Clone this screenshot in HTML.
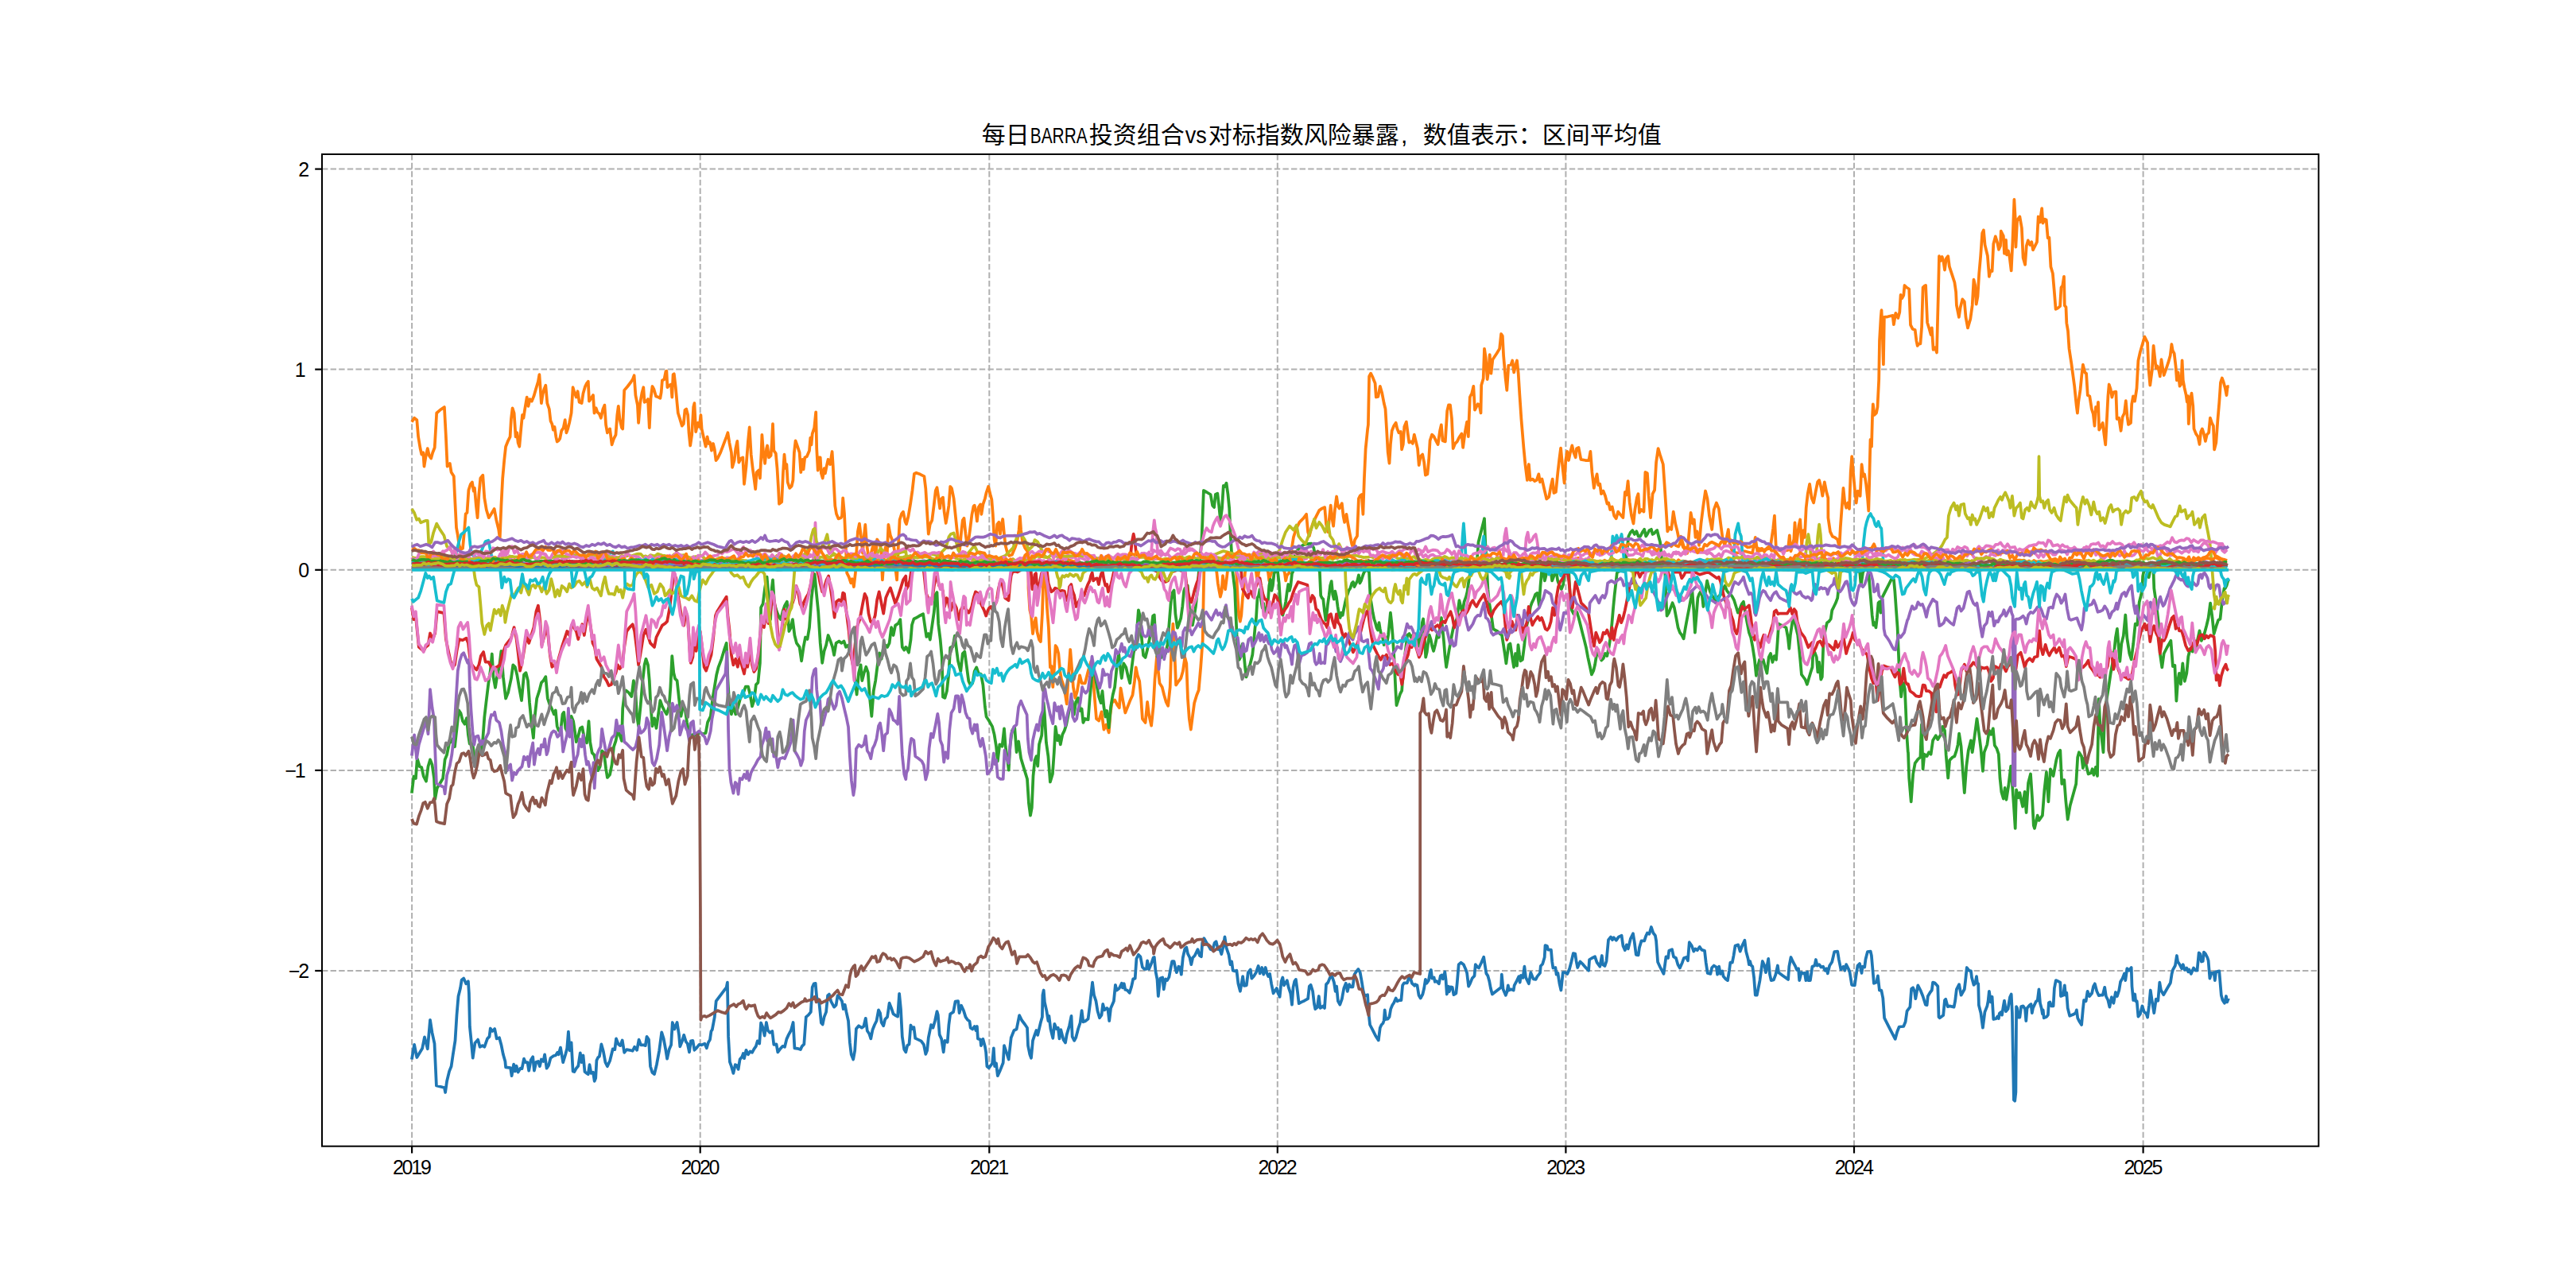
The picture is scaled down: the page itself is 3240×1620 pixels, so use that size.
<!DOCTYPE html>
<html><head><meta charset="utf-8"><title>BARRA</title>
<style>
html,body{margin:0;padding:0;background:#fff;}
body{width:3240px;height:1620px;overflow:hidden;}
svg{display:block}
text{font-family:"Liberation Sans","Noto Sans CJK SC",sans-serif;fill:#000}
.tk{font-size:25px;letter-spacing:-2.2px}
.g line{stroke:#b0b0b0;stroke-width:2;stroke-dasharray:7.4 3.2}
.t line{stroke:#000;stroke-width:2.2}
.L polyline{fill:none;stroke-width:3.75;stroke-linejoin:round;stroke-linecap:butt}
</style></head><body>
<svg width="3240" height="1620" viewBox="0 0 3240 1620">
<rect width="3240" height="1620" fill="#fff"/>
<g class="g"><line x1="518.1" y1="1441.7" x2="518.1" y2="194.0"/><line x1="880.7" y1="1441.7" x2="880.7" y2="194.0"/><line x1="1244.3" y1="1441.7" x2="1244.3" y2="194.0"/><line x1="1606.8" y1="1441.7" x2="1606.8" y2="194.0"/><line x1="1969.4" y1="1441.7" x2="1969.4" y2="194.0"/><line x1="2332.0" y1="1441.7" x2="2332.0" y2="194.0"/><line x1="2695.6" y1="1441.7" x2="2695.6" y2="194.0"/><line x1="405.0" y1="212.6" x2="2916.3" y2="212.6"/><line x1="405.0" y1="464.6" x2="2916.3" y2="464.6"/><line x1="405.0" y1="716.8" x2="2916.3" y2="716.8"/><line x1="405.0" y1="968.9" x2="2916.3" y2="968.9"/><line x1="405.0" y1="1221.0" x2="2916.3" y2="1221.0"/></g>
<clipPath id="c"><rect x="405.0" y="194.0" width="2511.3" height="1247.7"/></clipPath>
<g class="L" clip-path="url(#c)">
<polyline points="517.9,1332.5 521.1,1313.9 524.3,1330.0 527.3,1325.0 531.1,1318.8 534.0,1304.4 537.8,1319.3 541.0,1282.8 543.5,1298.9 546.5,1312.6 548.9,1365.5 558.9,1368.0 560.1,1374.0 562.1,1359.8 565.1,1347.4 567.6,1341.2 569.6,1327.5 572.5,1308.9 574.5,1276.6 576.5,1253.0 579.0,1243.0 580.7,1232.4 583.2,1230.6 586.2,1237.3 588.9,1234.3 589.9,1249.3 590.9,1291.5 592.9,1311.4 594.7,1330.7 597.4,1311.9 601.1,1307.6 603.6,1316.8 606.8,1315.1 609.3,1316.8 613.0,1306.4 615.5,1303.9 616.8,1293.5 619.3,1297.0 622.2,1294.0 624.7,1306.4 628.0,1305.2 630.4,1313.9 632.9,1326.3 635.4,1335.0 636.1,1342.4 642.1,1343.2 643.6,1353.1 646.1,1338.7 647.8,1347.4 649.6,1340.7 651.6,1348.6 654.5,1343.7 656.5,1344.2 659.0,1331.7 661.0,1336.2 663.5,1336.2 665.2,1346.6 667.7,1333.2 670.2,1329.3 671.9,1346.6 674.4,1335.7 676.9,1335.0 678.9,1341.2 680.9,1332.5 683.4,1335.0 685.1,1326.3 687.6,1343.7 690.1,1339.9 692.5,1330.7 696.3,1328.0 698.8,1327.5 701.2,1323.8 702.5,1326.3 705.0,1317.6 708.2,1336.2 711.2,1326.3 713.2,1318.8 714.9,1297.7 716.6,1321.3 718.6,1311.4 720.6,1347.4 722.4,1348.1 724.8,1343.7 727.3,1340.7 729.8,1324.3 731.6,1336.2 733.5,1327.5 735.5,1348.1 738.0,1349.9 739.8,1351.1 741.5,1339.2 743.5,1349.9 746.0,1348.6 747.7,1359.8 749.2,1356.1 750.4,1333.7 752.2,1330.0 753.9,1328.8 756.4,1313.4 758.9,1322.5 761.4,1336.2 763.9,1341.2 767.1,1334.2 770.8,1319.3 773.3,1320.1 775.0,1306.4 777.8,1313.4 780.2,1315.1 782.7,1308.4 785.2,1323.8 788.2,1320.1 791.9,1320.8 795.7,1321.8 798.1,1316.8 801.1,1320.8 803.6,1307.6 806.1,1314.3 809.3,1314.3 811.8,1315.1 813.5,1303.9 816.0,1307.6 818.0,1341.2 820.5,1349.1 823.0,1351.1 826.0,1338.7 829.2,1321.3 832.2,1298.4 834.7,1306.4 837.1,1319.3 839.1,1331.7 841.6,1320.1 844.1,1314.3 845.8,1286.0 848.3,1294.5 851.6,1286.0 854.0,1301.4 855.3,1316.3 857.8,1310.1 860.2,1301.9 862.7,1310.1 864.7,1312.6 867.0,1323.3 868.9,1309.4 871.4,1308.9 873.4,1320.8 876.4,1317.6 879.4,1313.9 882.6,1314.3 886.3,1312.6 888.8,1318.3 890.8,1311.4 893.0,1307.6 894.5,1297.0 895.8,1295.2 898.8,1279.1 900.7,1259.2 913.7,1241.8 914.9,1235.6 916.1,1303.9 917.9,1335.7 919.9,1341.2 922.4,1349.9 924.8,1339.2 926.8,1339.9 928.6,1344.9 930.6,1332.5 933.5,1328.8 934.8,1325.0 936.0,1331.2 938.5,1320.8 941.0,1326.3 943.5,1322.5 946.0,1323.8 948.4,1319.3 950.9,1315.8 952.7,1309.4 955.2,1312.6 957.1,1286.5 959.1,1291.5 961.6,1302.7 963.9,1286.0 965.8,1296.0 968.3,1298.9 971.3,1297.0 973.3,1313.9 976.5,1313.4 978.3,1323.3 980.7,1320.1 984.5,1315.8 987.0,1316.8 989.4,1306.9 991.9,1301.4 994.9,1296.0 997.6,1286.0 999.4,1318.3 1003.1,1318.8 1006.8,1320.1 1008.8,1315.8 1011.3,1313.4 1013.8,1279.1 1016.8,1276.6 1019.8,1272.9 1021.7,1241.8 1023.7,1237.3 1025.7,1236.8 1027.2,1254.2 1030.4,1261.7 1032.9,1286.5 1034.7,1288.5 1036.6,1279.1 1039.1,1272.9 1041.1,1252.2 1042.9,1250.5 1045.3,1259.7 1049.1,1266.6 1051.6,1264.2 1053.5,1252.2 1056.5,1255.5 1059.0,1259.2 1060.7,1269.1 1062.7,1263.7 1064.5,1272.9 1067.0,1284.0 1068.9,1311.4 1070.7,1326.3 1073.2,1332.5 1075.2,1321.3 1076.9,1294.0 1080.1,1290.2 1083.9,1292.7 1086.3,1291.0 1088.8,1280.8 1090.8,1296.5 1093.3,1300.2 1095.3,1306.4 1097.5,1295.2 1100.0,1289.0 1102.5,1284.0 1105.0,1270.4 1107.0,1274.1 1108.7,1286.0 1111.2,1290.2 1113.2,1282.0 1116.1,1279.1 1118.6,1261.7 1121.1,1267.9 1123.6,1275.3 1126.1,1277.1 1129.1,1278.6 1131.1,1249.8 1133.0,1269.1 1134.8,1303.9 1137.3,1320.1 1139.3,1323.3 1141.2,1315.1 1143.5,1313.4 1145.5,1289.5 1147.5,1294.0 1149.4,1292.0 1151.2,1305.9 1154.9,1307.6 1158.6,1309.4 1161.9,1313.9 1164.3,1325.8 1166.1,1321.3 1167.8,1305.2 1171.1,1289.0 1173.5,1292.7 1176.0,1284.0 1178.5,1272.1 1179.8,1276.6 1181.7,1301.4 1184.2,1306.9 1186.7,1323.3 1188.4,1308.9 1191.7,1310.9 1193.4,1289.0 1195.2,1275.3 1199.1,1272.9 1201.6,1259.7 1205.1,1259.2 1206.6,1274.1 1209.1,1264.7 1212.0,1271.1 1214.5,1279.1 1217.0,1282.8 1219.5,1284.5 1220.7,1292.7 1223.2,1294.5 1225.7,1291.0 1227.5,1296.0 1228.9,1291.0 1229.9,1306.4 1233.2,1307.6 1233.9,1315.1 1236.4,1306.9 1238.9,1316.3 1240.1,1323.3 1241.4,1341.2 1243.9,1343.2 1248.1,1337.5 1249.8,1318.3 1251.1,1341.2 1253.0,1337.5 1254.8,1353.1 1258.0,1346.1 1261.7,1336.7 1263.0,1315.1 1265.5,1322.5 1268.7,1332.5 1271.7,1305.2 1275.4,1296.0 1278.6,1294.5 1282.1,1277.1 1285.3,1283.5 1289.1,1288.5 1292.0,1292.7 1293.0,1315.1 1295.3,1326.3 1297.0,1330.7 1299.0,1308.9 1301.5,1301.4 1303.5,1296.0 1305.2,1301.9 1308.9,1286.0 1310.9,1279.1 1311.4,1251.7 1312.7,1245.5 1313.9,1260.4 1316.4,1271.6 1318.4,1284.0 1319.4,1277.8 1321.4,1294.0 1324.3,1305.9 1326.3,1287.8 1328.8,1294.0 1330.8,1292.7 1332.5,1306.4 1334.3,1295.2 1337.5,1307.6 1340.0,1311.4 1341.7,1301.4 1345.0,1290.2 1347.5,1277.8 1348.7,1303.9 1351.2,1308.9 1353.2,1305.2 1356.1,1294.0 1358.6,1286.5 1360.6,1271.1 1362.4,1285.3 1364.8,1284.5 1368.6,1281.6 1371.1,1261.7 1374.0,1235.6 1376.0,1251.7 1378.5,1259.2 1380.5,1271.6 1383.0,1280.3 1385.5,1276.6 1387.2,1262.9 1389.2,1270.4 1392.2,1267.9 1393.4,1269.1 1395.2,1284.0 1397.1,1267.9 1400.9,1259.2 1402.9,1238.8 1404.6,1245.5 1407.8,1243.0 1410.8,1236.8 1412.0,1242.3 1413.8,1237.3 1415.3,1244.8 1417.8,1245.5 1420.7,1248.8 1423.2,1240.6 1425.2,1231.4 1427.7,1230.6 1429.4,1205.8 1431.9,1200.8 1434.4,1203.3 1436.9,1216.5 1439.4,1218.9 1441.9,1218.9 1443.1,1208.3 1445.1,1218.9 1448.1,1212.0 1450.6,1204.5 1451.8,1204.0 1453.5,1221.9 1455.5,1231.9 1456.8,1253.0 1459.3,1230.6 1462.2,1229.4 1463.7,1244.3 1466.0,1231.4 1468.0,1233.1 1470.4,1228.9 1472.4,1218.2 1474.2,1209.0 1476.6,1209.0 1478.4,1218.2 1479.9,1223.2 1482.4,1215.7 1484.1,1216.5 1485.8,1225.7 1487.8,1204.5 1490.3,1193.4 1492.3,1191.6 1494.0,1199.6 1496.5,1204.5 1498.3,1213.2 1500.2,1204.5 1502.7,1202.0 1506.5,1194.1 1508.9,1202.0 1510.9,1203.3 1512.2,1185.9 1514.4,1180.2 1517.6,1185.9 1520.1,1189.6 1522.6,1194.1 1525.1,1195.1 1527.6,1185.9 1529.6,1184.2 1532.0,1194.1 1533.8,1192.6 1536.3,1200.1 1538.8,1189.6 1540.5,1178.4 1542.5,1192.1 1545.5,1200.8 1547.5,1213.2 1549.2,1209.5 1550.7,1220.7 1553.2,1221.4 1555.4,1220.7 1557.4,1237.3 1559.9,1246.8 1563.1,1228.1 1564.8,1239.8 1567.8,1239.3 1569.8,1223.2 1572.8,1219.4 1574.3,1230.6 1577.3,1227.4 1579.8,1223.2 1582.7,1215.0 1584.7,1224.4 1587.2,1217.0 1589.2,1225.7 1591.7,1217.0 1593.4,1223.9 1595.2,1228.1 1597.1,1224.9 1599.1,1237.3 1601.6,1249.3 1604.1,1245.5 1605.8,1243.0 1607.1,1248.0 1609.6,1253.7 1611.6,1234.3 1613.3,1229.4 1615.0,1239.3 1617.0,1236.3 1618.8,1233.1 1620.7,1241.8 1623.2,1249.3 1625.0,1263.7 1626.5,1241.8 1628.2,1234.3 1629.9,1231.9 1631.9,1246.8 1633.7,1262.2 1636.9,1260.4 1640.6,1258.7 1645.1,1256.2 1646.8,1240.6 1648.6,1238.8 1651.1,1246.8 1653.0,1262.9 1654.3,1269.1 1656.8,1267.1 1658.8,1253.0 1660.5,1267.9 1664.2,1265.4 1666.0,1267.9 1668.0,1238.1 1670.4,1235.6 1672.9,1229.4 1675.4,1228.1 1677.9,1235.6 1679.6,1246.8 1681.1,1240.6 1682.9,1259.2 1685.3,1263.7 1687.8,1256.7 1690.3,1243.0 1692.8,1236.8 1694.8,1246.8 1697.0,1238.1 1699.0,1241.3 1701.5,1241.3 1703.5,1225.7 1706.0,1221.9 1708.4,1218.9 1710.7,1223.2 1712.7,1234.3 1714.7,1246.8 1716.4,1253.0 1718.1,1251.7 1720.1,1251.2 1721.4,1274.1 1723.1,1289.0 1726.3,1295.2 1730.1,1302.7 1733.8,1308.4 1735.8,1292.7 1737.5,1289.0 1739.5,1287.0 1740.7,1283.5 1741.7,1270.4 1743.2,1282.0 1745.5,1281.6 1747.5,1279.1 1749.2,1269.1 1751.2,1264.2 1753.2,1261.2 1755.7,1255.5 1757.4,1259.2 1760.4,1258.0 1762.4,1258.0 1764.1,1239.3 1766.1,1236.3 1769.8,1236.3 1772.3,1228.9 1774.0,1230.6 1776.0,1236.8 1779.3,1239.8 1780.0,1238.1 1782.5,1239.3 1784.5,1251.7 1786.7,1255.5 1789.4,1250.5 1791.2,1243.0 1792.9,1231.9 1794.4,1236.8 1796.9,1233.1 1798.6,1223.2 1799.9,1219.9 1801.1,1230.6 1803.6,1229.4 1804.8,1234.8 1806.8,1233.9 1809.8,1237.3 1811.8,1227.4 1813.5,1226.4 1814.8,1231.4 1817.3,1222.4 1818.5,1231.9 1819.8,1250.5 1821.7,1240.6 1822.7,1247.3 1824.7,1241.3 1826.7,1241.8 1828.4,1251.2 1831.4,1249.3 1832.7,1236.8 1834.7,1213.2 1837.6,1210.7 1840.9,1213.2 1843.4,1218.9 1845.1,1223.9 1847.1,1240.6 1849.1,1236.8 1851.6,1230.6 1854.5,1227.4 1855.8,1213.2 1858.3,1216.5 1860.0,1217.5 1863.2,1210.7 1866.2,1203.8 1868.2,1217.0 1869.4,1224.4 1871.4,1227.4 1873.2,1233.9 1874.9,1243.0 1876.9,1250.5 1888.1,1241.8 1888.8,1225.7 1890.6,1244.3 1893.8,1251.7 1895.5,1247.3 1896.8,1239.3 1898.0,1245.5 1900.5,1244.3 1903.7,1245.5 1904.7,1239.3 1908.0,1233.1 1910.4,1228.1 1911.7,1235.6 1912.9,1226.9 1915.4,1229.9 1917.4,1215.7 1919.1,1229.4 1922.9,1237.3 1925.3,1223.2 1928.6,1231.4 1931.6,1231.9 1933.5,1228.1 1937.0,1223.9 1937.8,1215.0 1940.2,1212.5 1942.7,1204.0 1943.5,1189.1 1946.0,1190.1 1947.0,1194.6 1950.9,1194.6 1952.2,1209.5 1953.4,1217.5 1956.4,1217.0 1957.6,1225.7 1959.4,1223.9 1961.4,1236.8 1963.4,1245.5 1965.8,1223.2 1968.8,1223.2 1971.3,1224.9 1973.8,1219.4 1976.3,1210.0 1978.8,1199.1 1981.2,1199.6 1982.5,1208.3 1984.2,1217.0 1987.5,1209.5 1991.2,1213.2 1994.9,1217.5 1998.1,1220.7 1999.1,1207.0 2002.4,1205.0 2006.1,1203.3 2008.6,1210.7 2012.3,1215.7 2014.8,1202.0 2016.0,1213.2 2018.5,1215.0 2020.5,1209.0 2023.0,1182.2 2026.0,1178.4 2028.0,1182.2 2029.7,1179.2 2032.9,1182.7 2035.9,1178.4 2039.6,1176.7 2041.4,1189.6 2043.9,1195.1 2045.8,1188.4 2047.8,1193.4 2050.8,1180.9 2054.0,1174.2 2055.8,1185.2 2057.8,1200.8 2060.7,1201.3 2062.0,1191.6 2064.5,1183.4 2068.2,1183.4 2070.2,1177.2 2071.9,1173.5 2074.4,1174.7 2076.9,1166.0 2079.4,1173.5 2081.9,1176.7 2083.1,1183.4 2085.1,1210.0 2088.1,1216.5 2092.5,1224.9 2095.5,1203.3 2098.0,1205.0 2099.3,1195.8 2103.0,1194.1 2105.0,1203.3 2108.0,1205.0 2110.4,1213.2 2112.9,1217.5 2115.9,1210.7 2117.9,1205.0 2120.9,1204.0 2122.9,1208.3 2124.8,1185.2 2127.8,1189.6 2130.3,1196.6 2132.3,1193.4 2134.8,1195.1 2137.8,1190.9 2140.2,1194.6 2144.0,1195.8 2145.7,1210.7 2147.7,1223.9 2151.4,1224.9 2153.2,1217.0 2155.7,1214.5 2158.9,1216.5 2160.1,1225.7 2162.1,1215.7 2163.9,1224.9 2166.3,1221.4 2167.6,1228.1 2170.6,1231.4 2173.0,1233.1 2175.0,1220.7 2176.3,1210.7 2178.8,1210.7 2180.5,1202.0 2182.5,1189.6 2186.2,1188.4 2188.7,1196.6 2191.2,1189.6 2194.4,1182.7 2196.1,1196.6 2198.6,1205.8 2199.9,1213.2 2201.1,1209.0 2202.4,1214.0 2204.3,1215.7 2206.1,1229.4 2207.8,1251.7 2209.8,1251.7 2213.5,1233.1 2216.8,1209.0 2219.3,1214.5 2221.0,1223.2 2224.2,1205.8 2226.0,1225.7 2227.7,1233.1 2230.9,1232.4 2233.4,1225.7 2235.9,1214.5 2237.1,1223.2 2242.1,1226.9 2249.1,1231.9 2250.3,1215.7 2252.5,1204.0 2255.0,1209.5 2258.3,1215.7 2260.0,1219.9 2262.0,1218.2 2263.2,1233.1 2265.7,1223.2 2268.2,1224.4 2269.9,1223.9 2271.4,1233.1 2273.2,1222.4 2274.4,1233.1 2276.9,1233.1 2279.4,1215.7 2282.4,1214.5 2283.9,1207.0 2285.6,1214.5 2288.1,1213.2 2290.6,1216.5 2293.0,1215.7 2295.5,1220.7 2297.5,1218.2 2298.8,1224.4 2301.2,1214.5 2304.2,1210.0 2307.2,1197.1 2311.2,1196.6 2312.9,1207.0 2315.4,1219.4 2318.6,1215.7 2320.4,1220.7 2322.1,1213.2 2325.3,1219.4 2326.6,1223.2 2329.1,1238.8 2332.8,1239.3 2334.5,1226.9 2336.5,1214.5 2339.0,1212.0 2341.5,1223.9 2342.7,1215.7 2345.2,1216.5 2346.5,1206.5 2348.9,1197.1 2352.7,1196.6 2353.9,1202.0 2356.9,1236.8 2360.1,1235.6 2361.9,1227.4 2363.9,1245.5 2366.3,1245.5 2368.3,1255.5 2370.1,1280.3 2376.3,1292.7 2383.7,1306.9 2386.2,1297.7 2388.7,1291.5 2394.2,1291.0 2396.6,1285.3 2398.6,1271.6 2402.4,1266.6 2404.1,1243.8 2406.1,1242.3 2408.1,1247.3 2409.3,1256.2 2412.3,1239.3 2415.5,1245.5 2418.5,1253.0 2421.9,1263.7 2423.6,1264.2 2424.8,1253.0 2427.8,1248.0 2429.8,1245.5 2431.1,1235.6 2433.5,1236.3 2437.3,1240.6 2438.5,1279.1 2439.8,1280.3 2444.2,1277.1 2446.0,1258.0 2447.2,1256.7 2449.7,1266.1 2452.2,1265.4 2457.6,1266.6 2459.1,1259.2 2460.9,1244.3 2464.1,1238.1 2466.6,1251.7 2470.8,1244.3 2472.0,1234.3 2473.8,1217.0 2476.5,1220.7 2479.0,1221.4 2480.0,1229.4 2482.5,1238.8 2484.5,1236.8 2486.0,1228.1 2487.0,1236.8 2488.2,1237.3 2488.9,1264.2 2491.4,1274.1 2493.9,1292.7 2496.4,1272.9 2499.4,1265.4 2500.6,1259.2 2501.9,1246.8 2503.9,1260.4 2505.6,1253.7 2507.3,1282.0 2510.6,1281.1 2512.3,1278.6 2513.8,1281.1 2514.8,1274.6 2516.8,1272.9 2518.0,1276.6 2519.8,1265.4 2521.0,1258.7 2523.0,1272.1 2525.5,1269.1 2528.0,1254.2 2529.7,1250.5 2530.9,1274.1 2532.9,1383.4 2534.2,1384.7 2535.4,1373.5 2536.1,1266.1 2537.1,1267.9 2538.6,1279.6 2540.4,1279.6 2542.1,1266.1 2544.6,1265.4 2547.1,1269.1 2548.3,1284.0 2549.6,1267.9 2552.8,1264.2 2554.5,1262.9 2555.8,1274.1 2557.0,1267.9 2561.0,1259.2 2562.7,1258.7 2564.5,1244.3 2566.0,1261.7 2567.7,1267.9 2568.9,1275.3 2569.7,1270.4 2570.7,1280.3 2573.9,1279.1 2575.9,1276.6 2576.9,1261.2 2578.4,1260.4 2580.1,1265.4 2582.6,1265.4 2583.9,1243.0 2585.8,1233.1 2588.8,1234.3 2591.3,1235.6 2592.0,1253.0 2595.0,1251.7 2596.8,1239.3 2598.0,1251.7 2599.3,1248.8 2600.7,1267.9 2603.2,1277.8 2607.5,1276.1 2610.7,1274.1 2611.9,1270.4 2613.2,1280.3 2615.7,1285.3 2618.1,1289.0 2619.9,1269.1 2621.1,1258.0 2623.6,1259.2 2625.6,1246.8 2628.1,1253.0 2631.1,1249.3 2633.0,1240.6 2634.8,1237.3 2637.3,1246.8 2639.8,1252.2 2642.2,1251.7 2644.7,1251.7 2647.2,1241.8 2648.9,1253.0 2651.4,1258.0 2653.4,1266.6 2655.9,1254.2 2658.4,1261.7 2660.9,1248.0 2662.9,1253.0 2665.3,1245.5 2667.1,1234.8 2669.6,1230.6 2672.0,1224.4 2673.3,1233.1 2675.3,1218.2 2677.8,1220.7 2680.7,1217.0 2681.5,1240.6 2683.2,1258.0 2685.2,1250.5 2686.2,1259.2 2687.7,1259.2 2689.4,1278.6 2691.9,1275.3 2694.4,1265.4 2696.9,1272.9 2699.4,1274.6 2701.1,1279.6 2703.1,1264.2 2704.8,1245.5 2706.8,1259.2 2709.3,1274.1 2711.8,1256.7 2714.3,1258.7 2716.3,1235.6 2718.0,1245.5 2721.2,1251.2 2725.5,1243.8 2729.9,1236.3 2731.7,1224.4 2732.9,1219.9 2735.9,1214.5 2737.9,1202.0 2739.1,1209.5 2741.6,1213.2 2744.1,1218.2 2745.8,1213.2 2747.8,1219.9 2750.3,1217.5 2752.3,1222.4 2753.5,1219.4 2755.8,1224.9 2759.0,1217.5 2761.5,1220.7 2763.5,1220.7 2765.7,1198.3 2767.2,1199.6 2768.9,1209.5 2770.7,1209.0 2771.9,1197.6 2773.9,1199.6 2776.4,1204.5 2777.6,1208.3 2779.4,1230.6 2781.4,1223.9 2783.1,1224.4 2784.6,1223.2 2785.8,1233.1 2787.1,1222.4 2791.3,1221.4 2793.8,1251.7 2795.5,1258.0 2798.0,1261.7 2800.0,1253.0 2801.2,1260.4 2803.0,1255.5" stroke="#1f77b4"/>
<polyline points="517.9,530.7 521.1,525.7 524.3,528.2 526.1,549.3 528.6,564.2 530.3,571.7 532.3,569.2 533.5,586.6 535.3,575.4 537.8,564.2 539.8,572.9 542.2,576.6 544.2,569.2 546.7,563.0 549.2,519.5 553.4,515.8 558.9,512.0 560.9,549.3 562.6,586.6 565.8,582.9 567.6,594.0 570.8,599.0 572.5,633.8 574.0,663.6 575.8,673.5 577.5,686.0 579.5,690.9 582.0,689.7 584.0,668.6 585.7,646.2 587.5,645.0 589.4,616.4 591.9,608.9 593.9,606.5 595.7,617.6 596.9,613.9 598.9,636.3 600.6,651.2 602.4,621.4 604.3,601.5 607.3,597.8 609.3,626.3 611.8,641.2 614.8,651.2 618.0,646.2 621.7,640.0 624.2,653.7 627.2,666.1 628.7,677.3 630.4,636.3 632.2,601.5 634.2,579.1 636.1,561.7 639.1,554.3 641.6,549.3 642.9,527.0 644.6,513.3 646.6,519.5 648.6,549.3 650.3,544.3 651.6,556.8 653.3,561.7 655.3,539.4 657.0,522.0 658.5,525.7 660.2,514.5 662.7,499.6 664.5,510.8 666.5,502.1 668.9,504.6 671.4,498.4 673.9,489.7 676.9,479.8 678.4,471.1 679.4,484.7 680.9,507.1 682.6,495.9 684.3,489.7 686.3,484.7 688.3,507.1 690.8,514.5 692.5,529.4 694.3,533.2 695.8,540.6 697.5,536.9 699.3,549.3 700.7,555.5 702.5,554.3 704.2,551.8 706.2,541.9 708.7,538.1 710.7,528.2 712.4,544.3 714.2,539.4 716.1,531.9 718.6,519.5 720.6,487.2 722.4,493.4 724.8,499.6 726.6,492.2 728.6,505.8 731.6,507.1 733.5,494.7 736.0,486.0 738.0,482.2 739.8,479.8 741.0,504.6 743.5,500.9 746.0,497.1 747.5,519.5 749.7,513.3 751.4,518.3 753.9,520.7 755.9,525.7 758.4,514.5 760.4,509.6 762.1,534.4 763.9,544.3 767.1,539.4 769.6,559.3 772.0,551.8 774.5,546.8 776.3,522.0 777.8,510.8 779.5,527.0 782.0,538.1 783.2,539.4 785.2,490.9 789.4,486.0 793.2,481.0 795.7,477.3 797.6,472.3 799.4,497.1 801.9,509.6 803.1,531.9 805.1,507.1 807.6,493.4 809.3,487.2 810.6,505.8 813.0,504.6 815.0,502.1 816.8,538.1 818.5,500.9 820.5,486.0 822.5,489.7 825.0,498.4 828.0,499.6 830.4,500.9 831.7,493.4 832.9,478.5 835.4,477.3 837.4,467.3 838.4,466.8 839.4,487.2 841.6,484.7 844.1,483.5 845.3,499.6 846.6,471.1 847.8,470.3 849.8,487.2 851.6,507.1 852.8,519.5 854.8,525.7 857.8,535.7 859.8,533.2 861.5,515.8 863.2,514.5 865.2,522.0 866.5,544.3 868.2,560.5 870.2,546.8 872.2,512.0 873.4,507.1 875.2,543.1 877.6,531.9 879.6,536.9 881.4,522.0 882.6,539.4 885.1,550.6 887.6,561.7 889.6,549.3 891.3,558.0 893.0,556.3 895.0,566.7 897.0,558.0 898.8,565.5 900.5,579.1 902.5,576.6 906.2,569.2 909.9,559.3 913.7,549.3 915.4,544.3 917.4,556.8 919.9,569.2 921.1,587.8 923.6,579.1 925.3,564.2 927.3,554.8 929.3,581.6 931.8,576.6 934.3,575.4 936.0,608.9 938.5,586.6 941.0,554.3 942.7,537.4 944.7,571.7 946.7,589.1 948.4,601.5 950.2,615.2 951.7,594.0 954.2,591.6 955.9,601.5 957.6,569.2 958.4,546.8 960.1,569.2 962.1,582.9 964.1,564.2 965.1,560.5 967.1,575.4 969.6,572.9 970.8,556.8 972.0,533.2 973.3,566.7 975.8,570.4 977.5,589.1 979.0,613.9 980.0,633.8 983.2,631.3 985.0,594.0 986.5,571.7 988.2,589.1 989.4,584.1 990.7,606.5 993.2,613.9 995.7,611.4 997.4,604.0 998.9,569.2 1000.6,554.3 1003.1,561.7 1005.6,569.2 1007.3,594.0 1009.3,577.9 1010.6,590.3 1012.3,575.4 1014.8,574.2 1018.0,566.7 1019.3,550.6 1020.5,559.3 1021.7,545.6 1024.2,538.1 1026.2,518.3 1027.2,564.2 1028.7,591.6 1030.4,575.4 1031.7,575.4 1032.9,595.3 1034.7,601.5 1036.6,589.1 1037.9,595.3 1039.6,586.6 1041.6,577.9 1044.1,584.1 1046.6,568.0 1047.8,586.6 1049.1,613.9 1050.3,636.3 1052.0,646.2 1054.5,652.4 1057.8,651.2 1059.0,648.7 1060.2,626.3 1062.0,646.2 1063.5,678.5 1065.2,720.7 1067.7,725.7 1070.2,733.2 1071.9,728.2 1073.9,738.1 1075.9,720.7 1077.6,688.4 1078.9,668.6 1080.9,658.6 1083.4,678.5 1085.1,695.9 1086.3,678.5 1088.3,659.9 1090.1,684.7 1092.5,700.9 1095.0,698.4 1097.5,688.4 1099.3,683.5 1101.2,700.9 1103.2,678.5 1106.2,683.5 1108.2,690.9 1109.9,729.4 1111.7,703.4 1113.7,688.4 1115.7,698.4 1117.4,659.9 1119.9,673.5 1122.4,679.8 1124.8,690.9 1126.1,713.3 1128.1,729.4 1129.8,688.4 1131.6,653.7 1134.0,646.2 1136.0,643.7 1138.5,656.1 1140.0,659.3 1142.5,649.3 1145.0,634.4 1147.5,617.0 1149.9,595.9 1152.4,594.7 1157.4,596.6 1162.4,599.1 1164.3,614.5 1166.1,644.3 1167.8,671.7 1169.8,659.3 1172.3,654.3 1174.8,634.4 1176.8,617.0 1178.5,613.3 1180.2,624.5 1182.2,639.4 1183.5,628.2 1186.0,625.7 1187.7,644.3 1189.7,658.0 1191.7,646.8 1193.4,635.7 1195.2,612.0 1197.1,614.5 1199.6,627.0 1201.6,646.8 1203.4,664.2 1205.1,679.1 1207.1,691.6 1209.1,669.2 1210.8,654.3 1212.5,651.8 1214.5,671.7 1216.5,686.6 1218.3,679.1 1220.0,666.7 1222.5,646.8 1224.5,636.9 1225.7,635.7 1227.5,644.3 1228.9,655.5 1230.7,638.1 1233.2,634.4 1234.4,646.8 1236.4,634.4 1238.9,627.0 1240.6,619.5 1243.1,612.0 1245.6,622.0 1247.3,628.2 1248.8,646.8 1250.6,679.1 1252.3,686.6 1254.3,659.3 1256.3,656.8 1258.0,671.7 1259.8,659.3 1261.2,653.0 1263.0,671.7 1264.7,686.6 1266.7,694.0 1269.2,699.0 1272.9,697.8 1276.6,689.1 1279.1,681.6 1281.6,666.7 1282.9,649.3 1284.1,666.7 1286.1,681.6 1289.1,689.1 1292.8,694.0 1293.5,713.9 1293.5,740.0 1295.3,767.3 1297.0,774.8 1299.0,797.1 1301.0,783.5 1302.7,777.3 1304.5,794.7 1307.0,804.6 1308.9,807.1 1310.9,772.3 1312.2,731.3 1313.4,713.9 1315.2,728.8 1316.9,763.6 1318.9,789.7 1320.9,839.4 1322.6,838.1 1324.3,864.2 1326.3,835.7 1327.6,812.0 1329.3,814.5 1331.3,822.0 1333.3,844.3 1335.0,854.3 1337.5,861.7 1340.0,874.2 1341.7,885.3 1343.7,851.8 1346.2,817.0 1348.2,841.9 1349.9,864.2 1352.4,877.9 1354.9,869.2 1358.1,849.3 1360.6,859.3 1364.8,859.3 1368.6,844.3 1372.3,831.9 1374.8,849.3 1376.5,874.2 1379.0,904.0 1382.2,906.5 1385.5,895.3 1388.4,917.6 1391.4,911.4 1394.7,921.4 1396.4,899.0 1398.4,884.1 1402.1,880.4 1405.3,886.6 1407.8,890.3 1409.6,865.5 1412.0,879.1 1415.3,896.5 1418.3,889.1 1421.2,881.6 1424.5,874.2 1427.0,856.8 1428.7,839.4 1430.7,849.3 1433.2,856.8 1435.2,879.1 1436.9,904.0 1440.6,908.9 1443.1,882.9 1445.1,899.0 1448.1,912.7 1450.6,889.1 1452.5,854.3 1455.0,825.7 1456.8,844.3 1458.5,859.3 1461.7,864.2 1464.2,874.2 1466.7,882.9 1469.2,887.8 1471.7,864.2 1473.4,814.5 1475.4,784.7 1477.4,822.0 1479.1,861.7 1482.4,856.8 1485.3,853.0 1487.8,844.3 1490.3,827.0 1492.3,834.4 1494.0,879.1 1495.8,904.0 1497.8,917.6 1500.2,899.0 1502.2,884.1 1505.2,874.2 1507.7,868.0 1510.2,839.4 1512.7,804.6 1513.9,740.0 1514.3,719.5 1515.5,705.5 1520.2,699.3 1526.4,702.4 1530.3,719.5 1531.8,733.5 1533.4,742.8 1534.9,750.6 1536.5,744.3 1538.0,724.2 1539.6,736.6 1541.1,741.2 1542.7,728.8 1543.8,719.5 1546.6,705.5 1551.2,702.4 1555.1,719.5 1556.7,752.1 1558.2,773.9 1559.8,781.6 1561.3,773.9 1562.9,752.1 1564.4,741.2 1566.0,719.5 1569.9,705.5 1577.6,704.0 1580.0,719.5 1581.5,733.5 1583.1,719.5 1588.5,705.5 1595.0,719.5 1596.3,730.4 1597.8,724.2 1599.4,719.5 1607.1,705.5 1615.7,719.5 1617.2,730.4 1618.8,723.4 1621.1,721.1 1622.7,713.3 1623.2,699.0 1627.0,675.4 1630.7,664.2 1634.4,656.8 1639.4,651.8 1643.1,646.8 1645.1,669.2 1646.8,674.2 1649.3,664.2 1651.8,656.8 1655.5,649.3 1659.3,641.9 1663.0,639.4 1666.2,638.1 1668.0,659.3 1670.4,669.2 1672.2,649.3 1673.7,635.7 1675.4,651.8 1677.1,661.7 1679.1,639.4 1681.1,624.5 1682.9,636.9 1684.6,639.4 1687.8,633.2 1689.6,649.3 1691.1,656.8 1693.5,646.8 1695.3,658.0 1697.8,671.7 1700.2,684.1 1702.0,689.1 1704.0,679.1 1707.0,674.2 1708.9,627.0 1710.9,623.2 1712.7,622.0 1714.4,646.8 1715.9,602.1 1717.6,564.8 1720.1,540.0 1720.9,534.3 1722.1,473.4 1724.1,469.7 1726.6,474.7 1729.6,482.1 1730.8,499.5 1733.3,499.0 1735.8,485.8 1738.3,494.5 1740.7,507.0 1742.5,514.4 1744.0,539.3 1745.7,569.1 1747.5,582.7 1748.9,559.1 1750.7,541.7 1753.2,535.5 1755.7,531.8 1757.4,539.3 1759.4,544.2 1761.9,543.0 1763.1,565.3 1764.8,559.1 1766.3,536.8 1768.8,530.6 1770.6,544.2 1772.3,556.6 1774.8,555.4 1776.8,557.9 1778.8,546.7 1781.2,556.6 1783.0,564.1 1784.7,585.2 1786.7,574.0 1789.2,571.6 1791.2,581.5 1792.9,597.6 1795.4,596.4 1797.1,579.0 1798.6,554.2 1801.1,546.7 1803.6,549.2 1806.6,555.4 1808.6,559.1 1811.1,541.7 1812.8,534.3 1814.5,554.2 1817.8,555.4 1820.2,516.9 1822.0,509.4 1824.0,509.4 1826.0,526.8 1827.7,564.1 1830.2,557.9 1832.7,555.4 1835.2,550.4 1838.4,545.5 1840.1,562.9 1842.6,544.2 1845.1,530.6 1846.8,549.2 1848.8,499.5 1851.3,494.5 1853.3,485.8 1855.0,515.7 1858.8,508.2 1860.7,509.4 1862.5,519.4 1863.2,484.6 1865.7,475.9 1867.0,438.6 1868.7,449.8 1870.7,477.1 1872.4,464.7 1873.7,446.1 1875.4,469.7 1877.4,452.3 1882.4,444.8 1886.1,438.6 1888.1,420.0 1889.8,422.5 1891.1,447.3 1893.5,474.7 1895.3,490.8 1897.3,459.8 1900.5,458.5 1902.2,453.5 1904.2,468.4 1906.0,459.8 1908.0,453.5 1909.7,469.7 1911.4,497.0 1913.4,526.8 1916.4,562.9 1918.4,584.0 1920.9,603.9 1922.9,584.0 1924.6,603.9 1927.8,602.6 1930.3,605.1 1932.8,603.9 1935.3,596.4 1937.0,606.3 1939.5,602.6 1942.0,613.8 1945.2,627.5 1948.2,625.0 1950.7,611.3 1952.7,602.6 1954.4,620.0 1956.9,618.8 1959.4,593.9 1961.1,579.0 1963.1,563.6 1965.1,585.2 1967.6,607.6 1969.3,579.0 1971.1,567.8 1973.0,579.0 1975.0,569.1 1977.3,560.4 1979.3,569.1 1981.7,575.3 1983.0,564.1 1985.5,562.9 1988.4,577.8 1994.2,579.0 1998.4,579.0 2000.4,567.8 2002.4,593.9 2004.8,613.8 2006.6,603.9 2008.6,596.4 2010.3,610.1 2012.3,608.8 2014.0,621.2 2016.5,617.5 2019.0,623.7 2021.5,633.7 2023.2,632.4 2025.2,641.1 2027.7,637.4 2030.2,648.6 2032.7,652.3 2035.2,643.6 2038.1,647.3 2041.4,651.1 2043.9,618.8 2045.6,622.5 2047.6,605.1 2049.6,631.2 2052.0,648.6 2054.5,658.5 2056.3,641.1 2058.8,626.2 2060.5,621.2 2062.0,644.8 2064.5,641.1 2067.5,643.6 2069.4,593.9 2071.9,595.2 2073.7,623.7 2076.1,651.1 2078.6,621.2 2081.1,616.3 2083.1,581.5 2085.6,564.1 2087.8,571.6 2091.8,584.0 2093.5,608.8 2095.3,636.1 2097.3,668.4 2099.8,663.5 2102.2,666.0 2104.7,643.6 2107.2,658.5 2109.7,668.4 2111.7,678.4 2114.2,674.7 2116.6,683.4 2119.6,693.3 2122.1,695.8 2124.6,668.4 2126.6,644.8 2129.1,658.5 2130.8,653.5 2132.5,675.9 2134.5,668.4 2137.0,685.8 2139.5,658.5 2142.0,638.6 2145.0,617.5 2147.5,627.5 2149.9,648.6 2153.2,666.0 2155.7,641.1 2158.9,632.4 2161.9,639.9 2164.3,659.8 2166.8,678.4 2169.3,685.8 2171.8,675.9 2173.8,666.0 2175.5,683.4 2178.8,693.3 2184.2,695.8 2194.2,693.3 2204.1,695.8 2207.8,675.9 2210.3,693.3 2221.5,690.8 2226.5,689.6 2230.2,664.7 2231.9,648.6 2233.9,690.8 2241.4,693.3 2248.8,692.0 2250.8,673.4 2252.5,693.3 2256.3,678.4 2257.5,657.3 2259.3,685.8 2262.5,661.0 2264.2,653.5 2266.2,685.8 2268.2,667.2 2269.9,675.9 2271.7,638.6 2273.7,621.2 2276.1,608.8 2278.6,626.2 2281.1,632.4 2283.6,618.8 2286.1,606.3 2288.1,603.9 2290.6,613.8 2292.3,623.7 2294.8,606.3 2297.3,618.8 2299.3,626.2 2299.4,651.2 2301.9,668.6 2304.8,674.8 2307.8,676.0 2311.1,678.5 2313.5,688.4 2314.8,663.6 2316.8,636.3 2318.5,613.9 2320.2,631.3 2322.2,638.8 2324.2,632.5 2326.0,640.0 2327.7,594.0 2329.2,574.2 2330.9,594.0 2332.7,613.9 2334.7,632.5 2336.6,617.6 2339.6,623.9 2341.6,584.1 2343.4,599.0 2345.1,596.5 2347.1,608.9 2349.1,627.6 2350.3,642.5 2351.6,589.1 2352.5,553.0 2354.0,561.7 2355.0,524.5 2355.8,508.3 2357.5,522.0 2360.0,519.5 2361.5,512.0 2363.2,477.3 2364.0,428.6 2365.7,398.8 2366.5,390.1 2367.7,418.6 2368.9,458.4 2369.9,398.8 2374.4,398.3 2380.6,396.8 2381.9,408.2 2384.3,393.8 2387.3,400.0 2389.3,392.5 2390.6,370.9 2392.3,375.2 2394.3,371.4 2395.5,359.0 2398.0,361.5 2401.2,363.5 2403.0,408.7 2405.5,413.7 2408.7,414.9 2410.4,428.6 2411.7,434.8 2413.7,432.3 2415.4,432.3 2417.1,411.2 2418.6,361.5 2420.4,359.8 2422.1,359.0 2424.1,405.7 2426.6,413.7 2428.6,421.1 2429.8,412.4 2431.6,439.8 2434.0,437.3 2436.0,443.5 2437.8,373.9 2439.0,322.2 2441.0,328.0 2442.7,323.0 2444.5,329.2 2446.0,339.6 2447.7,325.5 2450.2,322.2 2451.9,335.4 2455.2,345.3 2458.4,355.3 2460.1,367.0 2460.9,383.9 2463.9,398.8 2465.8,386.3 2468.3,376.4 2470.8,379.4 2472.5,398.8 2475.0,412.4 2478.3,401.2 2480.7,383.9 2482.5,351.6 2484.2,359.0 2485.7,382.6 2487.5,372.7 2489.2,344.1 2491.2,321.7 2493.2,293.2 2494.9,289.4 2496.6,308.1 2499.9,321.7 2501.9,347.8 2503.6,340.4 2505.6,341.1 2507.3,306.8 2509.8,297.4 2512.3,305.6 2514.0,313.8 2516.0,309.3 2516.8,290.7 2519.8,296.9 2521.0,318.8 2523.0,301.9 2524.0,320.5 2526.0,315.5 2527.7,324.2 2529.7,340.4 2531.4,304.3 2533.4,250.9 2534.7,274.5 2535.4,310.6 2537.1,277.0 2540.4,272.5 2542.9,287.0 2544.6,324.2 2547.1,332.9 2548.8,309.3 2550.8,302.4 2553.3,308.1 2555.3,304.3 2557.0,314.3 2559.5,309.3 2562.0,304.3 2563.7,272.5 2565.7,279.5 2568.2,262.1 2569.4,280.7 2571.9,275.8 2573.7,276.5 2575.7,299.4 2577.4,298.9 2579.4,335.4 2581.9,344.1 2583.6,364.0 2585.6,388.8 2588.1,387.6 2591.1,385.1 2592.5,361.5 2594.3,359.0 2596.0,347.8 2596.8,384.3 2598.5,386.3 2599.3,406.2 2601.0,416.1 2602.5,438.5 2605.5,458.4 2609.2,485.7 2611.7,510.6 2612.9,519.5 2614.2,505.8 2616.6,489.7 2618.4,471.1 2619.9,458.6 2622.4,468.6 2624.1,469.8 2625.8,497.1 2628.3,498.4 2630.8,514.5 2632.8,520.7 2634.5,535.7 2636.0,512.0 2637.8,517.0 2639.0,505.8 2640.2,540.6 2642.2,536.9 2644.7,531.9 2646.5,546.8 2648.2,559.3 2650.2,522.0 2651.4,498.4 2652.7,483.5 2654.7,489.7 2656.4,499.6 2658.1,493.4 2661.4,492.7 2662.6,527.0 2665.1,525.7 2667.6,541.9 2669.6,524.5 2672.0,519.5 2673.8,504.1 2675.5,523.2 2677.0,533.9 2680.0,531.9 2681.2,508.3 2683.0,498.4 2685.0,504.6 2686.2,497.1 2687.5,488.4 2689.4,453.7 2691.9,442.5 2694.9,432.3 2697.4,423.6 2701.1,431.1 2702.4,463.4 2704.3,484.5 2706.8,465.8 2708.6,434.8 2710.3,450.9 2711.8,463.4 2713.5,460.4 2715.3,465.8 2716.8,473.3 2718.5,452.2 2720.2,463.4 2721.7,472.0 2724.7,463.4 2727.2,455.9 2729.7,447.2 2731.4,433.0 2732.7,441.0 2734.7,444.7 2736.6,460.9 2737.9,478.3 2739.6,468.3 2741.6,485.7 2743.4,483.2 2744.6,453.4 2745.8,478.3 2747.6,488.2 2749.6,496.9 2750.8,505.6 2752.0,498.1 2752.8,533.2 2754.5,505.8 2756.5,494.7 2758.3,510.8 2759.5,539.4 2762.0,545.6 2764.5,549.3 2766.5,558.8 2768.2,543.1 2769.9,539.4 2771.9,545.6 2773.9,554.8 2775.7,546.8 2778.1,544.3 2779.9,525.7 2781.9,531.9 2783.9,535.7 2785.1,565.5 2787.3,556.8 2789.3,529.4 2791.3,505.8 2793.0,481.0 2794.8,475.5 2796.8,481.0 2798.8,488.4 2800.5,497.1 2801.7,486.0 2803.7,486.0" stroke="#ff7f0e"/>
<polyline points="517.9,997.6 520.4,976.5 522.9,979.0 524.8,954.2 527.8,964.1 530.3,965.3 532.8,976.5 536.0,982.7 538.5,964.1 541.0,955.4 543.5,961.6 546.0,979.0 547.2,1005.1 549.7,991.4 553.4,985.2 557.1,979.0 559.6,955.4 562.1,949.2 565.1,934.3 567.6,933.0 569.6,929.3 572.0,939.3 574.5,916.9 577.0,893.3 579.5,897.0 582.0,907.0 584.5,910.7 587.0,903.2 588.9,924.3 590.7,935.5 594.4,935.5 596.9,954.2 599.4,961.6 601.9,944.2 604.3,946.7 607.3,929.3 609.3,902.0 611.3,884.6 614.3,859.8 616.8,843.6 618.8,822.5 620.5,851.2 623.0,864.8 625.5,848.7 628.0,838.8 630.4,818.9 632.9,851.2 636.1,878.5 639.1,871.1 642.9,853.7 645.3,836.3 647.8,838.8 650.3,848.7 652.8,863.6 656.0,881.0 659.0,848.7 661.5,846.2 664.0,856.1 666.0,883.5 668.4,908.3 670.9,928.2 672.7,900.9 675.2,878.5 678.4,868.6 680.9,858.6 683.4,856.1 686.3,851.2 688.8,878.5 691.3,886.0 693.8,890.9 696.8,898.4 698.8,893.4 700.7,913.3 702.5,918.3 705.0,920.7 707.5,898.4 709.2,895.9 711.2,915.8 713.7,920.7 716.1,910.8 718.6,900.9 721.1,907.1 723.1,920.7 724.8,933.2 727.3,925.7 729.8,915.8 732.3,914.5 734.8,928.2 738.0,934.4 740.5,907.1 742.2,933.2 744.7,946.8 747.2,949.3 749.7,959.3 752.2,969.2 754.7,964.2 757.1,944.3 759.6,946.8 762.1,966.7 763.9,977.9 767.1,974.2 769.6,961.7 772.0,939.4 774.5,931.9 777.0,919.5 779.5,924.5 782.0,931.9 783.2,890.9 785.7,871.1 787.7,868.6 790.7,871.1 794.4,876.0 796.9,856.1 799.4,871.1 801.1,900.9 803.1,913.3 805.6,888.4 808.1,858.6 810.6,836.3 812.5,828.8 815.0,836.3 816.8,856.1 818.5,888.4 820.5,913.3 823.0,903.4 825.5,915.8 828.0,898.4 830.4,881.0 832.9,888.4 835.4,893.4 838.4,898.4 841.6,888.4 843.4,863.6 845.3,825.1 847.3,846.2 849.1,853.7 851.6,856.1 854.0,878.5 856.5,900.9 859.0,888.4 861.5,890.9 864.0,908.3 866.5,920.7 868.9,925.7 872.7,923.2 876.4,925.7 880.1,920.7 883.9,923.2 887.6,922.0 890.1,908.3 893.8,900.9 896.3,878.5 898.8,863.6 901.2,848.7 903.7,838.8 907.5,828.8 911.2,816.4 913.7,808.9 915.4,853.7 917.4,888.4 919.9,898.4 922.4,888.4 925.3,898.4 927.8,890.9 931.1,878.5 934.3,873.5 937.8,863.6 941.0,863.6 943.5,873.5 946.0,888.4 948.4,881.0 950.9,861.1 953.4,858.6 955.9,833.8 957.1,764.2 959.6,759.3 962.1,739.4 964.6,725.7 966.6,749.3 969.1,779.1 970.8,739.4 972.0,729.4 974.0,759.3 977.0,769.2 979.5,775.4 982.0,779.1 984.5,769.2 987.0,761.7 989.9,756.8 992.4,794.0 994.9,789.1 996.9,779.1 999.4,799.0 1001.9,808.9 1005.6,813.9 1008.1,831.3 1010.6,813.9 1013.0,801.5 1015.5,804.0 1018.0,789.1 1020.5,754.3 1023.0,731.9 1024.7,722.0 1026.7,744.3 1029.2,769.2 1031.7,808.9 1034.2,833.8 1036.6,818.9 1039.1,811.4 1041.6,799.0 1044.6,806.5 1047.1,813.9 1049.1,823.9 1051.6,808.9 1055.3,806.5 1058.5,808.9 1061.5,806.5 1064.0,813.9 1067.0,811.4 1070.2,823.9 1072.7,831.3 1075.2,853.7 1077.6,873.5 1080.1,846.2 1082.6,836.3 1084.3,856.1 1086.8,846.2 1089.3,838.8 1091.8,846.2 1093.8,876.0 1096.3,900.9 1098.8,868.6 1101.2,856.1 1103.7,836.3 1106.2,821.4 1108.7,828.8 1111.2,813.9 1113.7,811.4 1116.1,813.9 1118.6,808.9 1121.1,789.1 1123.6,799.0 1126.1,786.6 1129.8,784.1 1132.3,779.1 1134.8,813.9 1137.3,817.6 1139.3,813.9 1140.0,814.5 1143.0,820.7 1145.5,804.6 1147.0,786.0 1149.4,778.5 1151.9,777.3 1156.1,774.8 1161.1,772.3 1163.6,789.7 1165.3,800.9 1167.8,797.1 1169.8,804.6 1172.3,787.2 1174.8,769.8 1176.8,747.5 1178.5,745.0 1180.2,784.7 1182.7,804.6 1184.7,827.0 1186.0,876.6 1188.4,877.9 1190.9,869.2 1193.4,846.8 1195.2,814.5 1198.4,813.3 1200.9,799.6 1203.4,819.5 1205.1,831.9 1208.3,844.3 1210.8,822.0 1213.3,819.5 1215.8,838.1 1218.3,856.8 1220.7,861.7 1223.2,859.3 1225.7,844.3 1228.2,839.4 1230.7,846.8 1233.9,848.1 1236.4,861.7 1238.9,889.1 1240.6,901.5 1243.9,906.5 1248.1,913.9 1250.6,923.9 1253.0,938.8 1254.8,957.4 1257.3,936.3 1260.5,938.8 1263.0,916.4 1264.7,938.8 1267.2,956.1 1268.7,968.6 1270.4,938.8 1272.9,918.9 1276.1,913.9 1278.6,946.2 1281.1,932.5 1284.1,953.7 1287.8,966.1 1292.0,979.8 1294.0,1010.8 1296.0,1025.7 1297.8,1015.8 1299.5,976.0 1301.5,956.1 1303.5,951.2 1305.2,963.6 1307.0,936.3 1310.2,925.1 1312.7,884.1 1313.9,899.0 1315.9,933.8 1318.4,951.2 1320.9,983.5 1323.9,973.5 1325.8,946.2 1327.6,913.9 1330.1,931.3 1331.8,925.1 1333.8,936.3 1336.3,923.9 1338.8,918.9 1341.2,911.4 1343.7,899.0 1346.2,886.6 1348.7,881.6 1350.7,899.0 1353.2,882.9 1356.1,877.9 1358.6,894.0 1360.6,891.6 1362.4,908.9 1364.8,904.0 1368.6,905.2 1370.6,879.1 1373.0,854.3 1374.8,839.4 1377.3,849.3 1379.8,864.2 1382.2,876.6 1384.7,884.1 1386.5,869.2 1388.4,889.1 1390.4,901.5 1392.2,894.0 1394.7,915.2 1397.1,889.1 1399.6,874.2 1402.1,864.2 1404.6,839.4 1407.1,822.0 1409.6,844.3 1410.8,853.0 1413.3,834.4 1416.3,839.4 1418.8,850.6 1421.2,859.3 1423.2,841.9 1425.7,822.0 1428.2,809.6 1430.2,789.7 1431.9,767.3 1434.4,777.3 1436.1,804.6 1438.1,824.5 1440.6,827.0 1443.1,817.0 1445.6,804.6 1448.1,792.2 1450.1,774.8 1451.8,773.5 1453.5,804.6 1455.5,825.7 1458.5,824.5 1460.5,827.0 1463.0,820.7 1466.0,822.0 1468.4,810.8 1470.9,779.8 1472.9,754.9 1474.9,745.0 1476.6,742.5 1478.4,772.3 1480.9,789.7 1482.9,784.7 1485.3,777.3 1487.3,762.4 1489.1,743.7 1490.3,740.0 1493.8,736.6 1496.9,777.0 1500.0,786.3 1501.6,777.0 1503.9,763.0 1506.2,741.2 1507.8,719.5 1511.4,679.1 1512.7,646.8 1513.9,617.0 1517.6,619.0 1522.6,622.0 1525.1,635.7 1527.1,638.1 1528.8,622.0 1531.3,620.7 1533.0,634.4 1535.0,654.3 1537.0,639.4 1538.8,610.8 1540.5,612.0 1542.5,607.6 1544.5,622.0 1546.2,639.4 1547.5,669.2 1548.7,689.1 1550.4,718.9 1553.1,741.2 1554.3,770.7 1555.6,798.7 1557.1,818.9 1558.7,829.8 1560.2,826.6 1561.3,814.2 1562.9,809.6 1564.4,822.0 1566.0,839.1 1567.5,851.5 1569.1,845.3 1570.7,839.1 1572.2,836.0 1573.8,829.8 1575.3,823.5 1576.9,808.0 1578.4,790.9 1580.0,777.0 1581.5,752.1 1583.1,749.0 1584.6,741.2 1586.2,755.2 1587.7,764.5 1589.3,759.1 1590.8,770.7 1592.9,767.6 1594.7,758.3 1596.3,736.6 1597.8,728.8 1599.4,742.8 1600.9,736.6 1602.5,721.1 1603.7,719.5 1605.6,716.4 1607.1,719.5 1608.7,733.5 1610.2,756.8 1611.8,767.6 1613.4,773.9 1615.7,764.5 1617.2,756.8 1618.8,744.3 1620.3,735.0 1621.9,742.8 1623.4,736.6 1625.0,721.1 1626.1,719.5 1624.5,711.4 1627.0,704.0 1630.7,694.0 1634.4,689.1 1639.4,685.3 1644.3,684.1 1649.3,683.6 1652.3,689.1 1654.3,699.0 1656.8,711.4 1659.9,719.5 1661.2,749.0 1662.7,752.1 1664.3,753.7 1665.8,767.6 1667.4,780.1 1668.5,773.9 1670.0,759.9 1671.6,749.0 1673.1,736.6 1674.7,731.1 1676.2,747.5 1677.8,753.7 1679.3,743.6 1680.9,750.6 1682.5,763.0 1684.0,772.3 1685.6,777.0 1687.1,770.7 1688.7,773.9 1690.2,766.1 1691.8,758.3 1693.3,752.1 1694.9,747.5 1696.4,742.8 1698.4,739.7 1700.3,733.5 1701.9,731.9 1703.4,738.1 1705.0,735.0 1707.3,730.4 1708.9,723.4 1710.4,733.5 1712.0,730.4 1714.0,724.2 1715.8,719.5 1718.9,716.4 1722.0,719.5 1723.6,752.1 1725.2,761.4 1726.7,770.7 1728.3,778.5 1729.8,783.2 1731.4,789.4 1732.9,792.5 1734.5,783.2 1735.7,790.9 1737.3,798.7 1739.1,801.8 1740.7,811.1 1742.5,801.8 1744.6,808.0 1746.1,798.7 1747.7,783.2 1748.9,770.7 1750.3,783.2 1751.6,798.7 1753.1,822.0 1754.3,845.3 1755.4,868.6 1756.5,887.2 1758.5,881.0 1760.9,873.2 1763.2,868.6 1764.8,845.3 1766.3,829.8 1768.3,814.2 1770.2,798.7 1772.5,797.1 1774.8,801.8 1777.2,798.7 1779.5,801.8 1781.8,798.7 1783.4,804.9 1784.9,812.7 1787.3,798.7 1788.8,783.2 1790.1,778.5 1791.6,798.7 1793.2,826.6 1794.7,820.4 1796.3,808.0 1797.8,798.7 1799.7,804.9 1801.2,812.7 1803.1,818.9 1805.1,811.1 1806.7,803.4 1808.2,795.6 1809.8,801.8 1811.3,789.4 1812.9,777.0 1814.4,790.9 1816.0,806.5 1817.5,825.1 1819.1,839.1 1820.7,829.8 1822.7,817.3 1824.5,808.0 1826.1,798.7 1828.0,789.4 1830.0,783.2 1832.3,778.5 1833.9,767.6 1835.4,755.2 1837.3,763.0 1839.3,770.7 1841.6,756.8 1843.9,750.6 1845.5,744.3 1847.8,727.3 1849.4,719.5 1857.1,713.3 1864.9,714.8 1870.3,719.5 1871.4,741.2 1872.7,755.2 1874.2,764.5 1875.8,773.9 1878.1,790.9 1880.4,792.5 1883.5,794.0 1886.6,797.1 1889.0,798.7 1891.0,811.1 1892.9,823.5 1894.4,834.4 1896.0,822.0 1897.5,811.1 1899.5,809.6 1900.2,814.2 1902.5,829.8 1904.1,839.1 1906.1,822.0 1908.0,837.5 1909.5,811.1 1911.1,823.5 1912.6,831.3 1914.9,829.8 1917.3,811.1 1918.8,795.6 1920.4,786.3 1922.7,777.0 1925.0,763.0 1926.6,758.3 1928.9,753.7 1931.2,747.5 1933.6,745.9 1935.9,761.4 1937.5,736.6 1939.0,719.5 1941.3,719.5 1942.9,730.4 1945.2,721.1 1946.8,719.5 1950.7,719.5 1952.2,730.4 1954.5,724.2 1956.1,719.5 1957.6,719.5 1959.2,730.4 1961.5,736.6 1963.9,741.2 1966.2,735.0 1967.7,719.5 1973.2,719.5 1974.7,749.0 1977.0,767.6 1979.4,772.3 1981.7,767.6 1983.7,770.7 1985.6,777.0 1987.9,786.3 1990.2,795.6 1992.6,804.9 1994.9,814.2 1997.2,826.6 1999.6,837.5 2001.9,848.4 2004.2,843.7 2006.1,836.0 2007.6,826.6 2009.7,817.3 2012.0,825.1 2014.3,830.5 2016.6,828.2 2019.0,822.0 2021.3,825.1 2023.6,814.2 2026.0,798.7 2027.5,783.2 2029.1,764.5 2030.6,749.0 2032.2,735.0 2033.7,721.1 2034.5,719.5 2050.8,713.3 2074.1,711.7 2094.3,719.5 2095.1,744.3 2096.6,774.6 2098.9,770.7 2101.3,764.5 2103.6,758.3 2105.9,764.5 2108.3,777.0 2110.6,789.4 2112.9,795.6 2115.2,798.7 2117.6,803.4 2119.9,789.4 2122.2,777.0 2124.6,764.5 2126.9,752.1 2128.4,742.8 2130.3,767.6 2131.9,795.6 2133.4,777.0 2135.4,752.1 2137.0,747.5 2139.0,744.3 2140.9,749.0 2142.4,763.0 2144.0,752.1 2145.5,741.2 2147.1,730.4 2148.6,736.6 2151.0,744.3 2153.3,749.0 2155.6,752.1 2158.0,758.3 2160.3,752.1 2162.6,749.0 2164.9,747.5 2167.3,741.2 2169.6,736.6 2171.9,742.8 2174.3,745.9 2176.6,747.5 2178.9,750.6 2181.2,755.2 2183.6,763.0 2185.9,770.7 2188.2,766.1 2190.6,759.9 2192.9,756.8 2195.2,770.7 2197.5,783.2 2199.9,795.6 2202.2,801.8 2204.5,814.2 2206.9,829.8 2208.9,849.9 2210.7,839.1 2213.1,829.8 2215.4,832.9 2217.7,829.8 2220.1,839.1 2222.4,846.8 2224.7,826.6 2227.0,822.0 2229.4,832.9 2231.7,825.1 2234.0,829.8 2235.6,808.0 2237.1,784.7 2240.2,786.3 2243.4,787.8 2246.5,789.4 2248.8,801.8 2250.3,815.8 2251.9,798.7 2254.2,783.2 2256.6,778.5 2258.9,789.4 2261.2,798.7 2262.8,814.2 2264.3,829.8 2265.9,848.4 2268.2,851.5 2270.5,854.6 2272.9,860.8 2275.2,853.0 2277.5,845.3 2279.5,839.1 2280.2,823.5 2282.5,820.4 2284.8,826.6 2286.4,845.3 2288.0,832.9 2290.3,854.6 2291.8,851.5 2293.4,808.0 2295.7,792.5 2298.0,783.2 2300.4,781.6 2302.7,778.5 2304.3,767.6 2306.6,763.0 2308.9,758.3 2311.2,752.1 2312.8,736.6 2314.3,719.5 2326.8,713.3 2339.2,719.5 2340.7,736.6 2343.1,719.5 2347.0,714.8 2350.1,719.5 2351.6,736.6 2353.2,755.2 2354.7,773.9 2356.3,786.3 2357.8,783.2 2359.4,789.4 2360.9,777.0 2362.5,758.3 2364.0,756.8 2365.6,770.7 2367.1,752.1 2370.2,745.9 2373.4,739.7 2376.5,733.5 2379.6,727.3 2381.9,728.8 2383.4,744.3 2385.0,767.6 2386.6,789.4 2387.6,814.2 2388.9,845.3 2390.1,863.9 2391.2,876.3 2392.8,863.9 2394.3,859.3 2395.9,867.0 2397.0,891.9 2398.2,922.9 2399.8,946.2 2400.0,946.2 2401.2,978.5 2403.7,1008.3 2406.2,973.5 2408.7,959.9 2412.4,954.9 2415.4,952.4 2416.9,911.4 2418.6,967.3 2420.4,948.7 2423.6,951.2 2426.1,946.2 2428.6,948.7 2431.1,931.3 2434.8,925.1 2437.3,930.1 2441.0,923.9 2443.5,913.9 2446.0,918.9 2447.7,949.9 2450.2,978.5 2452.2,956.1 2455.9,952.4 2458.4,951.2 2460.9,943.7 2462.6,936.3 2464.1,922.6 2466.6,938.8 2468.3,963.6 2470.8,997.1 2473.3,963.6 2475.8,943.7 2479.0,931.3 2480.7,946.2 2483.2,928.8 2486.5,904.0 2488.9,921.4 2491.4,941.2 2493.9,969.8 2495.7,946.2 2499.4,936.3 2501.9,918.9 2504.3,923.9 2506.8,916.4 2508.8,937.5 2511.3,941.2 2513.8,948.7 2515.5,978.5 2517.3,995.9 2519.8,1004.6 2521.7,990.9 2523.5,1005.8 2526.2,988.4 2529.2,963.6 2530.9,986.0 2532.9,1013.3 2534.7,1041.9 2536.1,993.4 2538.6,1003.4 2540.4,997.1 2542.1,1005.8 2544.1,1014.5 2546.6,995.9 2548.6,1022.0 2551.1,984.7 2554.0,973.5 2556.0,1003.4 2557.8,1038.1 2559.0,1041.9 2562.7,1025.7 2564.5,1031.9 2568.9,1025.7 2571.4,993.4 2573.9,971.1 2576.4,1008.3 2578.9,967.3 2582.6,976.0 2586.3,956.1 2588.8,947.5 2591.3,943.7 2593.3,986.0 2596.3,981.0 2598.3,1007.1 2600.7,1030.7 2603.7,1013.3 2611.2,986.0 2613.2,952.4 2614.9,946.2 2618.1,951.2 2619.9,966.1 2621.6,953.7 2623.6,961.1 2626.6,973.5 2629.8,972.3 2631.6,967.3 2633.5,974.8 2636.0,964.8 2638.0,976.0 2639.8,879.1 2641.5,913.9 2643.5,928.8 2645.5,946.2 2647.2,899.0 2649.7,879.1 2652.2,864.2 2654.7,846.8 2658.4,827.0 2660.9,802.1 2662.9,790.9 2664.6,812.0 2666.3,831.9 2668.3,809.6 2670.8,799.6 2673.3,773.5 2675.3,802.1 2678.3,822.0 2680.7,829.4 2683.2,809.6 2685.7,784.7 2688.2,786.0 2690.7,757.4 2693.2,747.5 2694.4,740.0 2695.1,724.9 2696.3,719.1 2697.4,717.9 2699.2,716.2 2700.9,717.9 2702.7,726.1 2704.4,717.9 2706.5,716.2 2708.5,717.9 2709.3,740.0 2712.5,762.4 2715.0,784.7 2716.8,822.0 2719.3,839.4 2721.7,822.0 2725.5,814.5 2730.4,805.8 2732.9,838.1 2735.4,836.9 2737.4,881.6 2739.1,856.8 2740.9,846.8 2742.9,860.5 2745.3,834.4 2747.8,856.8 2750.3,846.8 2752.3,825.7 2754.8,815.8 2757.8,819.5 2760.2,812.0 2762.7,814.5 2764.0,804.6 2766.5,793.4 2768.9,805.8 2772.2,798.4 2775.2,787.2 2777.6,777.3 2780.1,758.6 2782.6,777.3 2784.6,797.1 2787.6,787.2 2790.1,779.8 2792.5,778.5 2795.0,754.9 2797.5,740.0 2798.7,740.1 2800.5,736.6 2802.2,730.8 2803.4,728.4" stroke="#2ca02c"/>
<polyline points="1857.5,709.3 1859.5,682.0 1862.0,672.0 1864.5,662.1 1867.0,652.2 1868.2,682.0 1869.9,709.3" stroke="#2ca02c"/>
<polyline points="2044.6,709.3 2048.3,674.5 2050.8,669.6 2053.3,667.1 2055.8,672.0 2058.3,668.3 2060.7,674.5 2063.2,674.5 2065.7,669.6 2068.2,665.8 2070.2,674.5 2071.9,672.0 2074.4,667.1 2076.9,665.8 2078.6,672.0 2080.6,670.8 2082.6,668.3 2084.3,667.1 2086.1,674.5 2088.1,682.0 2090.6,709.3" stroke="#2ca02c"/>
<polyline points="517.9,764.2 520.4,779.1 522.9,774.2 524.8,794.0 526.8,813.9 529.8,816.4 532.8,818.9 535.3,813.9 538.5,811.4 541.0,796.5 544.2,804.0 547.2,796.5 549.7,769.2 558.4,771.2 560.9,804.0 563.4,816.4 566.6,831.3 569.6,838.8 572.0,836.3 574.5,818.9 577.5,804.0 582.0,805.2 586.5,802.7 588.9,808.9 591.9,833.8 595.7,838.8 599.4,842.5 602.4,836.3 604.8,825.1 608.1,820.1 610.6,832.5 614.3,832.5 618.0,838.8 621.7,840.0 625.5,838.8 628.7,836.3 631.7,823.9 636.1,811.4 642.9,802.7 646.6,789.1 649.6,804.0 652.0,823.9 654.0,843.7 656.5,833.8 659.0,818.9 662.0,799.0 665.2,808.9 671.4,789.1 674.4,769.2 676.9,761.7 679.4,781.6 681.4,811.4 684.3,801.5 686.8,791.6 689.3,799.0 691.8,823.9 694.3,838.8 697.5,836.3 700.0,838.8 703.2,826.3 706.7,813.9 709.9,804.0 713.2,794.0 716.1,799.0 719.1,786.6 721.6,789.1 724.8,794.0 727.3,804.0 729.8,791.6 732.3,785.3 734.8,799.0 738.0,779.1 740.5,774.2 743.0,789.1 745.5,808.9 748.0,813.9 750.4,828.8 753.4,833.8 756.4,838.8 759.6,851.2 762.9,856.1 765.8,862.4 768.8,861.1 771.3,853.7 774.5,846.2 777.0,836.3 779.5,841.2 782.7,836.3 785.2,813.9 788.2,794.0 791.9,789.1 795.7,785.3 798.1,794.0 800.6,813.9 803.1,836.3 806.1,818.9 809.3,799.0 812.5,791.6 815.5,801.5 818.0,808.9 820.5,811.4 823.0,813.9 825.5,801.5 829.2,794.0 832.9,786.6 836.6,784.1 839.1,781.6 842.4,764.2 845.3,739.4 847.8,722.0 850.3,727.0 852.8,749.3 855.3,764.2 857.8,779.1 860.2,786.6 862.7,769.2 865.2,779.1 867.2,813.9 868.9,833.8 871.4,826.3 873.2,801.5 875.7,818.9 878.1,799.0 880.6,794.0 883.1,813.9 885.6,838.8 888.1,843.7 891.3,833.8 894.5,823.9 897.0,804.0 900.0,774.2 902.0,769.2 913.7,750.6 915.4,774.2 917.4,791.6 919.9,823.9 922.4,836.3 925.3,828.8 927.8,838.8 930.3,826.3 932.8,836.3 936.0,847.5 937.8,836.3 940.2,838.8 943.5,818.9 946.0,836.3 948.4,845.0 950.9,841.2 953.4,826.3 955.9,801.5 958.4,779.1 960.9,789.1 963.4,774.2 966.6,784.1 969.1,769.2 971.6,749.3 974.0,756.8 976.5,774.2 979.0,804.0 980.7,813.9 984.0,786.6 986.5,766.7 988.9,779.1 992.4,769.2 995.7,761.7 998.9,751.8 1001.4,736.9 1003.9,744.3 1006.3,759.3 1008.8,764.2 1011.3,756.8 1013.8,751.8 1016.8,746.8 1019.8,734.4 1022.2,719.5 1024.7,702.1 1026.7,714.5 1029.2,722.0 1031.7,734.4 1034.2,744.3 1036.6,739.4 1039.6,729.4 1042.1,724.5 1044.6,739.4 1047.1,756.8 1049.6,776.6 1052.0,756.8 1055.3,754.3 1058.5,756.8 1060.2,745.6 1062.0,746.8 1064.5,769.2 1067.7,794.0 1070.2,823.9 1072.7,836.3 1075.2,813.9 1077.6,789.1 1081.4,779.1 1085.1,759.3 1087.6,746.8 1090.1,751.8 1092.5,771.7 1095.0,781.6 1097.5,784.1 1100.7,774.2 1103.2,754.3 1105.7,744.3 1108.2,756.8 1111.2,771.7 1114.2,751.8 1117.4,744.3 1119.9,739.4 1123.1,749.3 1126.1,759.3 1129.8,749.3 1133.0,739.4 1136.0,729.4 1139.3,724.5 1140.0,741.2 1142.3,736.6 1144.3,730.4 1145.9,719.5 1150.9,714.8 1157.1,713.3 1161.7,716.4 1164.8,745.9 1167.2,752.1 1170.3,755.2 1172.6,753.7 1174.9,736.6 1177.3,725.7 1179.6,728.8 1181.1,736.6 1183.5,739.7 1185.8,742.8 1188.1,763.0 1190.5,752.1 1192.0,753.7 1194.3,764.5 1196.2,767.6 1198.2,758.3 1200.6,759.9 1202.9,764.5 1204.9,777.0 1206.5,779.3 1208.3,767.6 1210.7,763.0 1213.0,764.5 1216.1,767.6 1218.4,770.7 1220.4,767.6 1222.3,763.0 1224.6,752.1 1227.0,744.3 1229.3,745.9 1231.6,749.0 1233.2,758.3 1235.5,763.0 1237.8,767.6 1240.2,774.6 1242.5,767.6 1244.3,764.5 1246.4,763.0 1248.7,767.6 1251.0,761.4 1253.4,756.8 1255.7,741.2 1258.0,731.9 1260.3,733.5 1262.7,744.3 1264.2,752.1 1266.6,753.7 1268.6,755.2 1270.1,736.6 1271.7,724.2 1273.5,719.5 1276.6,718.7 1279.8,719.5 1287.5,714.8 1296.8,719.5 1298.4,741.2 1299.9,735.0 1301.5,722.6 1303.0,721.1 1304.6,739.7 1306.5,741.2 1308.5,728.8 1310.0,721.1 1311.6,719.5 1317.0,719.5 1318.6,733.5 1320.1,738.1 1322.5,744.3 1324.8,742.8 1327.1,739.7 1329.4,740.5 1332.5,743.6 1335.7,742.8 1338.8,743.6 1341.1,755.2 1343.4,752.1 1345.0,738.1 1347.3,735.0 1348.9,742.8 1351.2,749.0 1353.5,763.0 1355.8,758.3 1358.2,753.7 1360.5,750.6 1363.6,749.0 1365.9,741.2 1368.3,735.0 1370.6,730.4 1372.1,724.2 1373.7,720.3 1375.2,730.4 1377.6,728.0 1379.9,727.3 1381.9,735.0 1383.5,727.3 1385.3,721.1 1386.9,719.5 1388.4,728.8 1390.3,736.6 1392.3,735.0 1393.9,744.3 1395.4,741.2 1397.0,736.6 1398.5,730.4 1400.9,719.5 1411.7,713.3 1427.3,711.7 1442.8,713.3 1456.8,719.5 1458.3,725.7 1461.4,730.4 1466.1,731.9 1469.2,730.4 1471.5,724.2 1473.9,719.5 1481.6,716.4 1490.6,719.5 1492.2,733.5 1494.0,744.3 1496.4,753.7 1498.4,757.5 1500.0,752.1 1502.3,742.8 1504.7,735.0 1507.0,728.8 1508.5,721.1 1509.3,719.5 1515.5,708.6 1531.1,707.1 1546.6,708.6 1559.0,713.3 1561.3,719.5 1562.9,741.2 1565.2,744.3 1567.5,749.0 1569.9,752.1 1571.7,742.8 1573.8,744.3 1576.1,750.6 1578.4,741.2 1580.7,735.0 1583.1,728.8 1584.6,727.3 1586.2,736.6 1588.5,747.5 1590.8,753.7 1593.2,754.4 1594.7,764.5 1597.0,770.7 1599.4,767.6 1601.7,755.2 1603.3,748.2 1605.6,750.6 1607.9,756.8 1610.2,764.5 1612.1,772.3 1614.1,770.0 1616.5,766.1 1618.8,763.0 1621.1,758.3 1623.4,755.2 1625.8,747.5 1628.1,741.2 1630.4,736.6 1632.8,731.9 1637.4,733.5 1644.4,735.8 1646.0,752.1 1648.3,756.8 1650.6,749.0 1653.0,752.1 1655.3,766.1 1657.6,767.6 1659.9,773.9 1662.3,780.1 1664.6,783.2 1666.9,784.7 1669.3,789.4 1671.6,773.9 1673.9,772.3 1676.2,781.6 1678.6,789.4 1680.9,772.3 1683.2,783.2 1685.6,786.3 1687.9,795.6 1690.2,801.8 1692.5,797.1 1694.9,801.8 1697.2,808.0 1699.5,814.2 1701.9,820.4 1704.2,815.8 1706.5,811.1 1708.9,804.9 1711.2,795.6 1713.5,786.3 1715.8,777.0 1718.2,770.7 1720.5,767.6 1722.8,786.3 1725.2,801.8 1727.5,812.7 1729.8,817.3 1732.1,822.0 1734.5,826.6 1736.8,829.8 1739.1,825.1 1741.5,826.6 1743.8,823.5 1746.1,829.8 1748.4,836.0 1751.6,834.4 1753.9,839.1 1756.2,845.3 1758.5,848.4 1760.9,846.8 1763.2,860.8 1764.8,853.0 1766.3,839.1 1768.6,829.8 1771.0,823.5 1773.3,811.1 1775.6,814.2 1778.0,804.9 1780.3,811.1 1782.6,818.9 1784.9,826.6 1787.3,822.0 1789.6,812.7 1791.9,803.4 1794.3,798.7 1796.6,792.5 1798.9,789.4 1801.2,792.5 1803.6,790.9 1805.9,787.8 1808.2,786.3 1810.6,789.4 1812.9,783.2 1815.2,781.6 1817.5,783.2 1819.9,777.0 1822.2,773.9 1824.5,769.2 1826.9,777.0 1829.2,789.4 1831.5,783.2 1833.9,777.0 1836.2,773.9 1838.5,770.7 1840.8,767.6 1843.2,772.3 1845.5,769.2 1847.8,764.5 1850.2,758.3 1852.5,755.2 1854.8,759.9 1857.1,763.0 1860.2,756.8 1863.4,752.1 1866.5,747.5 1869.6,758.3 1872.7,770.7 1875.8,775.4 1878.9,767.6 1883.5,761.4 1888.2,756.8 1891.3,763.0 1893.6,789.4 1895.2,804.9 1897.5,798.7 1899.5,790.9 1901.7,781.6 1904.1,789.4 1906.4,792.5 1908.7,773.9 1911.1,777.0 1913.4,783.2 1915.7,795.6 1918.0,789.4 1920.4,783.2 1922.7,763.0 1925.0,777.0 1927.4,786.3 1929.7,781.6 1932.0,778.5 1934.3,775.4 1936.7,780.1 1939.0,777.0 1941.3,783.2 1943.7,790.9 1946.0,792.5 1948.3,789.4 1950.7,781.6 1953.0,764.5 1955.3,773.9 1957.6,752.1 1960.0,738.1 1962.3,731.9 1964.6,728.8 1967.0,724.2 1969.3,719.5 1971.6,720.3 1973.2,730.4 1975.5,752.1 1977.8,764.5 1980.2,742.8 1981.7,731.9 1984.0,739.7 1986.4,749.0 1988.7,758.3 1991.8,761.4 1994.9,764.5 1998.0,770.7 2000.3,786.3 2002.7,801.8 2005.0,812.7 2007.3,795.6 2009.7,801.8 2012.0,808.0 2014.3,804.9 2016.6,795.6 2019.0,797.1 2021.3,792.5 2023.6,798.7 2026.0,803.4 2027.5,789.4 2029.8,804.9 2032.2,790.9 2034.5,783.2 2036.8,773.9 2039.2,783.2 2041.5,777.0 2043.8,767.6 2045.4,759.9 2046.9,752.1 2048.5,744.3 2050.0,735.0 2052.4,733.5 2054.7,728.8 2057.0,719.5 2060.1,719.5 2062.5,725.7 2064.8,721.1 2081.9,714.8 2098.2,719.5 2100.5,730.4 2102.8,724.2 2105.2,719.5 2112.9,719.5 2115.2,727.3 2117.6,724.2 2119.9,719.5 2131.6,719.5 2134.7,721.1 2137.8,722.6 2148.6,719.5 2159.5,727.3 2161.8,725.7 2164.2,731.9 2166.5,742.8 2168.8,752.1 2171.1,758.3 2173.5,763.0 2175.8,766.1 2177.4,773.9 2179.7,780.1 2182.0,792.5 2184.3,797.1 2186.7,789.4 2189.0,770.7 2191.3,763.0 2193.7,766.1 2196.0,764.5 2198.3,763.0 2199.9,761.4 2202.2,777.0 2204.5,795.6 2206.9,804.9 2209.2,798.7 2211.5,808.0 2213.9,814.2 2216.2,804.9 2218.5,798.7 2220.8,801.8 2223.2,804.9 2225.5,798.7 2227.8,790.9 2230.2,783.2 2231.7,769.2 2234.0,767.6 2236.4,772.3 2238.7,771.5 2243.4,771.5 2248.0,771.5 2250.3,767.6 2251.9,764.5 2254.2,772.3 2256.6,766.1 2258.9,769.2 2260.4,781.6 2262.8,789.4 2265.1,795.6 2267.4,798.7 2269.8,801.8 2272.1,808.0 2274.4,814.2 2276.7,811.1 2279.5,808.0 2279.4,822.0 2281.7,818.9 2284.1,814.2 2286.4,808.0 2289.5,806.5 2292.6,812.7 2294.9,801.8 2297.3,809.6 2300.4,811.1 2303.5,814.2 2306.6,817.3 2308.9,806.5 2311.2,814.2 2313.6,811.1 2315.9,806.5 2319.0,803.4 2322.1,822.0 2324.4,814.2 2326.8,808.0 2329.1,801.8 2330.7,795.6 2333.0,804.9 2336.1,808.0 2339.2,811.1 2342.3,817.3 2345.4,820.4 2348.5,823.5 2351.6,842.2 2353.9,853.0 2356.3,859.3 2359.4,857.7 2361.7,881.0 2364.0,860.8 2367.1,843.7 2369.5,837.5 2373.4,839.1 2378.0,839.8 2381.1,846.8 2383.4,851.5 2385.8,845.3 2388.1,846.8 2389.7,860.8 2392.0,857.7 2394.3,840.6 2396.6,857.7 2399.0,860.8 2400.0,860.5 2402.5,869.2 2406.2,871.7 2409.9,875.4 2413.7,876.1 2416.1,875.4 2418.6,861.7 2421.1,862.2 2422.9,869.2 2426.1,869.2 2429.3,871.7 2431.1,889.1 2434.3,889.1 2435.3,895.3 2437.3,861.7 2439.8,864.2 2442.2,856.8 2445.2,849.3 2447.7,851.8 2449.7,847.3 2453.4,845.6 2457.1,843.1 2459.1,861.7 2461.6,874.2 2464.1,872.9 2466.6,844.3 2470.8,835.7 2473.3,844.3 2475.8,840.6 2479.5,836.9 2482.0,833.2 2484.5,835.7 2487.0,838.1 2489.4,849.3 2491.9,839.4 2495.7,840.6 2499.4,839.4 2501.9,845.6 2504.3,856.8 2506.8,853.0 2509.3,838.1 2511.8,839.4 2514.8,841.9 2516.8,835.7 2520.5,839.4 2523.0,844.3 2525.5,838.1 2528.0,835.7 2530.4,827.0 2532.2,839.4 2535.4,841.9 2537.9,824.5 2541.6,820.7 2544.1,829.4 2546.6,839.4 2549.1,831.9 2552.8,828.2 2556.5,831.9 2559.0,826.5 2562.7,825.7 2565.2,793.4 2567.0,814.5 2569.4,823.2 2572.7,810.8 2575.2,819.5 2577.6,824.5 2580.1,819.5 2583.9,814.5 2586.3,820.7 2590.1,814.5 2593.3,825.7 2596.3,824.5 2598.8,838.1 2601.7,825.7 2606.2,827.0 2611.2,829.4 2616.1,836.9 2619.9,839.4 2623.6,835.7 2626.6,830.7 2628.6,838.1 2632.3,843.1 2636.0,849.3 2638.5,848.1 2641.5,851.8 2644.7,849.3 2647.2,846.8 2650.9,838.1 2653.4,817.0 2655.9,822.0 2658.4,841.9 2660.9,827.0 2663.4,839.4 2667.1,849.3 2670.8,850.6 2673.3,851.8 2677.0,854.3 2680.7,853.0 2684.5,831.9 2688.2,817.0 2690.7,803.4 2693.2,793.4 2695.7,788.4 2697.6,784.7 2699.4,792.2 2701.9,786.0 2704.3,807.1 2706.8,793.4 2709.3,787.2 2711.8,795.9 2714.3,800.9 2716.8,822.0 2719.3,804.6 2721.7,805.8 2724.2,800.9 2728.0,788.4 2731.7,777.3 2734.2,774.8 2736.6,790.9 2739.1,784.7 2740.9,793.4 2744.1,793.4 2746.6,802.1 2749.1,812.0 2752.3,818.3 2755.3,817.0 2757.8,810.8 2760.2,805.8 2763.2,810.8 2766.5,799.6 2770.2,798.4 2772.7,803.4 2775.2,799.6 2777.6,802.1 2780.1,799.1 2784.6,800.9 2786.3,819.5 2787.6,855.5 2790.1,849.3 2791.8,862.2 2793.8,850.6 2796.3,841.9 2799.5,835.7 2801.2,841.9 2803.0,843.1" stroke="#d62728"/>
<polyline points="1422.0,699.0 1423.7,681.6 1425.7,671.7 1427.2,679.1 1429.4,699.0" stroke="#d62728"/>
<polyline points="517.9,950.4 521.1,924.3 524.1,954.2 526.8,936.8 529.8,926.8 533.5,914.4 536.0,907.0 538.5,923.1 541.0,867.2 543.5,889.6 546.0,904.5 547.2,941.7 548.9,985.2 553.4,987.7 558.4,990.2 559.6,998.4 562.1,975.3 565.8,962.9 568.3,949.2 570.8,926.8 573.3,884.6 575.8,843.6 578.3,831.2 580.7,823.7 583.2,821.2 585.7,827.5 588.2,833.7 589.9,829.9 590.9,864.7 592.4,892.0 594.4,919.4 596.4,936.8 598.1,926.8 601.4,925.6 604.3,936.8 606.3,931.8 608.1,936.3 610.6,929.3 614.3,921.9 616.3,905.7 618.0,899.0 620.5,899.5 622.2,895.8 624.2,905.7 628.0,908.9 630.4,919.4 632.9,936.8 636.1,949.2 637.9,969.1 639.6,964.1 642.1,961.6 644.1,981.5 646.6,971.6 649.1,974.0 651.6,969.1 654.0,966.6 656.5,964.1 659.0,951.7 661.0,955.4 663.5,951.7 665.2,964.1 667.0,949.2 670.2,934.3 671.9,961.6 673.9,949.2 676.9,941.7 678.9,949.2 680.9,936.8 683.4,939.3 685.1,929.3 687.6,949.2 689.3,944.2 691.3,929.3 693.8,921.9 696.3,919.4 698.8,920.6 701.2,926.8 703.7,924.3 705.7,914.4 708.2,945.5 710.7,934.3 713.2,924.3 714.9,890.8 716.6,926.8 718.6,905.7 720.6,941.7 722.4,964.1 724.8,954.2 726.6,949.2 729.1,929.3 731.6,939.3 733.5,924.3 736.0,949.2 738.0,961.6 739.8,957.9 741.5,964.1 744.7,979.0 746.5,959.1 747.7,991.4 749.2,966.6 750.9,949.2 753.4,943.0 755.4,939.3 757.1,916.9 759.6,931.8 761.4,941.7 763.9,948.0 767.1,936.8 769.6,928.1 773.3,924.3 775.3,905.7 777.8,919.4 780.2,913.2 782.0,921.9 783.2,913.2 785.2,933.0 788.2,935.5 791.9,939.3 796.1,943.0 799.4,939.3 801.9,929.3 803.6,913.2 806.1,921.9 809.3,919.4 811.8,915.7 813.5,903.2 816.0,909.4 818.0,939.3 820.5,959.1 823.0,962.9 826.0,954.2 829.2,936.8 832.2,895.8 834.7,911.9 837.1,929.3 839.1,944.2 841.6,926.8 844.1,916.9 845.8,884.6 848.3,894.5 851.6,887.1 854.0,905.7 855.3,924.3 857.8,915.7 860.2,907.0 862.7,915.7 864.7,919.4 867.0,931.8 868.9,909.4 871.9,907.0 873.4,923.1 876.4,921.9 879.4,919.4 882.6,923.1 886.3,926.8 888.8,935.5 891.3,929.3 893.8,919.4 895.5,904.5 898.0,892.0 900.5,868.4 912.4,847.3 914.4,820.0 914.4,821.2 916.1,919.4 917.4,966.6 919.4,984.0 922.4,997.6 924.8,984.0 926.8,986.5 928.6,998.9 930.6,979.0 933.5,980.2 936.0,974.0 938.5,979.0 939.8,970.3 942.2,981.5 944.7,971.6 947.2,966.6 950.2,961.6 953.4,955.4 956.6,951.7 958.4,936.8 960.9,929.3 963.4,915.7 965.1,931.8 967.1,920.6 969.6,936.8 971.6,929.3 973.3,951.7 975.8,949.2 978.3,965.3 980.7,954.2 984.5,952.9 987.0,954.2 989.9,946.7 991.9,941.7 994.9,933.0 997.6,905.7 999.4,944.2 1002.4,949.2 1005.6,955.4 1007.3,962.9 1009.8,955.4 1011.8,919.4 1013.8,905.7 1016.8,899.5 1019.8,892.0 1021.7,852.3 1024.2,842.4 1026.0,841.1 1027.2,867.2 1029.2,884.6 1031.2,880.9 1032.9,907.0 1034.7,911.9 1036.6,904.5 1039.6,893.3 1041.6,879.6 1044.1,877.1 1046.1,883.4 1049.1,892.0 1051.6,887.1 1053.5,873.4 1056.0,869.7 1059.0,878.4 1061.5,889.6 1064.5,902.0 1067.0,914.4 1068.9,951.7 1070.9,981.5 1073.4,1000.1 1075.2,988.9 1076.9,941.7 1080.1,936.8 1083.4,939.3 1086.3,936.8 1088.8,925.6 1090.8,944.2 1093.3,948.0 1095.3,954.2 1097.5,941.7 1100.0,936.8 1102.5,929.3 1105.0,913.2 1107.0,909.4 1108.7,919.4 1111.2,944.2 1113.2,924.3 1116.1,921.9 1118.6,892.0 1121.1,897.0 1123.6,905.7 1126.1,907.0 1129.1,910.7 1131.1,875.9 1133.0,914.4 1134.8,949.2 1137.3,974.0 1139.3,980.2 1140.0,972.3 1142.0,967.3 1144.5,938.8 1146.2,928.8 1149.4,931.3 1151.2,951.2 1154.9,953.7 1159.4,957.4 1161.9,962.4 1164.3,980.5 1166.8,971.1 1168.6,941.2 1171.1,922.6 1173.5,927.6 1176.8,911.4 1179.3,897.8 1181.0,908.9 1182.7,931.3 1185.2,937.5 1187.2,958.6 1189.2,946.2 1192.2,953.7 1194.2,918.9 1196.6,896.5 1199.6,891.6 1202.1,875.4 1205.1,875.4 1207.1,895.3 1209.6,874.2 1212.0,882.9 1214.5,896.5 1217.0,902.7 1219.5,904.0 1220.7,915.2 1223.2,922.6 1225.7,911.4 1227.5,918.9 1228.9,911.4 1230.7,928.8 1233.2,938.8 1235.7,928.8 1238.1,941.2 1239.9,951.2 1241.9,973.5 1244.3,971.1 1247.3,966.1 1249.8,947.5 1251.3,961.1 1253.0,956.1 1254.8,977.3 1258.0,979.8 1261.7,979.8 1263.5,943.7 1265.5,952.4 1268.7,959.9 1271.7,923.9 1275.4,913.9 1278.6,911.4 1281.1,889.1 1284.1,881.6 1287.1,889.1 1291.6,899.0 1292.8,928.8 1294.5,946.2 1297.0,956.1 1299.0,931.3 1301.5,920.1 1304.0,911.4 1306.0,918.9 1308.9,901.5 1311.4,894.0 1312.7,864.2 1314.4,866.7 1316.4,879.1 1318.4,886.6 1320.9,899.0 1324.3,910.2 1326.3,884.1 1329.3,894.0 1331.3,889.1 1333.3,904.0 1335.0,887.8 1337.5,899.0 1340.0,912.7 1342.5,899.0 1345.0,889.1 1347.5,872.9 1349.2,901.5 1351.7,907.0 1354.2,904.0 1356.1,891.6 1358.6,884.1 1361.1,864.2 1363.1,869.2 1365.6,871.7 1368.6,868.0 1371.1,849.3 1373.5,825.7 1376.0,841.9 1378.5,849.3 1380.5,856.8 1383.0,865.5 1385.5,856.8 1387.2,841.9 1389.7,849.3 1392.9,848.1 1394.7,849.3 1395.9,864.2 1397.9,844.3 1400.9,836.9 1403.4,817.0 1405.8,822.0 1408.3,819.5 1410.8,809.6 1412.8,819.5 1414.5,814.5 1416.3,822.0 1419.5,824.5 1422.0,825.7 1424.5,817.0 1426.2,807.1 1428.7,808.3 1430.2,786.0 1432.7,783.5 1435.7,787.2 1437.6,798.4 1440.6,800.9 1443.1,799.6 1445.1,789.7 1447.6,799.6 1450.1,793.4 1452.5,786.0 1454.3,804.6 1456.0,822.0 1457.5,841.9 1460.0,818.3 1462.5,814.5 1464.2,829.4 1466.7,817.0 1469.2,819.5 1471.7,814.5 1473.4,803.4 1475.4,794.7 1477.9,795.9 1479.9,804.6 1481.6,809.6 1484.1,802.1 1486.6,813.3 1488.3,794.7 1490.8,789.7 1494.0,793.4 1496.5,790.9 1499.0,798.4 1501.5,793.4 1504.7,788.4 1507.2,783.5 1509.7,788.4 1512.2,782.2 1514.7,772.3 1517.1,769.8 1520.1,774.8 1523.9,779.8 1527.1,772.3 1529.6,767.3 1532.0,773.5 1534.5,771.1 1537.0,776.0 1540.0,767.3 1542.0,761.1 1543.7,772.3 1546.2,782.2 1548.0,793.4 1549.9,788.4 1551.9,799.6 1554.4,800.9 1556.9,802.1 1558.6,817.0 1561.1,825.7 1563.6,809.6 1565.3,819.5 1567.8,818.3 1570.3,804.6 1573.5,802.1 1575.3,813.3 1577.8,809.6 1580.2,804.6 1583.5,795.9 1585.2,805.8 1587.2,798.4 1589.7,807.1 1592.2,799.6 1594.2,805.8 1595.9,809.6 1597.6,807.1 1599.6,817.0 1602.1,822.0 1604.6,819.5 1607.1,814.5 1609.6,827.0 1612.0,810.8 1614.5,807.1 1616.5,814.5 1618.3,812.0 1620.7,819.5 1623.2,824.5 1625.0,835.7 1626.5,819.5 1628.2,812.0 1630.7,810.8 1632.4,824.5 1633.9,835.7 1636.9,824.5 1640.6,823.2 1644.3,820.7 1646.8,809.6 1649.3,808.3 1651.8,815.8 1653.8,831.9 1655.5,835.7 1658.0,833.2 1659.8,822.0 1661.2,834.4 1664.2,833.2 1666.2,834.4 1668.0,812.0 1670.4,809.6 1672.9,804.6 1676.1,803.4 1678.6,809.6 1680.4,819.5 1682.1,814.5 1683.6,828.2 1686.1,831.9 1688.6,825.7 1691.1,814.5 1693.5,809.6 1695.3,800.9 1697.0,795.9 1699.0,802.1 1701.5,804.6 1704.0,797.1 1706.5,793.4 1708.9,788.4 1710.9,794.7 1712.7,805.8 1715.2,807.1 1717.6,805.8 1720.1,804.6 1721.4,822.0 1723.4,840.6 1726.3,844.3 1730.1,854.3 1733.8,866.7 1735.8,846.8 1738.3,844.3 1740.0,840.6 1741.7,827.0 1743.7,836.9 1746.2,834.4 1749.2,825.7 1751.7,822.0 1754.2,819.5 1757.4,813.3 1760.4,814.5 1762.4,815.8 1764.1,802.1 1766.6,798.4 1769.8,784.7 1772.3,789.7 1774.8,788.4 1777.3,793.4 1779.3,802.1 1780.3,797.1 1782.6,801.8 1784.9,800.2 1787.3,795.6 1789.6,790.9 1791.9,787.8 1794.3,798.7 1796.6,790.9 1798.9,786.3 1800.5,781.6 1802.8,790.9 1805.1,792.5 1807.5,795.6 1809.8,798.7 1812.1,792.5 1814.4,789.4 1816.8,792.5 1819.1,787.8 1821.4,798.7 1823.8,809.6 1826.1,804.9 1828.4,812.7 1830.7,811.1 1833.1,789.4 1835.4,778.5 1837.7,773.9 1840.1,770.7 1842.4,772.3 1844.7,783.2 1847.0,792.5 1849.4,789.4 1852.5,784.7 1855.6,777.0 1858.7,773.9 1861.8,774.6 1864.1,766.1 1866.5,758.3 1868.8,777.0 1871.1,778.5 1873.4,783.2 1875.8,795.6 1878.1,798.7 1880.4,797.1 1885.1,795.6 1889.0,795.6 1891.3,790.9 1893.6,798.7 1896.0,801.8 1898.3,794.0 1899.5,789.4 1901.0,795.6 1903.3,794.0 1905.6,789.4 1908.0,783.2 1910.3,773.9 1912.6,783.2 1914.9,786.3 1917.3,767.6 1919.6,777.0 1921.9,780.1 1924.3,773.9 1926.6,774.6 1929.7,770.7 1932.8,767.6 1935.9,764.5 1939.0,756.8 1941.3,752.1 1943.7,742.8 1946.0,744.3 1948.3,745.9 1950.7,747.5 1953.0,758.3 1955.3,761.4 1957.6,764.5 1960.0,780.1 1962.3,792.5 1964.6,783.2 1967.0,770.7 1969.3,770.7 1971.6,771.5 1973.2,764.5 1975.5,758.3 1977.8,752.1 1980.2,751.3 1982.5,758.3 1984.8,761.4 1987.1,763.0 1990.2,764.5 1993.4,766.9 1996.5,769.2 1998.8,770.7 1999.6,758.3 2001.9,755.2 2004.2,752.1 2006.6,749.0 2008.9,753.7 2011.2,758.3 2013.5,752.1 2015.9,749.0 2018.2,752.1 2020.5,745.9 2022.1,733.5 2024.4,731.9 2026.7,730.4 2029.1,731.9 2031.4,733.5 2033.7,730.4 2036.1,728.8 2038.4,727.3 2040.7,730.4 2042.3,736.6 2044.6,735.0 2046.9,733.5 2049.3,736.6 2051.6,731.9 2053.1,727.3 2054.7,727.3 2058.6,736.6 2063.2,741.2 2067.9,736.6 2072.5,733.5 2077.2,739.7 2081.9,749.0 2086.5,758.3 2088.9,767.6 2091.2,766.1 2093.5,758.3 2097.4,749.0 2102.0,739.7 2105.2,741.2 2108.3,745.9 2111.4,752.1 2114.5,755.2 2117.6,753.7 2120.7,752.1 2125.3,745.9 2130.0,741.2 2134.7,736.6 2139.3,741.2 2144.0,745.9 2148.6,752.1 2153.3,755.2 2158.0,758.3 2162.6,756.8 2167.3,753.7 2171.9,752.1 2175.0,749.0 2177.4,744.3 2179.7,736.6 2182.0,731.9 2184.3,733.5 2186.7,735.0 2189.0,731.9 2191.3,728.8 2192.9,725.7 2195.2,735.0 2197.5,741.2 2199.9,747.5 2202.2,745.9 2204.5,749.0 2206.9,770.7 2208.4,773.9 2210.7,764.5 2213.1,752.1 2215.4,745.9 2217.7,742.8 2220.1,744.3 2222.4,749.0 2224.7,752.1 2227.0,755.2 2229.4,749.0 2231.7,745.9 2234.0,744.3 2236.4,749.0 2238.7,752.1 2241.8,753.7 2244.9,755.2 2248.0,756.8 2250.3,749.0 2252.7,736.6 2255.0,742.8 2257.3,745.9 2259.7,747.5 2262.0,745.9 2264.3,744.3 2266.6,749.0 2269.0,750.6 2271.3,752.1 2273.6,750.6 2276.0,752.1 2278.3,755.2 2279.5,753.7 2281.0,742.8 2283.3,735.0 2285.6,739.7 2288.0,741.2 2290.3,738.9 2292.6,740.5 2294.9,739.7 2297.3,741.2 2298.8,747.5 2301.1,739.7 2303.5,736.6 2305.8,735.0 2307.4,727.3 2309.7,736.6 2312.0,742.8 2314.3,744.3 2316.7,741.2 2319.0,736.6 2321.3,731.9 2322.9,731.1 2325.2,738.1 2327.5,752.1 2329.9,758.3 2332.2,761.4 2334.2,758.3 2336.1,745.9 2338.4,736.6 2340.7,735.0 2343.1,738.1 2345.4,735.0 2347.0,730.4 2349.3,721.1 2351.6,719.5 2353.2,721.1 2355.5,730.4 2357.0,744.3 2359.4,742.8 2361.7,735.0 2363.3,749.0 2365.6,752.1 2367.9,753.7 2368.7,767.6 2369.5,790.9 2371.0,798.7 2373.4,801.8 2376.5,806.5 2379.6,812.7 2381.9,816.6 2384.2,817.3 2385.8,808.0 2388.1,798.7 2390.4,801.8 2392.8,798.7 2395.1,795.6 2397.4,786.3 2399.0,780.1 2400.0,778.5 2402.5,769.8 2405.0,762.4 2407.5,766.1 2409.9,764.8 2412.4,757.4 2415.4,761.1 2417.9,759.9 2420.4,766.1 2422.9,776.0 2425.3,764.8 2427.8,759.9 2431.1,753.7 2433.5,756.1 2436.0,757.4 2437.3,772.3 2439.3,787.2 2441.7,786.0 2444.7,783.5 2447.2,777.3 2449.7,779.8 2453.4,783.5 2457.1,786.0 2459.6,774.8 2461.6,764.8 2464.1,762.4 2466.6,768.6 2469.6,764.8 2472.0,754.9 2474.5,745.0 2477.0,743.7 2479.5,752.4 2482.0,758.6 2484.5,761.1 2486.5,758.6 2488.9,772.3 2490.7,787.2 2493.2,800.9 2495.7,787.2 2498.9,783.5 2501.4,769.8 2503.9,774.8 2505.6,769.8 2508.1,787.2 2510.6,781.0 2513.0,782.2 2515.5,776.0 2518.8,772.3 2520.5,767.3 2523.0,774.8 2525.5,769.8 2528.7,763.6 2530.2,771.1 2531.7,774.8 2531.9,987.2 2534.4,988.4 2534.7,779.8 2536.1,778.5 2539.1,778.5 2541.6,777.3 2544.6,774.8 2546.6,777.3 2548.6,784.7 2551.1,773.5 2554.0,769.8 2557.0,771.1 2560.2,767.3 2562.7,763.6 2565.2,762.4 2567.7,767.3 2570.2,774.8 2573.9,778.5 2576.9,764.8 2579.4,763.6 2581.9,764.8 2584.3,753.7 2586.8,747.5 2590.1,751.2 2592.5,758.6 2595.0,754.9 2597.5,747.5 2600.0,766.1 2602.5,778.5 2605.0,779.8 2608.7,778.5 2612.4,777.3 2614.9,784.7 2618.1,792.2 2619.9,782.2 2621.6,764.8 2624.8,762.4 2628.1,761.1 2631.1,759.9 2633.5,754.9 2636.0,761.1 2638.5,769.8 2642.2,768.6 2644.7,767.3 2647.2,762.4 2650.4,767.3 2653.4,777.3 2656.4,769.8 2659.6,767.3 2662.1,758.6 2663.4,766.1 2665.8,756.1 2668.8,747.5 2672.0,745.0 2673.8,749.9 2677.0,742.5 2679.4,738.3 2681.1,736.6 2682.3,748.2 2684.0,762.2 2685.8,771.5 2687.5,762.2 2689.3,773.8 2691.0,779.7 2692.8,778.5 2694.5,776.2 2696.3,773.8 2698.0,776.2 2699.7,778.5 2701.5,780.8 2703.2,758.7 2705.0,757.5 2706.7,764.5 2708.5,771.5 2710.2,766.9 2712.0,764.5 2713.7,765.7 2715.5,755.2 2717.2,750.6 2719.0,757.5 2720.7,762.2 2722.5,759.9 2724.2,755.2 2725.9,750.6 2727.7,745.9 2729.4,740.1 2731.2,736.6 2732.9,733.1 2734.7,729.6 2736.4,724.9 2738.2,721.4 2739.9,727.3 2741.7,728.4 2743.4,729.6 2745.2,728.4 2746.9,730.8 2748.7,734.3 2750.4,736.6 2752.2,737.7 2753.9,735.4 2755.6,734.3 2757.4,731.9 2759.1,733.1 2760.9,735.4 2762.6,736.6 2764.4,734.3 2766.1,723.8 2767.9,722.6 2769.6,727.3 2771.4,721.4 2773.1,720.9 2774.9,723.8 2776.6,727.3 2778.4,737.7 2780.1,740.1 2781.8,735.4 2783.6,736.6 2785.3,742.4 2787.1,736.6 2788.8,735.4 2790.6,736.0 2791.7,741.2 2792.9,750.6 2794.7,755.2 2796.4,759.9 2798.2,758.7 2799.9,755.2 2801.6,752.9 2803.4,753.5" stroke="#9467bd"/>
<polyline points="517.9,1029.9 520.4,1035.7 524.1,1036.6 526.8,1026.7 529.8,1018.8 532.3,1010.1 534.8,1008.8 537.8,1016.8 541.0,1009.3 544.2,1008.8 546.0,1004.3 547.2,1013.8 548.9,1033.2 553.4,1034.9 559.1,1036.1 562.1,1011.3 565.1,1004.3 567.6,988.9 569.6,987.0 572.0,971.6 574.5,960.4 577.5,957.9 580.7,948.0 583.2,947.2 585.7,950.4 589.4,944.7 591.4,954.2 593.9,971.6 595.7,978.5 598.1,972.0 600.6,960.4 602.4,949.2 603.9,944.2 606.3,950.4 609.3,949.2 612.3,946.7 614.3,954.2 616.8,956.1 618.8,966.6 621.7,970.3 625.5,969.1 629.2,962.9 631.7,973.5 634.2,982.7 636.1,997.6 639.1,999.4 642.1,1000.9 644.1,1018.8 645.6,1028.2 648.6,1023.7 651.6,1011.3 654.0,1005.8 656.5,996.9 659.0,1011.3 662.0,1016.3 665.2,1020.0 667.0,1008.8 670.2,1002.6 672.7,1010.8 674.4,1006.8 676.9,1013.8 678.9,1015.0 681.4,1003.4 684.3,1008.8 685.8,1012.5 687.6,998.9 690.1,988.9 691.8,982.0 693.8,985.2 696.3,973.5 698.3,970.3 700.0,965.3 702.5,979.0 704.2,970.3 707.5,979.0 709.9,974.0 713.2,968.6 715.7,971.1 718.6,958.6 719.9,988.9 721.1,1000.1 724.8,988.9 728.1,972.8 731.1,981.0 733.5,967.1 735.5,998.9 737.3,1005.1 739.8,1006.8 742.2,986.0 744.7,977.8 747.2,970.3 749.7,960.4 752.2,956.1 754.7,962.1 757.1,949.2 760.9,946.7 763.4,951.7 765.8,944.2 769.1,941.2 772.0,954.2 774.5,960.4 776.3,961.1 778.3,949.2 780.7,952.9 783.2,943.7 784.5,979.0 787.7,993.9 791.9,997.6 795.7,1000.1 797.4,1005.1 798.9,981.5 800.6,957.9 802.6,939.3 803.6,927.3 805.6,941.7 806.8,951.7 809.3,952.9 811.8,979.0 813.5,988.9 816.0,992.7 818.0,979.0 820.5,987.7 823.0,985.2 825.0,966.6 827.5,971.6 829.9,964.6 832.9,976.5 834.9,974.0 837.9,987.0 840.9,980.2 842.9,992.7 845.8,1010.8 850.3,1000.9 853.3,982.7 856.5,970.3 859.0,967.1 861.5,986.5 864.7,976.0 866.5,939.3 867.7,929.3 870.7,926.3 872.7,927.3 873.9,943.0 875.7,931.8 877.1,924.3 878.9,927.3 880.1,993.9 880.9,1140.0 881.4,1282.8 882.6,1279.1 886.3,1277.8 888.1,1279.1 892.5,1277.1 897.5,1274.1 902.5,1271.1 907.5,1272.9 912.4,1274.6 914.9,1271.1 917.4,1266.1 921.1,1264.2 922.9,1262.9 926.1,1266.1 928.6,1262.9 931.8,1261.7 934.8,1258.7 936.8,1266.1 938.5,1269.1 941.7,1264.2 944.7,1265.4 949.2,1264.2 950.9,1271.1 953.4,1277.8 955.9,1280.3 959.1,1278.6 961.6,1280.3 964.1,1274.1 966.6,1277.8 969.1,1280.3 972.0,1278.6 975.8,1276.1 979.0,1272.9 982.0,1273.6 985.7,1271.1 989.4,1267.9 992.4,1262.2 994.9,1265.4 997.4,1261.2 999.4,1267.1 1003.1,1264.2 1008.1,1260.4 1011.3,1259.2 1012.5,1256.2 1014.3,1259.2 1018.0,1258.0 1021.7,1257.2 1024.7,1253.7 1026.7,1260.4 1030.4,1257.2 1032.9,1261.7 1036.6,1259.7 1041.6,1257.2 1045.3,1253.7 1047.8,1251.7 1050.3,1248.8 1053.5,1245.5 1056.0,1250.5 1059.5,1251.2 1062.0,1244.8 1064.0,1239.3 1067.0,1241.8 1068.9,1228.1 1070.9,1219.9 1073.4,1215.7 1075.2,1214.0 1076.4,1228.1 1078.9,1225.7 1081.4,1218.2 1083.4,1215.0 1085.8,1220.7 1088.3,1216.5 1091.3,1212.0 1094.3,1207.5 1096.8,1203.3 1099.3,1204.5 1101.2,1202.5 1103.2,1210.0 1106.2,1209.0 1108.7,1202.0 1110.7,1199.1 1113.7,1200.8 1116.6,1205.8 1119.9,1205.0 1121.6,1207.5 1124.1,1205.8 1127.3,1209.5 1129.8,1214.5 1131.6,1217.5 1133.5,1205.8 1136.0,1204.5 1140.0,1204.0 1143.7,1205.0 1149.9,1209.5 1155.4,1207.0 1161.1,1203.3 1164.3,1196.6 1167.3,1199.6 1171.1,1197.1 1173.5,1205.8 1175.3,1210.7 1177.3,1214.5 1179.8,1205.8 1182.7,1209.5 1186.0,1208.3 1189.2,1207.5 1191.7,1204.5 1193.4,1210.7 1196.6,1209.0 1199.6,1210.0 1202.1,1212.0 1205.1,1211.5 1208.3,1213.2 1210.8,1218.2 1213.3,1221.9 1215.8,1217.0 1218.3,1217.5 1220.0,1213.2 1222.0,1221.4 1224.5,1214.5 1228.9,1210.7 1230.7,1204.5 1233.9,1202.5 1236.4,1204.5 1239.4,1203.3 1241.4,1197.1 1243.1,1190.9 1246.3,1185.9 1249.3,1179.7 1251.8,1182.2 1253.8,1186.6 1255.5,1180.9 1257.3,1189.6 1260.5,1193.4 1263.0,1188.4 1265.5,1185.2 1268.0,1184.2 1269.7,1189.6 1272.9,1200.8 1276.1,1196.6 1277.9,1204.5 1279.1,1212.0 1282.1,1203.3 1286.6,1203.3 1290.3,1203.3 1292.8,1200.8 1296.0,1204.5 1299.0,1209.5 1301.5,1211.5 1304.0,1210.0 1306.0,1215.7 1308.4,1223.2 1311.4,1228.1 1313.9,1226.9 1316.4,1232.4 1319.4,1229.4 1321.9,1226.9 1325.1,1225.7 1328.8,1228.1 1332.5,1233.1 1335.0,1226.9 1338.3,1226.4 1341.2,1227.4 1344.2,1232.4 1346.7,1225.7 1349.9,1220.7 1352.4,1217.5 1355.7,1215.0 1358.6,1217.0 1360.6,1209.5 1362.4,1204.5 1365.6,1205.8 1368.1,1208.3 1369.8,1214.5 1372.3,1215.0 1374.8,1215.7 1376.5,1209.5 1379.8,1204.5 1383.0,1203.3 1386.5,1202.5 1389.7,1196.6 1392.9,1194.6 1395.4,1203.3 1397.1,1199.1 1400.9,1201.6 1404.6,1202.0 1408.3,1204.0 1410.8,1196.6 1413.3,1195.1 1416.3,1192.6 1418.3,1195.8 1421.2,1189.1 1423.2,1194.1 1425.7,1200.8 1429.4,1196.6 1432.7,1192.1 1435.7,1185.9 1438.1,1184.7 1441.9,1186.6 1445.1,1182.7 1448.1,1189.1 1450.6,1192.6 1451.1,1199.6 1453.0,1190.9 1456.0,1186.6 1459.3,1183.4 1463.0,1180.9 1465.5,1187.6 1468.4,1189.1 1471.7,1192.1 1474.2,1189.6 1477.4,1185.9 1480.9,1187.6 1483.4,1185.2 1485.3,1191.6 1488.3,1189.6 1491.6,1186.6 1494.8,1185.2 1497.8,1184.7 1499.5,1180.9 1501.5,1185.2 1505.2,1182.2 1508.9,1181.7 1512.7,1181.7 1513.4,1188.4 1516.4,1187.6 1520.1,1188.4 1523.9,1192.1 1526.3,1196.6 1529.6,1194.1 1532.5,1191.6 1536.3,1189.6 1538.8,1184.2 1541.2,1186.6 1543.7,1188.4 1547.5,1187.6 1549.9,1189.1 1552.4,1186.6 1554.9,1188.4 1557.4,1185.2 1561.1,1185.9 1563.6,1184.2 1567.3,1179.7 1571.1,1182.2 1573.5,1180.9 1576.0,1182.2 1578.5,1180.9 1581.7,1185.2 1584.7,1177.7 1588.0,1174.2 1590.9,1178.4 1593.4,1182.7 1597.1,1186.6 1600.9,1187.6 1603.4,1185.9 1606.6,1182.7 1609.6,1187.6 1611.6,1195.1 1613.3,1203.3 1616.5,1210.0 1619.0,1204.5 1622.5,1200.1 1624.5,1207.0 1626.5,1212.5 1629.4,1210.7 1631.9,1214.5 1633.9,1219.9 1638.1,1220.7 1641.9,1221.4 1644.8,1225.7 1648.1,1224.4 1651.3,1219.4 1653.8,1221.4 1658.0,1219.9 1659.8,1214.5 1663.0,1213.2 1665.5,1214.0 1669.2,1219.4 1672.9,1226.4 1675.4,1224.4 1679.1,1226.9 1681.6,1224.4 1685.3,1223.9 1687.8,1229.4 1690.3,1232.4 1694.0,1230.6 1697.8,1230.6 1701.0,1230.6 1704.0,1226.9 1706.5,1232.4 1709.4,1243.8 1712.7,1244.3 1715.2,1252.2 1717.6,1262.9 1719.4,1269.1 1721.4,1277.1 1722.6,1262.9 1727.6,1261.7 1731.3,1260.4 1733.8,1258.0 1735.8,1253.7 1738.8,1251.7 1741.2,1252.2 1744.2,1247.3 1746.2,1241.8 1748.7,1245.5 1751.7,1246.3 1754.2,1243.0 1757.4,1236.8 1760.6,1231.4 1763.6,1228.1 1766.6,1230.6 1769.8,1228.1 1773.0,1226.4 1775.5,1229.4 1778.5,1223.2 1786.2,1225.0 1786.2,1140.0 1786.2,897.0 1788.0,894.5 1790.4,878.4 1791.9,895.8 1794.4,899.0 1796.9,897.5 1798.6,914.4 1800.4,921.9 1802.9,905.7 1804.8,895.8 1807.3,893.3 1809.8,899.5 1811.8,905.7 1814.8,907.0 1817.3,902.0 1819.0,892.5 1820.2,926.8 1822.2,922.4 1824.2,928.1 1826.7,909.4 1828.4,887.1 1831.7,886.6 1834.7,878.4 1838.4,869.7 1840.9,837.9 1842.6,852.3 1845.1,864.7 1847.1,879.6 1849.1,902.0 1850.8,887.1 1852.5,892.0 1854.5,868.4 1857.0,852.3 1859.5,856.0 1863.2,857.3 1865.0,847.8 1867.0,878.4 1869.4,882.1 1871.4,872.2 1873.2,892.0 1875.7,870.9 1876.9,889.6 1879.4,893.3 1884.3,900.7 1888.8,905.7 1889.8,915.7 1892.3,902.0 1894.8,909.4 1896.8,920.6 1899.3,923.1 1901.7,925.6 1903.0,930.6 1905.0,916.9 1908.0,913.2 1909.7,905.7 1911.7,879.6 1914.2,864.7 1916.1,849.8 1917.9,842.9 1919.6,844.8 1921.1,865.2 1923.6,854.8 1925.3,844.8 1927.8,849.3 1930.3,861.0 1932.0,875.9 1934.0,868.4 1936.5,847.3 1939.0,832.4 1942.7,825.0 1944.5,852.3 1947.0,844.8 1948.4,856.0 1950.9,851.1 1952.7,863.5 1955.2,861.0 1956.9,869.7 1958.9,863.5 1961.4,885.8 1963.4,899.5 1965.1,867.2 1967.6,869.7 1970.1,879.6 1972.5,854.8 1975.0,859.8 1977.5,872.2 1979.3,868.4 1981.7,885.8 1983.7,887.1 1986.2,875.9 1988.7,864.7 1991.2,869.7 1994.2,877.1 1998.1,886.6 2001.1,878.4 2004.8,869.7 2007.3,864.7 2009.1,872.2 2012.3,861.0 2015.5,857.8 2018.5,859.8 2020.5,878.4 2022.2,879.6 2024.7,862.2 2027.2,857.3 2029.2,834.9 2030.4,828.7 2032.9,839.9 2035.4,862.2 2037.1,864.2 2039.6,851.1 2041.4,835.4 2043.4,852.3 2045.8,877.1 2048.3,914.4 2050.8,908.2 2053.3,915.7 2055.3,918.9 2058.3,930.6 2060.7,897.0 2064.5,898.3 2067.0,894.5 2068.2,905.7 2070.2,911.4 2072.7,904.5 2074.4,894.0 2076.9,890.8 2079.4,905.7 2081.1,899.5 2082.6,880.9 2084.3,902.0 2086.1,929.3 2089.3,931.3 2091.8,935.5 2094.3,915.7 2096.8,894.5 2098.0,888.3 2101.0,899.5 2104.2,900.7 2106.0,918.1 2108.0,935.5 2110.9,948.0 2112.9,941.7 2116.6,937.3 2119.1,935.5 2121.6,923.1 2124.1,921.9 2125.3,927.3 2128.3,918.1 2130.8,919.4 2132.3,910.7 2134.8,907.5 2137.8,910.7 2140.7,916.9 2145.2,919.4 2147.2,948.0 2149.7,934.8 2153.2,918.1 2155.2,933.0 2158.9,944.2 2162.6,936.8 2165.1,933.8 2167.1,909.4 2168.8,906.5 2172.0,907.0 2175.0,868.4 2177.5,862.2 2180.0,843.6 2183.0,825.0 2186.2,821.2 2188.0,834.9 2189.9,847.3 2192.4,836.1 2194.4,832.4 2196.9,882.1 2199.4,900.7 2202.4,880.9 2204.3,875.9 2206.8,915.7 2209.1,945.5 2211.8,904.5 2214.3,864.7 2216.0,879.6 2217.8,890.8 2221.7,902.0 2223.5,895.8 2226.0,908.2 2227.7,920.6 2229.7,911.9 2231.7,919.4 2233.4,905.7 2235.9,879.6 2236.6,907.0 2240.9,911.9 2248.3,916.4 2250.1,936.3 2252.0,913.2 2254.5,908.2 2256.5,916.9 2259.5,905.7 2261.5,894.5 2263.2,885.1 2265.7,914.4 2270.7,915.7 2271.9,898.3 2273.2,919.4 2275.7,924.3 2279.4,909.4 2283.1,918.1 2285.6,929.3 2289.3,908.2 2291.8,897.0 2293.8,887.6 2296.8,880.9 2298.8,899.5 2301.2,872.2 2304.2,873.4 2307.2,867.2 2309.7,859.8 2311.7,856.8 2314.2,877.1 2316.6,904.5 2319.1,905.7 2321.1,887.1 2322.9,864.7 2325.3,873.4 2327.8,880.9 2329.1,900.7 2331.6,918.1 2334.0,934.8 2336.5,910.7 2340.2,888.3 2342.7,904.5 2345.2,884.6 2347.7,846.1 2350.2,827.5 2353.4,825.5 2355.2,829.9 2357.6,854.8 2360.1,862.2 2362.6,834.9 2365.1,864.7 2366.8,878.4 2368.8,897.0 2373.8,903.2 2380.0,909.4 2383.2,905.7 2385.7,915.7 2389.2,919.4 2392.4,925.6 2394.9,928.1 2398.6,921.9 2401.1,914.9 2404.8,912.4 2408.6,911.9 2411.1,899.5 2413.0,887.1 2414.8,882.1 2417.3,894.5 2418.6,901.5 2421.1,925.1 2422.9,930.1 2424.8,913.9 2427.3,899.0 2429.8,884.1 2432.3,874.2 2434.8,861.7 2437.3,860.5 2438.5,879.1 2439.8,899.0 2441.7,904.0 2444.7,902.7 2446.7,913.9 2449.7,904.0 2452.7,901.5 2455.9,889.1 2457.6,880.4 2460.9,908.9 2463.4,884.1 2466.6,891.6 2469.6,881.6 2472.0,859.3 2474.5,844.3 2477.5,840.6 2480.0,859.3 2482.0,884.1 2485.7,879.1 2488.2,859.3 2490.7,879.1 2493.2,899.0 2495.7,918.9 2498.1,922.6 2500.6,917.6 2503.1,889.1 2506.3,861.7 2508.1,904.0 2510.6,902.7 2513.0,891.6 2516.8,885.3 2519.3,879.1 2521.7,868.0 2524.2,889.1 2528.0,890.3 2529.7,880.4 2531.7,913.9 2534.2,945.0 2536.1,906.5 2537.9,936.3 2540.4,942.5 2542.1,938.8 2544.1,928.8 2546.6,918.9 2548.6,936.3 2551.1,941.2 2554.0,951.2 2556.5,936.3 2559.0,931.3 2561.5,936.3 2564.0,954.9 2566.0,930.1 2568.4,947.5 2570.9,958.1 2573.9,936.3 2576.4,926.3 2578.9,928.8 2582.6,918.9 2585.1,908.9 2588.3,905.2 2591.3,906.0 2593.8,916.4 2596.3,911.4 2598.8,885.3 2600.7,913.9 2603.7,921.4 2607.5,917.6 2611.2,913.9 2613.7,901.5 2616.1,918.9 2618.6,933.8 2621.1,940.0 2623.1,954.9 2624.8,959.9 2627.3,948.7 2631.1,936.3 2633.5,913.9 2636.0,899.0 2638.5,911.4 2642.2,912.7 2644.7,918.9 2647.2,889.1 2649.2,882.9 2650.9,901.5 2652.2,943.7 2654.7,952.4 2658.4,948.7 2660.9,923.9 2663.4,912.7 2665.8,911.4 2668.3,901.5 2672.0,906.5 2674.5,886.6 2677.0,901.5 2679.5,876.6 2682.0,895.3 2684.0,923.9 2685.7,913.9 2688.2,932.5 2690.2,957.4 2693.2,954.9 2696.1,952.4 2697.6,938.8 2699.4,931.3 2701.9,935.0 2704.3,886.6 2706.1,899.0 2708.1,918.9 2711.1,911.4 2713.5,901.5 2716.8,889.1 2719.3,901.5 2721.7,895.3 2725.5,904.0 2728.4,913.9 2731.7,925.1 2734.2,917.6 2736.6,918.9 2738.4,908.9 2739.9,928.8 2742.4,918.9 2746.6,918.9 2748.3,932.5 2750.3,923.9 2752.3,937.5 2754.8,916.4 2757.8,949.9 2760.2,917.6 2762.7,915.2 2765.7,891.6 2768.9,899.0 2772.2,892.8 2774.7,904.0 2777.1,897.8 2779.6,925.1 2782.6,906.5 2785.1,902.7 2788.1,901.5 2790.1,896.5 2792.0,887.8 2793.8,913.9 2795.5,946.2 2798.8,959.9 2800.5,951.2 2803.0,948.7" stroke="#8c564b"/>
<polyline points="517.9,761.7 520.4,775.4 522.9,769.2 524.8,791.6 526.8,810.2 529.8,813.9 532.8,820.1 535.3,811.4 538.5,808.9 541.0,804.0 544.2,807.7 547.2,794.0 549.7,760.5 558.4,761.7 560.9,799.0 563.4,821.4 566.6,833.8 569.6,841.2 572.0,828.8 574.5,811.4 576.5,789.1 579.5,782.9 582.5,791.6 585.7,786.6 588.2,782.9 589.9,799.0 591.9,828.8 594.9,843.7 597.4,853.7 599.9,854.9 602.4,848.7 604.3,838.8 607.3,846.2 610.6,856.1 614.3,853.7 617.3,846.2 620.5,838.8 623.0,841.2 625.5,848.7 628.7,852.4 631.7,838.8 634.2,828.8 636.1,813.9 639.1,812.7 642.1,806.5 644.1,799.0 647.1,791.6 649.6,799.0 652.0,813.9 654.0,823.9 656.5,836.3 659.0,813.9 662.0,792.8 664.5,799.0 667.7,802.7 671.4,794.0 673.9,779.1 676.9,771.7 679.4,786.6 681.4,813.9 684.3,799.0 686.3,781.6 688.8,789.1 691.3,818.9 693.8,831.3 697.5,831.3 700.0,846.2 702.5,831.3 706.2,818.9 709.9,810.2 713.2,804.0 715.7,811.4 718.6,786.6 721.1,780.4 723.6,791.6 726.6,789.1 729.1,799.0 731.6,786.6 734.0,794.0 737.3,774.2 739.8,761.7 742.2,781.6 744.7,804.0 747.2,799.0 749.7,823.9 752.9,817.6 755.9,831.3 759.6,826.3 762.1,836.3 765.8,843.7 769.6,852.4 772.0,856.1 773.8,843.7 775.8,828.8 777.8,811.4 780.2,828.8 783.2,838.8 785.7,804.0 788.2,769.2 791.9,761.7 795.7,753.0 797.6,746.8 799.4,769.2 801.1,799.0 803.6,831.3 806.1,799.0 809.3,786.6 812.5,774.2 815.0,789.1 816.8,802.7 819.3,779.1 822.5,781.6 825.5,789.1 828.0,779.1 831.7,774.2 834.2,761.7 836.6,764.2 839.1,756.8 841.6,749.3 844.1,739.4 846.6,717.0 849.1,722.0 851.6,746.8 854.0,761.7 855.8,774.2 859.0,786.6 861.5,764.2 864.7,774.2 866.5,801.5 867.7,831.3 870.2,823.9 871.9,789.1 873.9,811.4 876.4,796.5 878.9,786.6 881.4,799.0 883.9,818.9 886.3,831.3 888.8,836.3 891.3,823.9 894.5,816.4 897.0,799.0 900.0,779.1 902.0,771.7 913.7,756.8 915.4,779.1 917.4,799.0 919.9,811.4 922.4,821.4 925.3,808.9 927.8,826.3 930.3,811.4 932.8,828.8 936.0,838.8 937.8,821.4 940.2,833.8 943.5,802.7 946.0,831.3 948.4,842.5 950.9,836.3 953.4,823.9 955.9,799.0 957.6,774.2 960.9,784.1 963.4,759.3 965.8,781.6 968.3,766.7 970.8,744.3 973.3,749.3 975.0,769.2 978.3,804.0 980.0,817.6 983.2,789.1 985.7,769.2 988.2,775.4 991.9,766.7 994.9,759.3 998.1,753.0 1000.6,736.9 1003.1,740.6 1005.6,746.8 1008.1,764.2 1010.6,771.7 1013.0,764.2 1016.3,751.8 1019.3,736.9 1021.7,719.5 1024.2,689.7 1025.5,657.4 1026.7,689.7 1029.2,717.0 1031.7,724.5 1034.2,739.4 1036.6,749.3 1039.6,734.4 1041.6,727.0 1044.6,734.4 1047.1,744.3 1049.1,766.7 1052.0,769.2 1055.3,759.3 1058.5,761.7 1061.5,756.8 1064.5,769.2 1067.7,781.6 1070.2,813.9 1072.7,838.8 1074.4,856.1 1076.9,811.4 1079.4,779.1 1082.6,775.4 1086.3,781.6 1090.1,787.8 1093.8,795.3 1096.3,786.6 1099.3,779.1 1101.7,789.1 1104.2,781.6 1106.7,794.0 1109.9,801.5 1113.2,794.0 1116.1,786.6 1119.1,779.1 1122.4,764.2 1126.1,761.7 1129.8,759.3 1133.0,774.2 1136.0,749.3 1139.3,739.4 1140.0,759.9 1142.3,757.5 1144.7,755.2 1146.2,733.5 1147.8,719.5 1150.9,713.3 1155.5,711.7 1160.2,713.3 1163.3,719.5 1164.8,741.2 1166.1,759.9 1167.6,770.7 1169.5,752.1 1171.8,759.9 1173.9,736.6 1175.4,721.1 1177.3,718.0 1178.8,719.5 1180.7,733.5 1182.7,741.2 1185.0,735.0 1186.6,752.1 1187.8,770.7 1189.4,783.2 1190.9,770.7 1192.8,773.9 1194.3,777.0 1195.6,731.9 1197.1,742.8 1199.0,752.1 1200.6,763.0 1202.1,773.9 1203.7,783.2 1205.5,792.5 1207.1,797.1 1209.1,777.0 1210.7,759.9 1212.2,749.8 1214.2,752.1 1215.8,786.3 1217.6,783.2 1220.0,786.3 1221.5,777.0 1223.1,767.6 1225.1,758.3 1227.0,750.6 1228.8,747.5 1230.8,758.3 1232.9,744.3 1234.7,752.1 1236.3,761.4 1238.1,755.2 1240.2,750.6 1241.7,744.3 1243.7,740.5 1245.6,739.7 1247.5,741.2 1248.7,756.8 1250.6,763.0 1252.6,758.3 1254.9,752.1 1257.2,733.5 1258.8,728.8 1260.8,729.6 1262.7,733.5 1264.2,750.6 1266.1,747.5 1268.1,745.9 1269.7,731.9 1271.2,719.5 1275.1,713.3 1282.9,711.7 1289.1,713.3 1293.0,719.5 1294.0,736.6 1295.3,759.9 1296.8,772.3 1298.7,775.4 1300.2,755.2 1301.8,736.6 1303.4,738.1 1304.6,761.4 1306.1,752.1 1307.7,739.7 1309.3,733.5 1310.8,721.1 1312.4,718.0 1314.7,719.5 1316.2,728.8 1317.8,736.6 1319.3,750.6 1320.9,758.3 1322.5,769.2 1324.5,783.2 1326.3,764.5 1327.9,745.9 1329.8,742.8 1331.8,745.9 1333.3,752.1 1334.9,747.5 1336.9,745.9 1338.8,753.7 1340.3,763.0 1341.9,769.2 1343.4,758.3 1345.0,749.0 1346.5,738.1 1348.1,752.1 1349.9,764.5 1351.5,772.3 1353.0,779.3 1355.1,777.0 1356.6,764.5 1358.9,750.6 1360.5,741.2 1362.4,755.2 1364.4,758.3 1366.7,752.1 1369.0,744.3 1371.4,738.1 1372.9,739.7 1374.5,744.3 1376.8,742.8 1378.4,747.5 1380.4,756.8 1382.2,758.3 1383.8,752.1 1385.3,744.3 1386.9,739.7 1388.4,752.1 1390.0,762.2 1392.3,750.6 1393.9,761.4 1395.4,763.0 1397.0,749.0 1399.0,735.0 1400.9,727.3 1402.4,719.5 1404.0,718.7 1405.8,725.7 1407.9,727.3 1410.2,721.1 1412.5,730.4 1414.1,735.0 1416.1,738.1 1418.0,730.4 1420.3,721.1 1421.8,719.5 1427.3,713.3 1435.0,711.7 1442.8,710.2 1450.6,713.3 1456.8,714.8 1459.9,719.5 1462.2,730.4 1464.5,741.2 1466.9,744.3 1468.4,752.1 1470.0,755.2 1471.5,741.2 1473.1,733.5 1475.4,728.8 1477.7,725.7 1480.1,736.6 1482.4,745.9 1484.7,741.2 1486.6,730.4 1487.8,719.5 1489.4,716.4 1490.6,719.5 1491.7,736.6 1493.3,755.2 1494.8,773.9 1496.4,789.4 1497.9,781.6 1499.9,772.3 1500.0,763.0 1502.3,758.3 1504.7,752.1 1507.0,741.2 1508.5,730.4 1509.6,719.5 1512.4,708.6 1515.5,699.3 1521.7,702.4 1528.0,700.9 1534.2,704.0 1540.4,699.3 1546.6,702.4 1552.8,708.6 1555.9,719.5 1557.5,724.2 1559.8,730.4 1562.1,738.1 1564.0,728.8 1566.0,727.3 1568.3,736.6 1570.2,744.3 1572.2,731.9 1574.2,721.1 1576.1,736.6 1577.6,752.1 1579.5,735.0 1581.5,727.3 1583.9,730.4 1586.2,741.2 1587.7,755.2 1589.3,773.9 1591.3,777.0 1593.2,770.7 1595.5,763.0 1597.0,756.8 1598.6,777.0 1600.6,767.6 1602.5,759.9 1604.3,764.5 1606.4,758.3 1607.9,764.5 1609.5,784.7 1611.0,798.7 1612.6,786.3 1614.6,777.0 1616.5,781.6 1618.8,773.9 1621.1,777.0 1622.7,769.2 1624.2,763.0 1625.8,781.6 1627.3,758.3 1629.7,747.5 1632.0,759.9 1633.9,744.3 1638.2,742.0 1644.4,739.7 1646.0,767.6 1647.5,797.1 1649.1,786.3 1651.4,770.7 1653.7,780.1 1655.3,773.9 1656.8,783.2 1659.2,778.5 1661.5,783.2 1663.0,789.4 1665.4,795.6 1666.9,801.8 1669.3,798.7 1671.6,789.4 1673.6,797.1 1675.5,806.5 1677.8,814.2 1680.1,798.7 1682.5,822.0 1684.8,829.8 1687.1,823.5 1689.4,814.2 1691.8,820.4 1694.1,826.6 1697.2,829.8 1701.9,834.4 1706.5,826.6 1708.1,811.1 1709.6,797.1 1712.0,783.2 1714.3,777.0 1716.6,763.0 1718.9,755.2 1721.3,749.0 1722.8,764.5 1724.4,786.3 1726.7,795.6 1729.0,803.4 1731.4,808.0 1733.7,804.9 1736.0,798.7 1738.4,800.2 1740.7,797.1 1743.0,804.9 1744.6,812.7 1746.1,818.9 1748.4,823.5 1750.8,826.6 1753.1,829.8 1755.4,839.1 1757.8,836.0 1760.1,845.3 1762.4,851.5 1764.0,839.1 1765.5,829.8 1767.1,823.5 1769.4,814.2 1771.7,808.0 1774.1,804.9 1775.6,811.1 1778.0,798.7 1780.3,803.4 1782.6,817.3 1784.9,823.5 1787.3,811.1 1789.6,801.8 1791.9,797.1 1794.3,790.9 1796.6,777.0 1798.1,767.6 1799.7,763.0 1802.0,773.9 1804.3,783.2 1806.7,777.0 1809.0,780.1 1810.6,767.6 1812.1,747.5 1813.7,758.3 1815.2,770.7 1817.5,777.0 1819.9,764.5 1822.2,755.2 1824.5,749.0 1826.1,745.9 1828.4,758.3 1830.7,767.6 1833.1,777.0 1835.4,786.3 1837.7,777.0 1840.1,770.7 1841.6,773.9 1843.9,767.6 1846.3,755.2 1848.6,741.2 1850.9,736.6 1853.3,742.8 1854.8,752.1 1857.1,744.3 1860.2,741.2 1863.4,736.6 1865.7,730.4 1867.2,727.3 1869.6,739.7 1871.9,752.1 1874.2,756.8 1877.3,755.2 1880.4,752.1 1883.5,749.0 1886.6,741.2 1889.0,736.6 1891.3,745.9 1893.6,767.6 1895.2,780.1 1897.5,789.4 1899.5,783.2 1901.0,749.0 1903.3,755.2 1905.6,773.9 1908.0,777.0 1910.3,783.2 1912.6,795.6 1914.9,804.9 1917.3,798.7 1919.6,790.9 1921.9,789.4 1924.3,811.1 1926.6,817.3 1928.9,809.6 1931.2,814.2 1933.6,804.9 1935.9,801.8 1938.2,801.0 1940.6,808.0 1942.9,814.2 1945.2,823.5 1947.5,814.2 1949.9,818.9 1952.2,808.0 1954.5,801.8 1956.9,808.0 1958.4,783.2 1960.0,764.5 1962.3,749.0 1964.6,744.3 1967.0,755.2 1969.3,749.0 1971.6,747.5 1973.2,777.0 1974.7,795.6 1977.0,789.4 1979.4,780.1 1981.7,767.6 1984.0,763.0 1987.1,767.6 1990.2,773.9 1993.4,780.1 1996.5,786.3 1998.8,798.7 2001.1,814.2 2003.4,822.0 2005.8,825.1 2008.1,814.2 2010.4,817.3 2012.8,828.2 2015.1,822.0 2017.4,812.7 2019.8,808.0 2022.1,814.2 2024.4,818.9 2026.7,822.0 2029.1,823.5 2031.4,814.2 2033.7,804.9 2036.1,808.0 2038.4,801.8 2040.7,798.7 2042.3,809.6 2043.8,795.6 2046.1,786.3 2048.5,773.9 2050.8,777.0 2052.4,783.2 2053.9,773.9 2055.5,767.6 2057.8,758.3 2060.1,752.1 2062.5,749.0 2064.8,752.1 2067.1,736.6 2068.7,725.7 2070.2,719.5 2075.7,714.8 2080.3,719.5 2083.4,727.3 2085.7,731.9 2088.1,727.3 2090.4,719.5 2096.6,719.5 2098.9,733.5 2101.3,741.2 2103.6,736.6 2105.9,742.8 2108.3,749.0 2110.6,745.9 2112.9,752.1 2115.2,750.6 2117.6,755.2 2119.9,752.1 2122.2,747.5 2124.6,741.2 2126.9,736.6 2128.4,719.5 2130.0,721.1 2132.3,730.4 2134.7,736.6 2137.0,738.1 2139.3,741.2 2141.6,744.3 2144.0,749.0 2146.3,755.2 2148.6,767.6 2151.0,773.9 2153.3,789.4 2155.6,770.7 2158.0,764.5 2160.3,759.9 2162.6,756.8 2164.9,763.0 2167.3,767.6 2169.6,777.0 2171.9,752.1 2174.3,758.3 2176.6,780.1 2178.9,795.6 2181.2,801.8 2183.6,814.2 2185.9,817.3 2188.2,798.7 2190.6,777.0 2192.9,773.9 2195.2,770.7 2197.5,769.2 2199.9,783.2 2202.2,790.9 2204.5,798.7 2206.9,786.3 2208.4,783.2 2210.7,808.0 2213.1,823.5 2215.4,829.8 2217.7,814.2 2220.1,798.7 2222.4,804.9 2224.7,808.0 2227.0,798.7 2229.4,792.5 2231.7,777.0 2234.0,777.0 2236.4,790.9 2238.7,789.4 2243.4,786.3 2248.0,783.2 2251.9,780.1 2254.2,777.0 2256.6,773.9 2258.9,780.1 2261.2,786.3 2263.5,798.7 2265.9,814.2 2268.2,829.8 2270.5,834.4 2272.9,836.0 2275.2,829.8 2277.5,823.5 2279.5,814.2 2279.4,814.2 2281.7,804.9 2284.1,798.7 2286.4,792.5 2288.7,790.9 2291.1,801.8 2293.4,787.8 2295.7,798.7 2298.0,812.7 2300.4,823.5 2302.7,820.4 2305.0,829.8 2306.6,832.9 2308.9,825.1 2311.2,829.8 2313.6,826.6 2315.9,814.2 2319.0,784.7 2321.3,801.8 2323.7,795.6 2326.0,789.4 2328.3,781.6 2329.6,773.9 2331.4,789.4 2333.8,801.8 2336.1,811.1 2338.4,804.9 2340.7,814.2 2343.1,823.5 2345.4,818.9 2347.0,814.2 2349.3,809.6 2350.8,823.5 2353.2,837.5 2355.5,845.3 2357.8,854.6 2360.2,860.8 2362.5,859.3 2364.8,849.9 2367.1,837.5 2369.5,840.6 2373.4,841.4 2378.0,839.8 2380.3,839.1 2382.7,845.3 2384.2,843.7 2386.6,836.0 2388.9,839.1 2391.2,832.9 2393.5,826.6 2395.9,822.0 2398.2,829.8 2400.0,833.2 2402.0,844.3 2405.0,848.1 2407.5,843.1 2409.9,846.8 2412.4,850.6 2415.4,845.6 2416.9,829.4 2418.6,820.7 2421.1,829.4 2422.9,838.1 2424.8,853.0 2427.8,855.5 2431.1,863.0 2433.5,859.3 2437.3,841.9 2439.8,825.7 2442.7,822.0 2445.2,817.0 2447.2,812.0 2449.7,824.5 2452.7,831.9 2455.9,839.4 2458.4,846.8 2461.6,855.5 2464.1,856.8 2467.1,840.6 2469.6,838.1 2473.3,841.9 2476.5,833.2 2479.0,822.0 2482.0,813.3 2484.5,822.0 2486.5,836.9 2488.9,829.4 2492.4,815.8 2495.7,813.3 2499.4,813.3 2501.9,818.3 2505.6,820.7 2508.1,812.0 2509.8,803.4 2512.3,809.6 2514.8,814.5 2518.0,818.3 2521.7,824.5 2524.2,831.9 2526.7,825.7 2529.2,805.8 2531.7,797.1 2534.2,794.7 2536.1,809.6 2539.1,798.4 2542.1,798.4 2544.1,808.3 2547.1,820.7 2549.6,810.8 2552.8,805.8 2555.3,807.1 2557.8,803.4 2561.0,805.8 2562.7,784.7 2564.0,767.3 2566.5,779.8 2568.9,790.9 2571.4,778.5 2573.9,786.0 2576.9,798.4 2579.4,802.1 2582.6,798.4 2584.3,812.0 2587.6,808.3 2590.1,803.4 2592.5,808.3 2595.0,813.3 2596.3,804.6 2598.8,836.9 2601.2,817.0 2603.7,814.5 2607.5,819.5 2611.2,825.7 2614.2,855.5 2616.6,851.8 2618.6,827.0 2621.1,814.5 2623.6,807.1 2626.1,814.5 2628.6,814.5 2631.1,836.9 2633.5,840.6 2635.5,849.3 2638.0,833.2 2640.5,849.3 2642.2,835.7 2644.0,851.8 2646.0,841.9 2648.0,853.0 2649.7,838.1 2651.4,814.5 2652.9,807.1 2654.7,825.7 2657.1,822.0 2659.6,827.0 2660.9,818.3 2663.4,839.4 2665.8,843.1 2667.8,855.5 2670.8,846.8 2672.8,849.3 2675.3,839.4 2677.0,851.8 2679.5,849.3 2682.0,854.3 2684.5,831.9 2686.2,838.1 2688.2,819.5 2690.2,799.6 2691.9,783.5 2694.4,774.8 2696.1,762.4 2698.1,759.9 2700.6,756.1 2702.6,768.6 2704.3,797.1 2706.8,772.3 2709.3,753.7 2711.8,777.3 2713.5,793.4 2716.0,799.6 2718.5,784.7 2721.0,802.1 2724.2,787.2 2726.7,772.3 2729.2,754.9 2730.9,742.5 2732.9,752.4 2735.4,764.8 2737.9,777.3 2740.4,787.2 2742.4,777.3 2744.1,776.0 2745.8,790.9 2748.3,795.9 2750.3,800.9 2752.8,805.8 2754.8,810.8 2757.3,783.5 2759.0,800.9 2761.5,820.7 2764.0,815.8 2767.2,812.0 2770.2,817.0 2772.7,823.2 2775.2,814.5 2778.1,812.0 2781.4,817.0 2783.9,835.7 2785.6,846.8 2788.8,839.4 2792.0,827.0 2794.5,809.6 2796.3,805.8 2798.8,812.0 2800.5,823.2 2802.5,810.8" stroke="#e377c2"/>
<polyline points="1890.6,699.4 1892.3,674.5 1894.3,664.6 1895.8,677.0 1898.0,699.4" stroke="#e377c2"/>
<polyline points="1917.9,699.4 1919.6,677.0 1921.6,669.6 1923.6,682.0 1926.6,679.5 1929.1,674.5 1931.6,672.0 1933.5,682.0 1936.0,699.4" stroke="#e377c2"/>
<polyline points="1448.1,694.0 1450.1,669.2 1451.8,654.3 1453.0,664.2 1454.3,669.2 1456.0,694.0" stroke="#e377c2"/>
<polyline points="1510.2,694.0 1512.7,679.1 1515.2,669.2 1517.6,664.2 1520.6,668.0 1523.9,669.2 1525.6,661.7 1527.6,656.8 1529.6,653.0 1531.3,650.6 1533.0,656.8 1535.0,661.7 1537.0,655.5 1538.8,651.8 1540.5,649.3 1542.5,648.1 1544.5,651.8 1546.2,654.3 1548.0,659.3 1549.9,664.2 1551.9,669.2 1553.7,674.2 1555.4,681.6 1557.4,689.1 1559.9,699.0" stroke="#e377c2"/>
<polyline points="517.9,926.8 520.4,935.5 523.6,936.8 526.8,924.3 529.8,915.7 533.5,904.5 536.0,902.0 538.5,918.1 541.0,903.2 543.5,900.7 547.2,902.0 548.4,924.3 549.7,936.8 553.4,941.7 558.4,946.7 560.9,934.3 563.4,936.8 565.8,929.3 568.3,914.4 570.8,919.4 573.3,907.0 575.8,887.1 577.5,875.9 580.7,867.2 583.2,866.7 585.7,873.4 588.2,884.6 589.9,914.4 592.4,936.8 594.9,954.2 596.9,964.1 599.4,944.2 601.9,936.8 604.3,945.5 606.8,949.2 609.3,938.0 611.8,931.8 614.8,933.8 618.0,938.0 621.7,933.8 624.2,934.8 626.7,930.6 629.2,934.3 631.7,943.0 634.2,951.7 636.1,972.0 638.6,946.7 640.4,924.3 642.1,911.9 644.1,926.8 647.8,925.6 649.1,915.7 652.0,914.4 654.0,904.5 657.8,900.0 660.2,907.0 662.7,914.4 665.2,910.7 668.9,914.4 671.4,900.0 673.9,911.9 676.9,913.2 679.4,904.5 681.4,898.3 684.3,911.4 686.8,903.2 690.1,894.5 692.5,883.4 695.0,872.2 698.8,869.7 700.0,864.7 702.5,873.4 705.0,875.2 707.5,885.1 710.7,884.6 713.7,877.1 717.4,875.9 718.6,864.7 719.9,889.6 722.4,895.8 724.8,887.1 728.6,882.6 731.1,870.9 733.0,884.6 734.8,872.2 738.0,882.1 741.0,872.7 744.7,867.2 747.2,872.2 749.7,861.0 752.2,856.0 753.9,862.2 755.9,852.3 757.1,839.9 759.6,846.1 763.4,847.3 765.8,851.1 768.8,843.6 770.8,856.0 773.3,861.0 775.8,857.3 777.8,872.2 780.7,862.2 783.2,851.1 785.2,869.7 787.0,887.1 789.4,890.8 792.7,895.8 795.7,899.5 796.9,908.2 799.4,869.7 801.9,852.3 804.3,838.6 806.1,852.3 808.6,857.3 810.6,872.2 812.5,879.6 815.0,884.6 817.5,882.1 820.5,895.8 823.0,892.0 825.0,877.1 827.5,874.7 829.9,864.7 832.9,873.4 835.4,875.9 837.4,882.1 840.4,884.6 842.9,892.0 844.8,919.4 847.8,915.7 850.3,902.0 852.3,894.5 855.3,893.3 858.3,882.1 860.2,887.1 862.7,894.5 865.2,902.0 867.2,874.7 868.9,861.0 872.2,858.5 873.9,887.1 876.4,878.4 880.1,879.6 883.9,885.8 886.3,868.4 888.1,864.7 890.6,872.2 893.8,878.4 897.5,880.9 900.5,885.8 903.7,887.1 913.7,889.1 916.1,873.4 918.6,880.9 921.1,887.1 922.9,870.9 925.3,879.6 927.8,897.0 931.1,900.7 933.5,892.0 936.0,887.1 938.5,894.5 940.2,911.9 942.7,933.0 944.7,907.0 948.4,900.7 950.9,907.0 953.4,914.4 955.9,920.6 957.1,939.3 959.1,950.4 961.6,955.4 964.1,957.9 966.6,931.8 969.1,929.3 971.6,945.5 974.5,946.7 976.5,950.4 978.3,926.8 980.7,920.6 982.5,929.3 984.5,946.7 987.5,944.2 990.7,936.8 993.2,916.9 994.9,904.5 996.9,918.1 999.4,944.2 1001.4,929.3 1004.3,904.5 1006.8,885.8 1010.6,883.4 1013.8,882.1 1015.5,877.1 1018.0,868.4 1020.5,902.0 1021.7,928.1 1024.2,939.3 1026.2,954.2 1028.0,934.3 1031.7,916.9 1034.2,899.5 1036.6,892.0 1039.1,889.6 1041.6,894.5 1044.1,879.6 1046.6,861.0 1049.1,852.3 1051.6,843.6 1054.5,829.9 1057.8,827.5 1059.0,843.6 1061.5,828.7 1065.2,825.0 1067.7,820.0 1070.2,799.0 1072.7,791.6 1074.4,789.1 1076.4,813.9 1078.4,836.3 1080.9,831.3 1082.6,806.5 1084.3,801.5 1086.8,813.9 1089.3,823.9 1092.5,818.9 1096.3,811.4 1100.0,808.9 1102.5,818.9 1105.0,836.3 1107.5,828.8 1109.9,825.1 1111.7,805.2 1113.7,821.4 1116.1,828.8 1119.1,841.2 1121.1,846.2 1124.1,836.3 1127.3,838.8 1129.8,847.5 1132.3,871.1 1136.0,874.8 1139.3,873.5 1140.0,856.8 1142.5,853.0 1145.0,834.4 1147.0,851.8 1149.4,855.5 1151.2,875.4 1154.9,872.9 1158.6,869.2 1161.1,866.7 1163.6,851.8 1166.1,825.7 1169.3,823.2 1171.1,819.5 1173.5,834.4 1175.3,850.6 1177.3,860.5 1179.8,855.5 1181.7,844.3 1184.7,841.9 1187.2,829.4 1189.7,824.5 1192.7,828.2 1195.2,822.0 1198.4,812.0 1200.9,804.6 1204.1,795.9 1205.8,799.6 1208.3,802.1 1210.8,812.0 1213.3,815.8 1215.0,804.6 1217.5,812.0 1220.7,814.5 1223.2,823.2 1225.7,831.9 1228.2,822.0 1230.7,825.7 1233.2,827.0 1235.7,812.0 1238.1,798.4 1240.6,798.4 1242.4,809.6 1244.3,805.8 1246.3,805.8 1248.1,772.3 1249.8,758.6 1251.8,768.6 1254.3,771.1 1256.8,782.2 1258.8,803.4 1261.2,813.3 1263.7,789.7 1266.7,772.3 1268.0,766.1 1269.7,789.7 1271.7,812.0 1274.2,822.0 1276.6,813.3 1279.1,808.3 1281.6,815.8 1284.1,813.3 1287.1,814.0 1290.3,815.0 1292.8,818.3 1295.3,810.8 1297.0,805.8 1299.0,814.5 1300.2,839.4 1302.7,845.6 1304.5,838.1 1306.5,849.3 1308.9,856.8 1311.4,868.0 1313.9,861.7 1316.9,858.0 1319.4,864.2 1321.4,849.3 1324.3,858.0 1327.6,854.3 1330.1,860.5 1332.5,851.8 1335.0,861.7 1337.5,866.7 1339.3,871.7 1341.7,861.7 1344.2,846.8 1347.5,856.8 1350.7,854.3 1353.2,844.3 1356.1,838.1 1359.1,830.7 1362.4,827.0 1364.8,817.0 1367.3,802.1 1369.8,790.9 1372.3,795.9 1374.0,802.1 1376.0,812.0 1378.0,789.7 1380.5,779.8 1382.2,777.3 1384.7,787.2 1387.2,784.7 1389.7,781.0 1392.2,788.4 1394.7,797.1 1397.1,805.8 1398.9,814.5 1402.1,812.0 1404.6,804.6 1407.8,802.1 1410.8,798.4 1413.3,797.1 1415.3,790.9 1417.8,802.1 1420.2,807.1 1423.2,799.6 1425.7,812.0 1428.2,817.0 1430.2,809.6 1432.7,795.9 1435.2,784.7 1437.6,771.1 1440.1,779.8 1442.6,778.5 1445.1,789.7 1448.1,788.4 1450.1,799.6 1451.8,814.5 1454.3,822.0 1457.5,820.7 1460.5,804.6 1463.0,795.9 1466.0,799.6 1469.2,790.9 1471.7,802.1 1474.2,819.5 1476.6,830.7 1479.1,814.5 1481.6,804.6 1484.1,805.8 1486.6,827.0 1489.8,825.7 1492.8,797.1 1495.3,777.3 1497.8,767.3 1501.5,771.1 1504.0,774.8 1507.2,779.8 1510.2,777.3 1512.7,767.3 1515.2,793.4 1518.9,798.4 1522.6,800.9 1525.6,802.1 1528.8,795.9 1532.5,790.9 1536.3,782.2 1538.8,783.5 1541.2,763.6 1543.0,774.8 1545.5,778.5 1548.0,777.3 1549.9,794.7 1552.4,807.1 1554.9,817.0 1557.4,839.4 1559.9,841.9 1562.4,854.3 1565.3,848.1 1568.6,849.3 1571.1,839.4 1573.5,838.1 1575.3,848.1 1578.5,833.2 1581.7,834.4 1584.7,830.7 1587.2,819.5 1590.2,815.8 1591.7,812.0 1594.2,825.7 1596.6,833.2 1599.1,839.4 1601.6,850.6 1604.1,861.7 1605.8,864.2 1608.3,839.4 1610.8,829.4 1613.3,846.8 1615.8,869.2 1617.5,876.6 1620.7,871.7 1623.2,849.3 1625.7,859.3 1627.5,850.6 1630.7,838.1 1633.2,822.0 1634.9,854.3 1638.1,859.3 1641.9,861.7 1644.3,866.7 1646.3,875.4 1648.1,846.8 1650.6,861.7 1653.0,859.3 1655.5,866.7 1658.0,869.2 1659.8,875.4 1662.2,861.7 1664.7,855.5 1668.0,854.3 1670.4,858.0 1673.7,854.3 1676.1,838.1 1678.6,827.0 1681.1,849.3 1684.1,864.2 1686.1,870.4 1689.1,861.7 1692.0,863.0 1694.5,856.8 1697.8,855.5 1701.0,854.3 1704.0,844.3 1707.0,841.9 1708.9,838.1 1711.4,856.8 1713.9,870.4 1716.9,861.7 1720.1,858.0 1722.6,879.1 1724.3,891.6 1726.8,869.2 1729.3,835.7 1731.3,825.7 1733.8,844.3 1736.3,846.8 1739.3,853.0 1741.2,855.5 1743.7,859.3 1746.2,849.3 1749.9,846.8 1753.2,839.4 1756.1,838.1 1759.9,845.6 1763.6,841.9 1767.3,835.7 1771.1,830.7 1773.5,831.9 1776.0,838.1 1779.3,856.8 1780.0,852.3 1782.5,857.3 1785.0,851.8 1788.0,857.3 1790.4,844.8 1793.7,846.8 1796.1,853.5 1797.9,862.2 1799.9,873.4 1802.9,868.4 1804.8,859.8 1807.3,866.0 1810.3,867.2 1812.3,878.4 1815.3,887.6 1817.3,868.4 1819.3,867.2 1821.0,884.6 1824.7,889.6 1826.7,879.6 1828.4,861.0 1830.9,873.4 1833.4,875.9 1837.1,868.4 1839.6,859.8 1841.6,844.8 1843.4,857.3 1845.8,869.7 1847.6,857.3 1849.6,868.4 1852.0,863.5 1854.0,878.4 1855.8,849.8 1858.3,859.8 1860.7,858.5 1863.2,851.1 1866.2,842.4 1868.2,864.7 1870.7,866.7 1872.4,862.2 1874.4,843.6 1876.4,859.8 1881.9,861.0 1888.1,862.7 1890.6,883.4 1893.0,880.9 1894.8,878.4 1896.8,886.6 1900.5,894.5 1903.0,901.5 1905.5,894.0 1909.2,894.5 1910.4,899.0 1912.9,877.1 1915.4,864.7 1917.1,879.1 1919.6,873.4 1921.6,888.3 1924.6,882.6 1928.6,884.1 1930.3,892.0 1932.8,895.8 1935.3,902.0 1936.5,908.2 1939.0,888.3 1941.5,879.6 1943.5,867.2 1945.2,879.6 1947.7,868.4 1950.2,874.7 1951.9,894.5 1953.4,910.7 1955.2,893.3 1957.6,892.0 1960.1,904.5 1963.4,915.7 1965.1,892.0 1966.3,882.1 1968.3,892.0 1970.8,908.2 1972.5,885.8 1975.0,879.6 1977.5,884.1 1978.8,892.0 1981.2,890.8 1984.2,895.8 1987.5,892.0 1991.2,894.5 1996.1,898.3 2000.6,901.5 2003.6,908.2 2006.1,906.5 2008.1,919.4 2009.8,926.8 2012.3,921.9 2014.8,929.3 2017.3,925.6 2019.8,915.7 2022.2,913.2 2024.7,887.1 2026.0,879.6 2028.4,892.0 2030.4,885.8 2032.2,894.5 2033.9,886.6 2035.9,902.0 2037.9,916.9 2039.6,899.5 2041.4,894.0 2043.4,915.7 2045.8,926.8 2047.8,941.7 2049.6,927.3 2053.3,926.8 2055.3,939.3 2057.8,955.4 2060.7,957.9 2062.0,948.0 2064.5,946.7 2067.7,936.8 2069.4,950.4 2071.9,936.8 2074.4,928.1 2076.9,931.8 2079.4,919.4 2081.9,921.9 2084.3,936.8 2086.1,951.7 2089.3,936.8 2091.8,919.4 2093.5,902.0 2095.0,879.6 2096.8,854.8 2098.8,879.6 2100.5,885.8 2103.0,877.1 2105.0,897.0 2106.7,902.0 2109.2,899.5 2110.9,904.5 2114.2,897.0 2116.6,892.0 2119.1,882.1 2120.4,878.4 2122.4,888.3 2124.1,902.0 2126.6,919.4 2129.1,894.5 2132.3,889.6 2134.0,897.0 2136.5,889.1 2139.0,895.8 2142.2,894.5 2144.7,896.5 2147.7,905.7 2150.2,885.8 2153.2,872.2 2155.2,883.4 2157.6,894.5 2159.6,904.5 2162.6,899.5 2165.1,897.0 2166.3,885.8 2168.8,902.0 2172.0,908.9 2173.8,894.5 2176.3,872.2 2178.8,868.4 2181.2,853.5 2183.0,839.9 2186.2,838.6 2188.7,858.5 2190.4,870.9 2192.9,857.3 2194.9,877.1 2196.1,893.3 2199.4,894.5 2201.1,863.5 2203.6,857.3 2206.1,859.8 2207.8,877.1 2209.8,889.6 2212.3,852.3 2214.8,833.7 2216.8,854.8 2218.5,866.0 2221.0,857.3 2223.5,857.3 2226.0,873.4 2227.2,882.1 2229.2,872.2 2231.7,904.5 2233.4,894.5 2235.9,866.0 2237.6,883.4 2248.3,883.4 2250.1,902.0 2252.0,892.0 2254.5,897.0 2257.0,904.5 2260.7,894.5 2263.2,892.0 2265.7,880.9 2268.2,894.5 2271.4,882.1 2273.2,909.4 2275.7,921.9 2278.1,910.7 2280.6,911.9 2283.1,926.8 2285.6,934.3 2288.1,929.3 2290.6,916.9 2293.0,929.3 2295.5,918.1 2297.3,924.3 2299.8,905.7 2301.7,899.5 2305.5,898.3 2308.0,890.8 2310.4,877.1 2311.7,868.4 2314.2,892.0 2316.6,910.7 2318.6,925.6 2321.1,897.0 2323.6,902.0 2325.3,914.4 2327.8,924.3 2329.1,936.8 2332.8,919.4 2336.5,909.4 2339.5,899.5 2342.0,928.1 2344.0,914.4 2346.0,913.2 2347.7,894.5 2350.2,873.4 2352.7,861.0 2355.2,863.5 2356.4,883.4 2360.1,882.1 2362.6,864.7 2364.3,868.4 2366.8,851.1 2369.3,893.3 2375.0,889.6 2380.7,885.1 2383.7,899.5 2386.2,919.4 2388.2,931.3 2389.9,902.0 2391.7,920.6 2394.2,915.7 2397.4,913.9 2401.1,918.1 2404.8,905.7 2407.3,907.0 2411.1,895.8 2414.8,894.5 2417.3,907.0 2418.6,921.4 2421.1,923.9 2424.8,918.9 2427.8,913.9 2430.3,904.0 2432.3,886.6 2434.8,872.9 2437.3,869.2 2439.3,908.9 2441.0,922.6 2443.5,923.9 2446.0,928.8 2448.4,941.2 2450.9,943.7 2453.4,921.4 2455.9,899.0 2457.6,881.6 2459.6,877.9 2462.1,864.2 2464.1,853.0 2466.6,879.1 2469.1,874.2 2470.8,881.6 2473.3,864.2 2474.5,851.8 2477.0,849.3 2479.0,869.2 2480.7,879.1 2483.2,882.9 2485.7,871.7 2487.5,849.3 2488.9,827.0 2490.7,851.8 2492.4,874.2 2494.4,891.6 2496.4,879.1 2498.9,869.2 2501.9,851.8 2503.9,841.9 2506.3,825.7 2508.1,848.1 2510.6,846.8 2513.0,843.1 2514.8,866.7 2516.3,844.3 2518.8,830.7 2520.5,817.0 2522.2,834.4 2524.2,839.4 2526.7,833.2 2529.2,827.0 2531.2,844.3 2532.9,839.4 2534.7,866.7 2536.1,844.3 2538.6,851.8 2541.1,863.0 2542.9,861.7 2544.6,854.3 2546.6,845.6 2547.8,840.6 2549.1,869.2 2551.1,879.1 2554.0,877.9 2557.0,874.2 2560.2,870.4 2562.7,869.2 2564.0,900.2 2566.0,866.7 2568.4,877.9 2570.9,886.6 2572.7,879.1 2575.2,874.2 2577.6,889.1 2579.4,882.9 2582.6,895.3 2584.3,869.2 2586.3,846.8 2588.3,849.3 2590.8,853.0 2592.5,864.2 2596.3,876.6 2598.8,861.7 2600.0,844.3 2602.5,868.0 2605.0,869.2 2611.2,866.7 2613.2,838.1 2614.9,830.7 2616.6,844.3 2618.6,856.8 2621.1,864.2 2623.6,879.1 2625.6,886.6 2627.3,901.5 2631.1,899.0 2633.5,887.8 2635.5,876.6 2637.3,899.0 2639.8,886.6 2642.2,879.1 2644.7,874.2 2646.5,859.3 2648.0,849.3 2649.7,881.6 2651.4,889.1 2653.9,908.9 2658.4,910.2 2660.4,897.8 2662.9,904.0 2665.8,894.0 2668.3,882.9 2670.3,891.6 2672.8,877.9 2675.3,866.7 2677.8,870.4 2680.2,856.8 2682.7,882.9 2685.7,869.2 2687.7,884.1 2689.4,906.5 2691.2,925.1 2693.7,921.4 2695.7,932.5 2697.6,933.8 2700.1,926.3 2703.1,928.8 2704.3,908.9 2706.1,931.3 2708.6,951.2 2710.6,933.8 2713.0,942.5 2716.0,931.3 2718.5,943.7 2721.0,936.3 2723.5,941.2 2728.0,953.7 2731.7,966.1 2734.2,967.3 2736.6,953.7 2739.1,952.4 2741.6,947.5 2743.4,936.3 2745.3,956.1 2747.3,933.8 2749.1,922.6 2751.6,928.8 2753.3,901.5 2755.8,918.9 2757.8,932.5 2759.8,917.6 2762.7,913.9 2765.2,901.5 2767.2,918.9 2769.7,925.1 2772.2,915.2 2774.7,926.3 2777.1,931.3 2779.6,958.6 2782.6,943.7 2785.6,931.3 2788.8,923.9 2792.0,913.9 2793.8,936.3 2795.5,957.4 2797.5,943.7 2800.0,923.9 2802.0,945.0 2803.0,946.2" stroke="#7f7f7f"/>
<polyline points="517.9,640.0 521.1,645.0 524.1,653.7 526.8,652.4 529.3,657.4 532.3,656.1 535.3,654.9 537.8,654.9 539.3,684.7 542.2,682.2 545.2,669.8 549.2,658.6 553.4,666.1 558.4,673.5 562.1,687.2 565.1,689.7 568.3,693.4 572.0,697.1 577.0,698.4 582.0,699.6 587.0,702.1 591.9,704.6 595.7,714.5 597.4,727.0 599.4,735.7 602.4,738.1 604.3,759.3 606.3,784.1 609.3,797.8 612.3,786.6 614.8,784.1 616.8,792.8 619.3,779.1 621.7,766.7 624.2,771.7 627.2,766.7 629.7,774.2 631.7,761.7 634.2,769.2 635.4,782.9 637.9,769.2 640.4,759.3 643.6,746.8 646.6,749.3 649.1,744.3 652.0,739.4 655.3,745.6 657.8,734.4 661.0,738.1 663.5,744.3 665.2,748.1 667.7,738.1 670.9,735.7 673.4,739.4 676.4,733.2 678.9,738.1 681.4,744.3 684.3,736.9 687.6,746.8 690.8,741.9 693.3,728.2 695.8,738.1 698.3,750.6 701.2,741.9 703.7,749.3 706.7,736.9 709.9,739.4 713.2,744.3 716.1,734.4 718.6,739.4 722.4,736.9 725.6,731.9 728.6,730.7 732.3,735.7 736.0,731.9 738.5,738.1 741.5,727.0 744.7,739.4 748.0,741.9 750.9,739.4 753.4,744.3 755.9,749.3 758.4,734.4 760.9,725.7 763.4,739.4 765.8,746.8 769.6,746.8 772.8,748.1 775.8,738.1 778.3,744.3 780.7,741.9 783.2,751.8 785.7,739.4 788.7,734.4 791.9,736.9 795.7,735.7 798.1,727.0 800.6,722.0 804.3,718.3 808.1,722.0 811.8,729.4 815.5,739.4 819.3,735.7 823.0,746.8 826.7,744.3 830.4,734.4 834.2,739.4 836.6,749.3 839.1,746.8 842.4,741.9 845.3,746.8 849.1,744.3 852.8,734.4 856.5,749.3 859.0,750.6 862.7,751.8 866.5,754.3 870.2,749.3 873.9,755.5 877.1,756.8 879.6,744.3 881.4,736.9 883.9,729.4 887.6,734.4 891.3,727.0 895.0,722.0 897.5,718.3 902.5,714.5 909.9,712.0 917.4,715.8 919.9,720.7 923.6,724.5 927.3,723.2 931.1,727.0 934.8,725.7 938.5,734.4 941.7,738.1 944.7,731.9 947.2,728.2 950.9,724.5 954.7,719.5 958.4,718.3 961.6,722.0 963.4,739.4 965.8,759.3 969.1,786.6 972.0,801.5 975.0,810.2 978.3,813.9 981.5,811.4 984.5,799.0 987.5,786.6 990.7,779.1 993.2,769.2 995.7,764.2 997.6,739.4 999.4,717.0 1004.3,704.6 1011.8,697.1 1018.0,689.7 1020.5,674.8 1023.0,666.1 1024.7,664.8 1026.7,679.8 1030.4,689.7 1034.2,687.2 1037.9,679.8 1040.4,672.3 1042.9,687.2 1046.6,694.7 1054.0,699.6 1061.5,702.1 1071.4,699.6 1081.4,702.1 1091.3,698.4 1101.2,699.6 1107.5,689.7 1111.2,693.4 1118.6,699.6 1126.1,697.1 1133.5,694.7 1139.3,693.4 1140.0,699.0 1149.9,701.5 1159.9,699.0 1169.8,696.5 1179.8,699.0 1189.7,689.1 1193.4,675.4 1195.9,671.7 1199.6,670.4 1202.1,679.1 1205.1,691.6 1209.6,699.0 1217.0,696.5 1223.2,689.1 1225.7,686.6 1229.4,694.0 1239.4,701.5 1251.8,704.0 1264.2,699.0 1274.2,689.1 1279.1,675.4 1284.1,671.7 1289.1,679.1 1294.0,691.6 1299.0,686.6 1301.5,679.1 1305.2,681.6 1308.9,689.1 1313.9,699.0 1321.4,704.0 1327.6,711.4 1328.7,719.5 1330.2,725.7 1331.8,728.8 1332.5,739.7 1333.8,736.6 1334.9,727.3 1336.4,724.2 1338.8,725.7 1341.1,723.4 1343.4,724.9 1345.7,721.8 1348.1,723.4 1350.4,724.9 1352.7,722.6 1355.1,723.4 1356.6,726.5 1358.9,730.4 1360.5,727.3 1362.0,721.1 1363.6,719.5 1372.9,713.3 1388.4,710.2 1404.0,711.7 1419.5,708.6 1435.8,719.5 1437.4,724.2 1439.7,727.3 1442.0,726.5 1444.0,731.9 1445.9,725.7 1448.2,723.4 1450.6,728.0 1452.9,728.8 1455.2,724.9 1456.8,719.5 1459.9,713.3 1463.0,719.5 1465.3,725.7 1467.6,730.4 1470.0,727.3 1472.3,723.4 1473.9,719.5 1489.4,708.6 1512.7,705.5 1536.0,702.4 1523.3,699.3 1538.8,693.1 1562.1,699.3 1593.2,696.2 1608.7,699.3 1607.1,699.0 1613.3,679.1 1617.0,669.2 1622.0,661.7 1627.0,666.7 1630.7,660.5 1633.2,674.2 1636.9,679.1 1641.9,684.1 1646.8,671.7 1650.6,661.7 1653.0,653.0 1655.5,664.2 1659.3,656.8 1663.0,661.7 1666.7,669.2 1670.4,656.8 1672.9,674.2 1676.6,679.1 1680.4,694.0 1684.1,684.1 1686.6,689.1 1690.3,701.5 1692.0,717.6 1692.5,730.4 1694.1,752.1 1695.7,777.0 1697.2,790.9 1699.5,798.7 1701.9,801.8 1704.2,792.5 1706.5,783.2 1708.1,773.9 1709.6,766.1 1712.0,767.6 1714.3,770.7 1716.6,759.9 1718.9,763.0 1721.3,766.1 1723.6,755.2 1725.9,749.0 1728.3,745.9 1730.6,742.8 1732.9,741.2 1735.2,739.7 1737.6,742.8 1739.9,744.3 1742.2,739.7 1744.6,752.1 1746.9,756.8 1749.2,758.3 1751.6,755.2 1753.4,741.2 1755.0,735.0 1757.0,744.3 1759.0,747.5 1760.9,742.8 1762.4,755.2 1764.0,758.3 1766.3,736.6 1767.9,741.2 1769.4,727.3 1771.0,747.5 1772.5,728.8 1774.8,725.7 1777.2,722.6 1779.5,721.8 1781.8,723.4 1784.2,721.1 1786.5,719.5 1795.0,713.3 1802.8,711.7 1810.6,719.5 1812.1,724.2 1815.2,726.5 1818.3,727.3 1820.7,728.8 1823.0,725.7 1825.3,730.4 1827.6,733.5 1830.0,736.6 1832.3,738.1 1834.6,733.5 1837.0,728.8 1839.3,727.3 1841.6,738.1 1843.2,730.4 1845.5,727.3 1847.8,725.7 1850.2,724.2 1852.5,719.5 1857.1,714.8 1860.2,719.5 1862.6,725.7 1864.9,728.8 1868.0,725.7 1870.3,719.5 1880.4,713.3 1895.2,719.5 1896.7,725.7 1898.3,727.3 1899.5,724.2 1894.0,719.5 1895.5,725.7 1897.9,722.6 1899.4,719.5 1906.4,713.3 1913.4,719.5 1914.9,733.5 1916.5,747.5 1918.0,736.6 1920.4,730.4 1922.7,727.3 1925.0,721.1 1927.4,723.4 1929.7,719.5 1957.6,708.6 2004.2,705.5 2035.3,708.6 2053.9,719.5 2055.5,733.5 2057.0,741.2 2058.6,736.6 2060.9,749.0 2063.2,761.4 2065.6,758.3 2067.9,755.2 2070.2,752.1 2072.5,736.6 2074.9,727.3 2077.2,719.5 2097.4,710.2 2128.4,708.6 2159.5,710.2 2168.0,719.5 2169.6,730.4 2171.9,735.0 2174.3,736.6 2176.6,733.5 2178.9,728.8 2181.2,721.1 2183.6,719.5 2206.1,711.7 2237.1,710.2 2279.5,708.6 2283.3,708.6 2301.9,719.5 2304.3,721.1 2306.6,719.5 2308.9,721.1 2310.5,730.4 2312.0,739.7 2313.6,733.5 2315.1,719.5 2322.1,710.2 2419.1,703.4 2429.1,698.4 2439.0,690.9 2442.7,686.0 2446.5,678.5 2448.9,676.0 2450.9,648.7 2453.9,638.8 2457.6,632.5 2460.1,641.2 2461.9,636.3 2463.9,648.7 2466.3,635.0 2470.1,633.8 2471.8,646.2 2475.0,652.4 2476.8,651.2 2478.8,659.9 2480.7,647.5 2482.5,653.7 2484.2,652.4 2486.2,659.9 2489.9,652.4 2492.4,645.0 2494.9,637.5 2497.4,642.5 2499.9,638.8 2501.9,651.2 2504.8,645.0 2506.6,649.9 2508.6,638.8 2511.1,633.8 2513.5,628.8 2516.0,625.1 2518.0,628.8 2519.8,623.9 2522.2,619.4 2524.7,625.1 2527.2,631.3 2528.4,638.8 2530.9,623.9 2533.4,648.7 2535.9,638.8 2538.4,636.3 2540.9,632.5 2542.9,651.2 2544.6,652.4 2547.1,641.2 2549.6,638.8 2552.0,642.5 2554.5,631.3 2557.0,636.3 2559.5,638.8 2562.0,631.3 2563.7,623.9 2564.5,574.2 2565.2,623.9 2567.0,631.3 2569.4,630.1 2571.2,638.8 2573.7,631.3 2576.1,628.8 2578.1,641.2 2580.6,645.0 2583.6,638.8 2586.1,647.5 2589.3,652.4 2591.8,654.9 2594.3,638.8 2596.8,625.1 2599.3,631.3 2600.5,622.6 2603.0,628.8 2606.0,632.5 2609.2,636.3 2611.7,638.8 2613.4,659.9 2615.4,646.2 2617.9,632.5 2619.9,625.1 2622.4,633.8 2624.8,628.8 2627.8,636.3 2630.3,647.5 2633.3,631.3 2635.3,641.2 2637.8,646.2 2640.2,643.7 2642.2,654.9 2645.2,651.2 2647.7,658.1 2650.2,648.7 2652.7,638.8 2655.2,635.0 2657.6,643.7 2660.1,641.2 2663.9,640.0 2666.3,642.5 2668.1,659.9 2670.6,646.2 2673.8,642.5 2676.3,645.0 2679.5,642.5 2681.2,626.3 2684.5,625.1 2687.5,629.3 2689.9,622.6 2692.9,617.6 2694.9,626.3 2697.9,631.3 2700.4,630.1 2702.9,636.3 2706.1,638.8 2707.8,635.0 2711.1,642.5 2714.8,651.2 2718.5,657.4 2722.2,659.9 2726.0,661.1 2729.7,662.4 2732.7,656.1 2735.9,649.9 2738.4,648.7 2741.6,636.3 2743.4,643.7 2745.8,642.5 2748.3,641.2 2750.8,652.4 2753.3,648.7 2755.8,647.5 2757.5,643.7 2760.0,659.9 2763.2,656.1 2765.0,652.4 2767.0,663.6 2769.9,651.2 2773.2,647.5 2774.9,658.6 2776.9,668.6 2779.4,682.2 2781.4,703.4 2783.1,725.7 2784.8,748.1 2786.8,760.0 2784.2,764.5 2785.3,765.7 2786.5,755.2 2787.7,750.6 2788.8,758.7 2790.6,759.9 2792.3,755.2 2794.1,751.7 2795.8,750.6 2797.6,745.9 2798.7,744.7 2799.9,752.9 2801.1,758.7 2802.2,750.6 2803.4,748.2" stroke="#bcbd22"/>
<polyline points="2270.7,704.3 2272.4,682.0 2274.4,672.0 2276.4,684.5 2278.1,704.3" stroke="#bcbd22"/>
<polyline points="2284.3,704.3 2286.3,674.5 2288.1,659.6 2289.8,672.0 2291.8,704.3" stroke="#bcbd22"/>
<polyline points="517.9,753.0 519.9,756.8 522.9,754.3 526.1,751.8 529.3,743.1 532.3,731.9 535.3,720.7 537.8,727.0 539.8,724.5 542.2,728.2 545.2,725.7 547.2,739.4 549.7,755.5 553.4,756.8 558.4,758.0 560.9,744.3 564.1,735.7 567.1,734.4 569.6,724.5 572.0,715.8 573.3,697.1 577.0,682.2 580.0,672.3 583.2,669.8 585.7,667.3 589.4,663.6 591.4,684.7 593.2,697.1 596.9,699.6 601.9,702.1 606.8,689.7 610.6,681.0 614.3,679.8 616.8,692.2 619.3,704.6 624.2,712.0 629.2,717.0 631.2,739.4 634.2,725.7 636.6,731.9 639.1,728.2 641.6,729.4 644.1,749.3 646.6,751.8 649.1,746.8 652.0,741.9 654.5,736.9 657.0,722.0 659.0,733.2 662.0,735.7 664.5,740.6 667.0,729.4 670.2,730.7 673.4,728.2 676.4,734.4 679.4,733.2 682.6,725.7 685.8,740.6 688.3,729.4 690.8,722.0 693.8,717.0 698.8,712.0 706.2,709.6 713.7,712.0 718.6,717.0 720.6,738.1 723.6,727.0 726.1,717.0 731.1,713.3 734.8,717.0 736.0,722.0 739.0,735.7 741.5,727.0 744.7,724.5 748.4,717.0 755.9,712.0 765.8,697.1 770.8,693.4 773.3,712.0 780.7,713.3 785.7,717.0 786.2,738.1 789.4,740.6 796.9,741.9 798.1,717.0 803.1,713.3 809.3,717.0 810.6,727.0 813.5,722.0 815.0,724.5 815.5,738.1 818.0,749.3 820.5,761.7 823.0,756.8 825.5,750.6 828.4,755.5 831.7,753.0 834.2,758.0 837.4,754.3 840.4,753.0 842.9,761.7 845.8,772.9 848.3,761.7 850.8,739.4 853.3,735.7 856.5,724.5 859.8,725.7 861.5,749.3 864.0,746.8 866.5,735.7 868.9,718.3 871.4,717.0 872.7,728.2 875.2,719.5 877.6,718.3 879.6,717.0 880.1,892.2 883.9,893.4 887.6,883.5 891.3,886.0 895.0,889.7 900.0,892.2 903.7,893.4 913.7,898.4 916.1,889.7 919.9,890.9 922.4,884.7 925.3,882.2 928.6,874.8 931.1,878.5 934.3,868.6 937.3,877.3 940.2,876.0 943.5,874.8 946.0,871.1 948.4,872.3 950.9,878.5 953.4,886.0 957.1,873.5 960.9,879.8 963.4,876.0 966.6,879.8 969.6,882.2 972.0,874.8 975.0,878.5 978.3,882.2 982.0,878.5 984.5,867.3 987.5,873.5 990.7,874.8 993.9,872.3 996.9,871.1 999.9,874.8 1003.1,877.3 1006.8,879.8 1010.6,878.5 1014.3,868.6 1018.0,881.0 1020.5,873.5 1023.0,879.8 1025.5,889.7 1028.7,882.2 1031.7,877.3 1035.4,873.5 1039.1,871.1 1042.9,864.8 1045.3,859.9 1047.8,856.1 1051.1,861.1 1054.0,864.8 1057.8,862.4 1061.0,867.3 1064.0,874.8 1067.0,882.2 1070.2,873.5 1073.9,864.8 1076.4,858.6 1080.1,863.6 1083.9,868.6 1087.6,866.1 1090.8,873.5 1093.8,878.5 1097.5,876.0 1101.2,877.3 1105.0,878.5 1108.7,874.8 1112.4,876.0 1116.1,874.8 1119.9,868.6 1122.4,861.1 1126.1,864.8 1129.8,858.6 1133.5,863.6 1137.3,864.8 1139.3,862.4 1140.0,864.2 1142.5,869.2 1144.5,863.0 1146.2,875.4 1148.7,870.4 1152.4,868.0 1156.1,866.2 1159.9,864.2 1162.9,856.8 1164.8,855.5 1167.3,864.2 1169.8,860.5 1172.3,859.3 1174.8,866.7 1177.3,875.4 1179.8,864.2 1182.7,861.7 1186.0,856.8 1189.7,851.8 1192.2,849.3 1194.2,838.1 1196.6,836.9 1199.6,840.6 1202.1,849.3 1205.1,848.1 1208.3,846.8 1210.8,856.8 1213.3,863.0 1215.8,869.2 1218.3,865.5 1221.5,861.7 1224.5,855.5 1227.0,844.3 1229.4,849.3 1232.4,848.1 1235.7,850.6 1238.1,849.3 1240.6,855.5 1243.9,858.0 1246.8,859.3 1248.8,841.9 1251.3,846.8 1253.8,840.6 1256.3,849.3 1259.3,846.8 1261.7,856.8 1264.2,849.3 1267.2,844.3 1270.4,840.6 1274.2,838.1 1277.1,835.7 1279.1,839.4 1282.9,828.9 1285.3,834.4 1289.1,831.9 1292.8,829.9 1295.3,835.7 1297.0,846.8 1299.0,853.0 1302.7,855.5 1306.0,856.8 1308.9,853.0 1311.4,846.8 1313.9,853.0 1316.9,849.3 1318.9,845.6 1322.6,853.0 1325.8,849.3 1328.8,846.8 1331.8,844.3 1335.0,840.6 1337.5,841.9 1339.3,849.3 1341.7,851.8 1344.2,849.3 1346.7,855.5 1349.9,848.1 1353.7,846.3 1356.1,841.9 1358.6,838.1 1361.1,829.4 1363.1,825.7 1364.8,830.7 1367.3,835.7 1369.8,839.4 1372.3,844.3 1373.5,849.3 1376.0,839.4 1378.5,834.4 1381.0,831.9 1383.5,834.4 1386.0,827.0 1388.4,824.5 1390.4,830.7 1393.4,822.0 1395.9,825.7 1398.4,831.9 1400.9,834.4 1404.6,838.1 1407.1,835.7 1409.6,833.2 1412.0,828.2 1415.8,825.7 1418.3,822.0 1420.7,814.5 1423.2,812.0 1425.7,817.0 1428.2,813.3 1430.7,814.5 1433.2,810.8 1436.1,814.5 1439.4,812.0 1441.9,810.8 1444.3,813.3 1447.6,809.6 1450.6,814.5 1453.0,812.0 1455.5,807.1 1458.0,813.3 1460.5,808.3 1463.0,810.8 1466.0,804.6 1468.0,800.9 1469.9,795.9 1471.7,810.8 1474.2,813.3 1476.6,808.3 1479.1,810.8 1481.6,807.1 1484.1,805.8 1485.8,815.8 1488.3,822.0 1491.6,818.3 1495.3,814.5 1499.0,813.3 1501.5,819.5 1504.0,814.5 1507.2,812.0 1510.2,814.5 1512.7,809.6 1515.7,812.0 1518.9,814.5 1522.6,818.3 1526.3,822.0 1528.8,814.5 1530.6,805.8 1532.5,803.4 1535.0,812.0 1537.5,817.0 1540.0,813.3 1542.5,805.8 1545.0,793.4 1548.7,792.2 1551.2,795.9 1553.7,799.6 1555.4,793.4 1558.6,792.2 1562.4,793.4 1564.8,795.9 1566.8,788.4 1569.3,790.9 1571.8,783.5 1574.8,778.5 1577.3,783.5 1580.2,786.0 1583.5,781.0 1586.7,779.8 1589.2,789.7 1592.2,793.4 1594.7,795.9 1597.1,803.4 1599.6,810.8 1602.6,804.6 1605.8,807.1 1608.3,808.3 1610.8,804.6 1613.3,807.1 1616.5,803.4 1619.0,805.8 1622.0,802.1 1624.5,800.9 1626.5,807.1 1628.9,804.6 1631.9,808.3 1634.4,819.5 1636.9,822.0 1640.6,820.7 1644.3,819.5 1648.1,818.3 1650.6,813.3 1653.8,809.6 1656.8,810.8 1659.8,805.8 1663.0,807.1 1665.5,803.4 1668.0,809.6 1670.4,805.8 1674.2,799.6 1676.6,805.8 1679.1,803.4 1681.6,808.3 1685.3,805.8 1687.8,802.1 1690.3,815.8 1692.8,823.2 1696.5,819.5 1699.0,813.3 1702.0,809.6 1705.2,814.5 1707.7,812.0 1710.2,820.7 1713.9,822.0 1716.4,814.5 1720.1,812.0 1722.6,819.5 1726.3,810.8 1730.1,808.3 1733.8,809.6 1736.3,807.1 1740.0,808.3 1743.2,805.8 1746.2,809.6 1749.9,807.1 1753.7,805.8 1757.4,808.3 1761.1,805.8 1764.8,807.1 1768.6,802.1 1772.3,808.3 1776.0,807.1 1779.3,812.0 1779.5,804.9 1781.8,801.8 1784.2,790.9 1785.7,752.1 1786.5,730.4 1788.0,727.3 1789.6,731.9 1791.9,733.5 1793.5,735.0 1795.0,723.4 1797.4,722.6 1798.9,736.6 1800.5,747.5 1802.0,739.7 1803.6,736.6 1805.1,727.3 1806.7,719.5 1808.2,727.3 1810.6,733.5 1812.9,735.0 1815.2,735.8 1817.5,733.5 1819.6,747.5 1821.4,749.0 1823.8,739.7 1826.1,730.4 1827.6,723.4 1829.2,719.5 1838.5,716.4 1847.8,719.5 1849.4,722.6 1850.9,719.5 1863.4,716.4 1875.8,719.5 1878.9,722.6 1882.0,725.7 1885.1,728.8 1888.2,726.5 1889.8,736.6 1891.0,755.2 1892.1,770.7 1893.6,758.3 1896.0,755.2 1898.3,752.1 1899.5,749.0 1901.0,755.2 1902.5,764.5 1904.1,775.4 1905.6,764.5 1908.0,752.1 1909.5,736.6 1911.1,721.1 1911.8,719.5 1926.6,714.8 1946.8,719.5 1948.3,722.6 1950.7,719.5 1960.7,719.5 1963.1,724.2 1965.4,719.5 1976.3,719.5 1979.4,721.1 1981.7,724.2 1984.0,730.4 1986.4,735.0 1988.7,724.2 1991.0,721.1 1993.4,719.5 1995.7,725.7 1998.0,730.4 1999.6,719.5 2019.8,714.8 2044.6,719.5 2046.1,736.6 2047.7,755.2 2050.0,749.0 2052.4,742.8 2054.7,755.2 2057.0,764.5 2059.3,749.0 2061.7,739.7 2064.0,745.9 2066.3,736.6 2068.7,733.5 2071.0,741.2 2073.3,735.0 2075.7,731.9 2078.0,744.3 2080.3,735.0 2081.9,721.1 2083.4,752.1 2085.7,767.6 2088.1,758.3 2090.4,764.5 2092.0,749.0 2093.5,733.5 2095.1,724.2 2097.4,736.6 2099.7,744.3 2102.0,731.9 2103.6,719.5 2105.9,727.3 2108.3,739.7 2110.6,749.0 2112.1,756.8 2113.7,749.0 2116.0,744.3 2118.4,738.1 2120.7,741.2 2123.0,733.5 2125.3,728.8 2127.7,731.9 2130.0,727.3 2132.3,728.8 2134.7,725.7 2137.0,730.4 2139.3,733.5 2141.6,739.7 2144.0,749.0 2146.3,761.4 2147.9,767.6 2150.2,755.2 2152.5,749.0 2154.1,735.0 2156.4,744.3 2158.7,752.1 2161.1,755.2 2163.4,749.0 2165.7,733.5 2168.0,719.5 2182.8,714.8 2196.8,719.5 2199.1,724.2 2201.4,730.4 2203.8,727.3 2206.1,744.3 2208.4,770.7 2210.7,758.3 2213.1,741.2 2215.4,727.3 2217.7,719.5 2220.1,730.4 2222.4,736.6 2224.7,725.7 2227.0,735.0 2229.4,731.9 2231.7,736.6 2234.0,719.5 2236.4,735.0 2241.8,739.7 2246.5,742.8 2248.8,752.1 2250.3,763.0 2251.9,744.3 2253.4,735.0 2255.8,742.8 2258.1,733.5 2259.7,719.5 2268.2,719.5 2271.3,721.1 2275.2,719.5 2279.5,718.0 2281.7,742.8 2284.1,747.5 2286.4,733.5 2288.0,719.5 2306.6,714.8 2326.8,719.5 2328.3,741.2 2330.7,742.8 2333.0,736.6 2334.5,719.5 2353.2,714.8 2368.7,719.5 2371.8,721.1 2374.9,723.4 2378.0,725.7 2381.1,727.3 2384.2,723.4 2386.6,724.9 2388.9,726.5 2391.2,739.7 2392.8,747.5 2395.1,746.7 2397.4,739.7 2399.8,736.6 2402.1,733.5 2404.4,730.4 2406.7,728.0 2409.1,731.9 2411.4,724.2 2413.0,719.5 2415.3,719.5 2417.6,725.7 2419.9,741.2 2422.3,748.2 2423.8,736.6 2425.4,724.2 2426.9,719.5 2432.4,714.8 2438.6,719.5 2440.9,722.6 2443.2,728.8 2445.6,735.0 2447.9,725.7 2450.2,721.1 2452.5,722.6 2454.1,719.5 2466.5,714.8 2478.9,719.5 2481.3,724.2 2483.6,722.6 2485.9,719.5 2489.8,719.5 2491.4,735.0 2492.9,749.0 2494.8,756.8 2496.8,741.2 2499.1,730.4 2501.5,721.1 2503.0,719.5 2505.3,724.2 2506.9,730.4 2508.4,721.1 2510.0,730.4 2512.3,719.5 2516.2,714.8 2520.9,719.5 2524.0,722.6 2527.1,725.7 2529.4,736.6 2531.0,752.1 2532.5,758.3 2534.1,763.0 2535.6,736.6 2536.7,719.5 2538.0,730.4 2539.5,741.2 2541.8,739.7 2543.4,753.7 2545.7,735.0 2547.3,731.9 2549.1,749.0 2551.1,750.6 2553.5,764.5 2555.0,755.2 2557.4,745.9 2559.7,739.7 2562.0,731.9 2564.0,752.1 2565.1,763.0 2566.7,736.6 2569.0,738.1 2571.3,755.2 2572.9,741.2 2575.2,733.5 2577.5,739.7 2579.1,727.3 2580.7,719.5 2590.7,714.8 2601.6,719.5 2606.3,721.8 2610.9,721.1 2613.3,719.5 2615.6,728.8 2617.9,742.8 2620.2,753.7 2622.6,763.0 2624.1,767.6 2626.5,752.1 2628.8,738.1 2631.1,736.6 2633.4,733.5 2635.8,721.1 2637.3,719.5 2638.9,728.8 2641.2,722.6 2643.5,730.4 2645.9,735.0 2648.2,727.3 2649.8,721.1 2652.1,733.5 2654.4,745.9 2656.7,738.1 2658.3,730.4 2659.5,731.9 2660.7,728.4 2661.9,719.1 2662.5,717.9 2671.8,714.5 2681.7,717.9 2682.9,726.1 2684.6,723.8 2686.4,717.9 2688.1,720.3 2689.3,743.6 2691.0,738.9 2692.8,734.3 2694.5,743.6 2696.3,740.1 2698.0,736.6 2699.2,724.9 2700.9,719.1 2702.1,717.9 2705.0,715.0 2707.9,717.9 2709.6,720.3 2710.8,717.9 2723.0,714.5 2735.8,717.9 2737.6,721.4 2739.3,723.8 2741.1,717.9 2742.8,719.1 2744.6,723.8 2746.3,726.1 2748.1,720.3 2749.2,729.6 2751.0,734.3 2752.2,726.1 2753.9,735.4 2755.6,738.9 2756.8,741.2 2758.0,724.9 2759.7,717.9 2775.4,714.5 2792.9,717.9 2794.1,723.8 2795.2,726.1 2797.0,728.4 2798.7,737.7 2800.5,729.6 2802.2,728.4 2803.4,730.8" stroke="#17becf"/>
<polyline points="1837.6,709.3 1839.6,674.5 1840.9,658.4 1842.1,674.5 1844.1,709.3" stroke="#17becf"/>
<polyline points="1863.2,709.3 1865.0,682.0 1866.2,674.5 1867.5,684.5 1868.9,709.3" stroke="#17becf"/>
<polyline points="2026.0,709.3 2028.4,674.5 2030.9,682.0 2033.4,673.3 2036.4,682.0 2039.6,672.0 2040.9,682.0 2042.9,709.3" stroke="#17becf"/>
<polyline points="2180.0,709.3 2182.5,672.0 2184.5,664.6 2186.2,658.4 2188.0,669.6 2189.9,674.5 2192.4,709.3" stroke="#17becf"/>
<polyline points="2342.0,709.3 2344.0,682.0 2346.0,664.6 2347.7,657.1 2350.2,649.7 2352.7,646.0 2354.4,649.7 2356.4,652.2 2358.4,659.6 2360.1,662.1 2362.6,655.9 2364.3,662.1 2366.3,664.6 2367.6,684.5 2368.8,709.3" stroke="#17becf"/>
<polyline points="518.1,713.0 521.1,713.3 524.1,714.0 527.1,713.0 530.1,713.3 533.1,710.5 536.1,712.7 539.1,712.8 542.1,711.7 545.1,713.7 548.1,714.5 551.1,710.6 554.1,709.8 557.1,710.1 560.1,709.5 563.1,709.3 566.1,708.8 569.1,709.7 572.1,711.1 575.1,713.7 578.1,711.6 581.1,712.2 584.1,713.9 587.1,715.4 590.1,714.2 593.1,714.7 596.1,714.7 599.1,714.5 602.1,711.4 605.1,712.3 608.1,712.1 611.1,711.2 614.1,711.8 617.1,712.5 620.1,715.0 623.1,714.3 626.1,712.6 629.1,711.8 632.1,711.4 635.1,710.7 638.1,712.5 641.1,712.1 644.1,709.7 647.1,710.7 650.1,710.5 653.1,711.3 656.1,711.4 659.1,713.6 662.1,713.2 665.1,714.3 668.1,715.0 671.1,713.6 674.1,712.9 677.1,711.4 680.1,711.0 683.1,711.6 686.1,712.7 689.1,715.0 692.1,714.0 695.1,715.7 698.1,712.7 701.1,715.1 704.1,715.6 707.1,714.7 710.1,715.1 713.1,713.3 716.1,716.3 719.1,711.4 722.1,714.2 725.1,710.9 728.1,711.5 731.1,713.9 734.1,711.3 737.1,711.2 740.1,710.9 743.1,709.4 746.1,710.5 749.1,712.4 752.1,711.6 755.1,713.1 758.1,712.3 761.1,714.1 764.1,716.0 767.1,714.5 770.1,711.9 773.1,711.8 776.1,710.7 779.1,713.1 782.1,710.2 785.1,712.8 788.1,711.5 791.1,711.8 794.1,713.8 797.1,714.4 800.1,716.3 803.1,715.1 806.1,715.7 809.1,711.5 812.1,709.0 815.1,709.9 818.1,709.3 821.1,711.6 824.1,709.6 827.1,709.6 830.1,711.8 833.1,707.6 836.1,708.9 839.1,710.2 842.1,708.3 845.1,707.4 848.1,708.1 851.1,709.1 854.1,711.2 857.1,708.6 860.1,709.4 863.1,711.6 866.1,710.8 869.1,710.7 872.1,713.8 875.1,712.1 878.1,711.5 881.1,710.5 884.1,712.4 887.1,709.0 890.1,712.3 893.1,714.2 896.1,708.7 899.1,710.8 902.1,711.2 905.1,709.4 908.1,707.2 911.1,707.3 914.1,712.1 917.1,711.5 920.1,710.5 923.1,709.6 926.1,709.7 929.1,707.7 932.1,708.9 935.1,709.2 938.1,710.5 941.1,709.6 944.1,708.8 947.1,710.8 950.1,711.3 953.1,706.6 956.1,709.8 959.1,711.3 962.1,711.0 965.1,710.8 968.1,708.5 971.1,708.9 974.1,712.5 977.1,709.9 980.1,713.4 983.1,712.3 986.1,710.0 989.1,711.7 992.1,712.6 995.1,712.8 998.1,711.0 1001.1,711.2 1004.1,711.2 1007.1,707.8 1010.1,706.8 1013.1,706.3 1016.1,709.3 1019.1,712.4 1022.1,709.3 1025.1,708.4 1028.1,709.3 1031.1,711.8 1034.1,711.1 1037.1,711.4 1040.1,710.8 1043.1,713.2 1046.1,708.9 1049.1,708.5 1052.1,710.5 1055.1,709.1 1058.1,707.2 1061.1,708.2 1064.1,706.9 1067.1,708.6 1070.1,708.6 1073.1,708.3 1076.1,709.3 1079.1,707.8 1082.1,707.8 1085.1,706.1 1088.1,708.5 1091.1,708.7 1094.1,709.1 1097.1,709.6 1100.1,711.2 1103.1,711.7 1106.1,709.5 1109.1,711.5 1112.1,710.6 1115.1,710.4 1118.1,708.5 1121.1,708.4 1124.1,708.1 1127.1,709.5 1130.1,710.9 1133.1,708.6 1136.1,708.2 1139.1,709.2 1142.1,709.2 1145.1,711.2 1148.1,713.8 1151.1,713.1 1154.1,713.7 1157.1,712.4 1160.1,712.8 1163.1,712.0 1166.1,711.4 1169.1,714.0 1172.1,712.1 1175.1,709.3 1178.1,709.7 1181.1,711.1 1184.1,709.6 1187.1,707.9 1190.1,708.7 1193.1,710.6 1196.1,709.0 1199.1,706.7 1202.1,708.3 1205.1,708.8 1208.1,712.0 1211.1,711.4 1214.1,708.5 1217.1,709.5 1220.1,709.4 1223.1,706.3 1226.1,708.6 1229.1,708.8 1232.1,708.1 1235.1,708.6 1238.1,708.4 1241.1,707.8 1244.1,708.7 1247.1,710.3 1250.1,710.9 1253.1,706.9 1256.1,708.7 1259.1,706.6 1262.1,708.0 1265.1,709.5 1268.1,708.6 1271.1,708.8 1274.1,709.5 1277.1,711.0 1280.1,706.8 1283.1,710.0 1286.1,708.6 1289.1,704.2 1292.1,707.1 1295.1,707.1 1298.1,708.0 1301.1,705.8 1304.1,707.6 1307.1,710.1 1310.1,708.2 1313.1,709.7 1316.1,709.7 1319.1,707.8 1322.1,706.4 1325.1,706.6 1328.1,707.0 1331.1,702.8 1334.1,704.7 1337.1,705.3 1340.1,704.9 1343.1,703.8 1346.1,704.9 1349.1,705.8 1352.1,706.2 1355.1,705.3 1358.1,706.9 1361.1,709.0 1364.1,709.9 1367.1,709.7 1370.1,711.9 1373.1,711.3 1376.1,709.2 1379.1,710.6 1382.1,710.9 1385.1,708.0 1388.1,709.6 1391.1,705.6 1394.1,710.5 1397.1,707.8 1400.1,706.7 1403.1,707.8 1406.1,709.0 1409.1,707.4 1412.1,708.6 1415.1,711.3 1418.1,712.7 1421.1,714.1 1424.1,711.0 1427.1,709.2 1430.1,709.2 1433.1,710.8 1436.1,710.3 1439.1,710.6 1442.1,713.2 1445.1,712.3 1448.1,714.0 1451.1,712.9 1454.1,713.0 1457.1,713.0 1460.1,710.4 1463.1,713.3 1466.1,715.0 1469.1,714.4 1472.1,712.3 1475.1,710.0 1478.1,711.5 1481.1,710.3 1484.1,710.4 1487.1,709.8 1490.1,710.7 1493.1,710.7 1496.1,711.6 1499.1,709.4 1502.1,712.0 1505.1,711.1 1508.1,710.1 1511.1,709.7 1514.1,711.1 1517.1,710.0 1520.1,707.5 1523.1,708.6 1526.1,709.8 1529.1,709.5 1532.1,707.7 1535.1,707.9 1538.1,708.6 1541.1,710.7 1544.1,708.7 1547.1,706.7 1550.1,707.3 1553.1,708.6 1556.1,709.5 1559.1,710.5 1562.1,709.6 1565.1,706.8 1568.1,709.3 1571.1,709.8 1574.1,708.7 1577.1,710.3 1580.1,710.0 1583.1,711.1 1586.1,709.3 1589.1,710.2 1592.1,709.2 1595.1,708.7 1598.1,708.3 1601.1,708.7 1604.1,709.6 1607.1,708.3 1610.1,708.1 1613.1,705.7 1616.1,706.5 1619.1,708.6 1622.1,709.1 1625.1,706.1 1628.1,709.6 1631.1,707.1 1634.1,707.2 1637.1,708.9 1640.1,708.6 1643.1,707.9 1646.1,709.5 1649.1,708.1 1652.1,707.7 1655.1,707.4 1658.1,708.5 1661.1,707.0 1664.1,706.9 1667.1,705.3 1670.1,706.8 1673.1,708.0 1676.1,707.5 1679.1,709.2 1682.1,708.5 1685.1,708.8 1688.1,708.8 1691.1,706.2 1694.1,706.0 1697.1,707.6 1700.1,705.2 1703.1,707.7 1706.1,708.4 1709.1,710.5 1712.1,708.6 1715.1,708.8 1718.1,708.3 1721.1,710.7 1724.1,711.1 1727.1,711.4 1730.1,711.9 1733.1,711.8 1736.1,708.1 1739.1,708.8 1742.1,710.8 1745.1,710.4 1748.1,709.3 1751.1,713.0 1754.1,711.7 1757.1,710.6 1760.1,709.3 1763.1,712.0 1766.1,712.2 1769.1,710.4 1772.1,712.0 1775.1,708.8 1778.1,709.6 1781.1,710.9 1784.1,710.2 1787.1,710.2 1790.1,707.4 1793.1,710.9 1796.1,709.2 1799.1,711.1 1802.1,709.8 1805.1,710.1 1808.1,710.5 1811.1,708.5 1814.1,708.5 1817.1,707.0 1820.1,707.3 1823.1,707.2 1826.1,707.1 1829.1,707.1 1832.1,707.8 1835.1,708.8 1838.1,707.1 1841.1,708.1 1844.1,707.6 1847.1,708.6 1850.1,707.9 1853.1,705.7 1856.1,706.0 1859.1,705.1 1862.1,705.7 1865.1,705.4 1868.1,709.1 1871.1,710.2 1874.1,706.2 1877.1,708.2 1880.1,710.3 1883.1,708.4 1886.1,710.0 1889.1,711.8 1892.1,710.8 1895.1,713.5 1898.1,712.6 1901.1,714.0 1904.1,711.8 1907.1,708.9 1910.1,710.7 1913.1,712.7 1916.1,710.5 1919.1,709.8 1922.1,707.7 1925.1,709.9 1928.1,710.3 1931.1,709.1 1934.1,708.9 1937.1,706.3 1940.1,708.2 1943.1,705.5 1946.1,708.1 1949.1,705.1 1952.1,705.0 1955.1,703.3 1958.1,704.6 1961.1,703.0 1964.1,703.5 1967.1,704.2 1970.1,701.0 1973.1,703.1 1976.1,702.1 1979.1,704.0 1982.1,702.5 1985.1,701.9 1988.1,702.9 1991.1,704.3 1994.1,705.2 1997.1,707.8 2000.1,707.7 2003.1,707.5 2006.1,706.9 2009.1,707.8 2012.1,706.8 2015.1,707.0 2018.1,704.7 2021.1,706.1 2024.1,706.6 2027.1,703.5 2030.1,703.6 2033.1,706.3 2036.1,705.6 2039.1,704.1 2042.1,705.7 2045.1,704.4 2048.1,706.4 2051.1,704.4 2054.1,704.3 2057.1,704.3 2060.1,707.4 2063.1,705.1 2066.1,704.7 2069.1,705.5 2072.1,708.8 2075.1,708.3 2078.1,706.5 2081.1,707.6 2084.1,707.5 2087.1,708.0 2090.1,705.9 2093.1,705.3 2096.1,706.1 2099.1,706.1 2102.1,704.4 2105.1,704.7 2108.1,707.5 2111.1,704.2 2114.1,706.5 2117.1,707.3 2120.1,707.8 2123.1,707.3 2126.1,706.5 2129.1,708.6 2132.1,708.6 2135.1,707.5 2138.1,709.5 2141.1,707.2 2144.1,708.0 2147.1,707.8 2150.1,710.2 2153.1,706.8 2156.1,708.5 2159.1,708.6 2162.1,710.2 2165.1,707.5 2168.1,710.7 2171.1,711.5 2174.1,708.1 2177.1,707.2 2180.1,707.9 2183.1,708.2 2186.1,709.5 2189.1,709.1 2192.1,707.9 2195.1,706.1 2198.1,707.2 2201.1,706.3 2204.1,707.5 2207.1,707.4 2210.1,705.0 2213.1,705.0 2216.1,706.6 2219.1,703.9 2222.1,706.8 2225.1,707.6 2228.1,706.2 2231.1,707.0 2234.1,705.7 2237.1,704.7 2240.1,705.0 2243.1,704.2 2246.1,705.4 2249.1,705.5 2252.1,703.0 2255.1,705.0 2258.1,705.4 2261.1,702.9 2264.1,704.1 2267.1,705.1 2270.1,705.0 2273.1,703.2 2276.1,705.0 2279.1,704.8 2282.1,705.4 2285.1,704.7 2288.1,702.4 2291.1,701.8 2294.1,700.9 2297.1,704.3 2300.1,703.3 2303.1,704.4 2306.1,702.3 2309.1,705.5 2312.1,706.0 2315.1,707.3 2318.1,704.9 2321.1,705.9 2324.1,706.5 2327.1,705.8 2330.1,706.2 2333.1,708.7 2336.1,708.0 2339.1,708.6 2342.1,708.2 2345.1,708.9 2348.1,706.1 2351.1,705.3 2354.1,706.2 2357.1,707.4 2360.1,707.8 2363.1,708.7 2366.1,706.4 2369.1,707.9 2372.1,707.6 2375.1,706.6 2378.1,707.0 2381.1,708.3 2384.1,709.0 2387.1,706.6 2390.1,708.6 2393.1,706.9 2396.1,708.0 2399.1,709.6 2402.1,705.7 2405.1,706.8 2408.1,707.8 2411.1,706.6 2414.1,704.7 2417.1,706.7 2420.1,706.2 2423.1,706.3 2426.1,705.8 2429.1,708.7 2432.1,708.4 2435.1,709.0 2438.1,709.5 2441.1,709.2 2444.1,709.4 2447.1,708.6 2450.1,707.8 2453.1,707.2 2456.1,706.3 2459.1,704.6 2462.1,703.6 2465.1,705.3 2468.1,705.3 2471.1,707.6 2474.1,705.5 2477.1,708.3 2480.1,705.3 2483.1,708.7 2486.1,709.9 2489.1,709.7 2492.1,710.4 2495.1,708.3 2498.1,708.4 2501.1,706.0 2504.1,706.7 2507.1,705.8 2510.1,709.5 2513.1,710.1 2516.1,706.5 2519.1,708.2 2522.1,707.5 2525.1,709.0 2528.1,705.4 2531.1,706.0 2534.1,705.6 2537.1,704.7 2540.1,704.5 2543.1,704.8 2546.1,704.7 2549.1,706.9 2552.1,705.5 2555.1,707.9 2558.1,705.0 2561.1,706.4 2564.1,706.4 2567.1,705.7 2570.1,706.6 2573.1,706.0 2576.1,705.4 2579.1,705.4 2582.1,703.5 2585.1,702.9 2588.1,704.8 2591.1,705.9 2594.1,705.9 2597.1,708.4 2600.1,706.2 2603.1,704.7 2606.1,705.7 2609.1,704.7 2612.1,704.5 2615.1,704.8 2618.1,705.3 2621.1,706.5 2624.1,705.2 2627.1,709.0 2630.1,706.3 2633.1,708.2 2636.1,708.1 2639.1,709.6 2642.1,708.9 2645.1,709.1 2648.1,706.6 2651.1,707.3 2654.1,707.8 2657.1,706.8 2660.1,710.1 2663.1,712.4 2666.1,710.1 2669.1,712.1 2672.1,710.1 2675.1,711.2 2678.1,711.8 2681.1,711.4 2684.1,712.6 2687.1,709.6 2690.1,709.6 2693.1,707.8 2696.1,708.7 2699.1,710.2 2702.1,710.7 2705.1,709.1 2708.1,707.9 2711.1,708.6 2714.1,706.1 2717.1,707.0 2720.1,705.3 2723.1,705.5 2726.1,705.4 2729.1,705.1 2732.1,707.9 2735.1,706.2 2738.1,704.8 2741.1,706.4 2744.1,707.1 2747.1,704.2 2750.1,703.9 2753.1,705.7 2756.1,705.5 2759.1,706.2 2762.1,704.1 2765.1,704.0 2768.1,704.4 2771.1,704.8 2774.1,702.4 2777.1,702.1 2780.1,703.0 2783.1,704.2 2786.1,701.0 2789.1,702.2 2792.1,704.0 2795.1,703.3 2798.1,703.9 2801.1,705.1" stroke="#ff7f0e"/>
<polyline points="518.1,713.1 523.1,713.0 528.1,713.4 533.1,712.5 538.1,714.2 543.1,713.0 548.1,712.0 553.1,712.7 558.1,711.5 563.1,712.4 568.1,711.8 573.1,712.1 578.1,711.6 583.1,711.4 588.1,712.1 593.1,713.2 598.1,713.7 603.1,713.8 608.1,712.4 613.1,712.7 618.1,711.9 623.1,712.1 628.1,712.8 633.1,712.4 638.1,711.5 643.1,711.0 648.1,711.0 653.1,710.5 658.1,709.7 663.1,710.6 668.1,709.8 673.1,709.7 678.1,709.2 683.1,709.5 688.1,710.1 693.1,710.6 698.1,709.6 703.1,709.5 708.1,709.6 713.1,709.6 718.1,709.6 723.1,709.0 728.1,709.6 733.1,710.5 738.1,708.1 743.1,708.8 748.1,709.9 753.1,709.5 758.1,709.1 763.1,708.9 768.1,709.8 773.1,710.0 778.1,711.3 783.1,710.6 788.1,710.8 793.1,710.2 798.1,711.9 803.1,709.3 808.1,710.7 813.1,710.4 818.1,709.3 823.1,709.0 828.1,709.1 833.1,710.8 838.1,709.6 843.1,710.1 848.1,711.6 853.1,711.8 858.1,711.5 863.1,711.0 868.1,711.3 873.1,710.8 878.1,711.6 883.1,711.4 888.1,711.7 893.1,712.5 898.1,711.7 903.1,710.7 908.1,712.6 913.1,710.7 918.1,711.5 923.1,710.6 928.1,711.6 933.1,713.1 938.1,712.9 943.1,712.9 948.1,711.6 953.1,712.1 958.1,711.8 963.1,712.4 968.1,712.6 973.1,713.1 978.1,711.8 983.1,711.3 988.1,711.9 993.1,712.2 998.1,712.0 1003.1,711.3 1008.1,711.0 1013.1,711.5 1018.1,712.3 1023.1,713.3 1028.1,712.5 1033.1,712.0 1038.1,712.3 1043.1,712.4 1048.1,712.5 1053.1,712.5 1058.1,712.4 1063.1,713.6 1068.1,712.5 1073.1,712.7 1078.1,711.7 1083.1,712.5 1088.1,713.2 1093.1,711.7 1098.1,712.3 1103.1,711.8 1108.1,713.0 1113.1,712.0 1118.1,712.4 1123.1,712.2 1128.1,712.3 1133.1,712.9 1138.1,711.7 1143.1,712.2 1148.1,712.3 1153.1,712.5 1158.1,712.0 1163.1,712.8 1168.1,713.4 1173.1,713.6 1178.1,712.8 1183.1,712.7 1188.1,712.1 1193.1,712.5 1198.1,711.8 1203.1,713.0 1208.1,713.5 1213.1,712.9 1218.1,713.3 1223.1,712.8 1228.1,711.7 1233.1,713.6 1238.1,712.7 1243.1,713.1 1248.1,712.1 1253.1,712.4 1258.1,713.2 1263.1,713.3 1268.1,711.3 1273.1,711.3 1278.1,712.2 1283.1,711.4 1288.1,712.5 1293.1,711.4 1298.1,712.7 1303.1,712.5 1308.1,712.6 1313.1,712.6 1318.1,711.9 1323.1,712.2 1328.1,713.2 1333.1,713.3 1338.1,712.3 1343.1,712.0 1348.1,711.2 1353.1,711.2 1358.1,712.8 1363.1,712.5 1368.1,711.7 1373.1,712.5 1378.1,710.4 1383.1,711.0 1388.1,711.4 1393.1,711.9 1398.1,711.9 1403.1,711.5 1408.1,711.5 1413.1,712.7 1418.1,712.7 1423.1,713.0 1428.1,712.1 1433.1,711.3 1438.1,711.2 1443.1,712.2 1448.1,711.6 1453.1,710.8 1458.1,711.4 1463.1,711.4 1468.1,710.9 1473.1,711.8 1478.1,711.2 1483.1,710.7 1488.1,710.5 1493.1,710.6 1498.1,711.6 1503.1,711.5 1508.1,712.1 1513.1,711.2 1518.1,712.7 1523.1,712.4 1528.1,711.9 1533.1,712.6 1538.1,711.6 1543.1,710.7 1548.1,709.7 1553.1,711.5 1558.1,710.5 1563.1,711.1 1568.1,711.6 1573.1,711.4 1578.1,711.3 1583.1,711.4 1588.1,712.9 1593.1,711.7 1598.1,712.4 1603.1,713.0 1608.1,712.6 1613.1,712.5 1618.1,713.3 1623.1,713.3 1628.1,712.6 1633.1,713.4 1638.1,712.0 1643.1,710.4 1648.1,711.5 1653.1,711.4 1658.1,712.4 1663.1,712.4 1668.1,713.5 1673.1,711.8 1678.1,712.8 1683.1,711.9 1688.1,712.2 1693.1,712.1 1698.1,712.8 1703.1,712.5 1708.1,712.9 1713.1,711.8 1718.1,710.6 1723.1,712.6 1728.1,712.1 1733.1,711.5 1738.1,712.0 1743.1,711.7 1748.1,711.5 1753.1,711.1 1758.1,711.2 1763.1,712.2 1768.1,710.3 1773.1,712.2 1778.1,712.6 1783.1,712.6 1788.1,711.8 1793.1,712.8 1798.1,711.9 1803.1,713.0 1808.1,711.9 1813.1,712.0 1818.1,712.0 1823.1,711.1 1828.1,712.8 1833.1,712.2 1838.1,711.4 1843.1,711.5 1848.1,712.5 1853.1,710.7 1858.1,710.3 1863.1,710.1 1868.1,711.0 1873.1,710.7 1878.1,711.3 1883.1,711.2 1888.1,712.4 1893.1,711.2 1898.1,711.9 1903.1,711.8 1908.1,710.8 1913.1,711.6 1918.1,712.4 1923.1,711.3 1928.1,709.9 1933.1,710.7 1938.1,710.8 1943.1,712.0 1948.1,712.5 1953.1,711.2 1958.1,711.5 1963.1,712.1 1968.1,711.5 1973.1,712.0 1978.1,712.3 1983.1,712.7 1988.1,713.4 1993.1,713.6 1998.1,711.8 2003.1,712.2 2008.1,710.4 2013.1,711.7 2018.1,711.0 2023.1,712.2 2028.1,712.6 2033.1,712.5 2038.1,710.7 2043.1,711.8 2048.1,711.2 2053.1,710.8 2058.1,711.7 2063.1,711.8 2068.1,710.8 2073.1,712.0 2078.1,711.8 2083.1,711.6 2088.1,713.1 2093.1,711.7 2098.1,712.3 2103.1,712.0 2108.1,711.8 2113.1,712.3 2118.1,713.8 2123.1,712.2 2128.1,713.9 2133.1,712.8 2138.1,711.6 2143.1,711.9 2148.1,712.7 2153.1,713.0 2158.1,712.7 2163.1,711.6 2168.1,711.8 2173.1,712.9 2178.1,711.8 2183.1,711.9 2188.1,712.5 2193.1,713.4 2198.1,712.4 2203.1,711.7 2208.1,711.7 2213.1,711.1 2218.1,711.1 2223.1,710.3 2228.1,710.8 2233.1,711.3 2238.1,710.8 2243.1,711.9 2248.1,711.6 2253.1,710.0 2258.1,710.9 2263.1,710.1 2268.1,711.1 2273.1,710.5 2278.1,710.6 2283.1,711.6 2288.1,711.1 2293.1,712.5 2298.1,710.5 2303.1,709.8 2308.1,711.1 2313.1,709.9 2318.1,711.7 2323.1,711.7 2328.1,711.5 2333.1,711.9 2338.1,712.9 2343.1,711.9 2348.1,712.1 2353.1,711.7 2358.1,711.5 2363.1,710.3 2368.1,711.1 2373.1,711.4 2378.1,711.0 2383.1,712.9 2388.1,711.4 2393.1,711.0 2398.1,710.5 2403.1,711.3 2408.1,710.6 2413.1,711.4 2418.1,710.5 2423.1,712.2 2428.1,711.4 2433.1,711.1 2438.1,710.6 2443.1,711.9 2448.1,711.2 2453.1,710.5 2458.1,711.0 2463.1,711.9 2468.1,710.5 2473.1,711.5 2478.1,712.7 2483.1,712.6 2488.1,711.2 2493.1,711.9 2498.1,712.2 2503.1,710.7 2508.1,712.7 2513.1,711.9 2518.1,711.8 2523.1,713.3 2528.1,712.1 2533.1,712.2 2538.1,712.6 2543.1,714.3 2548.1,712.4 2553.1,711.8 2558.1,711.6 2563.1,712.0 2568.1,710.8 2573.1,711.3 2578.1,711.6 2583.1,711.3 2588.1,711.3 2593.1,711.5 2598.1,711.0 2603.1,711.2 2608.1,711.7 2613.1,710.3 2618.1,710.9 2623.1,710.8 2628.1,711.7 2633.1,711.7 2638.1,711.6 2643.1,712.7 2648.1,713.3 2653.1,712.2 2658.1,712.6 2663.1,712.9 2668.1,711.2 2673.1,711.6 2678.1,711.9 2683.1,711.6 2688.1,711.8 2693.1,712.2 2698.1,712.3 2703.1,713.1 2708.1,712.3 2713.1,712.6 2718.1,712.3 2723.1,711.8 2728.1,713.0 2733.1,711.6 2738.1,712.4 2743.1,711.4 2748.1,711.3 2753.1,711.6 2758.1,711.6 2763.1,712.1 2768.1,712.9 2773.1,712.0 2778.1,712.3 2783.1,712.4 2788.1,712.2 2793.1,713.0 2798.1,711.9" stroke="#2ca02c"/>
<polyline points="518.1,712.4 521.1,713.0 524.1,712.0 527.1,710.9 530.1,713.3 533.1,713.5 536.1,712.1 539.1,710.7 542.1,710.4 545.1,709.7 548.1,710.0 551.1,710.7 554.1,708.9 557.1,709.9 560.1,708.8 563.1,707.9 566.1,707.9 569.1,709.2 572.1,709.4 575.1,707.8 578.1,709.2 581.1,710.8 584.1,710.4 587.1,712.6 590.1,710.2 593.1,710.0 596.1,711.9 599.1,710.4 602.1,710.6 605.1,711.8 608.1,709.8 611.1,710.5 614.1,710.1 617.1,710.9 620.1,710.5 623.1,709.8 626.1,710.2 629.1,710.1 632.1,710.1 635.1,709.8 638.1,711.7 641.1,713.2 644.1,711.3 647.1,712.5 650.1,714.2 653.1,712.2 656.1,712.7 659.1,712.0 662.1,711.0 665.1,709.4 668.1,709.5 671.1,709.1 674.1,710.7 677.1,709.1 680.1,710.8 683.1,709.4 686.1,711.1 689.1,709.9 692.1,709.9 695.1,712.6 698.1,713.0 701.1,712.1 704.1,713.8 707.1,710.9 710.1,712.1 713.1,713.1 716.1,714.8 719.1,713.7 722.1,713.5 725.1,714.5 728.1,714.3 731.1,713.1 734.1,714.4 737.1,712.4 740.1,712.2 743.1,711.4 746.1,711.9 749.1,711.7 752.1,711.7 755.1,711.7 758.1,712.4 761.1,711.0 764.1,712.5 767.1,711.1 770.1,711.3 773.1,711.8 776.1,711.4 779.1,713.3 782.1,712.0 785.1,710.9 788.1,711.3 791.1,712.3 794.1,711.1 797.1,711.7 800.1,711.6 803.1,711.1 806.1,710.0 809.1,712.5 812.1,711.4 815.1,713.8 818.1,712.1 821.1,713.1 824.1,711.2 827.1,712.6 830.1,713.2 833.1,711.7 836.1,712.4 839.1,712.5 842.1,712.4 845.1,712.2 848.1,711.5 851.1,712.1 854.1,712.6 857.1,711.7 860.1,711.4 863.1,712.2 866.1,710.6 869.1,711.7 872.1,711.5 875.1,711.6 878.1,711.4 881.1,711.8 884.1,712.5 887.1,711.4 890.1,711.4 893.1,709.8 896.1,710.5 899.1,709.5 902.1,710.3 905.1,710.9 908.1,708.5 911.1,709.4 914.1,709.3 917.1,708.1 920.1,709.0 923.1,708.8 926.1,709.8 929.1,707.9 932.1,709.6 935.1,710.7 938.1,711.2 941.1,711.5 944.1,711.9 947.1,711.7 950.1,712.7 953.1,711.9 956.1,711.8 959.1,710.5 962.1,710.6 965.1,712.5 968.1,711.9 971.1,711.2 974.1,711.1 977.1,710.8 980.1,709.6 983.1,712.7 986.1,710.9 989.1,710.6 992.1,709.0 995.1,711.0 998.1,711.8 1001.1,711.8 1004.1,711.4 1007.1,713.9 1010.1,711.8 1013.1,711.5 1016.1,710.2 1019.1,713.0 1022.1,711.9 1025.1,712.8 1028.1,713.4 1031.1,712.1 1034.1,713.0 1037.1,711.8 1040.1,713.0 1043.1,712.3 1046.1,712.6 1049.1,712.0 1052.1,711.9 1055.1,710.9 1058.1,710.2 1061.1,711.5 1064.1,712.3 1067.1,712.9 1070.1,712.1 1073.1,712.1 1076.1,712.8 1079.1,711.8 1082.1,711.7 1085.1,712.1 1088.1,712.3 1091.1,711.6 1094.1,712.5 1097.1,713.3 1100.1,713.4 1103.1,711.8 1106.1,712.1 1109.1,711.1 1112.1,710.7 1115.1,711.5 1118.1,713.3 1121.1,713.5 1124.1,712.5 1127.1,712.0 1130.1,712.2 1133.1,713.6 1136.1,711.6 1139.1,713.3 1142.1,713.7 1145.1,713.6 1148.1,712.8 1151.1,712.8 1154.1,712.1 1157.1,713.1 1160.1,713.1 1163.1,712.1 1166.1,712.6 1169.1,712.3 1172.1,712.1 1175.1,710.8 1178.1,711.6 1181.1,714.2 1184.1,712.5 1187.1,713.2 1190.1,711.7 1193.1,711.3 1196.1,711.5 1199.1,712.3 1202.1,711.2 1205.1,711.9 1208.1,712.4 1211.1,712.6 1214.1,712.5 1217.1,711.1 1220.1,711.1 1223.1,709.8 1226.1,711.5 1229.1,712.0 1232.1,711.8 1235.1,711.8 1238.1,711.3 1241.1,711.9 1244.1,713.9 1247.1,711.6 1250.1,713.1 1253.1,713.2 1256.1,714.7 1259.1,714.2 1262.1,713.3 1265.1,713.2 1268.1,713.0 1271.1,713.3 1274.1,712.5 1277.1,710.7 1280.1,712.2 1283.1,710.1 1286.1,711.6 1289.1,712.5 1292.1,713.3 1295.1,712.6 1298.1,712.8 1301.1,711.9 1304.1,712.8 1307.1,711.4 1310.1,712.0 1313.1,713.3 1316.1,715.0 1319.1,714.3 1322.1,713.9 1325.1,713.3 1328.1,712.2 1331.1,714.9 1334.1,713.4 1337.1,713.5 1340.1,712.4 1343.1,713.5 1346.1,711.5 1349.1,712.2 1352.1,712.6 1355.1,711.9 1358.1,712.6 1361.1,711.4 1364.1,711.5 1367.1,712.7 1370.1,712.6 1373.1,713.2 1376.1,713.4 1379.1,711.3 1382.1,712.4 1385.1,710.6 1388.1,711.6 1391.1,710.9 1394.1,710.4 1397.1,710.3 1400.1,713.2 1403.1,712.7 1406.1,710.7 1409.1,712.2 1412.1,712.2 1415.1,712.4 1418.1,711.8 1421.1,711.9 1424.1,713.2 1427.1,712.4 1430.1,710.1 1433.1,712.4 1436.1,712.2 1439.1,711.5 1442.1,711.4 1445.1,710.5 1448.1,710.1 1451.1,711.2 1454.1,710.8 1457.1,710.7 1460.1,711.3 1463.1,709.4 1466.1,709.3 1469.1,710.4 1472.1,710.7 1475.1,711.0 1478.1,711.5 1481.1,710.9 1484.1,712.0 1487.1,712.9 1490.1,711.7 1493.1,711.0 1496.1,712.2 1499.1,711.4 1502.1,712.4 1505.1,711.3 1508.1,711.7 1511.1,711.4 1514.1,710.9 1517.1,713.2 1520.1,712.6 1523.1,713.6 1526.1,713.8 1529.1,711.8 1532.1,713.8 1535.1,711.4 1538.1,712.5 1541.1,712.4 1544.1,710.7 1547.1,714.0 1550.1,712.5 1553.1,713.4 1556.1,712.8 1559.1,712.5 1562.1,712.8 1565.1,714.4 1568.1,712.7 1571.1,713.4 1574.1,713.1 1577.1,712.7 1580.1,713.5 1583.1,712.7 1586.1,711.6 1589.1,712.2 1592.1,712.6 1595.1,712.3 1598.1,711.9 1601.1,712.1 1604.1,710.3 1607.1,713.8 1610.1,712.5 1613.1,711.2 1616.1,710.8 1619.1,711.2 1622.1,711.6 1625.1,710.3 1628.1,710.0 1631.1,709.7 1634.1,710.7 1637.1,710.5 1640.1,709.6 1643.1,710.6 1646.1,710.0 1649.1,710.4 1652.1,710.8 1655.1,712.2 1658.1,713.2 1661.1,710.7 1664.1,711.4 1667.1,711.7 1670.1,710.8 1673.1,710.6 1676.1,710.6 1679.1,710.5 1682.1,710.8 1685.1,710.6 1688.1,710.8 1691.1,712.0 1694.1,710.9 1697.1,710.1 1700.1,710.3 1703.1,712.3 1706.1,711.6 1709.1,710.6 1712.1,710.4 1715.1,711.3 1718.1,709.9 1721.1,711.0 1724.1,710.2 1727.1,710.5 1730.1,713.0 1733.1,712.3 1736.1,709.9 1739.1,708.2 1742.1,709.8 1745.1,710.5 1748.1,710.4 1751.1,711.4 1754.1,711.8 1757.1,713.1 1760.1,712.4 1763.1,712.3 1766.1,710.4 1769.1,710.0 1772.1,709.8 1775.1,710.7 1778.1,711.3 1781.1,711.7 1784.1,710.1 1787.1,709.5 1790.1,711.0 1793.1,711.9 1796.1,711.0 1799.1,711.4 1802.1,711.8 1805.1,713.0 1808.1,712.6 1811.1,712.0 1814.1,712.8 1817.1,713.1 1820.1,711.6 1823.1,712.4 1826.1,712.0 1829.1,711.2 1832.1,712.1 1835.1,711.8 1838.1,711.2 1841.1,712.1 1844.1,712.2 1847.1,711.1 1850.1,711.9 1853.1,711.6 1856.1,710.3 1859.1,710.5 1862.1,711.2 1865.1,711.3 1868.1,711.5 1871.1,712.4 1874.1,712.2 1877.1,709.8 1880.1,711.0 1883.1,712.9 1886.1,710.2 1889.1,710.0 1892.1,711.5 1895.1,712.9 1898.1,713.1 1901.1,711.3 1904.1,710.0 1907.1,711.1 1910.1,713.8 1913.1,710.5 1916.1,710.1 1919.1,712.5 1922.1,711.8 1925.1,711.8 1928.1,713.7 1931.1,712.1 1934.1,714.1 1937.1,712.8 1940.1,713.2 1943.1,711.2 1946.1,712.3 1949.1,711.6 1952.1,710.3 1955.1,711.3 1958.1,709.8 1961.1,711.3 1964.1,711.5 1967.1,711.2 1970.1,712.6 1973.1,713.0 1976.1,711.9 1979.1,712.9 1982.1,713.2 1985.1,712.9 1988.1,711.1 1991.1,712.6 1994.1,712.8 1997.1,712.9 2000.1,712.9 2003.1,712.9 2006.1,713.4 2009.1,713.0 2012.1,714.0 2015.1,713.0 2018.1,712.3 2021.1,713.4 2024.1,710.4 2027.1,712.7 2030.1,711.1 2033.1,710.0 2036.1,712.1 2039.1,711.6 2042.1,710.8 2045.1,711.7 2048.1,711.0 2051.1,709.3 2054.1,710.2 2057.1,711.1 2060.1,711.1 2063.1,712.8 2066.1,712.7 2069.1,712.6 2072.1,713.6 2075.1,712.1 2078.1,712.9 2081.1,712.7 2084.1,712.1 2087.1,711.9 2090.1,713.4 2093.1,712.8 2096.1,714.8 2099.1,713.9 2102.1,715.0 2105.1,713.5 2108.1,712.2 2111.1,712.3 2114.1,711.4 2117.1,713.7 2120.1,712.7 2123.1,711.9 2126.1,712.3 2129.1,711.4 2132.1,710.8 2135.1,710.7 2138.1,711.1 2141.1,712.1 2144.1,712.6 2147.1,712.8 2150.1,712.2 2153.1,713.0 2156.1,713.9 2159.1,715.2 2162.1,714.8 2165.1,716.7 2168.1,716.4 2171.1,716.7 2174.1,716.2 2177.1,715.6 2180.1,714.5 2183.1,715.8 2186.1,714.9 2189.1,714.9 2192.1,715.1 2195.1,715.3 2198.1,714.2 2201.1,715.4 2204.1,714.9 2207.1,714.9 2210.1,716.4 2213.1,715.6 2216.1,715.6 2219.1,716.3 2222.1,716.6 2225.1,716.5 2228.1,716.6 2231.1,716.0 2234.1,716.4 2237.1,716.6 2240.1,715.8 2243.1,715.2 2246.1,715.5 2249.1,716.4 2252.1,715.4 2255.1,716.5 2258.1,715.0 2261.1,716.4 2264.1,715.6 2267.1,715.8 2270.1,714.9 2273.1,716.0 2276.1,715.4 2279.1,714.5 2282.1,715.5 2285.1,716.0 2288.1,715.9 2291.1,716.2 2294.1,713.5 2297.1,711.1 2300.1,713.3 2303.1,714.6 2306.1,715.0 2309.1,713.9 2312.1,714.3 2315.1,713.1 2318.1,712.6 2321.1,713.3 2324.1,713.3 2327.1,712.6 2330.1,713.1 2333.1,713.0 2336.1,712.1 2339.1,712.7 2342.1,713.3 2345.1,711.7 2348.1,712.0 2351.1,711.5 2354.1,713.1 2357.1,710.5 2360.1,709.9 2363.1,711.0 2366.1,710.6 2369.1,711.8 2372.1,709.3 2375.1,710.9 2378.1,710.7 2381.1,709.2 2384.1,710.3 2387.1,710.0 2390.1,708.9 2393.1,710.9 2396.1,711.3 2399.1,711.5 2402.1,712.6 2405.1,711.5 2408.1,711.4 2411.1,710.9 2414.1,711.3 2417.1,712.2 2420.1,712.4 2423.1,711.4 2426.1,713.7 2429.1,714.1 2432.1,713.7 2435.1,714.7 2438.1,713.2 2441.1,712.3 2444.1,712.9 2447.1,711.2 2450.1,712.2 2453.1,711.6 2456.1,712.1 2459.1,712.0 2462.1,711.9 2465.1,711.6 2468.1,711.1 2471.1,711.8 2474.1,712.5 2477.1,711.8 2480.1,712.9 2483.1,713.7 2486.1,712.3 2489.1,711.5 2492.1,711.9 2495.1,712.8 2498.1,711.3 2501.1,711.1 2504.1,712.1 2507.1,711.7 2510.1,710.4 2513.1,710.8 2516.1,711.1 2519.1,711.1 2522.1,711.9 2525.1,710.8 2528.1,709.5 2531.1,710.5 2534.1,710.4 2537.1,711.4 2540.1,711.6 2543.1,710.9 2546.1,711.5 2549.1,710.4 2552.1,709.4 2555.1,710.4 2558.1,710.3 2561.1,711.1 2564.1,711.6 2567.1,710.6 2570.1,710.1 2573.1,710.8 2576.1,711.0 2579.1,712.2 2582.1,711.4 2585.1,711.2 2588.1,712.5 2591.1,713.5 2594.1,712.4 2597.1,714.5 2600.1,712.0 2603.1,712.4 2606.1,712.5 2609.1,712.5 2612.1,711.8 2615.1,713.4 2618.1,713.1 2621.1,711.5 2624.1,713.9 2627.1,714.0 2630.1,712.6 2633.1,712.6 2636.1,710.8 2639.1,712.5 2642.1,711.9 2645.1,711.9 2648.1,712.6 2651.1,711.9 2654.1,711.7 2657.1,711.7 2660.1,712.1 2663.1,711.3 2666.1,710.4 2669.1,712.7 2672.1,711.8 2675.1,711.6 2678.1,711.1 2681.1,710.8 2684.1,711.3 2687.1,711.2 2690.1,710.9 2693.1,711.6 2696.1,712.0 2699.1,709.8 2702.1,710.5 2705.1,710.7 2708.1,710.9 2711.1,711.3 2714.1,709.7 2717.1,708.3 2720.1,709.4 2723.1,709.2 2726.1,707.8 2729.1,709.5 2732.1,709.0 2735.1,710.2 2738.1,710.1 2741.1,710.2 2744.1,709.9 2747.1,709.2 2750.1,710.9 2753.1,709.8 2756.1,709.4 2759.1,710.7 2762.1,709.5 2765.1,710.4 2768.1,712.2 2771.1,711.2 2774.1,711.9 2777.1,710.6 2780.1,710.3 2783.1,710.7 2786.1,710.0 2789.1,711.4 2792.1,712.0 2795.1,710.7 2798.1,711.5 2801.1,711.0" stroke="#d62728"/>
<polyline points="518.1,710.9 521.1,712.8 524.1,710.8 527.1,712.5 530.1,712.3 533.1,711.6 536.1,712.0 539.1,712.3 542.1,711.6 545.1,710.9 548.1,711.1 551.1,709.9 554.1,710.5 557.1,710.3 560.1,708.6 563.1,707.8 566.1,709.6 569.1,709.8 572.1,710.3 575.1,710.7 578.1,710.9 581.1,709.6 584.1,710.7 587.1,711.1 590.1,709.7 593.1,710.6 596.1,709.9 599.1,709.6 602.1,710.5 605.1,710.2 608.1,710.0 611.1,712.7 614.1,711.4 617.1,712.8 620.1,711.3 623.1,713.4 626.1,712.4 629.1,712.3 632.1,713.1 635.1,713.5 638.1,712.2 641.1,713.2 644.1,713.8 647.1,712.6 650.1,712.0 653.1,712.5 656.1,712.3 659.1,711.7 662.1,712.1 665.1,710.4 668.1,711.7 671.1,711.1 674.1,710.4 677.1,711.2 680.1,710.7 683.1,710.8 686.1,710.7 689.1,708.4 692.1,711.4 695.1,710.8 698.1,711.4 701.1,710.6 704.1,710.4 707.1,711.1 710.1,711.3 713.1,711.4 716.1,713.5 719.1,711.0 722.1,713.0 725.1,712.6 728.1,712.6 731.1,713.4 734.1,712.7 737.1,712.0 740.1,710.3 743.1,711.9 746.1,712.3 749.1,712.5 752.1,712.0 755.1,712.2 758.1,713.1 761.1,714.6 764.1,714.2 767.1,712.2 770.1,710.9 773.1,710.0 776.1,710.0 779.1,711.0 782.1,711.3 785.1,711.6 788.1,712.1 791.1,711.9 794.1,712.9 797.1,714.3 800.1,711.8 803.1,713.6 806.1,711.9 809.1,711.9 812.1,710.6 815.1,712.2 818.1,710.8 821.1,712.1 824.1,711.6 827.1,712.5 830.1,712.6 833.1,712.5 836.1,711.9 839.1,711.1 842.1,712.7 845.1,712.0 848.1,712.1 851.1,714.9 854.1,712.5 857.1,713.7 860.1,713.6 863.1,714.3 866.1,715.1 869.1,715.0 872.1,712.3 875.1,713.7 878.1,715.0 881.1,713.2 884.1,712.8 887.1,713.2 890.1,713.7 893.1,712.4 896.1,714.5 899.1,711.4 902.1,713.0 905.1,712.1 908.1,713.5 911.1,712.6 914.1,711.1 917.1,711.0 920.1,710.8 923.1,711.1 926.1,711.4 929.1,711.6 932.1,711.6 935.1,712.0 938.1,710.2 941.1,710.5 944.1,710.4 947.1,709.3 950.1,708.6 953.1,709.7 956.1,708.6 959.1,708.2 962.1,709.6 965.1,710.1 968.1,711.4 971.1,710.6 974.1,709.8 977.1,711.1 980.1,711.9 983.1,710.3 986.1,708.9 989.1,707.4 992.1,709.6 995.1,708.4 998.1,709.4 1001.1,709.9 1004.1,710.0 1007.1,709.0 1010.1,709.1 1013.1,710.2 1016.1,709.2 1019.1,710.3 1022.1,709.8 1025.1,709.3 1028.1,711.0 1031.1,709.8 1034.1,709.9 1037.1,709.9 1040.1,711.5 1043.1,709.2 1046.1,709.7 1049.1,709.8 1052.1,711.2 1055.1,711.9 1058.1,709.4 1061.1,711.6 1064.1,711.0 1067.1,711.9 1070.1,712.1 1073.1,711.3 1076.1,710.5 1079.1,710.2 1082.1,710.0 1085.1,712.3 1088.1,712.1 1091.1,711.5 1094.1,711.2 1097.1,710.2 1100.1,711.3 1103.1,710.3 1106.1,709.2 1109.1,708.6 1112.1,709.9 1115.1,709.3 1118.1,709.9 1121.1,709.4 1124.1,709.4 1127.1,709.6 1130.1,709.3 1133.1,708.4 1136.1,709.3 1139.1,710.9 1142.1,710.6 1145.1,710.6 1148.1,711.4 1151.1,712.2 1154.1,710.7 1157.1,712.6 1160.1,713.1 1163.1,711.4 1166.1,711.4 1169.1,712.7 1172.1,714.8 1175.1,712.9 1178.1,714.6 1181.1,713.4 1184.1,713.1 1187.1,714.5 1190.1,714.3 1193.1,716.0 1196.1,715.3 1199.1,714.2 1202.1,715.3 1205.1,713.8 1208.1,713.9 1211.1,711.9 1214.1,712.7 1217.1,712.6 1220.1,712.8 1223.1,711.7 1226.1,713.0 1229.1,711.7 1232.1,712.3 1235.1,712.9 1238.1,712.8 1241.1,713.8 1244.1,711.1 1247.1,712.3 1250.1,713.1 1253.1,712.5 1256.1,712.3 1259.1,713.4 1262.1,712.5 1265.1,713.8 1268.1,713.2 1271.1,711.9 1274.1,712.0 1277.1,712.3 1280.1,713.5 1283.1,711.9 1286.1,710.7 1289.1,711.4 1292.1,711.6 1295.1,711.3 1298.1,713.4 1301.1,712.0 1304.1,712.6 1307.1,712.6 1310.1,711.9 1313.1,713.1 1316.1,711.9 1319.1,712.1 1322.1,713.8 1325.1,714.1 1328.1,713.2 1331.1,712.3 1334.1,713.2 1337.1,713.0 1340.1,713.0 1343.1,712.7 1346.1,712.3 1349.1,711.4 1352.1,712.1 1355.1,710.4 1358.1,712.3 1361.1,711.4 1364.1,711.5 1367.1,710.9 1370.1,712.0 1373.1,710.2 1376.1,709.4 1379.1,710.3 1382.1,710.4 1385.1,711.7 1388.1,713.1 1391.1,713.2 1394.1,711.8 1397.1,712.1 1400.1,710.6 1403.1,712.1 1406.1,711.7 1409.1,711.8 1412.1,712.0 1415.1,712.5 1418.1,712.7 1421.1,711.7 1424.1,713.7 1427.1,713.8 1430.1,712.2 1433.1,713.4 1436.1,714.4 1439.1,715.4 1442.1,713.6 1445.1,712.6 1448.1,712.3 1451.1,712.5 1454.1,713.6 1457.1,712.0 1460.1,714.5 1463.1,714.5 1466.1,712.9 1469.1,711.4 1472.1,712.3 1475.1,710.8 1478.1,711.0 1481.1,711.1 1484.1,711.4 1487.1,711.3 1490.1,711.9 1493.1,711.0 1496.1,710.2 1499.1,710.2 1502.1,711.7 1505.1,711.0 1508.1,710.8 1511.1,712.8 1514.1,711.1 1517.1,711.8 1520.1,712.9 1523.1,710.7 1526.1,710.9 1529.1,712.3 1532.1,710.3 1535.1,710.9 1538.1,710.0 1541.1,710.4 1544.1,710.8 1547.1,711.5 1550.1,711.5 1553.1,710.9 1556.1,710.9 1559.1,710.4 1562.1,709.7 1565.1,710.3 1568.1,711.3 1571.1,711.0 1574.1,710.2 1577.1,711.2 1580.1,711.4 1583.1,710.4 1586.1,710.7 1589.1,711.2 1592.1,713.3 1595.1,712.0 1598.1,709.5 1601.1,711.3 1604.1,710.2 1607.1,709.3 1610.1,710.3 1613.1,709.9 1616.1,711.6 1619.1,708.8 1622.1,709.1 1625.1,709.8 1628.1,710.5 1631.1,710.6 1634.1,710.2 1637.1,711.1 1640.1,708.8 1643.1,708.6 1646.1,708.9 1649.1,709.2 1652.1,708.8 1655.1,709.1 1658.1,708.7 1661.1,709.0 1664.1,710.0 1667.1,710.0 1670.1,710.9 1673.1,711.9 1676.1,712.2 1679.1,713.9 1682.1,711.6 1685.1,711.8 1688.1,711.5 1691.1,711.8 1694.1,711.9 1697.1,711.7 1700.1,710.1 1703.1,712.6 1706.1,711.0 1709.1,710.9 1712.1,711.9 1715.1,712.3 1718.1,711.3 1721.1,710.2 1724.1,711.1 1727.1,712.2 1730.1,712.5 1733.1,711.1 1736.1,711.0 1739.1,714.0 1742.1,711.6 1745.1,711.2 1748.1,712.4 1751.1,710.7 1754.1,710.8 1757.1,711.2 1760.1,713.4 1763.1,711.2 1766.1,711.0 1769.1,710.5 1772.1,710.4 1775.1,712.2 1778.1,708.9 1781.1,710.0 1784.1,709.6 1787.1,708.1 1790.1,709.2 1793.1,708.1 1796.1,707.2 1799.1,709.2 1802.1,708.9 1805.1,709.5 1808.1,709.3 1811.1,709.7 1814.1,709.8 1817.1,710.0 1820.1,712.0 1823.1,711.6 1826.1,712.3 1829.1,713.3 1832.1,711.8 1835.1,711.3 1838.1,711.6 1841.1,711.8 1844.1,712.8 1847.1,711.6 1850.1,710.9 1853.1,709.9 1856.1,710.8 1859.1,710.6 1862.1,711.1 1865.1,711.6 1868.1,710.6 1871.1,709.3 1874.1,710.5 1877.1,710.0 1880.1,711.3 1883.1,711.5 1886.1,711.1 1889.1,713.2 1892.1,711.3 1895.1,712.3 1898.1,710.2 1901.1,709.4 1904.1,709.4 1907.1,709.8 1910.1,710.7 1913.1,709.5 1916.1,710.5 1919.1,710.9 1922.1,710.8 1925.1,709.0 1928.1,709.2 1931.1,708.7 1934.1,708.7 1937.1,709.4 1940.1,710.3 1943.1,710.7 1946.1,709.6 1949.1,708.2 1952.1,706.9 1955.1,708.6 1958.1,708.4 1961.1,708.6 1964.1,708.5 1967.1,709.7 1970.1,708.9 1973.1,706.7 1976.1,709.1 1979.1,708.3 1982.1,711.0 1985.1,710.2 1988.1,710.2 1991.1,710.5 1994.1,710.3 1997.1,710.4 2000.1,709.5 2003.1,709.8 2006.1,710.5 2009.1,709.8 2012.1,711.2 2015.1,710.5 2018.1,710.6 2021.1,709.9 2024.1,712.3 2027.1,710.1 2030.1,710.5 2033.1,711.5 2036.1,713.6 2039.1,711.0 2042.1,711.9 2045.1,711.7 2048.1,711.1 2051.1,712.4 2054.1,709.7 2057.1,711.7 2060.1,710.6 2063.1,709.2 2066.1,709.5 2069.1,710.4 2072.1,710.6 2075.1,709.6 2078.1,709.0 2081.1,709.8 2084.1,710.4 2087.1,711.0 2090.1,711.6 2093.1,711.9 2096.1,711.1 2099.1,712.2 2102.1,711.7 2105.1,712.1 2108.1,712.6 2111.1,712.8 2114.1,713.0 2117.1,712.5 2120.1,710.8 2123.1,710.0 2126.1,709.5 2129.1,709.5 2132.1,708.7 2135.1,709.5 2138.1,708.9 2141.1,709.9 2144.1,707.9 2147.1,709.3 2150.1,710.6 2153.1,712.4 2156.1,712.6 2159.1,712.2 2162.1,712.0 2165.1,711.9 2168.1,712.2 2171.1,713.2 2174.1,713.6 2177.1,712.7 2180.1,714.2 2183.1,714.5 2186.1,713.8 2189.1,714.8 2192.1,712.5 2195.1,711.9 2198.1,710.2 2201.1,709.4 2204.1,709.7 2207.1,711.7 2210.1,709.0 2213.1,709.5 2216.1,709.9 2219.1,708.1 2222.1,709.6 2225.1,708.2 2228.1,708.9 2231.1,709.8 2234.1,707.8 2237.1,708.7 2240.1,708.8 2243.1,709.5 2246.1,707.9 2249.1,707.4 2252.1,707.6 2255.1,708.9 2258.1,709.3 2261.1,708.4 2264.1,710.1 2267.1,708.8 2270.1,710.8 2273.1,708.9 2276.1,709.8 2279.1,710.1 2282.1,707.6 2285.1,707.9 2288.1,710.0 2291.1,708.8 2294.1,708.5 2297.1,709.1 2300.1,709.1 2303.1,710.0 2306.1,708.7 2309.1,708.5 2312.1,707.5 2315.1,706.6 2318.1,708.8 2321.1,707.5 2324.1,708.5 2327.1,708.0 2330.1,708.2 2333.1,708.4 2336.1,708.9 2339.1,708.6 2342.1,709.7 2345.1,709.9 2348.1,709.4 2351.1,710.7 2354.1,710.2 2357.1,709.8 2360.1,709.4 2363.1,711.3 2366.1,711.0 2369.1,709.7 2372.1,709.2 2375.1,708.9 2378.1,708.9 2381.1,708.6 2384.1,707.5 2387.1,709.3 2390.1,708.4 2393.1,707.9 2396.1,707.2 2399.1,705.9 2402.1,707.8 2405.1,707.6 2408.1,706.2 2411.1,708.5 2414.1,707.9 2417.1,707.9 2420.1,707.0 2423.1,706.1 2426.1,706.7 2429.1,707.2 2432.1,706.8 2435.1,706.2 2438.1,706.6 2441.1,703.8 2444.1,705.4 2447.1,708.0 2450.1,707.8 2453.1,709.4 2456.1,709.2 2459.1,710.2 2462.1,710.2 2465.1,712.0 2468.1,713.2 2471.1,711.5 2474.1,712.7 2477.1,710.8 2480.1,709.4 2483.1,709.7 2486.1,709.0 2489.1,711.7 2492.1,710.4 2495.1,710.6 2498.1,711.6 2501.1,710.4 2504.1,711.7 2507.1,711.1 2510.1,709.2 2513.1,708.9 2516.1,708.4 2519.1,709.0 2522.1,708.8 2525.1,708.7 2528.1,708.6 2531.1,709.5 2534.1,709.6 2537.1,708.3 2540.1,708.4 2543.1,708.7 2546.1,708.7 2549.1,709.1 2552.1,709.2 2555.1,708.4 2558.1,708.7 2561.1,709.8 2564.1,709.9 2567.1,709.0 2570.1,709.5 2573.1,709.7 2576.1,710.2 2579.1,710.5 2582.1,712.3 2585.1,709.2 2588.1,709.7 2591.1,708.5 2594.1,708.9 2597.1,710.1 2600.1,707.7 2603.1,708.0 2606.1,708.9 2609.1,709.9 2612.1,707.6 2615.1,708.0 2618.1,706.9 2621.1,709.4 2624.1,707.4 2627.1,709.2 2630.1,709.9 2633.1,709.0 2636.1,708.1 2639.1,708.5 2642.1,711.0 2645.1,710.4 2648.1,708.9 2651.1,708.7 2654.1,708.3 2657.1,709.0 2660.1,708.3 2663.1,708.2 2666.1,707.2 2669.1,710.1 2672.1,708.8 2675.1,708.9 2678.1,708.8 2681.1,708.0 2684.1,709.7 2687.1,709.3 2690.1,709.4 2693.1,709.1 2696.1,709.8 2699.1,709.1 2702.1,708.5 2705.1,708.9 2708.1,708.6 2711.1,710.0 2714.1,709.9 2717.1,709.1 2720.1,709.9 2723.1,712.0 2726.1,710.2 2729.1,710.6 2732.1,710.9 2735.1,712.4 2738.1,711.4 2741.1,711.6 2744.1,711.1 2747.1,710.9 2750.1,711.5 2753.1,710.7 2756.1,711.8 2759.1,709.8 2762.1,709.4 2765.1,709.2 2768.1,708.3 2771.1,707.0 2774.1,706.6 2777.1,707.6 2780.1,707.7 2783.1,708.0 2786.1,708.7 2789.1,708.9 2792.1,708.4 2795.1,708.3 2798.1,710.3 2801.1,709.7" stroke="#9467bd"/>
<polyline points="518.1,705.9 521.1,703.4 524.1,703.5 527.1,704.8 530.1,704.5 533.1,704.0 536.1,706.1 539.1,707.2 542.1,706.0 545.1,705.9 548.1,705.1 551.1,705.8 554.1,704.7 557.1,703.9 560.1,705.0 563.1,702.7 566.1,703.8 569.1,704.5 572.1,702.7 575.1,704.5 578.1,703.3 581.1,702.1 584.1,703.5 587.1,703.9 590.1,704.4 593.1,704.2 596.1,704.3 599.1,706.1 602.1,707.0 605.1,703.4 608.1,704.6 611.1,705.4 614.1,705.9 617.1,705.8 620.1,705.9 623.1,706.4 626.1,706.0 629.1,706.3 632.1,707.8 635.1,708.0 638.1,707.8 641.1,707.8 644.1,708.1 647.1,707.9 650.1,708.0 653.1,706.9 656.1,707.5 659.1,708.5 662.1,708.8 665.1,709.6 668.1,707.6 671.1,708.5 674.1,706.5 677.1,707.6 680.1,705.7 683.1,706.1 686.1,705.8 689.1,706.4 692.1,705.8 695.1,706.5 698.1,706.2 701.1,706.6 704.1,705.3 707.1,705.6 710.1,704.6 713.1,705.4 716.1,707.1 719.1,705.9 722.1,706.1 725.1,706.9 728.1,706.5 731.1,705.0 734.1,705.7 737.1,705.8 740.1,705.9 743.1,708.5 746.1,707.2 749.1,707.1 752.1,706.5 755.1,707.6 758.1,707.4 761.1,706.4 764.1,707.3 767.1,706.5 770.1,707.9 773.1,707.4 776.1,708.0 779.1,708.8 782.1,707.2 785.1,707.3 788.1,708.6 791.1,708.4 794.1,707.7 797.1,707.7 800.1,709.7 803.1,708.1 806.1,708.8 809.1,709.2 812.1,707.2 815.1,708.9 818.1,707.8 821.1,706.9 824.1,708.5 827.1,708.2 830.1,709.2 833.1,707.5 836.1,708.4 839.1,707.7 842.1,707.8 845.1,706.8 848.1,705.4 851.1,705.9 854.1,706.0 857.1,706.6 860.1,705.8 863.1,706.6 866.1,707.3 869.1,708.3 872.1,707.4 875.1,705.4 878.1,706.3 881.1,705.7 884.1,705.9 887.1,703.8 890.1,704.8 893.1,705.6 896.1,706.1 899.1,705.9 902.1,706.3 905.1,706.4 908.1,705.5 911.1,706.6 914.1,705.6 917.1,705.8 920.1,705.0 923.1,706.1 926.1,706.4 929.1,706.8 932.1,706.4 935.1,705.7 938.1,708.3 941.1,706.5 944.1,707.6 947.1,707.7 950.1,709.9 953.1,708.0 956.1,709.5 959.1,710.0 962.1,710.7 965.1,709.1 968.1,709.4 971.1,709.9 974.1,711.6 977.1,711.1 980.1,711.2 983.1,711.4 986.1,711.0 989.1,711.8 992.1,710.1 995.1,710.1 998.1,710.4 1001.1,710.8 1004.1,708.8 1007.1,710.3 1010.1,709.2 1013.1,709.7 1016.1,708.5 1019.1,708.1 1022.1,709.3 1025.1,710.0 1028.1,707.9 1031.1,708.5 1034.1,707.0 1037.1,709.2 1040.1,709.5 1043.1,709.3 1046.1,708.3 1049.1,709.4 1052.1,709.0 1055.1,707.6 1058.1,708.4 1061.1,707.8 1064.1,707.7 1067.1,706.7 1070.1,706.7 1073.1,705.8 1076.1,706.5 1079.1,705.4 1082.1,706.7 1085.1,705.6 1088.1,705.3 1091.1,705.0 1094.1,706.5 1097.1,706.4 1100.1,705.4 1103.1,707.3 1106.1,705.9 1109.1,707.6 1112.1,706.0 1115.1,706.0 1118.1,706.5 1121.1,706.7 1124.1,706.4 1127.1,704.5 1130.1,705.4 1133.1,704.8 1136.1,704.2 1139.1,703.7 1142.1,705.3 1145.1,705.2 1148.1,704.9 1151.1,705.8 1154.1,706.8 1157.1,706.5 1160.1,706.5 1163.1,706.9 1166.1,706.6 1169.1,705.9 1172.1,706.8 1175.1,707.4 1178.1,707.2 1181.1,707.8 1184.1,707.1 1187.1,705.8 1190.1,707.4 1193.1,706.3 1196.1,707.1 1199.1,707.3 1202.1,706.9 1205.1,708.5 1208.1,708.1 1211.1,708.5 1214.1,708.9 1217.1,708.7 1220.1,708.5 1223.1,709.2 1226.1,709.9 1229.1,709.1 1232.1,710.6 1235.1,710.9 1238.1,710.2 1241.1,709.2 1244.1,710.1 1247.1,710.5 1250.1,710.5 1253.1,711.6 1256.1,711.4 1259.1,711.7 1262.1,710.5 1265.1,711.5 1268.1,710.0 1271.1,710.2 1274.1,709.3 1277.1,709.8 1280.1,708.3 1283.1,707.9 1286.1,708.0 1289.1,709.6 1292.1,710.5 1295.1,710.9 1298.1,710.3 1301.1,710.1 1304.1,711.5 1307.1,711.5 1310.1,710.8 1313.1,712.0 1316.1,711.2 1319.1,711.7 1322.1,713.3 1325.1,713.7 1328.1,712.8 1331.1,713.5 1334.1,712.3 1337.1,710.8 1340.1,711.1 1343.1,709.7 1346.1,710.8 1349.1,709.8 1352.1,710.2 1355.1,709.6 1358.1,710.4 1361.1,710.2 1364.1,709.6 1367.1,710.2 1370.1,709.6 1373.1,711.6 1376.1,710.6 1379.1,708.1 1382.1,708.5 1385.1,710.0 1388.1,709.0 1391.1,709.3 1394.1,712.1 1397.1,709.6 1400.1,708.4 1403.1,710.4 1406.1,709.0 1409.1,709.4 1412.1,710.4 1415.1,711.3 1418.1,710.2 1421.1,710.7 1424.1,710.5 1427.1,710.1 1430.1,712.1 1433.1,710.9 1436.1,709.4 1439.1,711.0 1442.1,710.9 1445.1,711.4 1448.1,711.9 1451.1,710.8 1454.1,711.8 1457.1,710.5 1460.1,711.9 1463.1,710.9 1466.1,710.4 1469.1,710.3 1472.1,708.8 1475.1,709.6 1478.1,710.8 1481.1,710.0 1484.1,710.1 1487.1,709.4 1490.1,708.7 1493.1,709.8 1496.1,710.4 1499.1,708.9 1502.1,708.9 1505.1,707.5 1508.1,710.0 1511.1,710.9 1514.1,709.1 1517.1,709.2 1520.1,708.9 1523.1,709.2 1526.1,709.7 1529.1,710.3 1532.1,711.0 1535.1,710.4 1538.1,712.1 1541.1,712.2 1544.1,710.5 1547.1,710.5 1550.1,711.3 1553.1,710.8 1556.1,710.2 1559.1,710.9 1562.1,710.4 1565.1,708.8 1568.1,709.0 1571.1,709.9 1574.1,712.5 1577.1,712.0 1580.1,711.0 1583.1,712.4 1586.1,712.0 1589.1,711.1 1592.1,709.3 1595.1,709.7 1598.1,709.4 1601.1,710.8 1604.1,710.0 1607.1,710.3 1610.1,710.5 1613.1,709.9 1616.1,711.8 1619.1,711.7 1622.1,712.3 1625.1,712.0 1628.1,712.6 1631.1,713.6 1634.1,710.5 1637.1,708.9 1640.1,709.7 1643.1,708.1 1646.1,709.0 1649.1,709.0 1652.1,708.7 1655.1,707.2 1658.1,707.7 1661.1,707.8 1664.1,708.4 1667.1,709.4 1670.1,710.1 1673.1,709.9 1676.1,709.2 1679.1,709.8 1682.1,708.8 1685.1,707.5 1688.1,708.2 1691.1,707.6 1694.1,707.3 1697.1,708.2 1700.1,705.6 1703.1,707.5 1706.1,707.9 1709.1,707.0 1712.1,707.0 1715.1,705.7 1718.1,706.5 1721.1,705.0 1724.1,706.4 1727.1,705.6 1730.1,705.1 1733.1,707.5 1736.1,706.6 1739.1,706.4 1742.1,707.9 1745.1,707.4 1748.1,708.0 1751.1,706.6 1754.1,706.7 1757.1,708.7 1760.1,709.1 1763.1,708.2 1766.1,709.8 1769.1,708.2 1772.1,708.7 1775.1,708.9 1778.1,709.5 1781.1,708.4 1784.1,709.2 1787.1,709.0 1790.1,710.1 1793.1,709.8 1796.1,708.6 1799.1,709.6 1802.1,708.6 1805.1,710.0 1808.1,708.3 1811.1,707.8 1814.1,710.0 1817.1,707.5 1820.1,709.3 1823.1,707.9 1826.1,709.4 1829.1,709.7 1832.1,710.6 1835.1,710.8 1838.1,708.8 1841.1,708.3 1844.1,710.4 1847.1,708.8 1850.1,707.9 1853.1,709.5 1856.1,710.1 1859.1,710.0 1862.1,709.0 1865.1,708.4 1868.1,709.5 1871.1,709.9 1874.1,709.1 1877.1,709.1 1880.1,711.5 1883.1,710.0 1886.1,710.6 1889.1,709.7 1892.1,710.1 1895.1,711.2 1898.1,711.3 1901.1,710.5 1904.1,710.5 1907.1,711.3 1910.1,711.1 1913.1,711.5 1916.1,711.0 1919.1,712.7 1922.1,710.3 1925.1,710.5 1928.1,711.5 1931.1,710.7 1934.1,710.8 1937.1,710.2 1940.1,712.4 1943.1,712.1 1946.1,711.2 1949.1,711.2 1952.1,710.0 1955.1,710.6 1958.1,708.7 1961.1,710.0 1964.1,710.1 1967.1,709.8 1970.1,709.2 1973.1,711.7 1976.1,710.0 1979.1,709.0 1982.1,710.7 1985.1,709.6 1988.1,710.4 1991.1,710.7 1994.1,710.6 1997.1,712.1 2000.1,712.0 2003.1,713.0 2006.1,714.4 2009.1,713.5 2012.1,711.3 2015.1,712.8 2018.1,713.3 2021.1,711.9 2024.1,712.8 2027.1,712.6 2030.1,710.7 2033.1,710.7 2036.1,712.0 2039.1,713.4 2042.1,712.0 2045.1,713.0 2048.1,712.7 2051.1,712.9 2054.1,712.9 2057.1,712.7 2060.1,713.5 2063.1,712.1 2066.1,712.6 2069.1,711.9 2072.1,710.2 2075.1,712.2 2078.1,711.7 2081.1,711.0 2084.1,711.3 2087.1,712.6 2090.1,712.9 2093.1,712.8 2096.1,712.7 2099.1,713.4 2102.1,713.5 2105.1,715.0 2108.1,715.1 2111.1,714.8 2114.1,713.1 2117.1,713.4 2120.1,713.6 2123.1,712.3 2126.1,715.4 2129.1,713.7 2132.1,714.4 2135.1,714.5 2138.1,715.4 2141.1,714.1 2144.1,713.8 2147.1,713.5 2150.1,712.1 2153.1,711.2 2156.1,712.4 2159.1,714.4 2162.1,713.8 2165.1,713.4 2168.1,713.2 2171.1,714.6 2174.1,711.8 2177.1,711.8 2180.1,711.5 2183.1,710.9 2186.1,712.5 2189.1,712.4 2192.1,711.6 2195.1,709.6 2198.1,710.0 2201.1,710.9 2204.1,710.3 2207.1,710.7 2210.1,710.6 2213.1,710.8 2216.1,710.2 2219.1,709.1 2222.1,711.3 2225.1,710.0 2228.1,708.5 2231.1,709.9 2234.1,709.3 2237.1,709.0 2240.1,709.3 2243.1,709.3 2246.1,709.0 2249.1,710.5 2252.1,711.2 2255.1,711.9 2258.1,710.7 2261.1,710.3 2264.1,709.0 2267.1,709.2 2270.1,707.7 2273.1,708.3 2276.1,709.6 2279.1,709.1 2282.1,708.3 2285.1,707.3 2288.1,707.3 2291.1,710.5 2294.1,707.9 2297.1,708.2 2300.1,708.2 2303.1,708.2 2306.1,707.9 2309.1,709.2 2312.1,708.3 2315.1,707.8 2318.1,707.1 2321.1,709.3 2324.1,708.3 2327.1,709.2 2330.1,709.5 2333.1,708.5 2336.1,706.8 2339.1,709.5 2342.1,709.6 2345.1,708.1 2348.1,707.7 2351.1,707.7 2354.1,708.8 2357.1,709.4 2360.1,709.4 2363.1,709.0 2366.1,709.6 2369.1,711.5 2372.1,709.5 2375.1,708.6 2378.1,709.8 2381.1,709.7 2384.1,708.9 2387.1,708.5 2390.1,707.5 2393.1,707.2 2396.1,708.8 2399.1,707.8 2402.1,709.1 2405.1,710.1 2408.1,711.5 2411.1,709.6 2414.1,709.4 2417.1,710.2 2420.1,710.1 2423.1,709.4 2426.1,708.9 2429.1,709.2 2432.1,709.6 2435.1,708.2 2438.1,707.9 2441.1,708.2 2444.1,707.6 2447.1,707.4 2450.1,708.1 2453.1,709.1 2456.1,708.6 2459.1,708.4 2462.1,707.5 2465.1,708.3 2468.1,706.9 2471.1,707.6 2474.1,707.6 2477.1,708.9 2480.1,709.4 2483.1,710.5 2486.1,710.4 2489.1,709.6 2492.1,710.5 2495.1,710.5 2498.1,711.7 2501.1,710.5 2504.1,711.3 2507.1,711.8 2510.1,712.4 2513.1,710.7 2516.1,711.5 2519.1,710.6 2522.1,710.8 2525.1,710.4 2528.1,710.4 2531.1,709.4 2534.1,708.4 2537.1,708.2 2540.1,708.7 2543.1,708.0 2546.1,707.4 2549.1,708.8 2552.1,710.1 2555.1,709.1 2558.1,708.5 2561.1,708.5 2564.1,708.2 2567.1,708.9 2570.1,709.4 2573.1,710.2 2576.1,709.3 2579.1,710.0 2582.1,708.9 2585.1,710.2 2588.1,711.2 2591.1,710.7 2594.1,710.2 2597.1,710.2 2600.1,709.7 2603.1,708.2 2606.1,708.7 2609.1,709.1 2612.1,707.3 2615.1,706.7 2618.1,708.0 2621.1,706.8 2624.1,708.0 2627.1,708.4 2630.1,705.9 2633.1,706.8 2636.1,708.0 2639.1,708.0 2642.1,708.6 2645.1,709.1 2648.1,708.7 2651.1,708.7 2654.1,708.7 2657.1,708.7 2660.1,709.9 2663.1,709.0 2666.1,707.7 2669.1,710.1 2672.1,708.5 2675.1,707.3 2678.1,708.7 2681.1,709.9 2684.1,709.8 2687.1,711.2 2690.1,710.2 2693.1,712.2 2696.1,711.2 2699.1,712.1 2702.1,709.5 2705.1,711.4 2708.1,712.0 2711.1,710.6 2714.1,710.2 2717.1,709.1 2720.1,709.5 2723.1,710.8 2726.1,710.8 2729.1,710.4 2732.1,709.6 2735.1,708.9 2738.1,709.6 2741.1,710.7 2744.1,709.0 2747.1,710.0 2750.1,711.4 2753.1,710.5 2756.1,710.6 2759.1,709.5 2762.1,710.5 2765.1,712.2 2768.1,712.9 2771.1,711.3 2774.1,710.8 2777.1,711.1 2780.1,708.4 2783.1,709.1 2786.1,709.2 2789.1,707.3 2792.1,709.3 2795.1,708.2 2798.1,708.2 2801.1,707.8" stroke="#8c564b"/>
<polyline points="518.1,701.0 521.1,708.5 524.1,703.3 527.1,702.6 530.1,704.8 533.1,705.3 536.1,703.5 539.1,706.1 542.1,702.3 545.1,697.3 548.1,702.7 551.1,701.3 554.1,697.0 557.1,693.3 560.1,700.4 563.1,703.5 566.1,702.6 569.1,703.5 572.1,706.0 575.1,700.5 578.1,704.5 581.1,699.6 584.1,702.5 587.1,700.2 590.1,700.5 593.1,705.3 596.1,701.1 599.1,701.3 602.1,700.5 605.1,698.8 608.1,699.2 611.1,704.2 614.1,699.1 617.1,702.0 620.1,700.7 623.1,701.4 626.1,703.2 629.1,696.7 632.1,700.5 635.1,695.8 638.1,704.1 641.1,699.3 644.1,705.4 647.1,703.7 650.1,705.3 653.1,702.5 656.1,703.0 659.1,700.3 662.1,704.7 665.1,701.5 668.1,701.9 671.1,696.2 674.1,694.9 677.1,694.6 680.1,695.0 683.1,696.4 686.1,697.8 689.1,703.2 692.1,705.6 695.1,707.4 698.1,703.3 701.1,702.8 704.1,698.8 707.1,702.2 710.1,703.7 713.1,701.3 716.1,700.8 719.1,700.4 722.1,696.9 725.1,699.3 728.1,700.7 731.1,702.0 734.1,701.8 737.1,703.8 740.1,704.2 743.1,704.2 746.1,702.0 749.1,702.6 752.1,702.6 755.1,704.2 758.1,697.8 761.1,694.3 764.1,695.6 767.1,700.9 770.1,699.5 773.1,700.1 776.1,701.3 779.1,700.8 782.1,700.1 785.1,709.0 788.1,709.7 791.1,710.0 794.1,715.1 797.1,711.7 800.1,707.2 803.1,709.7 806.1,704.1 809.1,707.7 812.1,707.4 815.1,708.2 818.1,711.5 821.1,704.1 824.1,705.2 827.1,707.3 830.1,702.4 833.1,703.1 836.1,702.1 839.1,699.3 842.1,702.9 845.1,701.4 848.1,700.2 851.1,700.3 854.1,704.4 857.1,700.0 860.1,701.6 863.1,704.8 866.1,707.0 869.1,706.5 872.1,704.5 875.1,702.4 878.1,702.1 881.1,705.2 884.1,704.2 887.1,706.7 890.1,702.3 893.1,707.9 896.1,705.8 899.1,705.7 902.1,705.1 905.1,701.4 908.1,701.7 911.1,703.6 914.1,701.4 917.1,701.6 920.1,703.5 923.1,701.3 926.1,704.5 929.1,701.8 932.1,694.8 935.1,696.3 938.1,696.9 941.1,698.5 944.1,698.5 947.1,694.1 950.1,698.0 953.1,701.7 956.1,703.5 959.1,703.3 962.1,703.3 965.1,704.0 968.1,702.2 971.1,700.5 974.1,705.9 977.1,704.7 980.1,700.2 983.1,702.5 986.1,708.4 989.1,704.2 992.1,708.7 995.1,705.3 998.1,703.3 1001.1,701.3 1004.1,700.4 1007.1,703.6 1010.1,704.0 1013.1,702.4 1016.1,700.6 1019.1,700.2 1022.1,698.4 1025.1,697.4 1028.1,703.4 1031.1,705.9 1034.1,707.6 1037.1,704.5 1040.1,700.3 1043.1,703.8 1046.1,704.3 1049.1,705.6 1052.1,704.1 1055.1,702.6 1058.1,709.9 1061.1,705.6 1064.1,704.2 1067.1,700.4 1070.1,702.4 1073.1,702.9 1076.1,701.3 1079.1,702.6 1082.1,705.9 1085.1,704.5 1088.1,703.8 1091.1,705.1 1094.1,704.9 1097.1,699.6 1100.1,702.7 1103.1,701.4 1106.1,699.7 1109.1,698.9 1112.1,700.1 1115.1,699.7 1118.1,703.0 1121.1,704.7 1124.1,708.5 1127.1,706.6 1130.1,705.9 1133.1,707.9 1136.1,708.8 1139.1,703.4 1142.1,703.1 1145.1,702.7 1148.1,705.4 1151.1,710.2 1154.1,709.8 1157.1,710.9 1160.1,712.9 1163.1,708.8 1166.1,708.3 1169.1,705.2 1172.1,710.5 1175.1,707.6 1178.1,709.6 1181.1,707.3 1184.1,707.6 1187.1,706.1 1190.1,706.2 1193.1,710.1 1196.1,707.3 1199.1,709.5 1202.1,710.0 1205.1,707.7 1208.1,702.5 1211.1,698.9 1214.1,704.2 1217.1,701.9 1220.1,701.7 1223.1,703.5 1226.1,700.0 1229.1,702.6 1232.1,704.5 1235.1,698.7 1238.1,695.9 1241.1,703.7 1244.1,698.9 1247.1,702.0 1250.1,703.6 1253.1,708.9 1256.1,707.1 1259.1,706.7 1262.1,706.1 1265.1,706.6 1268.1,706.8 1271.1,706.9 1274.1,703.1 1277.1,707.9 1280.1,712.0 1283.1,702.2 1286.1,705.6 1289.1,702.4 1292.1,706.9 1295.1,708.8 1298.1,701.9 1301.1,704.3 1304.1,705.9 1307.1,703.3 1310.1,705.7 1313.1,705.2 1316.1,709.8 1319.1,703.5 1322.1,706.8 1325.1,704.6 1328.1,707.8 1331.1,701.8 1334.1,704.3 1337.1,701.0 1340.1,704.7 1343.1,697.7 1346.1,701.0 1349.1,701.1 1352.1,700.3 1355.1,707.5 1358.1,700.5 1361.1,702.4 1364.1,703.4 1367.1,706.9 1370.1,701.1 1373.1,702.3 1376.1,708.4 1379.1,704.3 1382.1,701.7 1385.1,702.2 1388.1,705.6 1391.1,701.2 1394.1,704.5 1397.1,701.5 1400.1,703.5 1403.1,700.5 1406.1,706.9 1409.1,707.0 1412.1,708.4 1415.1,703.2 1418.1,704.9 1421.1,704.0 1424.1,701.3 1427.1,704.5 1430.1,703.5 1433.1,701.1 1436.1,700.1 1439.1,695.7 1442.1,700.9 1445.1,694.5 1448.1,699.8 1451.1,692.0 1454.1,694.0 1457.1,694.3 1460.1,699.1 1463.1,696.8 1466.1,698.2 1469.1,694.3 1472.1,689.5 1475.1,690.7 1478.1,692.5 1481.1,690.2 1484.1,690.8 1487.1,697.5 1490.1,689.5 1493.1,691.2 1496.1,692.4 1499.1,690.3 1502.1,692.8 1505.1,695.1 1508.1,701.8 1511.1,699.1 1514.1,699.8 1517.1,701.1 1520.1,699.6 1523.1,702.6 1526.1,697.4 1529.1,699.4 1532.1,705.6 1535.1,702.9 1538.1,705.1 1541.1,705.0 1544.1,699.3 1547.1,701.4 1550.1,700.0 1553.1,700.4 1556.1,699.9 1559.1,700.5 1562.1,697.6 1565.1,700.1 1568.1,699.5 1571.1,698.1 1574.1,701.2 1577.1,697.2 1580.1,697.1 1583.1,699.1 1586.1,699.7 1589.1,698.4 1592.1,705.4 1595.1,700.1 1598.1,702.0 1601.1,698.2 1604.1,700.7 1607.1,701.0 1610.1,699.9 1613.1,700.1 1616.1,700.8 1619.1,700.7 1622.1,697.1 1625.1,696.6 1628.1,694.9 1631.1,697.5 1634.1,698.9 1637.1,700.6 1640.1,703.1 1643.1,702.8 1646.1,697.1 1649.1,703.1 1652.1,705.7 1655.1,707.9 1658.1,704.9 1661.1,707.3 1664.1,704.6 1667.1,703.1 1670.1,702.4 1673.1,702.1 1676.1,699.1 1679.1,701.0 1682.1,702.7 1685.1,698.7 1688.1,699.3 1691.1,699.6 1694.1,700.9 1697.1,699.6 1700.1,698.9 1703.1,697.5 1706.1,692.3 1709.1,695.8 1712.1,692.1 1715.1,692.8 1718.1,693.2 1721.1,693.9 1724.1,688.8 1727.1,691.3 1730.1,689.9 1733.1,694.8 1736.1,694.7 1739.1,693.4 1742.1,694.8 1745.1,695.5 1748.1,695.9 1751.1,693.6 1754.1,697.0 1757.1,696.4 1760.1,695.6 1763.1,699.1 1766.1,697.1 1769.1,700.2 1772.1,697.9 1775.1,693.7 1778.1,689.9 1781.1,700.9 1784.1,698.8 1787.1,695.5 1790.1,700.6 1793.1,697.7 1796.1,701.4 1799.1,698.3 1802.1,697.6 1805.1,699.8 1808.1,700.1 1811.1,699.9 1814.1,702.1 1817.1,700.8 1820.1,705.9 1823.1,706.4 1826.1,706.3 1829.1,702.0 1832.1,706.3 1835.1,709.3 1838.1,712.1 1841.1,712.3 1844.1,707.7 1847.1,711.2 1850.1,708.1 1853.1,709.5 1856.1,708.0 1859.1,705.2 1862.1,702.1 1865.1,701.5 1868.1,704.9 1871.1,701.8 1874.1,699.1 1877.1,705.1 1880.1,705.8 1883.1,699.8 1886.1,702.2 1889.1,700.2 1892.1,703.9 1895.1,703.0 1898.1,702.8 1901.1,703.8 1904.1,705.5 1907.1,705.4 1910.1,702.7 1913.1,702.7 1916.1,704.7 1919.1,701.1 1922.1,704.1 1925.1,708.4 1928.1,704.8 1931.1,709.9 1934.1,708.6 1937.1,706.1 1940.1,696.8 1943.1,694.9 1946.1,701.4 1949.1,700.5 1952.1,699.3 1955.1,700.0 1958.1,699.9 1961.1,701.7 1964.1,706.9 1967.1,704.6 1970.1,703.4 1973.1,705.2 1976.1,698.0 1979.1,705.6 1982.1,702.2 1985.1,706.5 1988.1,701.5 1991.1,705.7 1994.1,703.1 1997.1,703.0 2000.1,698.5 2003.1,696.8 2006.1,694.0 2009.1,692.8 2012.1,698.5 2015.1,697.7 2018.1,695.8 2021.1,691.8 2024.1,689.4 2027.1,690.5 2030.1,687.8 2033.1,689.2 2036.1,690.2 2039.1,693.7 2042.1,692.0 2045.1,694.0 2048.1,698.6 2051.1,698.2 2054.1,697.9 2057.1,695.4 2060.1,696.2 2063.1,697.0 2066.1,699.8 2069.1,689.3 2072.1,693.6 2075.1,693.3 2078.1,698.1 2081.1,697.0 2084.1,693.2 2087.1,696.3 2090.1,696.2 2093.1,694.0 2096.1,698.8 2099.1,697.2 2102.1,700.3 2105.1,695.0 2108.1,696.6 2111.1,694.7 2114.1,697.7 2117.1,694.5 2120.1,692.8 2123.1,690.2 2126.1,689.3 2129.1,693.2 2132.1,694.1 2135.1,695.0 2138.1,694.8 2141.1,694.8 2144.1,694.6 2147.1,696.8 2150.1,694.8 2153.1,697.1 2156.1,700.4 2159.1,699.4 2162.1,696.5 2165.1,700.3 2168.1,693.7 2171.1,692.9 2174.1,693.8 2177.1,695.2 2180.1,696.7 2183.1,698.0 2186.1,701.2 2189.1,706.8 2192.1,706.7 2195.1,701.2 2198.1,704.7 2201.1,703.9 2204.1,707.0 2207.1,704.1 2210.1,700.9 2213.1,708.2 2216.1,708.7 2219.1,706.2 2222.1,703.5 2225.1,710.4 2228.1,704.6 2231.1,703.5 2234.1,705.8 2237.1,703.0 2240.1,707.4 2243.1,705.6 2246.1,711.1 2249.1,711.8 2252.1,703.4 2255.1,702.6 2258.1,699.4 2261.1,698.4 2264.1,700.3 2267.1,700.1 2270.1,696.8 2273.1,702.0 2276.1,699.8 2279.1,700.7 2282.1,700.9 2285.1,707.3 2288.1,702.7 2291.1,705.4 2294.1,703.4 2297.1,707.3 2300.1,703.2 2303.1,703.1 2306.1,706.5 2309.1,703.4 2312.1,702.2 2315.1,699.7 2318.1,704.0 2321.1,703.3 2324.1,705.4 2327.1,704.5 2330.1,704.9 2333.1,702.0 2336.1,697.5 2339.1,700.1 2342.1,693.8 2345.1,693.7 2348.1,698.5 2351.1,693.4 2354.1,694.5 2357.1,699.1 2360.1,693.7 2363.1,697.2 2366.1,695.0 2369.1,692.2 2372.1,692.6 2375.1,688.9 2378.1,690.7 2381.1,690.4 2384.1,690.7 2387.1,691.7 2390.1,691.6 2393.1,688.4 2396.1,691.8 2399.1,694.8 2402.1,688.9 2405.1,695.6 2408.1,697.6 2411.1,698.3 2414.1,698.7 2417.1,693.4 2420.1,695.2 2423.1,697.0 2426.1,696.5 2429.1,697.2 2432.1,702.1 2435.1,701.5 2438.1,703.4 2441.1,697.5 2444.1,701.7 2447.1,708.6 2450.1,704.7 2453.1,703.9 2456.1,709.0 2459.1,703.3 2462.1,705.1 2465.1,701.6 2468.1,696.7 2471.1,695.9 2474.1,699.4 2477.1,695.4 2480.1,696.7 2483.1,701.4 2486.1,702.2 2489.1,706.7 2492.1,705.1 2495.1,701.8 2498.1,699.7 2501.1,702.1 2504.1,696.3 2507.1,697.9 2510.1,698.9 2513.1,691.7 2516.1,697.7 2519.1,691.9 2522.1,692.5 2525.1,692.2 2528.1,694.2 2531.1,695.5 2534.1,692.9 2537.1,692.9 2540.1,697.0 2543.1,694.8 2546.1,691.4 2549.1,691.0 2552.1,694.2 2555.1,693.4 2558.1,694.7 2561.1,697.4 2564.1,701.2 2567.1,695.9 2570.1,700.5 2573.1,695.9 2576.1,697.1 2579.1,693.8 2582.1,697.6 2585.1,697.9 2588.1,693.9 2591.1,690.9 2594.1,692.2 2597.1,692.9 2600.1,697.5 2603.1,690.0 2606.1,691.1 2609.1,688.2 2612.1,691.3 2615.1,691.3 2618.1,695.2 2621.1,688.8 2624.1,689.7 2627.1,694.2 2630.1,693.1 2633.1,691.0 2636.1,698.1 2639.1,694.9 2642.1,700.0 2645.1,703.7 2648.1,700.7 2651.1,697.7 2654.1,695.2 2657.1,698.7 2660.1,696.4 2663.1,695.6 2666.1,699.1 2669.1,697.4 2672.1,692.8 2675.1,699.5 2678.1,698.4 2681.1,699.2 2684.1,698.0 2687.1,694.5 2690.1,690.0 2693.1,692.9 2696.1,693.2 2699.1,689.5 2702.1,685.9 2705.1,689.2 2708.1,690.6 2711.1,689.5 2714.1,699.4 2717.1,697.6 2720.1,690.4 2723.1,689.2 2726.1,693.8 2729.1,698.7 2732.1,698.2 2735.1,694.2 2738.1,692.3 2741.1,693.6 2744.1,695.8 2747.1,693.4 2750.1,692.7 2753.1,694.6 2756.1,689.1 2759.1,693.3 2762.1,692.7 2765.1,694.2 2768.1,687.5 2771.1,683.5 2774.1,683.1 2777.1,686.0 2780.1,692.9 2783.1,691.4 2786.1,695.8 2789.1,690.8 2792.1,684.6 2795.1,692.4 2798.1,694.8 2801.1,691.5" stroke="#e377c2"/>
<polyline points="518.1,714.2 523.1,713.8 528.1,713.4 533.1,713.8 538.1,713.8 543.1,713.7 548.1,714.6 553.1,714.8 558.1,714.0 563.1,714.6 568.1,714.6 573.1,714.2 578.1,713.1 583.1,713.7 588.1,713.1 593.1,713.7 598.1,713.2 603.1,712.5 608.1,712.9 613.1,713.5 618.1,714.0 623.1,714.2 628.1,713.0 633.1,713.5 638.1,713.5 643.1,713.5 648.1,712.6 653.1,712.9 658.1,713.3 663.1,712.5 668.1,713.3 673.1,713.3 678.1,713.0 683.1,714.0 688.1,713.8 693.1,712.1 698.1,712.7 703.1,713.3 708.1,712.8 713.1,712.3 718.1,713.3 723.1,713.1 728.1,713.6 733.1,713.6 738.1,713.7 743.1,714.1 748.1,714.3 753.1,714.2 758.1,713.6 763.1,713.8 768.1,714.4 773.1,714.3 778.1,714.6 783.1,713.9 788.1,714.3 793.1,714.3 798.1,714.6 803.1,715.5 808.1,714.5 813.1,714.7 818.1,714.5 823.1,715.2 828.1,714.4 833.1,714.4 838.1,713.8 843.1,713.2 848.1,713.4 853.1,714.0 858.1,712.9 863.1,714.1 868.1,714.4 873.1,714.1 878.1,713.6 883.1,713.2 888.1,713.8 893.1,713.9 898.1,713.2 903.1,713.9 908.1,714.8 913.1,713.5 918.1,713.3 923.1,713.4 928.1,713.1 933.1,713.7 938.1,712.1 943.1,712.7 948.1,712.9 953.1,712.2 958.1,712.1 963.1,712.2 968.1,712.2 973.1,712.4 978.1,712.0 983.1,712.1 988.1,711.4 993.1,712.4 998.1,712.0 1003.1,712.2 1008.1,711.9 1013.1,711.7 1018.1,711.7 1023.1,712.2 1028.1,712.6 1033.1,712.7 1038.1,712.2 1043.1,712.1 1048.1,711.9 1053.1,711.7 1058.1,712.2 1063.1,712.0 1068.1,712.4 1073.1,712.0 1078.1,711.9 1083.1,712.8 1088.1,712.1 1093.1,712.5 1098.1,712.9 1103.1,714.2 1108.1,714.6 1113.1,714.3 1118.1,715.1 1123.1,713.7 1128.1,714.1 1133.1,713.5 1138.1,712.9 1143.1,712.9 1148.1,712.7 1153.1,713.0 1158.1,713.8 1163.1,713.2 1168.1,714.4 1173.1,713.1 1178.1,713.3 1183.1,713.3 1188.1,713.2 1193.1,713.7 1198.1,713.6 1203.1,713.5 1208.1,713.7 1213.1,713.5 1218.1,713.6 1223.1,713.9 1228.1,713.0 1233.1,713.8 1238.1,712.7 1243.1,712.7 1248.1,711.7 1253.1,711.6 1258.1,711.7 1263.1,711.8 1268.1,711.8 1273.1,712.0 1278.1,712.2 1283.1,712.5 1288.1,712.0 1293.1,711.2 1298.1,712.2 1303.1,713.2 1308.1,713.2 1313.1,712.4 1318.1,712.5 1323.1,713.2 1328.1,712.5 1333.1,712.6 1338.1,713.2 1343.1,713.1 1348.1,713.6 1353.1,713.6 1358.1,713.7 1363.1,713.4 1368.1,713.2 1373.1,712.8 1378.1,713.0 1383.1,713.5 1388.1,713.4 1393.1,714.3 1398.1,713.9 1403.1,713.8 1408.1,713.8 1413.1,714.3 1418.1,714.7 1423.1,714.8 1428.1,714.2 1433.1,715.0 1438.1,715.4 1443.1,714.6 1448.1,714.0 1453.1,714.5 1458.1,714.4 1463.1,715.1 1468.1,713.2 1473.1,714.0 1478.1,713.7 1483.1,714.7 1488.1,713.7 1493.1,714.8 1498.1,714.6 1503.1,713.6 1508.1,714.2 1513.1,715.0 1518.1,714.4 1523.1,714.2 1528.1,713.4 1533.1,712.3 1538.1,712.7 1543.1,712.3 1548.1,712.9 1553.1,712.4 1558.1,712.8 1563.1,712.7 1568.1,713.3 1573.1,713.0 1578.1,713.2 1583.1,713.1 1588.1,712.4 1593.1,713.0 1598.1,712.5 1603.1,713.4 1608.1,712.4 1613.1,712.6 1618.1,713.1 1623.1,713.9 1628.1,714.2 1633.1,714.6 1638.1,714.9 1643.1,714.4 1648.1,714.4 1653.1,714.3 1658.1,714.2 1663.1,713.8 1668.1,713.9 1673.1,714.6 1678.1,714.1 1683.1,714.4 1688.1,713.1 1693.1,713.4 1698.1,712.6 1703.1,713.0 1708.1,713.8 1713.1,713.9 1718.1,713.9 1723.1,714.7 1728.1,713.9 1733.1,714.1 1738.1,714.9 1743.1,714.1 1748.1,714.1 1753.1,714.2 1758.1,714.0 1763.1,713.9 1768.1,713.4 1773.1,713.6 1778.1,714.2 1783.1,713.7 1788.1,714.2 1793.1,714.1 1798.1,713.9 1803.1,714.2 1808.1,714.6 1813.1,714.4 1818.1,714.6 1823.1,714.6 1828.1,714.3 1833.1,714.9 1838.1,714.0 1843.1,715.4 1848.1,714.8 1853.1,714.8 1858.1,714.1 1863.1,714.4 1868.1,714.2 1873.1,714.2 1878.1,714.1 1883.1,714.0 1888.1,714.8 1893.1,714.6 1898.1,714.9 1903.1,714.5 1908.1,714.9 1913.1,714.3 1918.1,715.2 1923.1,715.5 1928.1,714.2 1933.1,715.3 1938.1,714.9 1943.1,714.5 1948.1,714.7 1953.1,714.7 1958.1,714.6 1963.1,714.3 1968.1,714.6 1973.1,715.2 1978.1,715.0 1983.1,715.5 1988.1,715.4 1993.1,715.8 1998.1,715.6 2003.1,716.3 2008.1,715.8 2013.1,716.2 2018.1,716.5 2023.1,716.4 2028.1,715.8 2033.1,715.5 2038.1,716.0 2043.1,716.1 2048.1,715.7 2053.1,716.5 2058.1,716.3 2063.1,715.3 2068.1,714.5 2073.1,714.9 2078.1,715.9 2083.1,714.7 2088.1,715.1 2093.1,715.1 2098.1,714.9 2103.1,715.5 2108.1,715.6 2113.1,715.8 2118.1,715.5 2123.1,715.1 2128.1,714.9 2133.1,714.7 2138.1,714.8 2143.1,715.5 2148.1,714.4 2153.1,715.4 2158.1,714.0 2163.1,715.6 2168.1,716.0 2173.1,714.7 2178.1,714.8 2183.1,714.0 2188.1,714.5 2193.1,714.2 2198.1,714.6 2203.1,714.2 2208.1,714.9 2213.1,715.0 2218.1,714.7 2223.1,714.7 2228.1,714.9 2233.1,715.0 2238.1,714.5 2243.1,715.4 2248.1,715.6 2253.1,715.5 2258.1,715.8 2263.1,714.9 2268.1,714.0 2273.1,714.3 2278.1,714.5 2283.1,714.6 2288.1,714.2 2293.1,715.0 2298.1,714.2 2303.1,714.7 2308.1,714.8 2313.1,713.7 2318.1,715.1 2323.1,715.3 2328.1,715.0 2333.1,714.4 2338.1,714.5 2343.1,714.1 2348.1,714.0 2353.1,713.5 2358.1,713.5 2363.1,712.9 2368.1,713.9 2373.1,713.9 2378.1,713.9 2383.1,714.4 2388.1,713.7 2393.1,713.7 2398.1,713.9 2403.1,712.5 2408.1,712.7 2413.1,712.7 2418.1,713.2 2423.1,712.8 2428.1,713.2 2433.1,714.0 2438.1,714.1 2443.1,713.6 2448.1,713.4 2453.1,713.3 2458.1,713.6 2463.1,714.0 2468.1,712.9 2473.1,713.0 2478.1,713.2 2483.1,712.6 2488.1,713.8 2493.1,714.1 2498.1,714.4 2503.1,713.5 2508.1,713.2 2513.1,713.8 2518.1,713.4 2523.1,713.5 2528.1,714.1 2533.1,713.0 2538.1,712.8 2543.1,714.0 2548.1,713.0 2553.1,713.1 2558.1,712.4 2563.1,713.3 2568.1,713.3 2573.1,712.6 2578.1,712.4 2583.1,714.0 2588.1,712.9 2593.1,713.1 2598.1,712.9 2603.1,714.4 2608.1,713.2 2613.1,713.7 2618.1,713.6 2623.1,714.1 2628.1,714.1 2633.1,713.6 2638.1,713.6 2643.1,714.3 2648.1,714.6 2653.1,714.2 2658.1,714.4 2663.1,714.8 2668.1,714.1 2673.1,714.7 2678.1,714.2 2683.1,712.9 2688.1,713.2 2693.1,713.3 2698.1,713.1 2703.1,713.0 2708.1,713.3 2713.1,712.5 2718.1,712.2 2723.1,713.2 2728.1,713.1 2733.1,712.7 2738.1,713.7 2743.1,712.8 2748.1,712.3 2753.1,712.4 2758.1,713.5 2763.1,713.5 2768.1,713.9 2773.1,713.1 2778.1,714.2 2783.1,713.7 2788.1,713.5 2793.1,713.2 2798.1,713.2" stroke="#7f7f7f"/>
<polyline points="518.1,700.9 521.1,701.7 524.1,702.3 527.1,700.9 530.1,700.2 533.1,700.1 536.1,700.8 539.1,700.7 542.1,703.9 545.1,703.4 548.1,702.6 551.1,702.6 554.1,701.5 557.1,700.8 560.1,700.7 563.1,702.8 566.1,702.4 569.1,701.6 572.1,702.9 575.1,701.4 578.1,702.7 581.1,703.7 584.1,701.2 587.1,704.0 590.1,704.3 593.1,703.1 596.1,703.3 599.1,702.5 602.1,701.8 605.1,703.0 608.1,701.9 611.1,702.8 614.1,702.9 617.1,703.1 620.1,702.2 623.1,700.8 626.1,704.8 629.1,702.9 632.1,702.2 635.1,702.0 638.1,701.5 641.1,700.1 644.1,699.9 647.1,700.5 650.1,700.4 653.1,702.9 656.1,703.2 659.1,700.9 662.1,701.3 665.1,702.3 668.1,701.3 671.1,700.8 674.1,702.6 677.1,701.3 680.1,701.2 683.1,701.3 686.1,702.1 689.1,702.3 692.1,701.8 695.1,701.1 698.1,700.2 701.1,699.2 704.1,699.7 707.1,699.3 710.1,699.8 713.1,699.8 716.1,698.9 719.1,697.7 722.1,698.9 725.1,698.1 728.1,699.0 731.1,700.3 734.1,699.0 737.1,698.9 740.1,699.1 743.1,700.0 746.1,697.6 749.1,698.7 752.1,699.1 755.1,701.6 758.1,701.5 761.1,699.8 764.1,698.8 767.1,701.7 770.1,701.2 773.1,703.2 776.1,701.4 779.1,701.0 782.1,698.7 785.1,699.8 788.1,699.4 791.1,698.5 794.1,699.4 797.1,698.3 800.1,697.2 803.1,696.6 806.1,696.9 809.1,700.2 812.1,699.4 815.1,700.9 818.1,698.2 821.1,698.8 824.1,699.2 827.1,696.6 830.1,697.6 833.1,698.5 836.1,698.9 839.1,700.8 842.1,699.8 845.1,700.0 848.1,697.2 851.1,697.8 854.1,697.7 857.1,698.6 860.1,698.1 863.1,700.2 866.1,700.7 869.1,701.7 872.1,700.5 875.1,700.1 878.1,700.4 881.1,698.8 884.1,700.1 887.1,703.2 890.1,702.8 893.1,704.5 896.1,704.4 899.1,704.4 902.1,703.0 905.1,701.7 908.1,703.7 911.1,702.1 914.1,704.7 917.1,702.5 920.1,702.4 923.1,703.9 926.1,704.5 929.1,703.6 932.1,704.3 935.1,704.8 938.1,705.0 941.1,706.5 944.1,708.6 947.1,706.2 950.1,708.0 953.1,707.1 956.1,705.1 959.1,704.6 962.1,703.1 965.1,705.0 968.1,701.4 971.1,703.1 974.1,702.7 977.1,698.8 980.1,701.1 983.1,700.4 986.1,699.3 989.1,701.0 992.1,700.1 995.1,701.1 998.1,702.1 1001.1,701.0 1004.1,702.6 1007.1,698.9 1010.1,701.8 1013.1,698.9 1016.1,698.0 1019.1,698.3 1022.1,699.5 1025.1,700.9 1028.1,698.0 1031.1,701.3 1034.1,700.5 1037.1,701.9 1040.1,698.7 1043.1,701.9 1046.1,698.7 1049.1,697.8 1052.1,699.2 1055.1,701.9 1058.1,700.9 1061.1,702.1 1064.1,701.4 1067.1,701.1 1070.1,700.9 1073.1,702.3 1076.1,702.2 1079.1,702.1 1082.1,702.1 1085.1,703.5 1088.1,701.2 1091.1,702.0 1094.1,702.3 1097.1,702.9 1100.1,703.0 1103.1,706.6 1106.1,703.6 1109.1,706.2 1112.1,705.0 1115.1,704.7 1118.1,703.0 1121.1,703.0 1124.1,701.4 1127.1,702.4 1130.1,701.0 1133.1,701.1 1136.1,700.8 1139.1,699.7 1142.1,701.2 1145.1,698.8 1148.1,700.7 1151.1,700.8 1154.1,701.7 1157.1,700.7 1160.1,701.1 1163.1,700.2 1166.1,700.6 1169.1,700.4 1172.1,702.4 1175.1,703.2 1178.1,704.1 1181.1,702.4 1184.1,702.5 1187.1,703.9 1190.1,700.9 1193.1,701.4 1196.1,702.5 1199.1,699.7 1202.1,702.2 1205.1,703.2 1208.1,704.1 1211.1,704.8 1214.1,703.3 1217.1,702.4 1220.1,700.9 1223.1,703.4 1226.1,704.6 1229.1,703.7 1232.1,704.7 1235.1,704.2 1238.1,704.5 1241.1,704.8 1244.1,703.3 1247.1,704.1 1250.1,705.9 1253.1,704.3 1256.1,705.1 1259.1,706.1 1262.1,705.2 1265.1,703.9 1268.1,705.1 1271.1,704.4 1274.1,703.4 1277.1,705.2 1280.1,704.9 1283.1,705.0 1286.1,705.0 1289.1,704.9 1292.1,702.9 1295.1,701.7 1298.1,703.1 1301.1,701.5 1304.1,699.4 1307.1,700.1 1310.1,699.9 1313.1,700.6 1316.1,701.2 1319.1,700.5 1322.1,697.8 1325.1,700.0 1328.1,699.3 1331.1,700.0 1334.1,699.4 1337.1,699.2 1340.1,699.6 1343.1,700.0 1346.1,699.4 1349.1,699.0 1352.1,698.8 1355.1,698.7 1358.1,698.8 1361.1,699.5 1364.1,697.9 1367.1,697.5 1370.1,699.0 1373.1,700.4 1376.1,700.3 1379.1,701.9 1382.1,703.5 1385.1,701.6 1388.1,701.6 1391.1,702.5 1394.1,702.8 1397.1,701.4 1400.1,701.6 1403.1,702.0 1406.1,701.1 1409.1,702.0 1412.1,702.9 1415.1,703.2 1418.1,702.2 1421.1,700.4 1424.1,702.7 1427.1,702.2 1430.1,701.0 1433.1,700.7 1436.1,701.0 1439.1,700.7 1442.1,703.6 1445.1,703.6 1448.1,702.9 1451.1,703.3 1454.1,702.9 1457.1,702.8 1460.1,703.7 1463.1,703.6 1466.1,702.5 1469.1,703.2 1472.1,702.7 1475.1,702.2 1478.1,700.7 1481.1,700.9 1484.1,700.5 1487.1,700.7 1490.1,702.7 1493.1,700.9 1496.1,700.2 1499.1,701.9 1502.1,701.1 1505.1,702.6 1508.1,702.1 1511.1,700.8 1514.1,699.1 1517.1,702.0 1520.1,700.6 1523.1,702.9 1526.1,701.5 1529.1,702.8 1532.1,702.6 1535.1,703.0 1538.1,702.2 1541.1,702.3 1544.1,702.0 1547.1,700.7 1550.1,700.5 1553.1,700.2 1556.1,701.6 1559.1,701.8 1562.1,704.6 1565.1,702.6 1568.1,702.3 1571.1,703.7 1574.1,704.0 1577.1,703.1 1580.1,702.5 1583.1,702.6 1586.1,700.4 1589.1,700.3 1592.1,702.7 1595.1,701.6 1598.1,705.1 1601.1,702.1 1604.1,699.9 1607.1,701.8 1610.1,701.0 1613.1,701.2 1616.1,703.5 1619.1,700.4 1622.1,697.7 1625.1,699.9 1628.1,701.0 1631.1,700.3 1634.1,700.9 1637.1,700.4 1640.1,701.0 1643.1,700.6 1646.1,700.2 1649.1,702.0 1652.1,700.2 1655.1,700.4 1658.1,700.8 1661.1,701.6 1664.1,701.8 1667.1,702.9 1670.1,702.3 1673.1,702.1 1676.1,703.7 1679.1,701.7 1682.1,701.6 1685.1,700.1 1688.1,701.1 1691.1,700.5 1694.1,700.4 1697.1,700.0 1700.1,699.0 1703.1,699.0 1706.1,698.8 1709.1,699.8 1712.1,700.2 1715.1,701.1 1718.1,700.8 1721.1,700.7 1724.1,700.0 1727.1,701.2 1730.1,699.2 1733.1,700.5 1736.1,699.8 1739.1,699.1 1742.1,701.4 1745.1,699.6 1748.1,698.9 1751.1,700.8 1754.1,699.2 1757.1,702.0 1760.1,702.9 1763.1,702.0 1766.1,702.0 1769.1,702.5 1772.1,702.8 1775.1,701.7 1778.1,700.1 1781.1,702.6 1784.1,702.5 1787.1,704.6 1790.1,705.2 1793.1,703.7 1796.1,704.7 1799.1,705.5 1802.1,703.1 1805.1,702.6 1808.1,702.2 1811.1,701.8 1814.1,701.8 1817.1,699.9 1820.1,701.3 1823.1,702.9 1826.1,701.3 1829.1,701.5 1832.1,700.9 1835.1,702.9 1838.1,701.8 1841.1,702.7 1844.1,702.0 1847.1,703.4 1850.1,702.0 1853.1,702.3 1856.1,703.5 1859.1,701.6 1862.1,702.9 1865.1,702.0 1868.1,703.3 1871.1,704.0 1874.1,705.2 1877.1,703.0 1880.1,704.1 1883.1,701.8 1886.1,702.6 1889.1,703.6 1892.1,704.8 1895.1,703.8 1898.1,706.4 1901.1,703.4 1904.1,703.9 1907.1,703.6 1910.1,706.1 1913.1,704.4 1916.1,706.4 1919.1,703.7 1922.1,703.1 1925.1,702.6 1928.1,702.5 1931.1,702.1 1934.1,701.9 1937.1,702.1 1940.1,702.0 1943.1,703.3 1946.1,701.9 1949.1,703.7 1952.1,702.8 1955.1,705.4 1958.1,702.5 1961.1,703.1 1964.1,703.1 1967.1,704.3 1970.1,704.7 1973.1,704.5 1976.1,705.4 1979.1,706.3 1982.1,705.2 1985.1,705.8 1988.1,707.1 1991.1,705.8 1994.1,706.1 1997.1,704.8 2000.1,704.2 2003.1,704.9 2006.1,705.3 2009.1,706.6 2012.1,705.4 2015.1,706.0 2018.1,705.6 2021.1,706.1 2024.1,705.6 2027.1,701.1 2030.1,705.2 2033.1,705.1 2036.1,706.3 2039.1,703.5 2042.1,704.3 2045.1,703.8 2048.1,703.8 2051.1,705.1 2054.1,704.3 2057.1,705.6 2060.1,704.9 2063.1,702.4 2066.1,706.4 2069.1,702.8 2072.1,702.8 2075.1,704.6 2078.1,704.2 2081.1,705.7 2084.1,701.4 2087.1,704.3 2090.1,704.2 2093.1,702.7 2096.1,702.5 2099.1,704.0 2102.1,704.5 2105.1,704.6 2108.1,707.3 2111.1,707.0 2114.1,706.2 2117.1,705.6 2120.1,706.8 2123.1,707.8 2126.1,706.6 2129.1,707.1 2132.1,706.1 2135.1,705.0 2138.1,704.2 2141.1,706.0 2144.1,706.9 2147.1,703.4 2150.1,704.4 2153.1,703.4 2156.1,704.3 2159.1,703.4 2162.1,702.8 2165.1,704.0 2168.1,705.0 2171.1,703.7 2174.1,701.5 2177.1,702.3 2180.1,702.9 2183.1,701.6 2186.1,701.4 2189.1,701.5 2192.1,700.2 2195.1,702.8 2198.1,703.2 2201.1,702.5 2204.1,701.3 2207.1,703.1 2210.1,700.6 2213.1,702.0 2216.1,702.3 2219.1,701.3 2222.1,701.7 2225.1,701.6 2228.1,705.0 2231.1,704.4 2234.1,704.9 2237.1,705.4 2240.1,703.4 2243.1,704.3 2246.1,704.2 2249.1,703.6 2252.1,706.5 2255.1,705.3 2258.1,704.6 2261.1,702.2 2264.1,705.9 2267.1,708.0 2270.1,707.0 2273.1,709.2 2276.1,708.0 2279.1,709.2 2282.1,707.2 2285.1,705.8 2288.1,706.3 2291.1,703.8 2294.1,704.9 2297.1,705.1 2300.1,706.6 2303.1,707.2 2306.1,704.5 2309.1,704.7 2312.1,706.8 2315.1,703.2 2318.1,703.5 2321.1,701.9 2324.1,702.3 2327.1,703.1 2330.1,704.3 2333.1,704.2 2336.1,703.3 2339.1,704.3 2342.1,703.4 2345.1,703.6 2348.1,702.8 2351.1,704.1 2354.1,704.1 2357.1,704.3 2360.1,702.6 2363.1,703.6 2366.1,703.9 2369.1,705.7 2372.1,705.6 2375.1,705.6 2378.1,704.7 2381.1,707.0 2384.1,703.8 2387.1,705.2 2390.1,704.1 2393.1,704.5 2396.1,703.9 2399.1,705.4 2402.1,707.2 2405.1,704.6 2408.1,703.6 2411.1,706.2 2414.1,706.0 2417.1,705.5 2420.1,706.0 2423.1,705.7 2426.1,704.8 2429.1,705.4 2432.1,704.8 2435.1,704.9 2438.1,707.4 2441.1,708.2 2444.1,706.6 2447.1,705.0 2450.1,708.1 2453.1,705.6 2456.1,707.4 2459.1,705.0 2462.1,705.7 2465.1,704.4 2468.1,707.1 2471.1,704.9 2474.1,704.6 2477.1,705.9 2480.1,705.6 2483.1,705.1 2486.1,702.1 2489.1,702.5 2492.1,702.1 2495.1,703.2 2498.1,701.1 2501.1,701.8 2504.1,702.5 2507.1,703.0 2510.1,705.3 2513.1,705.8 2516.1,703.6 2519.1,704.9 2522.1,705.5 2525.1,706.8 2528.1,706.3 2531.1,708.6 2534.1,707.9 2537.1,706.9 2540.1,707.1 2543.1,705.7 2546.1,705.6 2549.1,707.2 2552.1,706.7 2555.1,706.5 2558.1,708.0 2561.1,709.9 2564.1,706.4 2567.1,708.1 2570.1,709.0 2573.1,707.8 2576.1,705.9 2579.1,706.6 2582.1,704.8 2585.1,707.0 2588.1,707.8 2591.1,708.0 2594.1,707.5 2597.1,706.8 2600.1,708.0 2603.1,705.5 2606.1,707.0 2609.1,706.4 2612.1,706.3 2615.1,706.8 2618.1,707.1 2621.1,706.0 2624.1,706.8 2627.1,704.6 2630.1,706.2 2633.1,704.6 2636.1,706.4 2639.1,706.1 2642.1,703.9 2645.1,705.7 2648.1,707.5 2651.1,706.6 2654.1,707.2 2657.1,707.3 2660.1,706.8 2663.1,706.2 2666.1,706.8 2669.1,705.8 2672.1,705.3 2675.1,705.3 2678.1,706.7 2681.1,708.2 2684.1,706.9 2687.1,704.3 2690.1,704.7 2693.1,702.0 2696.1,703.7 2699.1,701.8 2702.1,703.2 2705.1,702.3 2708.1,701.3 2711.1,702.9 2714.1,703.3 2717.1,700.5 2720.1,704.3 2723.1,706.0 2726.1,705.8 2729.1,702.8 2732.1,705.7 2735.1,706.3 2738.1,707.7 2741.1,706.9 2744.1,707.5 2747.1,707.8 2750.1,708.6 2753.1,710.3 2756.1,708.1 2759.1,708.8 2762.1,710.9 2765.1,709.2 2768.1,709.4 2771.1,710.7 2774.1,708.3 2777.1,710.9 2780.1,707.8 2783.1,710.5 2786.1,710.1 2789.1,711.1 2792.1,709.0 2795.1,710.0 2798.1,711.9 2801.1,710.2" stroke="#bcbd22"/>
<polyline points="518.1,706.3 521.1,706.8 524.1,707.0 527.1,707.0 530.1,708.7 533.1,708.5 536.1,706.5 539.1,707.5 542.1,707.2 545.1,707.8 548.1,709.0 551.1,706.4 554.1,707.8 557.1,708.3 560.1,708.7 563.1,711.3 566.1,711.0 569.1,709.6 572.1,709.3 575.1,705.9 578.1,710.3 581.1,709.6 584.1,708.5 587.1,707.8 590.1,707.1 593.1,711.1 596.1,709.2 599.1,707.6 602.1,709.5 605.1,706.6 608.1,709.1 611.1,708.2 614.1,708.1 617.1,707.3 620.1,708.3 623.1,709.6 626.1,709.3 629.1,713.3 632.1,708.7 635.1,710.1 638.1,711.1 641.1,708.7 644.1,708.5 647.1,710.0 650.1,711.4 653.1,710.2 656.1,708.8 659.1,709.2 662.1,711.9 665.1,711.4 668.1,710.7 671.1,710.6 674.1,712.3 677.1,711.2 680.1,711.3 683.1,710.6 686.1,709.3 689.1,707.9 692.1,704.5 695.1,707.3 698.1,709.2 701.1,708.9 704.1,707.3 707.1,708.6 710.1,709.5 713.1,711.4 716.1,710.3 719.1,710.0 722.1,710.8 725.1,712.7 728.1,711.3 731.1,710.8 734.1,708.0 737.1,710.7 740.1,710.3 743.1,708.3 746.1,711.0 749.1,708.3 752.1,708.1 755.1,706.4 758.1,704.5 761.1,708.8 764.1,707.8 767.1,710.0 770.1,712.4 773.1,711.2 776.1,710.5 779.1,709.6 782.1,711.6 785.1,709.7 788.1,711.5 791.1,709.5 794.1,709.6 797.1,708.3 800.1,710.2 803.1,710.5 806.1,707.8 809.1,707.6 812.1,706.2 815.1,707.0 818.1,708.7 821.1,706.0 824.1,708.4 827.1,707.8 830.1,708.4 833.1,708.6 836.1,708.0 839.1,708.8 842.1,707.3 845.1,711.0 848.1,707.5 851.1,705.0 854.1,706.9 857.1,708.0 860.1,708.2 863.1,705.3 866.1,706.7 869.1,705.7 872.1,705.7 875.1,706.4 878.1,706.8 881.1,707.1 884.1,705.6 887.1,706.4 890.1,707.8 893.1,709.0 896.1,707.2 899.1,708.0 902.1,709.1 905.1,707.8 908.1,706.5 911.1,707.7 914.1,710.0 917.1,710.1 920.1,708.0 923.1,711.1 926.1,712.7 929.1,709.6 932.1,708.4 935.1,709.2 938.1,709.9 941.1,709.5 944.1,710.1 947.1,708.8 950.1,708.2 953.1,710.7 956.1,708.9 959.1,709.4 962.1,707.5 965.1,709.4 968.1,709.9 971.1,708.1 974.1,707.7 977.1,706.1 980.1,709.2 983.1,708.2 986.1,707.9 989.1,707.9 992.1,709.1 995.1,711.1 998.1,711.1 1001.1,709.0 1004.1,706.6 1007.1,709.1 1010.1,709.4 1013.1,709.0 1016.1,711.0 1019.1,709.3 1022.1,708.5 1025.1,708.6 1028.1,707.7 1031.1,708.4 1034.1,709.9 1037.1,709.3 1040.1,707.0 1043.1,708.3 1046.1,707.1 1049.1,707.2 1052.1,709.1 1055.1,711.2 1058.1,711.1 1061.1,710.4 1064.1,710.3 1067.1,709.8 1070.1,710.6 1073.1,710.9 1076.1,712.2 1079.1,710.9 1082.1,712.4 1085.1,712.4 1088.1,713.7 1091.1,710.3 1094.1,709.3 1097.1,710.9 1100.1,711.1 1103.1,710.5 1106.1,709.6 1109.1,710.6 1112.1,708.2 1115.1,712.5 1118.1,712.5 1121.1,709.8 1124.1,709.0 1127.1,711.2 1130.1,709.6 1133.1,708.0 1136.1,711.0 1139.1,714.5 1142.1,711.3 1145.1,709.8 1148.1,713.2 1151.1,711.9 1154.1,712.8 1157.1,710.2 1160.1,711.3 1163.1,709.9 1166.1,711.2 1169.1,710.6 1172.1,710.2 1175.1,712.6 1178.1,709.9 1181.1,712.0 1184.1,712.2 1187.1,710.9 1190.1,710.9 1193.1,710.0 1196.1,710.0 1199.1,712.3 1202.1,714.8 1205.1,712.9 1208.1,712.6 1211.1,711.9 1214.1,712.8 1217.1,710.3 1220.1,708.9 1223.1,711.3 1226.1,712.4 1229.1,710.1 1232.1,710.5 1235.1,708.9 1238.1,711.1 1241.1,709.3 1244.1,708.9 1247.1,709.9 1250.1,709.5 1253.1,710.9 1256.1,710.9 1259.1,707.0 1262.1,708.0 1265.1,708.5 1268.1,709.6 1271.1,710.3 1274.1,709.2 1277.1,710.0 1280.1,710.3 1283.1,709.5 1286.1,709.6 1289.1,709.0 1292.1,710.9 1295.1,707.9 1298.1,708.4 1301.1,710.5 1304.1,710.2 1307.1,711.3 1310.1,711.0 1313.1,711.4 1316.1,711.9 1319.1,708.2 1322.1,711.1 1325.1,710.5 1328.1,712.6 1331.1,712.9 1334.1,711.1 1337.1,713.1 1340.1,710.5 1343.1,713.1 1346.1,709.7 1349.1,713.6 1352.1,714.1 1355.1,713.6 1358.1,714.3 1361.1,714.6 1364.1,713.0 1367.1,712.3 1370.1,713.5 1373.1,714.5 1376.1,713.4 1379.1,712.7 1382.1,714.0 1385.1,714.9 1388.1,713.8 1391.1,713.2 1394.1,714.3 1397.1,711.4 1400.1,711.8 1403.1,712.1 1406.1,713.7 1409.1,715.5 1412.1,715.1 1415.1,715.0 1418.1,714.0 1421.1,714.2 1424.1,715.9 1427.1,714.7 1430.1,713.9 1433.1,713.5 1436.1,711.1 1439.1,713.4 1442.1,713.6 1445.1,711.0 1448.1,711.1 1451.1,710.2 1454.1,710.0 1457.1,708.3 1460.1,708.7 1463.1,708.7 1466.1,707.6 1469.1,709.0 1472.1,710.0 1475.1,707.5 1478.1,708.0 1481.1,709.5 1484.1,710.4 1487.1,713.4 1490.1,710.3 1493.1,711.8 1496.1,713.4 1499.1,712.2 1502.1,712.5 1505.1,709.4 1508.1,710.2 1511.1,712.6 1514.1,711.0 1517.1,709.7 1520.1,709.0 1523.1,707.3 1526.1,708.9 1529.1,707.9 1532.1,707.5 1535.1,706.6 1538.1,706.5 1541.1,706.5 1544.1,709.8 1547.1,710.2 1550.1,708.6 1553.1,707.3 1556.1,708.1 1559.1,709.6 1562.1,708.0 1565.1,708.6 1568.1,706.2 1571.1,708.6 1574.1,706.0 1577.1,708.6 1580.1,706.4 1583.1,707.2 1586.1,707.7 1589.1,707.3 1592.1,709.4 1595.1,709.2 1598.1,709.0 1601.1,706.9 1604.1,706.0 1607.1,706.2 1610.1,704.9 1613.1,708.9 1616.1,705.6 1619.1,707.1 1622.1,706.6 1625.1,703.8 1628.1,704.1 1631.1,703.8 1634.1,704.9 1637.1,707.0 1640.1,707.4 1643.1,709.8 1646.1,710.7 1649.1,711.0 1652.1,709.7 1655.1,709.0 1658.1,711.7 1661.1,714.8 1664.1,713.1 1667.1,713.7 1670.1,713.1 1673.1,712.0 1676.1,712.0 1679.1,712.8 1682.1,712.1 1685.1,712.6 1688.1,715.0 1691.1,713.0 1694.1,710.1 1697.1,712.0 1700.1,709.4 1703.1,709.8 1706.1,713.1 1709.1,711.0 1712.1,709.7 1715.1,707.5 1718.1,710.1 1721.1,707.4 1724.1,707.7 1727.1,709.3 1730.1,707.5 1733.1,706.5 1736.1,704.8 1739.1,707.0 1742.1,706.4 1745.1,704.4 1748.1,704.4 1751.1,704.1 1754.1,705.7 1757.1,706.4 1760.1,705.7 1763.1,704.5 1766.1,704.7 1769.1,706.6 1772.1,706.2 1775.1,707.7 1778.1,706.1 1781.1,707.1 1784.1,709.1 1787.1,705.8 1790.1,705.5 1793.1,707.2 1796.1,708.0 1799.1,708.4 1802.1,707.6 1805.1,705.2 1808.1,705.0 1811.1,706.0 1814.1,705.1 1817.1,704.8 1820.1,706.3 1823.1,706.6 1826.1,707.0 1829.1,706.3 1832.1,706.8 1835.1,709.0 1838.1,709.1 1841.1,709.5 1844.1,709.6 1847.1,710.3 1850.1,711.5 1853.1,711.3 1856.1,712.7 1859.1,712.3 1862.1,710.6 1865.1,709.1 1868.1,709.9 1871.1,711.3 1874.1,712.4 1877.1,713.3 1880.1,713.1 1883.1,713.5 1886.1,714.2 1889.1,714.1 1892.1,713.2 1895.1,712.5 1898.1,712.3 1901.1,711.6 1904.1,711.0 1907.1,712.4 1910.1,710.5 1913.1,711.5 1916.1,709.3 1919.1,710.4 1922.1,709.7 1925.1,709.5 1928.1,709.2 1931.1,712.3 1934.1,707.7 1937.1,709.2 1940.1,709.9 1943.1,712.5 1946.1,712.1 1949.1,712.2 1952.1,712.6 1955.1,712.7 1958.1,712.5 1961.1,711.3 1964.1,711.3 1967.1,711.4 1970.1,712.3 1973.1,713.8 1976.1,712.3 1979.1,710.4 1982.1,711.6 1985.1,713.2 1988.1,713.7 1991.1,713.1 1994.1,712.9 1997.1,713.4 2000.1,713.8 2003.1,712.0 2006.1,713.2 2009.1,711.2 2012.1,709.2 2015.1,709.5 2018.1,710.3 2021.1,708.7 2024.1,709.8 2027.1,710.1 2030.1,711.2 2033.1,712.7 2036.1,711.9 2039.1,711.0 2042.1,710.3 2045.1,711.7 2048.1,710.2 2051.1,709.6 2054.1,708.4 2057.1,709.4 2060.1,710.0 2063.1,709.6 2066.1,708.7 2069.1,709.2 2072.1,710.7 2075.1,708.5 2078.1,709.9 2081.1,707.1 2084.1,708.9 2087.1,709.6 2090.1,711.2 2093.1,709.3 2096.1,707.0 2099.1,706.4 2102.1,707.8 2105.1,707.3 2108.1,709.9 2111.1,710.4 2114.1,710.3 2117.1,709.1 2120.1,709.7 2123.1,709.0 2126.1,708.2 2129.1,707.9 2132.1,705.8 2135.1,704.6 2138.1,703.6 2141.1,704.6 2144.1,705.4 2147.1,707.0 2150.1,706.7 2153.1,705.2 2156.1,706.8 2159.1,705.9 2162.1,705.9 2165.1,706.6 2168.1,705.4 2171.1,704.0 2174.1,707.3 2177.1,703.7 2180.1,707.0 2183.1,707.5 2186.1,708.1 2189.1,706.8 2192.1,709.3 2195.1,706.3 2198.1,710.5 2201.1,709.2 2204.1,710.3 2207.1,709.0 2210.1,709.8 2213.1,709.7 2216.1,710.0 2219.1,711.2 2222.1,708.7 2225.1,708.0 2228.1,707.8 2231.1,705.4 2234.1,708.3 2237.1,708.9 2240.1,708.7 2243.1,709.7 2246.1,706.7 2249.1,708.2 2252.1,706.9 2255.1,705.9 2258.1,706.7 2261.1,707.2 2264.1,707.1 2267.1,708.9 2270.1,709.0 2273.1,708.2 2276.1,707.6 2279.1,709.9 2282.1,709.0 2285.1,708.1 2288.1,710.4 2291.1,709.9 2294.1,711.3 2297.1,710.7 2300.1,714.2 2303.1,713.4 2306.1,710.3 2309.1,713.5 2312.1,714.8 2315.1,712.2 2318.1,713.3 2321.1,713.5 2324.1,711.5 2327.1,712.9 2330.1,710.2 2333.1,712.6 2336.1,708.3 2339.1,708.1 2342.1,708.5 2345.1,709.5 2348.1,710.4 2351.1,709.0 2354.1,710.2 2357.1,710.8 2360.1,713.6 2363.1,711.0 2366.1,710.0 2369.1,710.5 2372.1,709.8 2375.1,709.2 2378.1,710.2 2381.1,711.8 2384.1,711.6 2387.1,712.6 2390.1,709.2 2393.1,707.9 2396.1,709.3 2399.1,708.4 2402.1,707.4 2405.1,706.3 2408.1,707.1 2411.1,709.2 2414.1,711.5 2417.1,709.3 2420.1,712.0 2423.1,711.3 2426.1,712.4 2429.1,713.8 2432.1,711.3 2435.1,714.0 2438.1,713.7 2441.1,711.9 2444.1,709.9 2447.1,711.7 2450.1,711.5 2453.1,712.9 2456.1,712.1 2459.1,711.4 2462.1,712.7 2465.1,712.0 2468.1,713.2 2471.1,712.1 2474.1,713.2 2477.1,712.5 2480.1,711.2 2483.1,714.0 2486.1,710.5 2489.1,709.7 2492.1,711.4 2495.1,712.9 2498.1,711.4 2501.1,710.3 2504.1,712.9 2507.1,711.5 2510.1,710.4 2513.1,710.2 2516.1,709.9 2519.1,712.2 2522.1,711.2 2525.1,713.1 2528.1,712.7 2531.1,711.9 2534.1,713.6 2537.1,712.6 2540.1,714.3 2543.1,711.5 2546.1,711.4 2549.1,707.5 2552.1,713.2 2555.1,710.5 2558.1,713.4 2561.1,709.7 2564.1,711.3 2567.1,713.7 2570.1,712.1 2573.1,711.5 2576.1,710.2 2579.1,709.9 2582.1,710.3 2585.1,711.3 2588.1,712.4 2591.1,713.2 2594.1,711.2 2597.1,710.3 2600.1,712.2 2603.1,712.4 2606.1,713.1 2609.1,712.5 2612.1,713.2 2615.1,710.9 2618.1,712.9 2621.1,713.5 2624.1,712.3 2627.1,712.7 2630.1,713.2 2633.1,709.7 2636.1,710.4 2639.1,711.5 2642.1,709.7 2645.1,708.7 2648.1,709.6 2651.1,711.6 2654.1,710.4 2657.1,710.5 2660.1,708.7 2663.1,712.0 2666.1,713.8 2669.1,712.6 2672.1,712.6 2675.1,713.2 2678.1,713.5 2681.1,713.9 2684.1,715.3 2687.1,715.1 2690.1,714.4 2693.1,716.5 2696.1,712.5 2699.1,712.6 2702.1,714.7 2705.1,714.2 2708.1,713.1 2711.1,711.0 2714.1,709.5 2717.1,712.2 2720.1,712.6 2723.1,713.3 2726.1,713.2 2729.1,711.9 2732.1,715.1 2735.1,711.7 2738.1,712.3 2741.1,710.3 2744.1,710.2 2747.1,710.7 2750.1,712.0 2753.1,712.6 2756.1,710.2 2759.1,709.3 2762.1,708.5 2765.1,708.8 2768.1,710.9 2771.1,710.7 2774.1,710.2 2777.1,708.0 2780.1,710.3 2783.1,709.1 2786.1,709.4 2789.1,710.5 2792.1,707.3 2795.1,710.4 2798.1,712.1 2801.1,714.3" stroke="#17becf"/>
<polyline points="518.1,712.8 523.1,713.3 528.1,714.1 533.1,714.5 538.1,714.2 543.1,715.1 548.1,715.7 553.1,715.0 558.1,713.7 563.1,714.7 568.1,713.1 573.1,713.9 578.1,712.8 583.1,712.0 588.1,711.2 593.1,712.9 598.1,713.8 603.1,714.2 608.1,713.2 613.1,713.5 618.1,714.3 623.1,713.2 628.1,714.2 633.1,713.8 638.1,713.1 643.1,714.3 648.1,713.6 653.1,714.7 658.1,713.7 663.1,713.6 668.1,714.6 673.1,712.7 678.1,715.0 683.1,714.7 688.1,715.5 693.1,714.1 698.1,714.6 703.1,714.3 708.1,714.1 713.1,714.4 718.1,714.1 723.1,714.6 728.1,712.0 733.1,713.3 738.1,713.7 743.1,712.5 748.1,713.9 753.1,714.1 758.1,714.2 763.1,715.0 768.1,714.2 773.1,715.2 778.1,715.0 783.1,715.3 788.1,713.9 793.1,714.1 798.1,713.8 803.1,714.5 808.1,714.3 813.1,713.0 818.1,712.8 823.1,711.5 828.1,713.3 833.1,711.9 838.1,712.6 843.1,712.3 848.1,712.6 853.1,712.5 858.1,713.6 863.1,713.5 868.1,713.2 873.1,712.5 878.1,712.4 883.1,712.4 888.1,713.4 893.1,711.7 898.1,712.6 903.1,712.8 908.1,712.4 913.1,713.7 918.1,712.8 923.1,710.3 928.1,711.0 933.1,712.3 938.1,713.4 943.1,714.1 948.1,713.9 953.1,712.7 958.1,712.7 963.1,712.6 968.1,712.7 973.1,714.1 978.1,713.1 983.1,712.6 988.1,712.9 993.1,713.6 998.1,712.6 1003.1,712.6 1008.1,712.2 1013.1,712.9 1018.1,712.8 1023.1,714.2 1028.1,714.3 1033.1,713.0 1038.1,713.6 1043.1,713.9 1048.1,714.1 1053.1,713.2 1058.1,712.3 1063.1,711.7 1068.1,712.8 1073.1,711.4 1078.1,711.5 1083.1,712.6 1088.1,711.2 1093.1,711.9 1098.1,712.2 1103.1,712.7 1108.1,712.2 1113.1,713.2 1118.1,713.0 1123.1,713.4 1128.1,712.8 1133.1,712.3 1138.1,712.3 1143.1,712.0 1148.1,712.0 1153.1,710.9 1158.1,711.6 1163.1,711.8 1168.1,711.4 1173.1,710.7 1178.1,710.8 1183.1,710.4 1188.1,712.2 1193.1,710.4 1198.1,711.4 1203.1,711.7 1208.1,712.8 1213.1,712.6 1218.1,711.1 1223.1,711.9 1228.1,712.7 1233.1,713.2 1238.1,713.7 1243.1,714.1 1248.1,713.1 1253.1,713.2 1258.1,713.2 1263.1,713.2 1268.1,712.8 1273.1,711.8 1278.1,714.6 1283.1,712.1 1288.1,712.7 1293.1,712.9 1298.1,713.2 1303.1,713.8 1308.1,713.5 1313.1,711.4 1318.1,713.5 1323.1,712.3 1328.1,712.2 1333.1,711.6 1338.1,712.0 1343.1,712.1 1348.1,712.5 1353.1,711.1 1358.1,712.7 1363.1,712.9 1368.1,713.3 1373.1,712.7 1378.1,713.6 1383.1,712.8 1388.1,713.7 1393.1,713.8 1398.1,713.2 1403.1,713.5 1408.1,713.1 1413.1,711.7 1418.1,712.1 1423.1,713.0 1428.1,713.2 1433.1,713.7 1438.1,713.5 1443.1,712.5 1448.1,712.7 1453.1,711.0 1458.1,712.2 1463.1,711.6 1468.1,712.8 1473.1,713.0 1478.1,712.2 1483.1,711.9 1488.1,712.6 1493.1,711.8 1498.1,710.8 1503.1,711.7 1508.1,712.6 1513.1,711.8 1518.1,712.1 1523.1,713.2 1528.1,712.8 1533.1,713.7 1538.1,711.3 1543.1,711.7 1548.1,711.3 1553.1,712.9 1558.1,713.2 1563.1,712.7 1568.1,712.2 1573.1,713.0 1578.1,711.4 1583.1,712.0 1588.1,711.5 1593.1,712.5 1598.1,712.5 1603.1,712.5 1608.1,712.6 1613.1,711.4 1618.1,712.2 1623.1,712.0 1628.1,712.3 1633.1,713.3 1638.1,713.6 1643.1,712.9 1648.1,712.8 1653.1,713.2 1658.1,712.9 1663.1,712.9 1668.1,713.1 1673.1,713.6 1678.1,713.3 1683.1,714.5 1688.1,713.7 1693.1,715.1 1698.1,713.8 1703.1,713.4 1708.1,713.4 1713.1,713.5 1718.1,714.3 1723.1,713.7 1728.1,713.8 1733.1,715.7 1738.1,714.3 1743.1,713.0 1748.1,714.8 1753.1,713.8 1758.1,714.9 1763.1,713.1 1768.1,712.5 1773.1,713.7 1778.1,713.0 1783.1,713.6 1788.1,713.6 1793.1,712.6 1798.1,713.7 1803.1,714.3 1808.1,714.6 1813.1,713.9 1818.1,714.8 1823.1,713.4 1828.1,714.7 1833.1,714.4 1838.1,714.2 1843.1,714.9 1848.1,714.7 1853.1,714.8 1858.1,715.1 1863.1,713.9 1868.1,714.8 1873.1,714.1 1878.1,713.5 1883.1,713.2 1888.1,712.8 1893.1,712.6 1898.1,713.8 1903.1,712.8 1908.1,712.3 1913.1,712.8 1918.1,712.3 1923.1,712.0 1928.1,712.1 1933.1,711.5 1938.1,712.4 1943.1,712.7 1948.1,712.5 1953.1,713.2 1958.1,712.0 1963.1,712.8 1968.1,713.0 1973.1,712.1 1978.1,713.6 1983.1,714.0 1988.1,714.2 1993.1,713.8 1998.1,716.6 2003.1,713.7 2008.1,714.7 2013.1,714.4 2018.1,714.7 2023.1,714.3 2028.1,714.1 2033.1,714.8 2038.1,714.8 2043.1,713.9 2048.1,714.3 2053.1,714.5 2058.1,713.8 2063.1,714.3 2068.1,715.9 2073.1,715.3 2078.1,714.2 2083.1,713.9 2088.1,713.8 2093.1,713.2 2098.1,713.5 2103.1,713.5 2108.1,713.2 2113.1,713.0 2118.1,713.2 2123.1,712.4 2128.1,712.1 2133.1,712.9 2138.1,713.4 2143.1,713.6 2148.1,712.9 2153.1,713.8 2158.1,713.8 2163.1,713.7 2168.1,714.7 2173.1,714.4 2178.1,713.9 2183.1,713.9 2188.1,713.6 2193.1,711.9 2198.1,712.3 2203.1,710.8 2208.1,711.2 2213.1,710.6 2218.1,709.7 2223.1,709.5 2228.1,711.5 2233.1,712.3 2238.1,712.5 2243.1,712.8 2248.1,712.8 2253.1,712.2 2258.1,712.7 2263.1,711.8 2268.1,712.5 2273.1,712.5 2278.1,712.4 2283.1,711.6 2288.1,712.1 2293.1,711.5 2298.1,712.1 2303.1,711.7 2308.1,711.7 2313.1,712.7 2318.1,712.1 2323.1,712.6 2328.1,712.8 2333.1,712.4 2338.1,712.4 2343.1,712.2 2348.1,713.6 2353.1,713.1 2358.1,711.6 2363.1,713.2 2368.1,712.5 2373.1,712.8 2378.1,712.9 2383.1,713.6 2388.1,712.8 2393.1,712.1 2398.1,713.9 2403.1,712.6 2408.1,712.2 2413.1,713.0 2418.1,713.3 2423.1,713.0 2428.1,712.1 2433.1,712.9 2438.1,713.1 2443.1,712.1 2448.1,711.9 2453.1,712.1 2458.1,714.2 2463.1,714.1 2468.1,713.3 2473.1,713.8 2478.1,714.3 2483.1,713.4 2488.1,714.8 2493.1,714.2 2498.1,713.6 2503.1,714.4 2508.1,714.9 2513.1,715.5 2518.1,714.8 2523.1,714.8 2528.1,713.9 2533.1,713.9 2538.1,713.6 2543.1,714.9 2548.1,715.8 2553.1,715.5 2558.1,714.2 2563.1,714.8 2568.1,715.4 2573.1,714.0 2578.1,712.9 2583.1,713.4 2588.1,713.1 2593.1,715.3 2598.1,712.7 2603.1,712.6 2608.1,713.0 2613.1,714.7 2618.1,714.0 2623.1,713.7 2628.1,714.3 2633.1,715.4 2638.1,714.5 2643.1,714.7 2648.1,714.4 2653.1,713.7 2658.1,714.8 2663.1,715.1 2668.1,715.3 2673.1,714.5 2678.1,714.9 2683.1,714.2 2688.1,713.8 2693.1,714.7 2698.1,713.6 2703.1,715.0 2708.1,714.5 2713.1,714.2 2718.1,713.5 2723.1,713.5 2728.1,712.6 2733.1,714.2 2738.1,713.8 2743.1,713.3 2748.1,713.4 2753.1,713.7 2758.1,713.0 2763.1,713.5 2768.1,713.3 2773.1,714.1 2778.1,713.5 2783.1,715.6 2788.1,713.2 2793.1,713.3 2798.1,713.8" stroke="#ff7f0e"/>
<polyline points="518.1,713.1 523.1,713.7 528.1,712.0 533.1,712.6 538.1,712.5 543.1,712.8 548.1,713.0 553.1,713.0 558.1,712.3 563.1,712.7 568.1,712.8 573.1,713.5 578.1,712.1 583.1,712.3 588.1,711.4 593.1,711.6 598.1,712.1 603.1,711.6 608.1,711.9 613.1,711.7 618.1,712.4 623.1,711.2 628.1,712.6 633.1,711.4 638.1,712.7 643.1,711.1 648.1,712.3 653.1,711.3 658.1,711.3 663.1,712.5 668.1,712.9 673.1,713.6 678.1,713.3 683.1,713.9 688.1,714.9 693.1,714.5 698.1,713.4 703.1,712.9 708.1,713.2 713.1,713.6 718.1,713.1 723.1,713.9 728.1,713.4 733.1,712.7 738.1,713.2 743.1,714.0 748.1,712.9 753.1,712.7 758.1,713.0 763.1,712.8 768.1,712.7 773.1,713.3 778.1,712.9 783.1,712.0 788.1,712.9 793.1,713.4 798.1,713.1 803.1,713.7 808.1,712.6 813.1,713.4 818.1,714.4 823.1,715.0 828.1,715.4 833.1,714.8 838.1,715.5 843.1,716.7 848.1,716.4 853.1,715.2 858.1,714.0 863.1,713.8 868.1,714.7 873.1,715.1 878.1,714.5 883.1,713.9 888.1,714.0 893.1,713.8 898.1,712.5 903.1,713.3 908.1,713.3 913.1,713.4 918.1,712.6 923.1,712.4 928.1,712.3 933.1,712.6 938.1,712.1 943.1,711.3 948.1,711.4 953.1,711.5 958.1,711.1 963.1,711.4 968.1,712.0 973.1,713.0 978.1,713.7 983.1,712.6 988.1,712.7 993.1,712.9 998.1,714.5 1003.1,714.0 1008.1,713.7 1013.1,713.7 1018.1,714.3 1023.1,714.5 1028.1,714.7 1033.1,714.7 1038.1,714.0 1043.1,714.6 1048.1,714.7 1053.1,714.6 1058.1,714.4 1063.1,713.7 1068.1,712.6 1073.1,712.4 1078.1,711.9 1083.1,711.7 1088.1,711.9 1093.1,711.4 1098.1,712.4 1103.1,712.9 1108.1,711.3 1113.1,712.5 1118.1,712.2 1123.1,713.3 1128.1,712.8 1133.1,712.3 1138.1,712.1 1143.1,711.6 1148.1,712.7 1153.1,711.6 1158.1,711.9 1163.1,712.6 1168.1,711.2 1173.1,712.0 1178.1,712.2 1183.1,712.8 1188.1,713.7 1193.1,712.7 1198.1,713.1 1203.1,713.1 1208.1,712.4 1213.1,713.4 1218.1,712.0 1223.1,712.3 1228.1,711.6 1233.1,712.2 1238.1,712.2 1243.1,711.9 1248.1,712.6 1253.1,710.9 1258.1,712.3 1263.1,710.4 1268.1,711.5 1273.1,712.4 1278.1,712.5 1283.1,711.8 1288.1,713.2 1293.1,713.6 1298.1,713.5 1303.1,712.6 1308.1,713.8 1313.1,713.5 1318.1,711.6 1323.1,711.5 1328.1,712.0 1333.1,711.6 1338.1,712.4 1343.1,712.0 1348.1,712.2 1353.1,713.6 1358.1,712.7 1363.1,714.1 1368.1,715.4 1373.1,714.4 1378.1,713.6 1383.1,714.0 1388.1,713.9 1393.1,713.8 1398.1,712.3 1403.1,713.0 1408.1,712.9 1413.1,712.2 1418.1,713.3 1423.1,711.3 1428.1,712.2 1433.1,711.5 1438.1,712.6 1443.1,711.1 1448.1,712.5 1453.1,712.1 1458.1,712.4 1463.1,711.9 1468.1,712.6 1473.1,712.7 1478.1,713.7 1483.1,712.6 1488.1,712.1 1493.1,712.0 1498.1,712.4 1503.1,712.2 1508.1,713.0 1513.1,713.1 1518.1,712.1 1523.1,712.5 1528.1,712.8 1533.1,713.3 1538.1,712.7 1543.1,712.6 1548.1,711.9 1553.1,711.3 1558.1,712.3 1563.1,712.3 1568.1,712.2 1573.1,712.7 1578.1,712.8 1583.1,712.0 1588.1,712.8 1593.1,712.3 1598.1,711.7 1603.1,711.5 1608.1,711.7 1613.1,712.1 1618.1,712.2 1623.1,712.3 1628.1,712.6 1633.1,712.5 1638.1,711.6 1643.1,712.4 1648.1,714.5 1653.1,713.3 1658.1,713.0 1663.1,712.7 1668.1,712.6 1673.1,713.5 1678.1,712.5 1683.1,712.9 1688.1,712.6 1693.1,712.1 1698.1,714.2 1703.1,714.0 1708.1,713.5 1713.1,713.7 1718.1,713.2 1723.1,714.0 1728.1,713.6 1733.1,714.1 1738.1,713.0 1743.1,714.2 1748.1,714.9 1753.1,713.7 1758.1,714.1 1763.1,714.1 1768.1,712.9 1773.1,714.2 1778.1,713.3 1783.1,713.1 1788.1,712.5 1793.1,711.8 1798.1,713.1 1803.1,712.9 1808.1,713.4 1813.1,715.3 1818.1,712.6 1823.1,713.3 1828.1,712.6 1833.1,712.0 1838.1,711.9 1843.1,711.4 1848.1,712.0 1853.1,713.3 1858.1,712.4 1863.1,712.8 1868.1,713.2 1873.1,712.4 1878.1,712.4 1883.1,712.2 1888.1,711.2 1893.1,710.0 1898.1,710.5 1903.1,710.8 1908.1,710.0 1913.1,710.7 1918.1,709.9 1923.1,712.3 1928.1,711.9 1933.1,712.4 1938.1,711.8 1943.1,713.1 1948.1,713.5 1953.1,712.9 1958.1,711.8 1963.1,712.9 1968.1,712.3 1973.1,712.6 1978.1,711.8 1983.1,713.0 1988.1,712.2 1993.1,711.8 1998.1,713.4 2003.1,712.5 2008.1,713.4 2013.1,714.1 2018.1,713.3 2023.1,713.4 2028.1,712.6 2033.1,713.6 2038.1,714.6 2043.1,713.4 2048.1,713.1 2053.1,714.8 2058.1,714.5 2063.1,715.1 2068.1,714.3 2073.1,714.4 2078.1,714.7 2083.1,712.8 2088.1,712.9 2093.1,712.3 2098.1,713.3 2103.1,713.9 2108.1,713.3 2113.1,712.0 2118.1,711.4 2123.1,712.2 2128.1,712.9 2133.1,713.1 2138.1,714.3 2143.1,713.3 2148.1,712.2 2153.1,712.2 2158.1,713.6 2163.1,713.4 2168.1,714.2 2173.1,713.9 2178.1,714.3 2183.1,713.1 2188.1,715.0 2193.1,714.0 2198.1,714.6 2203.1,714.1 2208.1,714.0 2213.1,714.9 2218.1,714.1 2223.1,714.0 2228.1,714.0 2233.1,714.5 2238.1,713.7 2243.1,713.3 2248.1,713.9 2253.1,713.8 2258.1,712.9 2263.1,714.5 2268.1,712.5 2273.1,711.6 2278.1,713.3 2283.1,713.2 2288.1,712.9 2293.1,715.0 2298.1,714.4 2303.1,713.7 2308.1,713.7 2313.1,713.5 2318.1,713.8 2323.1,714.1 2328.1,713.9 2333.1,714.4 2338.1,714.6 2343.1,714.5 2348.1,716.0 2353.1,715.0 2358.1,715.6 2363.1,713.6 2368.1,713.9 2373.1,713.4 2378.1,715.4 2383.1,714.0 2388.1,714.0 2393.1,714.3 2398.1,713.1 2403.1,713.1 2408.1,713.0 2413.1,714.8 2418.1,712.9 2423.1,712.8 2428.1,712.9 2433.1,714.3 2438.1,714.9 2443.1,714.9 2448.1,714.2 2453.1,713.9 2458.1,712.8 2463.1,711.7 2468.1,711.8 2473.1,712.1 2478.1,712.9 2483.1,711.9 2488.1,711.5 2493.1,711.9 2498.1,711.4 2503.1,712.1 2508.1,710.9 2513.1,711.7 2518.1,711.6 2523.1,712.1 2528.1,712.9 2533.1,712.8 2538.1,713.0 2543.1,713.0 2548.1,711.8 2553.1,712.8 2558.1,712.8 2563.1,712.8 2568.1,712.8 2573.1,713.7 2578.1,713.1 2583.1,712.8 2588.1,714.2 2593.1,713.1 2598.1,712.8 2603.1,712.6 2608.1,712.8 2613.1,713.0 2618.1,713.7 2623.1,713.6 2628.1,713.1 2633.1,714.2 2638.1,713.1 2643.1,713.7 2648.1,714.0 2653.1,714.7 2658.1,713.8 2663.1,714.4 2668.1,713.2 2673.1,715.3 2678.1,714.1 2683.1,714.4 2688.1,714.5 2693.1,714.2 2698.1,716.3 2703.1,714.6 2708.1,714.0 2713.1,715.0 2718.1,715.5 2723.1,716.1 2728.1,715.5 2733.1,716.1 2738.1,716.7 2743.1,715.9 2748.1,716.3 2753.1,716.0 2758.1,716.1 2763.1,716.2 2768.1,715.8 2773.1,716.7 2778.1,716.1 2783.1,716.1 2788.1,714.5 2793.1,714.6 2798.1,715.5" stroke="#d62728"/>
<polyline points="518.1,710.3 521.1,709.1 524.1,708.7 527.1,709.3 530.1,709.3 533.1,707.5 536.1,707.3 539.1,706.1 542.1,709.3 545.1,707.9 548.1,708.1 551.1,707.0 554.1,708.8 557.1,709.2 560.1,710.8 563.1,708.6 566.1,708.4 569.1,709.7 572.1,708.7 575.1,708.3 578.1,709.7 581.1,709.7 584.1,709.2 587.1,711.3 590.1,710.7 593.1,708.4 596.1,708.8 599.1,709.9 602.1,709.5 605.1,711.2 608.1,711.8 611.1,711.3 614.1,710.6 617.1,710.8 620.1,712.2 623.1,711.8 626.1,712.5 629.1,712.5 632.1,712.2 635.1,712.5 638.1,711.7 641.1,710.8 644.1,710.8 647.1,710.2 650.1,709.7 653.1,711.0 656.1,709.3 659.1,708.3 662.1,709.6 665.1,708.5 668.1,708.0 671.1,709.1 674.1,709.0 677.1,707.3 680.1,708.6 683.1,709.3 686.1,710.1 689.1,711.9 692.1,712.6 695.1,711.2 698.1,711.8 701.1,712.7 704.1,713.1 707.1,711.8 710.1,711.8 713.1,712.2 716.1,711.2 719.1,711.5 722.1,712.4 725.1,712.6 728.1,712.2 731.1,710.7 734.1,710.8 737.1,712.2 740.1,710.2 743.1,711.3 746.1,711.5 749.1,710.1 752.1,709.8 755.1,710.9 758.1,711.8 761.1,710.9 764.1,710.2 767.1,711.3 770.1,708.4 773.1,709.1 776.1,709.2 779.1,709.0 782.1,707.4 785.1,708.3 788.1,708.8 791.1,708.9 794.1,709.5 797.1,709.0 800.1,709.6 803.1,709.3 806.1,708.1 809.1,708.1 812.1,709.8 815.1,710.0 818.1,708.4 821.1,710.3 824.1,711.3 827.1,709.3 830.1,710.1 833.1,709.7 836.1,708.8 839.1,709.4 842.1,711.2 845.1,710.5 848.1,711.6 851.1,711.4 854.1,711.7 857.1,711.7 860.1,713.5 863.1,711.6 866.1,710.8 869.1,710.2 872.1,709.2 875.1,710.1 878.1,710.9 881.1,711.7 884.1,711.4 887.1,709.1 890.1,708.7 893.1,709.4 896.1,708.8 899.1,707.8 902.1,707.5 905.1,706.8 908.1,708.9 911.1,708.0 914.1,704.2 917.1,706.4 920.1,707.8 923.1,707.3 926.1,707.9 929.1,708.0 932.1,707.3 935.1,708.5 938.1,708.3 941.1,708.7 944.1,708.4 947.1,709.6 950.1,710.1 953.1,708.6 956.1,710.3 959.1,711.7 962.1,711.4 965.1,712.1 968.1,710.9 971.1,710.6 974.1,710.6 977.1,711.1 980.1,710.6 983.1,711.2 986.1,710.7 989.1,710.3 992.1,710.7 995.1,710.1 998.1,710.0 1001.1,710.5 1004.1,710.7 1007.1,708.9 1010.1,710.3 1013.1,710.7 1016.1,710.1 1019.1,709.9 1022.1,709.2 1025.1,710.6 1028.1,710.6 1031.1,712.0 1034.1,712.6 1037.1,711.8 1040.1,712.5 1043.1,712.4 1046.1,711.2 1049.1,711.4 1052.1,711.9 1055.1,711.6 1058.1,710.1 1061.1,708.3 1064.1,709.9 1067.1,709.3 1070.1,708.6 1073.1,710.4 1076.1,710.4 1079.1,711.2 1082.1,710.8 1085.1,709.5 1088.1,710.4 1091.1,708.2 1094.1,709.9 1097.1,710.5 1100.1,711.7 1103.1,711.5 1106.1,709.8 1109.1,708.5 1112.1,710.4 1115.1,710.2 1118.1,708.3 1121.1,707.3 1124.1,708.5 1127.1,708.4 1130.1,708.6 1133.1,706.8 1136.1,708.6 1139.1,708.1 1142.1,708.1 1145.1,708.1 1148.1,708.8 1151.1,709.5 1154.1,708.1 1157.1,708.0 1160.1,705.3 1163.1,705.4 1166.1,706.5 1169.1,707.8 1172.1,707.8 1175.1,708.6 1178.1,707.2 1181.1,709.3 1184.1,709.1 1187.1,708.3 1190.1,706.2 1193.1,708.3 1196.1,708.5 1199.1,708.4 1202.1,708.1 1205.1,708.5 1208.1,708.7 1211.1,709.9 1214.1,709.3 1217.1,709.5 1220.1,708.5 1223.1,708.5 1226.1,707.8 1229.1,710.2 1232.1,708.1 1235.1,710.9 1238.1,709.9 1241.1,710.0 1244.1,711.0 1247.1,709.4 1250.1,711.1 1253.1,709.7 1256.1,711.0 1259.1,711.5 1262.1,709.8 1265.1,709.7 1268.1,710.9 1271.1,711.6 1274.1,710.2 1277.1,710.5 1280.1,709.3 1283.1,710.6 1286.1,709.4 1289.1,710.5 1292.1,710.4 1295.1,710.6 1298.1,710.7 1301.1,710.6 1304.1,710.2 1307.1,710.6 1310.1,709.7 1313.1,710.0 1316.1,709.5 1319.1,708.1 1322.1,707.5 1325.1,708.2 1328.1,706.0 1331.1,707.1 1334.1,707.4 1337.1,708.7 1340.1,708.7 1343.1,708.8 1346.1,709.3 1349.1,708.4 1352.1,708.7 1355.1,708.6 1358.1,707.6 1361.1,708.2 1364.1,709.0 1367.1,708.4 1370.1,708.4 1373.1,707.8 1376.1,709.1 1379.1,709.3 1382.1,710.3 1385.1,712.1 1388.1,709.9 1391.1,711.7 1394.1,711.7 1397.1,710.6 1400.1,709.6 1403.1,710.1 1406.1,710.2 1409.1,707.6 1412.1,710.2 1415.1,708.3 1418.1,710.4 1421.1,709.4 1424.1,708.4 1427.1,707.4 1430.1,710.0 1433.1,709.9 1436.1,710.1 1439.1,708.9 1442.1,708.9 1445.1,708.5 1448.1,708.9 1451.1,708.7 1454.1,708.2 1457.1,709.5 1460.1,711.0 1463.1,709.7 1466.1,711.9 1469.1,711.5 1472.1,710.7 1475.1,710.8 1478.1,711.9 1481.1,710.0 1484.1,710.0 1487.1,709.6 1490.1,709.0 1493.1,709.4 1496.1,709.0 1499.1,710.2 1502.1,709.4 1505.1,709.7 1508.1,711.0 1511.1,709.1 1514.1,710.9 1517.1,711.4 1520.1,711.9 1523.1,711.6 1526.1,710.4 1529.1,711.7 1532.1,709.2 1535.1,709.8 1538.1,708.9 1541.1,709.9 1544.1,709.9 1547.1,707.7 1550.1,709.8 1553.1,709.2 1556.1,709.9 1559.1,710.2 1562.1,709.2 1565.1,709.4 1568.1,709.2 1571.1,708.0 1574.1,709.4 1577.1,708.2 1580.1,709.2 1583.1,709.5 1586.1,708.8 1589.1,709.9 1592.1,710.5 1595.1,710.8 1598.1,709.8 1601.1,709.8 1604.1,709.9 1607.1,709.6 1610.1,709.9 1613.1,709.9 1616.1,710.1 1619.1,710.8 1622.1,709.4 1625.1,710.6 1628.1,710.3 1631.1,711.8 1634.1,712.5 1637.1,712.9 1640.1,710.9 1643.1,711.3 1646.1,712.3 1649.1,712.5 1652.1,710.9 1655.1,711.6 1658.1,709.6 1661.1,708.6 1664.1,708.6 1667.1,708.3 1670.1,707.8 1673.1,709.2 1676.1,708.2 1679.1,709.3 1682.1,708.7 1685.1,708.9 1688.1,709.3 1691.1,708.4 1694.1,709.8 1697.1,708.9 1700.1,709.4 1703.1,709.6 1706.1,710.0 1709.1,709.3 1712.1,709.7 1715.1,709.2 1718.1,708.2 1721.1,708.8 1724.1,708.0 1727.1,709.5 1730.1,708.2 1733.1,707.1 1736.1,708.4 1739.1,709.6 1742.1,707.3 1745.1,709.4 1748.1,710.5 1751.1,710.0 1754.1,709.6 1757.1,708.5 1760.1,706.2 1763.1,708.1 1766.1,707.0 1769.1,708.4 1772.1,707.6 1775.1,705.7 1778.1,705.6 1781.1,707.1 1784.1,706.3 1787.1,708.2 1790.1,708.8 1793.1,707.8 1796.1,707.6 1799.1,708.2 1802.1,708.1 1805.1,707.8 1808.1,708.2 1811.1,708.7 1814.1,708.2 1817.1,707.7 1820.1,706.6 1823.1,710.4 1826.1,709.7 1829.1,708.6 1832.1,709.7 1835.1,710.5 1838.1,708.2 1841.1,709.4 1844.1,708.6 1847.1,709.7 1850.1,708.8 1853.1,707.3 1856.1,707.5 1859.1,708.3 1862.1,708.6 1865.1,706.8 1868.1,707.5 1871.1,708.7 1874.1,708.8 1877.1,709.6 1880.1,708.8 1883.1,708.8 1886.1,709.6 1889.1,710.0 1892.1,711.5 1895.1,710.8 1898.1,710.9 1901.1,711.2 1904.1,710.9 1907.1,711.8 1910.1,713.1 1913.1,713.1 1916.1,711.7 1919.1,712.1 1922.1,711.2 1925.1,711.0 1928.1,711.1 1931.1,711.0 1934.1,712.7 1937.1,709.7 1940.1,710.8 1943.1,711.0 1946.1,710.0 1949.1,710.2 1952.1,710.6 1955.1,709.5 1958.1,708.9 1961.1,709.4 1964.1,710.2 1967.1,710.1 1970.1,708.6 1973.1,709.2 1976.1,711.8 1979.1,710.9 1982.1,711.3 1985.1,711.3 1988.1,711.3 1991.1,711.2 1994.1,709.6 1997.1,709.7 2000.1,711.0 2003.1,710.5 2006.1,710.5 2009.1,710.9 2012.1,711.3 2015.1,712.0 2018.1,714.1 2021.1,714.0 2024.1,714.5 2027.1,715.2 2030.1,714.4 2033.1,713.0 2036.1,712.0 2039.1,713.0 2042.1,711.3 2045.1,712.7 2048.1,712.6 2051.1,711.8 2054.1,713.4 2057.1,711.4 2060.1,711.8 2063.1,709.7 2066.1,709.4 2069.1,708.6 2072.1,711.8 2075.1,711.5 2078.1,712.2 2081.1,711.9 2084.1,712.4 2087.1,711.1 2090.1,710.6 2093.1,712.5 2096.1,711.7 2099.1,710.4 2102.1,710.2 2105.1,712.4 2108.1,711.8 2111.1,711.7 2114.1,711.9 2117.1,711.6 2120.1,711.0 2123.1,710.2 2126.1,711.8 2129.1,709.4 2132.1,708.4 2135.1,707.9 2138.1,706.1 2141.1,708.7 2144.1,708.3 2147.1,709.0 2150.1,709.1 2153.1,708.0 2156.1,710.3 2159.1,707.7 2162.1,709.5 2165.1,708.0 2168.1,709.0 2171.1,709.2 2174.1,709.7 2177.1,708.7 2180.1,709.1 2183.1,709.1 2186.1,709.6 2189.1,709.4 2192.1,710.4 2195.1,709.4 2198.1,711.4 2201.1,711.2 2204.1,711.1 2207.1,710.3 2210.1,711.2 2213.1,710.8 2216.1,710.8 2219.1,710.4 2222.1,711.1 2225.1,710.6 2228.1,708.7 2231.1,708.8 2234.1,709.3 2237.1,709.2 2240.1,710.8 2243.1,711.4 2246.1,711.6 2249.1,711.3 2252.1,710.8 2255.1,711.0 2258.1,710.9 2261.1,711.5 2264.1,711.6 2267.1,712.6 2270.1,713.4 2273.1,712.9 2276.1,712.2 2279.1,712.0 2282.1,712.4 2285.1,713.2 2288.1,712.5 2291.1,713.7 2294.1,713.7 2297.1,713.4 2300.1,711.8 2303.1,712.3 2306.1,712.6 2309.1,711.0 2312.1,711.6 2315.1,711.0 2318.1,712.1 2321.1,709.8 2324.1,710.0 2327.1,711.4 2330.1,710.0 2333.1,709.4 2336.1,707.8 2339.1,708.5 2342.1,710.6 2345.1,711.7 2348.1,712.8 2351.1,711.8 2354.1,710.8 2357.1,710.5 2360.1,709.7 2363.1,709.4 2366.1,709.6 2369.1,709.1 2372.1,708.8 2375.1,709.7 2378.1,711.7 2381.1,709.9 2384.1,708.5 2387.1,710.6 2390.1,710.5 2393.1,710.9 2396.1,712.8 2399.1,710.6 2402.1,711.8 2405.1,709.9 2408.1,710.5 2411.1,709.4 2414.1,708.9 2417.1,710.5 2420.1,709.9 2423.1,710.3 2426.1,709.7 2429.1,710.3 2432.1,710.2 2435.1,709.2 2438.1,712.4 2441.1,711.5 2444.1,710.6 2447.1,710.3 2450.1,711.8 2453.1,710.8 2456.1,709.6 2459.1,711.1 2462.1,709.0 2465.1,708.5 2468.1,709.2 2471.1,709.3 2474.1,709.1 2477.1,707.8 2480.1,710.6 2483.1,708.1 2486.1,708.9 2489.1,708.5 2492.1,708.3 2495.1,708.5 2498.1,710.1 2501.1,711.0 2504.1,710.6 2507.1,711.1 2510.1,711.8 2513.1,710.3 2516.1,711.0 2519.1,709.9 2522.1,710.0 2525.1,710.8 2528.1,708.8 2531.1,710.7 2534.1,710.5 2537.1,713.1 2540.1,711.1 2543.1,711.7 2546.1,711.6 2549.1,710.8 2552.1,712.4 2555.1,711.3 2558.1,711.0 2561.1,711.6 2564.1,710.9 2567.1,710.8 2570.1,711.6 2573.1,713.6 2576.1,711.9 2579.1,711.0 2582.1,711.5 2585.1,712.3 2588.1,711.6 2591.1,713.0 2594.1,711.5 2597.1,713.2 2600.1,711.5 2603.1,710.8 2606.1,709.9 2609.1,712.3 2612.1,710.6 2615.1,711.3 2618.1,710.3 2621.1,711.3 2624.1,710.5 2627.1,710.1 2630.1,710.4 2633.1,711.2 2636.1,712.6 2639.1,711.3 2642.1,712.8 2645.1,710.4 2648.1,711.9 2651.1,711.2 2654.1,712.6 2657.1,711.2 2660.1,710.7 2663.1,711.8 2666.1,713.4 2669.1,713.3 2672.1,713.1 2675.1,711.3 2678.1,711.8 2681.1,713.3 2684.1,712.9 2687.1,713.8 2690.1,713.8 2693.1,712.1 2696.1,713.8 2699.1,712.3 2702.1,711.6 2705.1,713.6 2708.1,713.2 2711.1,713.7 2714.1,714.9 2717.1,715.0 2720.1,714.7 2723.1,714.9 2726.1,714.6 2729.1,715.8 2732.1,714.0 2735.1,712.9 2738.1,712.7 2741.1,714.0 2744.1,713.3 2747.1,713.8 2750.1,712.5 2753.1,713.1 2756.1,712.8 2759.1,712.6 2762.1,712.9 2765.1,713.4 2768.1,715.1 2771.1,714.0 2774.1,713.3 2777.1,713.5 2780.1,713.2 2783.1,713.4 2786.1,713.9 2789.1,712.7 2792.1,711.5 2795.1,712.3 2798.1,712.8 2801.1,713.3" stroke="#9467bd"/>
<polyline points="518.1,714.0 523.1,714.1 528.1,714.2 533.1,713.4 538.1,713.2 543.1,714.2 548.1,714.6 553.1,714.9 558.1,715.5 563.1,715.2 568.1,714.4 573.1,714.6 578.1,715.0 583.1,716.1 588.1,715.1 593.1,714.7 598.1,715.5 603.1,713.3 608.1,713.6 613.1,712.1 618.1,713.5 623.1,713.7 628.1,713.0 633.1,713.0 638.1,714.8 643.1,713.2 648.1,712.2 653.1,712.1 658.1,713.4 663.1,713.4 668.1,711.8 673.1,714.0 678.1,712.9 683.1,713.2 688.1,712.6 693.1,713.2 698.1,714.0 703.1,714.6 708.1,712.6 713.1,713.1 718.1,713.0 723.1,713.9 728.1,714.3 733.1,713.9 738.1,715.3 743.1,714.5 748.1,713.5 753.1,715.8 758.1,714.8 763.1,715.8 768.1,714.3 773.1,714.3 778.1,714.4 783.1,713.1 788.1,713.1 793.1,713.0 798.1,713.6 803.1,712.6 808.1,714.0 813.1,713.5 818.1,714.1 823.1,714.5 828.1,714.8 833.1,713.6 838.1,715.5 843.1,715.1 848.1,713.2 853.1,713.3 858.1,713.1 863.1,713.2 868.1,714.5 873.1,713.0 878.1,714.9 883.1,713.2 888.1,713.4 893.1,712.1 898.1,713.0 903.1,713.8 908.1,712.9 913.1,713.1 918.1,713.7 923.1,713.8 928.1,714.8 933.1,715.4 938.1,715.0 943.1,714.6 948.1,714.3 953.1,714.8 958.1,714.7 963.1,714.5 968.1,716.1 973.1,716.0 978.1,716.7 983.1,716.5 988.1,715.4 993.1,715.0 998.1,716.7 1003.1,716.7 1008.1,716.4 1013.1,715.9 1018.1,716.7 1023.1,716.6 1028.1,716.0 1033.1,715.2 1038.1,716.0 1043.1,714.8 1048.1,714.2 1053.1,715.8 1058.1,715.6 1063.1,715.5 1068.1,715.6 1073.1,716.0 1078.1,715.0 1083.1,715.3 1088.1,716.0 1093.1,715.8 1098.1,715.7 1103.1,714.9 1108.1,715.0 1113.1,716.2 1118.1,715.4 1123.1,716.0 1128.1,716.5 1133.1,715.7 1138.1,716.0 1143.1,716.5 1148.1,715.4 1153.1,714.8 1158.1,715.5 1163.1,715.3 1168.1,716.6 1173.1,715.9 1178.1,715.6 1183.1,715.3 1188.1,716.3 1193.1,715.9 1198.1,716.7 1203.1,715.8 1208.1,714.9 1213.1,714.8 1218.1,714.3 1223.1,714.0 1228.1,714.9 1233.1,713.7 1238.1,714.9 1243.1,714.5 1248.1,715.2 1253.1,715.7 1258.1,715.5 1263.1,715.2 1268.1,715.7 1273.1,715.3 1278.1,715.2 1283.1,715.3 1288.1,715.8 1293.1,716.3 1298.1,716.1 1303.1,714.8 1308.1,715.3 1313.1,714.7 1318.1,715.5 1323.1,715.3 1328.1,715.2 1333.1,715.3 1338.1,715.4 1343.1,715.0 1348.1,715.8 1353.1,716.0 1358.1,715.5 1363.1,715.7 1368.1,716.3 1373.1,716.0 1378.1,715.9 1383.1,713.8 1388.1,714.8 1393.1,714.1 1398.1,714.9 1403.1,713.9 1408.1,713.6 1413.1,713.7 1418.1,713.2 1423.1,713.5 1428.1,714.1 1433.1,713.8 1438.1,712.1 1443.1,713.4 1448.1,712.9 1453.1,711.7 1458.1,714.4 1463.1,713.6 1468.1,715.2 1473.1,713.7 1478.1,713.4 1483.1,713.3 1488.1,712.1 1493.1,713.1 1498.1,712.9 1503.1,713.0 1508.1,712.4 1513.1,712.9 1518.1,714.3 1523.1,713.0 1528.1,713.2 1533.1,713.4 1538.1,715.6 1543.1,714.3 1548.1,714.1 1553.1,714.5 1558.1,713.5 1563.1,714.8 1568.1,714.9 1573.1,715.3 1578.1,714.6 1583.1,716.4 1588.1,714.8 1593.1,714.3 1598.1,714.4 1603.1,715.2 1608.1,716.4 1613.1,714.2 1618.1,715.2 1623.1,713.6 1628.1,714.8 1633.1,712.7 1638.1,713.5 1643.1,714.5 1648.1,714.0 1653.1,715.0 1658.1,714.1 1663.1,713.5 1668.1,715.2 1673.1,714.8 1678.1,714.4 1683.1,715.4 1688.1,714.4 1693.1,714.1 1698.1,715.3 1703.1,714.8 1708.1,715.0 1713.1,714.0 1718.1,714.1 1723.1,713.6 1728.1,714.2 1733.1,712.7 1738.1,714.3 1743.1,712.5 1748.1,713.4 1753.1,715.2 1758.1,714.2 1763.1,715.2 1768.1,715.8 1773.1,716.0 1778.1,716.0 1783.1,714.9 1788.1,714.5 1793.1,714.3 1798.1,715.3 1803.1,715.2 1808.1,714.8 1813.1,714.1 1818.1,715.0 1823.1,714.8 1828.1,714.2 1833.1,713.9 1838.1,713.7 1843.1,712.5 1848.1,713.4 1853.1,712.8 1858.1,711.9 1863.1,711.8 1868.1,712.6 1873.1,711.3 1878.1,712.7 1883.1,712.2 1888.1,713.0 1893.1,712.1 1898.1,712.4 1903.1,713.4 1908.1,712.7 1913.1,713.2 1918.1,711.6 1923.1,711.5 1928.1,711.7 1933.1,711.1 1938.1,712.5 1943.1,713.8 1948.1,713.4 1953.1,713.3 1958.1,712.1 1963.1,711.6 1968.1,712.4 1973.1,713.7 1978.1,713.0 1983.1,712.0 1988.1,711.9 1993.1,713.0 1998.1,713.5 2003.1,712.9 2008.1,712.9 2013.1,711.9 2018.1,711.7 2023.1,713.9 2028.1,713.3 2033.1,711.4 2038.1,712.9 2043.1,712.6 2048.1,711.7 2053.1,711.3 2058.1,710.7 2063.1,710.4 2068.1,711.3 2073.1,711.7 2078.1,712.2 2083.1,711.2 2088.1,710.9 2093.1,712.1 2098.1,711.8 2103.1,713.2 2108.1,713.5 2113.1,713.6 2118.1,712.0 2123.1,713.1 2128.1,712.3 2133.1,712.7 2138.1,711.7 2143.1,711.4 2148.1,712.0 2153.1,710.7 2158.1,710.2 2163.1,709.8 2168.1,710.3 2173.1,710.8 2178.1,711.5 2183.1,712.4 2188.1,712.1 2193.1,709.9 2198.1,711.1 2203.1,709.9 2208.1,711.9 2213.1,711.0 2218.1,712.4 2223.1,710.8 2228.1,710.8 2233.1,711.7 2238.1,710.8 2243.1,710.6 2248.1,710.5 2253.1,711.2 2258.1,711.3 2263.1,711.1 2268.1,710.7 2273.1,711.6 2278.1,711.4 2283.1,711.3 2288.1,711.4 2293.1,712.0 2298.1,710.1 2303.1,711.8 2308.1,710.7 2313.1,711.9 2318.1,710.1 2323.1,710.2 2328.1,712.0 2333.1,711.0 2338.1,710.8 2343.1,710.8 2348.1,709.8 2353.1,710.3 2358.1,710.4 2363.1,709.5 2368.1,709.0 2373.1,710.1 2378.1,709.7 2383.1,710.9 2388.1,711.6 2393.1,710.3 2398.1,710.0 2403.1,710.1 2408.1,710.0 2413.1,710.7 2418.1,711.0 2423.1,711.0 2428.1,710.4 2433.1,712.5 2438.1,711.3 2443.1,711.1 2448.1,711.0 2453.1,711.5 2458.1,711.9 2463.1,711.2 2468.1,711.0 2473.1,711.5 2478.1,711.1 2483.1,713.7 2488.1,712.0 2493.1,711.7 2498.1,712.2 2503.1,711.6 2508.1,711.4 2513.1,711.6 2518.1,711.9 2523.1,710.5 2528.1,711.0 2533.1,713.4 2538.1,712.4 2543.1,711.4 2548.1,712.7 2553.1,711.8 2558.1,713.0 2563.1,712.0 2568.1,712.4 2573.1,712.8 2578.1,712.3 2583.1,712.5 2588.1,714.7 2593.1,713.8 2598.1,714.2 2603.1,713.0 2608.1,711.9 2613.1,712.3 2618.1,711.7 2623.1,711.7 2628.1,710.8 2633.1,710.6 2638.1,710.6 2643.1,711.6 2648.1,711.3 2653.1,711.9 2658.1,710.1 2663.1,711.1 2668.1,710.2 2673.1,709.8 2678.1,711.2 2683.1,710.4 2688.1,710.6 2693.1,711.2 2698.1,710.9 2703.1,710.4 2708.1,712.1 2713.1,710.7 2718.1,710.4 2723.1,710.2 2728.1,710.8 2733.1,710.2 2738.1,710.4 2743.1,709.9 2748.1,710.7 2753.1,711.6 2758.1,710.2 2763.1,709.3 2768.1,710.4 2773.1,709.4 2778.1,709.6 2783.1,709.2 2788.1,709.1 2793.1,710.4 2798.1,709.8" stroke="#8c564b"/>
<polyline points="518.1,702.5 521.1,703.3 524.1,703.5 527.1,696.2 530.1,695.1 533.1,694.3 536.1,695.3 539.1,699.1 542.1,696.8 545.1,693.4 548.1,699.0 551.1,698.6 554.1,699.1 557.1,694.3 560.1,693.0 563.1,691.3 566.1,687.8 569.1,697.0 572.1,690.5 575.1,702.3 578.1,697.2 581.1,696.2 584.1,696.2 587.1,695.2 590.1,694.9 593.1,694.7 596.1,697.6 599.1,694.6 602.1,697.8 605.1,696.9 608.1,701.0 611.1,693.3 614.1,694.0 617.1,695.6 620.1,689.2 623.1,690.0 626.1,691.6 629.1,689.9 632.1,696.2 635.1,691.2 638.1,696.7 641.1,687.6 644.1,687.2 647.1,695.6 650.1,691.8 653.1,698.2 656.1,697.2 659.1,696.9 662.1,706.5 665.1,699.1 668.1,697.4 671.1,697.7 674.1,703.8 677.1,702.8 680.1,697.3 683.1,696.1 686.1,697.3 689.1,702.1 692.1,702.4 695.1,696.7 698.1,692.7 701.1,694.7 704.1,693.2 707.1,691.9 710.1,695.2 713.1,697.2 716.1,697.8 719.1,698.4 722.1,700.3 725.1,701.3 728.1,698.8 731.1,702.8 734.1,698.2 737.1,703.3 740.1,704.7 743.1,701.0 746.1,701.0 749.1,705.6 752.1,698.6 755.1,706.5 758.1,701.1 761.1,697.9 764.1,703.3 767.1,708.6 770.1,704.2 773.1,709.8 776.1,704.3 779.1,706.7 782.1,699.6 785.1,701.5 788.1,695.6 791.1,697.6 794.1,701.0 797.1,699.4 800.1,700.2 803.1,700.5 806.1,703.4 809.1,705.2 812.1,700.8 815.1,702.3 818.1,699.1 821.1,702.5 824.1,702.8 827.1,701.1 830.1,700.4 833.1,700.4 836.1,702.0 839.1,705.7 842.1,698.6 845.1,700.4 848.1,698.3 851.1,694.7 854.1,697.2 857.1,698.8 860.1,700.4 863.1,706.4 866.1,704.3 869.1,703.4 872.1,700.3 875.1,704.3 878.1,698.6 881.1,699.8 884.1,698.4 887.1,694.5 890.1,697.8 893.1,703.1 896.1,699.6 899.1,698.8 902.1,698.5 905.1,694.9 908.1,696.3 911.1,693.5 914.1,694.2 917.1,693.2 920.1,691.6 923.1,690.2 926.1,693.6 929.1,697.4 932.1,691.3 935.1,688.0 938.1,694.4 941.1,692.2 944.1,692.2 947.1,695.7 950.1,698.3 953.1,697.3 956.1,697.9 959.1,698.3 962.1,696.1 965.1,699.7 968.1,702.6 971.1,697.7 974.1,700.9 977.1,701.4 980.1,695.6 983.1,697.2 986.1,701.7 989.1,702.5 992.1,702.5 995.1,703.4 998.1,699.1 1001.1,697.1 1004.1,701.2 1007.1,696.2 1010.1,699.0 1013.1,700.3 1016.1,702.0 1019.1,697.7 1022.1,700.0 1025.1,694.8 1028.1,700.5 1031.1,693.8 1034.1,688.5 1037.1,689.2 1040.1,689.8 1043.1,696.3 1046.1,694.0 1049.1,690.0 1052.1,690.7 1055.1,693.7 1058.1,695.4 1061.1,692.3 1064.1,692.9 1067.1,697.9 1070.1,696.3 1073.1,696.5 1076.1,700.3 1079.1,697.6 1082.1,692.8 1085.1,690.2 1088.1,697.4 1091.1,700.6 1094.1,696.9 1097.1,695.8 1100.1,700.1 1103.1,697.5 1106.1,700.6 1109.1,702.6 1112.1,695.4 1115.1,695.5 1118.1,698.2 1121.1,697.4 1124.1,694.2 1127.1,693.7 1130.1,693.2 1133.1,692.0 1136.1,690.5 1139.1,689.8 1142.1,690.6 1145.1,693.1 1148.1,690.3 1151.1,695.3 1154.1,694.5 1157.1,696.7 1160.1,695.9 1163.1,694.8 1166.1,696.9 1169.1,697.9 1172.1,695.4 1175.1,695.2 1178.1,695.8 1181.1,694.7 1184.1,698.3 1187.1,702.1 1190.1,701.1 1193.1,699.4 1196.1,700.1 1199.1,701.3 1202.1,698.7 1205.1,697.9 1208.1,696.7 1211.1,693.7 1214.1,694.7 1217.1,702.3 1220.1,703.3 1223.1,699.4 1226.1,699.1 1229.1,703.1 1232.1,701.1 1235.1,700.4 1238.1,702.2 1241.1,704.6 1244.1,706.6 1247.1,709.7 1250.1,703.6 1253.1,710.8 1256.1,708.7 1259.1,706.0 1262.1,700.7 1265.1,701.9 1268.1,709.5 1271.1,708.8 1274.1,706.5 1277.1,705.7 1280.1,703.4 1283.1,702.0 1286.1,702.3 1289.1,700.3 1292.1,701.6 1295.1,695.5 1298.1,693.7 1301.1,696.7 1304.1,695.8 1307.1,693.4 1310.1,694.3 1313.1,693.8 1316.1,690.5 1319.1,693.9 1322.1,694.5 1325.1,701.8 1328.1,696.1 1331.1,698.9 1334.1,695.2 1337.1,691.8 1340.1,695.0 1343.1,692.7 1346.1,692.9 1349.1,695.4 1352.1,696.0 1355.1,697.6 1358.1,695.0 1361.1,696.8 1364.1,698.1 1367.1,701.5 1370.1,698.3 1373.1,699.1 1376.1,698.7 1379.1,706.8 1382.1,705.7 1385.1,698.8 1388.1,702.1 1391.1,700.7 1394.1,698.1 1397.1,700.2 1400.1,703.0 1403.1,699.4 1406.1,696.7 1409.1,698.8 1412.1,697.3 1415.1,697.3 1418.1,698.0 1421.1,703.3 1424.1,702.1 1427.1,702.2 1430.1,704.2 1433.1,699.7 1436.1,695.8 1439.1,696.3 1442.1,696.4 1445.1,701.5 1448.1,703.0 1451.1,702.7 1454.1,702.8 1457.1,693.5 1460.1,692.4 1463.1,696.9 1466.1,697.5 1469.1,697.1 1472.1,700.8 1475.1,701.2 1478.1,699.1 1481.1,696.6 1484.1,696.9 1487.1,695.0 1490.1,696.7 1493.1,693.4 1496.1,689.5 1499.1,691.6 1502.1,692.6 1505.1,696.8 1508.1,698.5 1511.1,695.9 1514.1,699.0 1517.1,695.9 1520.1,697.3 1523.1,696.5 1526.1,700.7 1529.1,701.7 1532.1,706.7 1535.1,705.7 1538.1,706.4 1541.1,704.3 1544.1,708.6 1547.1,704.6 1550.1,701.9 1553.1,706.8 1556.1,706.2 1559.1,702.9 1562.1,702.5 1565.1,704.1 1568.1,697.6 1571.1,701.3 1574.1,700.5 1577.1,694.5 1580.1,696.5 1583.1,693.5 1586.1,693.3 1589.1,693.7 1592.1,700.6 1595.1,696.0 1598.1,694.7 1601.1,698.6 1604.1,698.4 1607.1,696.2 1610.1,694.3 1613.1,701.8 1616.1,694.5 1619.1,698.1 1622.1,693.1 1625.1,696.0 1628.1,694.9 1631.1,694.1 1634.1,694.8 1637.1,691.7 1640.1,693.5 1643.1,692.2 1646.1,696.2 1649.1,693.4 1652.1,698.6 1655.1,701.0 1658.1,694.6 1661.1,697.3 1664.1,691.1 1667.1,701.2 1670.1,693.7 1673.1,697.3 1676.1,693.5 1679.1,693.1 1682.1,690.0 1685.1,687.8 1688.1,694.4 1691.1,693.1 1694.1,688.4 1697.1,694.3 1700.1,689.6 1703.1,688.8 1706.1,689.8 1709.1,696.2 1712.1,690.5 1715.1,694.2 1718.1,689.9 1721.1,691.9 1724.1,699.1 1727.1,698.3 1730.1,700.7 1733.1,696.4 1736.1,698.7 1739.1,703.3 1742.1,698.4 1745.1,702.0 1748.1,703.2 1751.1,698.7 1754.1,700.5 1757.1,695.4 1760.1,692.6 1763.1,693.4 1766.1,690.9 1769.1,690.2 1772.1,690.7 1775.1,691.2 1778.1,692.6 1781.1,694.3 1784.1,690.8 1787.1,692.6 1790.1,694.0 1793.1,687.5 1796.1,694.3 1799.1,692.8 1802.1,691.7 1805.1,691.9 1808.1,692.6 1811.1,696.1 1814.1,696.3 1817.1,695.3 1820.1,691.0 1823.1,693.1 1826.1,697.2 1829.1,693.4 1832.1,702.4 1835.1,692.8 1838.1,697.7 1841.1,698.3 1844.1,698.5 1847.1,700.1 1850.1,701.3 1853.1,696.8 1856.1,695.7 1859.1,695.7 1862.1,692.8 1865.1,695.5 1868.1,692.9 1871.1,687.5 1874.1,692.1 1877.1,689.4 1880.1,688.7 1883.1,692.2 1886.1,691.4 1889.1,691.0 1892.1,689.6 1895.1,693.4 1898.1,692.0 1901.1,700.9 1904.1,695.2 1907.1,695.2 1910.1,698.7 1913.1,700.0 1916.1,696.3 1919.1,697.2 1922.1,703.1 1925.1,697.2 1928.1,695.4 1931.1,695.7 1934.1,694.5 1937.1,702.8 1940.1,698.5 1943.1,705.5 1946.1,696.6 1949.1,694.0 1952.1,694.8 1955.1,696.6 1958.1,699.7 1961.1,698.3 1964.1,702.0 1967.1,697.6 1970.1,701.2 1973.1,697.9 1976.1,698.5 1979.1,698.1 1982.1,697.4 1985.1,693.9 1988.1,698.9 1991.1,698.3 1994.1,695.9 1997.1,695.9 2000.1,697.2 2003.1,695.4 2006.1,693.7 2009.1,697.1 2012.1,693.9 2015.1,695.1 2018.1,693.2 2021.1,694.3 2024.1,697.1 2027.1,696.4 2030.1,694.8 2033.1,690.5 2036.1,691.0 2039.1,693.8 2042.1,694.1 2045.1,688.5 2048.1,690.5 2051.1,691.7 2054.1,690.5 2057.1,693.3 2060.1,690.7 2063.1,688.0 2066.1,685.2 2069.1,689.4 2072.1,690.5 2075.1,692.7 2078.1,695.7 2081.1,691.4 2084.1,696.2 2087.1,700.1 2090.1,695.5 2093.1,698.8 2096.1,698.0 2099.1,699.1 2102.1,700.0 2105.1,695.3 2108.1,694.2 2111.1,695.8 2114.1,698.7 2117.1,695.7 2120.1,696.9 2123.1,691.0 2126.1,693.6 2129.1,684.9 2132.1,687.5 2135.1,691.7 2138.1,691.0 2141.1,691.2 2144.1,694.3 2147.1,692.5 2150.1,691.3 2153.1,690.7 2156.1,689.5 2159.1,685.8 2162.1,687.2 2165.1,690.5 2168.1,686.9 2171.1,686.7 2174.1,686.4 2177.1,688.3 2180.1,689.0 2183.1,687.1 2186.1,688.5 2189.1,696.4 2192.1,695.3 2195.1,700.6 2198.1,699.7 2201.1,700.3 2204.1,700.4 2207.1,696.8 2210.1,695.8 2213.1,697.5 2216.1,701.8 2219.1,697.5 2222.1,698.0 2225.1,702.4 2228.1,697.2 2231.1,702.1 2234.1,688.8 2237.1,691.5 2240.1,689.7 2243.1,696.9 2246.1,689.9 2249.1,689.1 2252.1,689.3 2255.1,687.6 2258.1,684.4 2261.1,686.7 2264.1,692.9 2267.1,691.6 2270.1,687.6 2273.1,690.0 2276.1,690.6 2279.1,691.1 2282.1,696.1 2285.1,693.5 2288.1,692.6 2291.1,693.0 2294.1,692.5 2297.1,696.9 2300.1,697.9 2303.1,698.9 2306.1,696.9 2309.1,695.8 2312.1,698.3 2315.1,695.2 2318.1,697.4 2321.1,694.9 2324.1,692.6 2327.1,688.2 2330.1,695.1 2333.1,695.7 2336.1,694.3 2339.1,698.2 2342.1,698.3 2345.1,696.6 2348.1,699.1 2351.1,701.6 2354.1,700.8 2357.1,699.1 2360.1,699.5 2363.1,697.6 2366.1,698.2 2369.1,698.3 2372.1,699.8 2375.1,697.7 2378.1,699.6 2381.1,701.4 2384.1,702.6 2387.1,700.4 2390.1,693.0 2393.1,692.3 2396.1,689.9 2399.1,688.1 2402.1,687.7 2405.1,686.7 2408.1,685.2 2411.1,688.9 2414.1,687.2 2417.1,688.4 2420.1,688.1 2423.1,689.8 2426.1,692.6 2429.1,698.5 2432.1,699.0 2435.1,695.7 2438.1,693.9 2441.1,695.9 2444.1,693.0 2447.1,691.7 2450.1,691.4 2453.1,697.3 2456.1,690.6 2459.1,693.4 2462.1,687.9 2465.1,689.5 2468.1,690.2 2471.1,687.6 2474.1,689.1 2477.1,695.7 2480.1,694.3 2483.1,692.0 2486.1,691.0 2489.1,687.3 2492.1,690.5 2495.1,689.5 2498.1,686.4 2501.1,686.7 2504.1,687.4 2507.1,688.9 2510.1,684.8 2513.1,684.9 2516.1,682.4 2519.1,686.7 2522.1,688.4 2525.1,684.2 2528.1,689.0 2531.1,688.3 2534.1,688.0 2537.1,693.8 2540.1,690.5 2543.1,691.8 2546.1,691.4 2549.1,689.1 2552.1,686.7 2555.1,686.1 2558.1,685.2 2561.1,685.3 2564.1,682.2 2567.1,683.0 2570.1,682.7 2573.1,687.0 2576.1,679.5 2579.1,681.0 2582.1,686.6 2585.1,685.8 2588.1,685.1 2591.1,687.8 2594.1,685.1 2597.1,687.7 2600.1,687.5 2603.1,691.1 2606.1,689.9 2609.1,692.2 2612.1,691.9 2615.1,696.8 2618.1,691.4 2621.1,693.4 2624.1,687.5 2627.1,689.2 2630.1,684.8 2633.1,684.0 2636.1,684.3 2639.1,682.5 2642.1,687.5 2645.1,686.3 2648.1,689.1 2651.1,683.4 2654.1,684.3 2657.1,681.1 2660.1,684.0 2663.1,684.0 2666.1,683.3 2669.1,685.0 2672.1,688.6 2675.1,686.7 2678.1,684.4 2681.1,685.5 2684.1,682.2 2687.1,686.8 2690.1,689.0 2693.1,684.9 2696.1,688.1 2699.1,689.5 2702.1,693.7 2705.1,694.5 2708.1,691.4 2711.1,686.7 2714.1,687.6 2717.1,686.2 2720.1,686.8 2723.1,684.1 2726.1,681.7 2729.1,683.1 2732.1,676.3 2735.1,681.6 2738.1,682.3 2741.1,680.1 2744.1,679.4 2747.1,679.9 2750.1,677.2 2753.1,677.9 2756.1,682.2 2759.1,679.0 2762.1,681.0 2765.1,682.5 2768.1,679.4 2771.1,679.3 2774.1,681.4 2777.1,680.5 2780.1,682.2 2783.1,681.4 2786.1,682.3 2789.1,683.6 2792.1,683.9 2795.1,683.8 2798.1,690.9 2801.1,689.2" stroke="#e377c2"/>
<polyline points="518.1,706.9 521.1,708.1 524.1,708.8 527.1,708.0 530.1,708.5 533.1,708.2 536.1,709.5 539.1,710.5 542.1,705.8 545.1,708.9 548.1,706.3 551.1,707.7 554.1,706.1 557.1,705.3 560.1,706.8 563.1,710.9 566.1,708.6 569.1,707.5 572.1,708.1 575.1,706.3 578.1,706.2 581.1,705.4 584.1,706.3 587.1,706.7 590.1,705.5 593.1,705.9 596.1,706.7 599.1,705.4 602.1,704.5 605.1,705.5 608.1,707.9 611.1,706.4 614.1,706.6 617.1,708.6 620.1,706.6 623.1,706.4 626.1,705.5 629.1,705.6 632.1,708.6 635.1,707.0 638.1,707.5 641.1,706.8 644.1,709.3 647.1,708.1 650.1,708.4 653.1,709.5 656.1,709.9 659.1,709.1 662.1,712.1 665.1,710.3 668.1,708.9 671.1,709.1 674.1,710.0 677.1,708.3 680.1,710.3 683.1,708.6 686.1,711.6 689.1,710.0 692.1,709.4 695.1,708.8 698.1,708.9 701.1,708.3 704.1,709.4 707.1,710.2 710.1,711.2 713.1,709.2 716.1,711.8 719.1,709.5 722.1,711.4 725.1,708.6 728.1,706.8 731.1,708.3 734.1,707.5 737.1,710.2 740.1,707.6 743.1,709.0 746.1,708.6 749.1,709.2 752.1,707.9 755.1,706.1 758.1,708.0 761.1,708.4 764.1,709.6 767.1,708.7 770.1,709.4 773.1,706.7 776.1,707.5 779.1,711.0 782.1,708.4 785.1,707.9 788.1,705.7 791.1,705.5 794.1,703.8 797.1,705.8 800.1,705.1 803.1,703.8 806.1,704.6 809.1,704.9 812.1,703.2 815.1,706.2 818.1,705.2 821.1,703.5 824.1,705.3 827.1,705.7 830.1,707.4 833.1,705.9 836.1,703.0 839.1,704.9 842.1,707.4 845.1,708.3 848.1,703.5 851.1,704.2 854.1,706.3 857.1,707.2 860.1,706.4 863.1,707.2 866.1,706.2 869.1,705.8 872.1,705.9 875.1,707.4 878.1,706.1 881.1,706.2 884.1,706.0 887.1,708.4 890.1,707.0 893.1,709.4 896.1,707.5 899.1,707.2 902.1,708.6 905.1,711.7 908.1,710.6 911.1,708.2 914.1,711.2 917.1,709.2 920.1,709.9 923.1,708.4 926.1,708.7 929.1,707.7 932.1,707.8 935.1,706.6 938.1,706.8 941.1,705.6 944.1,705.0 947.1,703.9 950.1,703.2 953.1,702.6 956.1,704.2 959.1,704.2 962.1,703.1 965.1,701.8 968.1,703.1 971.1,704.5 974.1,702.3 977.1,703.8 980.1,704.1 983.1,702.3 986.1,703.2 989.1,704.9 992.1,704.9 995.1,704.2 998.1,704.1 1001.1,706.9 1004.1,708.4 1007.1,707.2 1010.1,707.9 1013.1,709.1 1016.1,711.3 1019.1,709.2 1022.1,709.1 1025.1,706.5 1028.1,708.5 1031.1,706.7 1034.1,709.1 1037.1,707.6 1040.1,708.8 1043.1,704.9 1046.1,705.9 1049.1,708.3 1052.1,709.2 1055.1,707.8 1058.1,707.0 1061.1,707.1 1064.1,704.6 1067.1,705.6 1070.1,708.9 1073.1,706.7 1076.1,705.6 1079.1,706.2 1082.1,703.4 1085.1,705.4 1088.1,703.4 1091.1,707.5 1094.1,705.0 1097.1,706.2 1100.1,703.5 1103.1,705.1 1106.1,706.0 1109.1,705.0 1112.1,705.8 1115.1,706.9 1118.1,705.1 1121.1,706.6 1124.1,705.4 1127.1,705.3 1130.1,708.0 1133.1,707.6 1136.1,707.6 1139.1,707.4 1142.1,708.3 1145.1,707.3 1148.1,711.2 1151.1,712.1 1154.1,711.1 1157.1,707.3 1160.1,711.1 1163.1,713.0 1166.1,711.2 1169.1,709.6 1172.1,712.7 1175.1,710.5 1178.1,710.9 1181.1,710.2 1184.1,710.4 1187.1,710.1 1190.1,705.8 1193.1,708.6 1196.1,707.8 1199.1,708.9 1202.1,708.1 1205.1,708.8 1208.1,709.9 1211.1,711.3 1214.1,710.1 1217.1,713.2 1220.1,711.3 1223.1,713.0 1226.1,710.5 1229.1,711.4 1232.1,708.9 1235.1,711.7 1238.1,712.0 1241.1,708.8 1244.1,708.3 1247.1,709.4 1250.1,710.1 1253.1,713.9 1256.1,711.4 1259.1,712.6 1262.1,711.5 1265.1,709.7 1268.1,709.4 1271.1,710.9 1274.1,711.0 1277.1,708.9 1280.1,711.1 1283.1,710.8 1286.1,708.5 1289.1,709.8 1292.1,708.4 1295.1,708.6 1298.1,709.0 1301.1,710.4 1304.1,708.5 1307.1,706.7 1310.1,710.6 1313.1,710.3 1316.1,708.3 1319.1,707.4 1322.1,708.5 1325.1,709.8 1328.1,706.8 1331.1,706.9 1334.1,708.9 1337.1,711.6 1340.1,712.5 1343.1,709.8 1346.1,710.5 1349.1,711.5 1352.1,709.0 1355.1,710.6 1358.1,710.6 1361.1,710.0 1364.1,710.2 1367.1,709.2 1370.1,711.3 1373.1,711.3 1376.1,711.2 1379.1,709.0 1382.1,710.8 1385.1,710.6 1388.1,710.8 1391.1,712.8 1394.1,711.3 1397.1,711.4 1400.1,711.3 1403.1,710.0 1406.1,711.9 1409.1,710.5 1412.1,711.9 1415.1,713.2 1418.1,711.5 1421.1,711.3 1424.1,714.4 1427.1,712.1 1430.1,710.4 1433.1,714.9 1436.1,713.3 1439.1,712.9 1442.1,713.1 1445.1,714.2 1448.1,714.1 1451.1,715.3 1454.1,714.2 1457.1,712.5 1460.1,713.7 1463.1,711.1 1466.1,713.5 1469.1,712.2 1472.1,710.7 1475.1,713.2 1478.1,712.1 1481.1,712.3 1484.1,710.8 1487.1,711.2 1490.1,709.4 1493.1,710.0 1496.1,708.8 1499.1,706.4 1502.1,706.2 1505.1,704.8 1508.1,707.0 1511.1,709.0 1514.1,707.5 1517.1,708.0 1520.1,707.5 1523.1,708.7 1526.1,707.5 1529.1,708.1 1532.1,708.9 1535.1,709.5 1538.1,709.3 1541.1,710.5 1544.1,712.6 1547.1,713.1 1550.1,710.3 1553.1,713.5 1556.1,713.6 1559.1,715.2 1562.1,713.9 1565.1,711.0 1568.1,710.3 1571.1,711.3 1574.1,711.0 1577.1,710.2 1580.1,710.1 1583.1,709.5 1586.1,710.1 1589.1,710.5 1592.1,710.0 1595.1,706.9 1598.1,705.3 1601.1,707.7 1604.1,705.5 1607.1,707.7 1610.1,705.7 1613.1,706.4 1616.1,709.2 1619.1,708.7 1622.1,709.7 1625.1,709.7 1628.1,710.4 1631.1,706.8 1634.1,708.8 1637.1,708.0 1640.1,707.6 1643.1,708.2 1646.1,709.2 1649.1,711.6 1652.1,709.6 1655.1,708.3 1658.1,709.0 1661.1,707.8 1664.1,710.8 1667.1,713.2 1670.1,711.3 1673.1,714.0 1676.1,714.1 1679.1,712.4 1682.1,715.7 1685.1,713.7 1688.1,714.3 1691.1,712.2 1694.1,715.0 1697.1,711.1 1700.1,714.0 1703.1,712.3 1706.1,715.1 1709.1,713.6 1712.1,716.2 1715.1,716.4 1718.1,716.3 1721.1,715.9 1724.1,716.0 1727.1,715.2 1730.1,716.7 1733.1,716.3 1736.1,716.2 1739.1,713.5 1742.1,711.9 1745.1,712.6 1748.1,712.3 1751.1,709.3 1754.1,711.7 1757.1,711.9 1760.1,711.2 1763.1,712.1 1766.1,712.1 1769.1,713.3 1772.1,714.3 1775.1,712.7 1778.1,713.0 1781.1,715.2 1784.1,715.4 1787.1,715.0 1790.1,712.8 1793.1,715.5 1796.1,713.7 1799.1,716.4 1802.1,714.1 1805.1,716.4 1808.1,715.5 1811.1,716.5 1814.1,716.7 1817.1,714.4 1820.1,714.2 1823.1,714.3 1826.1,714.4 1829.1,713.8 1832.1,712.8 1835.1,712.6 1838.1,712.9 1841.1,709.6 1844.1,711.2 1847.1,709.2 1850.1,707.8 1853.1,709.2 1856.1,708.6 1859.1,706.2 1862.1,711.5 1865.1,711.8 1868.1,711.1 1871.1,711.4 1874.1,710.9 1877.1,711.0 1880.1,710.9 1883.1,713.0 1886.1,711.4 1889.1,711.0 1892.1,712.8 1895.1,712.6 1898.1,714.2 1901.1,714.5 1904.1,715.5 1907.1,712.2 1910.1,712.0 1913.1,711.9 1916.1,713.5 1919.1,713.8 1922.1,712.3 1925.1,711.6 1928.1,712.4 1931.1,713.2 1934.1,710.1 1937.1,708.9 1940.1,711.2 1943.1,708.2 1946.1,709.4 1949.1,708.6 1952.1,709.1 1955.1,712.0 1958.1,711.6 1961.1,712.0 1964.1,713.4 1967.1,709.6 1970.1,708.1 1973.1,707.7 1976.1,707.9 1979.1,706.0 1982.1,707.6 1985.1,707.2 1988.1,707.5 1991.1,706.7 1994.1,705.3 1997.1,707.3 2000.1,707.9 2003.1,707.4 2006.1,710.9 2009.1,711.8 2012.1,710.4 2015.1,708.1 2018.1,710.0 2021.1,710.6 2024.1,711.4 2027.1,711.9 2030.1,709.8 2033.1,709.5 2036.1,709.7 2039.1,711.5 2042.1,710.4 2045.1,709.6 2048.1,709.7 2051.1,708.6 2054.1,709.3 2057.1,708.4 2060.1,708.7 2063.1,709.0 2066.1,710.2 2069.1,707.2 2072.1,708.2 2075.1,706.1 2078.1,707.3 2081.1,707.0 2084.1,708.3 2087.1,708.7 2090.1,709.8 2093.1,711.2 2096.1,710.2 2099.1,709.4 2102.1,712.7 2105.1,710.9 2108.1,709.8 2111.1,708.3 2114.1,707.5 2117.1,706.3 2120.1,707.4 2123.1,707.2 2126.1,711.8 2129.1,712.2 2132.1,711.7 2135.1,710.6 2138.1,708.6 2141.1,709.7 2144.1,709.1 2147.1,707.5 2150.1,705.1 2153.1,709.3 2156.1,707.7 2159.1,706.7 2162.1,711.1 2165.1,707.9 2168.1,711.5 2171.1,710.4 2174.1,711.0 2177.1,710.6 2180.1,709.2 2183.1,710.3 2186.1,707.7 2189.1,708.1 2192.1,705.7 2195.1,707.2 2198.1,705.1 2201.1,707.6 2204.1,707.0 2207.1,705.7 2210.1,707.7 2213.1,705.7 2216.1,705.4 2219.1,703.7 2222.1,702.7 2225.1,705.0 2228.1,706.1 2231.1,707.1 2234.1,707.3 2237.1,706.0 2240.1,707.2 2243.1,708.2 2246.1,708.1 2249.1,708.8 2252.1,707.0 2255.1,707.3 2258.1,708.0 2261.1,706.6 2264.1,709.6 2267.1,708.0 2270.1,707.3 2273.1,711.1 2276.1,710.9 2279.1,711.8 2282.1,714.3 2285.1,712.2 2288.1,711.7 2291.1,709.6 2294.1,710.9 2297.1,714.6 2300.1,711.3 2303.1,714.2 2306.1,712.3 2309.1,712.2 2312.1,712.4 2315.1,715.4 2318.1,715.4 2321.1,714.4 2324.1,716.0 2327.1,715.3 2330.1,713.0 2333.1,714.2 2336.1,711.9 2339.1,711.2 2342.1,710.9 2345.1,713.5 2348.1,714.1 2351.1,713.9 2354.1,714.9 2357.1,711.0 2360.1,712.2 2363.1,711.9 2366.1,714.5 2369.1,714.5 2372.1,710.5 2375.1,712.4 2378.1,712.7 2381.1,714.0 2384.1,714.0 2387.1,712.0 2390.1,715.1 2393.1,714.8 2396.1,712.9 2399.1,712.3 2402.1,712.0 2405.1,709.6 2408.1,711.9 2411.1,709.8 2414.1,709.6 2417.1,707.7 2420.1,707.5 2423.1,707.2 2426.1,707.5 2429.1,706.4 2432.1,708.4 2435.1,708.5 2438.1,710.3 2441.1,710.9 2444.1,708.4 2447.1,711.5 2450.1,710.1 2453.1,713.0 2456.1,710.0 2459.1,711.4 2462.1,711.6 2465.1,713.2 2468.1,714.9 2471.1,715.9 2474.1,712.7 2477.1,714.6 2480.1,711.5 2483.1,712.5 2486.1,711.6 2489.1,711.3 2492.1,708.7 2495.1,710.7 2498.1,710.2 2501.1,711.5 2504.1,711.1 2507.1,711.0 2510.1,711.5 2513.1,710.0 2516.1,711.1 2519.1,709.5 2522.1,708.1 2525.1,706.3 2528.1,707.9 2531.1,709.1 2534.1,706.7 2537.1,707.3 2540.1,706.6 2543.1,707.6 2546.1,706.0 2549.1,710.6 2552.1,707.3 2555.1,709.5 2558.1,707.2 2561.1,711.5 2564.1,706.8 2567.1,709.6 2570.1,709.0 2573.1,709.1 2576.1,709.7 2579.1,709.9 2582.1,709.6 2585.1,709.8 2588.1,712.7 2591.1,709.2 2594.1,708.3 2597.1,708.0 2600.1,707.3 2603.1,709.0 2606.1,708.4 2609.1,708.5 2612.1,711.8 2615.1,712.9 2618.1,709.5 2621.1,708.3 2624.1,710.3 2627.1,711.9 2630.1,713.5 2633.1,711.5 2636.1,711.6 2639.1,715.3 2642.1,710.6 2645.1,712.0 2648.1,710.1 2651.1,708.2 2654.1,709.3 2657.1,708.0 2660.1,709.5 2663.1,708.4 2666.1,708.5 2669.1,708.5 2672.1,708.9 2675.1,708.8 2678.1,708.7 2681.1,710.0 2684.1,711.5 2687.1,710.6 2690.1,706.9 2693.1,712.4 2696.1,710.6 2699.1,711.7 2702.1,712.5 2705.1,709.2 2708.1,710.5 2711.1,709.6 2714.1,706.1 2717.1,705.5 2720.1,710.7 2723.1,712.4 2726.1,711.5 2729.1,710.3 2732.1,709.9 2735.1,709.7 2738.1,710.1 2741.1,709.0 2744.1,712.0 2747.1,711.2 2750.1,711.3 2753.1,712.5 2756.1,711.8 2759.1,712.1 2762.1,712.1 2765.1,713.6 2768.1,711.2 2771.1,712.2 2774.1,712.6 2777.1,712.7 2780.1,712.2 2783.1,713.1 2786.1,713.3 2789.1,714.0 2792.1,710.5 2795.1,711.9 2798.1,714.7 2801.1,714.1" stroke="#17becf"/>
<polyline points="518.1,713.8 523.1,714.6 528.1,714.7 533.1,715.6 538.1,714.9 543.1,715.1 548.1,714.8 553.1,715.0 558.1,714.2 563.1,715.0 568.1,714.5 573.1,714.4 578.1,713.8 583.1,714.0 588.1,714.2 593.1,714.1 598.1,713.9 603.1,714.3 608.1,714.6 613.1,714.5 618.1,713.7 623.1,713.3 628.1,714.3 633.1,713.6 638.1,713.8 643.1,713.1 648.1,713.7 653.1,713.7 658.1,713.5 663.1,713.9 668.1,713.0 673.1,714.2 678.1,713.7 683.1,714.6 688.1,714.9 693.1,714.9 698.1,714.3 703.1,714.0 708.1,714.0 713.1,715.1 718.1,715.5 723.1,715.0 728.1,715.7 733.1,716.0 738.1,715.3 743.1,715.6 748.1,716.1 753.1,715.3 758.1,715.2 763.1,715.2 768.1,714.1 773.1,714.7 778.1,714.9 783.1,714.8 788.1,715.6 793.1,715.9 798.1,715.3 803.1,714.6 808.1,715.1 813.1,715.1 818.1,713.7 823.1,714.6 828.1,714.4 833.1,714.7 838.1,713.7 843.1,714.0 848.1,713.6 853.1,713.6 858.1,714.4 863.1,713.8 868.1,713.8 873.1,714.0 878.1,713.0 883.1,713.8 888.1,714.8 893.1,714.3 898.1,713.5 903.1,713.2 908.1,714.3 913.1,712.8 918.1,714.1 923.1,713.1 928.1,713.8 933.1,713.8 938.1,713.9 943.1,713.5 948.1,713.0 953.1,713.2 958.1,714.4 963.1,714.0 968.1,714.1 973.1,714.5 978.1,714.0 983.1,714.0 988.1,713.9 993.1,713.5 998.1,713.0 1003.1,713.7 1008.1,713.0 1013.1,713.1 1018.1,713.1 1023.1,713.7 1028.1,713.3 1033.1,713.0 1038.1,712.9 1043.1,714.1 1048.1,713.3 1053.1,713.1 1058.1,713.6 1063.1,713.0 1068.1,713.3 1073.1,713.3 1078.1,713.6 1083.1,713.2 1088.1,712.8 1093.1,713.1 1098.1,712.3 1103.1,711.5 1108.1,711.9 1113.1,711.1 1118.1,712.1 1123.1,711.4 1128.1,712.2 1133.1,712.3 1138.1,711.9 1143.1,712.1 1148.1,711.7 1153.1,711.1 1158.1,711.9 1163.1,712.2 1168.1,711.1 1173.1,711.4 1178.1,711.3 1183.1,711.1 1188.1,710.8 1193.1,710.5 1198.1,711.1 1203.1,711.8 1208.1,711.3 1213.1,711.1 1218.1,711.5 1223.1,711.4 1228.1,712.1 1233.1,711.8 1238.1,711.8 1243.1,711.3 1248.1,710.8 1253.1,711.1 1258.1,711.9 1263.1,711.1 1268.1,711.5 1273.1,711.5 1278.1,711.4 1283.1,712.2 1288.1,711.7 1293.1,711.5 1298.1,711.5 1303.1,712.2 1308.1,711.9 1313.1,712.9 1318.1,712.6 1323.1,712.6 1328.1,712.9 1333.1,712.2 1338.1,712.0 1343.1,713.3 1348.1,712.7 1353.1,713.2 1358.1,712.9 1363.1,713.7 1368.1,712.9 1373.1,712.0 1378.1,712.3 1383.1,712.2 1388.1,712.1 1393.1,711.6 1398.1,713.0 1403.1,712.5 1408.1,712.3 1413.1,712.2 1418.1,713.0 1423.1,712.4 1428.1,712.1 1433.1,712.6 1438.1,712.6 1443.1,712.3 1448.1,712.5 1453.1,713.1 1458.1,713.0 1463.1,712.8 1468.1,712.6 1473.1,713.0 1478.1,712.7 1483.1,713.0 1488.1,713.5 1493.1,713.9 1498.1,714.3 1503.1,713.2 1508.1,713.7 1513.1,713.8 1518.1,713.8 1523.1,712.8 1528.1,713.2 1533.1,713.9 1538.1,712.9 1543.1,713.4 1548.1,714.1 1553.1,713.3 1558.1,714.2 1563.1,713.8 1568.1,712.8 1573.1,712.4 1578.1,712.1 1583.1,712.7 1588.1,713.3 1593.1,712.6 1598.1,712.2 1603.1,711.6 1608.1,712.2 1613.1,711.1 1618.1,711.8 1623.1,712.5 1628.1,712.6 1633.1,712.6 1638.1,712.6 1643.1,712.8 1648.1,712.0 1653.1,711.3 1658.1,711.8 1663.1,712.3 1668.1,711.7 1673.1,711.4 1678.1,711.8 1683.1,712.0 1688.1,712.7 1693.1,712.5 1698.1,711.9 1703.1,712.0 1708.1,711.9 1713.1,713.0 1718.1,712.1 1723.1,712.7 1728.1,713.2 1733.1,712.7 1738.1,712.1 1743.1,711.7 1748.1,713.3 1753.1,714.0 1758.1,712.4 1763.1,714.0 1768.1,715.0 1773.1,715.8 1778.1,716.5 1783.1,716.4 1788.1,716.6 1793.1,716.7 1798.1,716.7 1803.1,716.7 1808.1,716.5 1813.1,716.6 1818.1,716.5 1823.1,716.6 1828.1,716.6 1833.1,716.1 1838.1,716.7 1843.1,716.5 1848.1,716.5 1853.1,716.7 1858.1,716.4 1863.1,716.5 1868.1,716.5 1873.1,716.3 1878.1,716.4 1883.1,716.3 1888.1,716.5 1893.1,716.6 1898.1,716.7 1903.1,716.5 1908.1,716.5 1913.1,716.7 1918.1,716.7 1923.1,716.7 1928.1,716.6 1933.1,716.6 1938.1,716.6 1943.1,716.4 1948.1,716.3 1953.1,716.2 1958.1,716.5 1963.1,716.5 1968.1,716.4 1973.1,716.7 1978.1,716.5 1983.1,716.6 1988.1,716.4 1993.1,716.6 1998.1,716.5 2003.1,716.0 2008.1,716.6 2013.1,715.3 2018.1,716.7 2023.1,715.5 2028.1,716.1 2033.1,716.1 2038.1,716.5 2043.1,716.6 2048.1,716.1 2053.1,715.9 2058.1,716.0 2063.1,716.0 2068.1,715.2 2073.1,715.6 2078.1,715.4 2083.1,716.4 2088.1,715.6 2093.1,716.0 2098.1,715.8 2103.1,716.7 2108.1,716.3 2113.1,716.6 2118.1,716.2 2123.1,715.8 2128.1,715.6 2133.1,715.5 2138.1,716.1 2143.1,715.7 2148.1,716.2 2153.1,716.1 2158.1,716.4 2163.1,716.6 2168.1,716.5 2173.1,716.7 2178.1,716.1 2183.1,716.6 2188.1,716.7 2193.1,716.5 2198.1,716.6 2203.1,716.4 2208.1,716.3 2213.1,715.8 2218.1,716.4 2223.1,715.6 2228.1,715.7 2233.1,715.5 2238.1,715.6 2243.1,716.5 2248.1,716.7 2253.1,716.7 2258.1,716.5 2263.1,716.6 2268.1,715.9 2273.1,716.7 2278.1,716.7 2283.1,716.7 2288.1,716.7 2293.1,715.9 2298.1,716.7 2303.1,716.5 2308.1,716.5 2313.1,716.0 2318.1,715.8 2323.1,716.7 2328.1,715.9 2333.1,716.2 2338.1,715.7 2343.1,715.9 2348.1,716.1 2353.1,716.2 2358.1,716.5 2363.1,716.6 2368.1,716.6 2373.1,716.1 2378.1,716.5 2383.1,715.3 2388.1,716.2 2393.1,715.3 2398.1,715.2 2403.1,715.6 2408.1,716.6 2413.1,716.0 2418.1,716.4 2423.1,715.6 2428.1,715.8 2433.1,716.2 2438.1,716.2 2443.1,715.5 2448.1,715.9 2453.1,715.8 2458.1,715.4 2463.1,716.0 2468.1,715.6 2473.1,715.6 2478.1,716.5 2483.1,715.4 2488.1,715.9 2493.1,714.9 2498.1,716.0 2503.1,715.8 2508.1,715.9 2513.1,715.0 2518.1,714.1 2523.1,716.0 2528.1,716.0 2533.1,715.8 2538.1,715.3 2543.1,715.2 2548.1,715.2 2553.1,714.9 2558.1,715.8 2563.1,715.3 2568.1,715.4 2573.1,715.5 2578.1,716.0 2583.1,715.5 2588.1,716.3 2593.1,715.8 2598.1,716.0 2603.1,714.7 2608.1,715.0 2613.1,715.3 2618.1,714.3 2623.1,716.1 2628.1,715.7 2633.1,716.1 2638.1,715.4 2643.1,716.0 2648.1,715.1 2653.1,714.4 2658.1,715.5 2663.1,715.4 2668.1,715.5 2673.1,715.3 2678.1,715.4 2683.1,714.7 2688.1,715.2 2693.1,714.8 2698.1,715.1 2703.1,714.5 2708.1,715.1 2713.1,715.4 2718.1,715.9 2723.1,715.2 2728.1,715.4 2733.1,716.2 2738.1,716.6 2743.1,716.2 2748.1,716.1 2753.1,716.5 2758.1,716.4 2763.1,716.7 2768.1,716.4 2773.1,716.0 2778.1,716.1 2783.1,716.2 2788.1,716.7 2793.1,716.7 2798.1,716.7" stroke="#1f77b4"/>
<polyline points="518.1,691.8 521.1,689.7 524.1,692.0 527.1,692.2 530.1,695.3 533.1,695.4 536.1,696.0 539.1,705.1 542.1,696.2 545.1,696.5 548.1,696.4 551.1,698.0 554.1,698.4 557.1,704.3 560.1,702.6 563.1,702.0 566.1,710.8 569.1,710.8 572.1,707.8 575.1,709.8 578.1,707.9 581.1,702.1 584.1,705.2 587.1,707.6 590.1,705.4 593.1,709.8 596.1,712.9 599.1,710.5 602.1,712.1 605.1,715.8 608.1,715.2 611.1,709.0 614.1,711.3 617.1,708.4 620.1,706.1 623.1,702.1 626.1,703.6 629.1,707.1 632.1,703.3 635.1,709.5 638.1,709.4 641.1,709.5 644.1,705.2 647.1,704.7 650.1,705.9 653.1,698.9 656.1,699.3 659.1,701.2 662.1,694.3 665.1,700.3 668.1,699.4 671.1,695.4 674.1,691.2 677.1,690.7 680.1,690.4 683.1,692.3 686.1,687.7 689.1,691.9 692.1,692.1 695.1,690.6 698.1,697.2 701.1,692.7 704.1,692.1 707.1,696.8 710.1,693.3 713.1,692.7 716.1,692.6 719.1,696.5 722.1,692.3 725.1,694.7 728.1,697.8 731.1,698.6 734.1,697.8 737.1,701.2 740.1,697.1 743.1,697.0 746.1,696.7 749.1,693.4 752.1,702.5 755.1,698.9 758.1,694.3 761.1,694.5 764.1,703.7 767.1,703.4 770.1,703.1 773.1,703.8 776.1,704.3 779.1,706.8 782.1,703.3 785.1,702.5 788.1,706.9 791.1,704.7 794.1,701.7 797.1,703.8 800.1,704.6 803.1,706.7 806.1,707.3 809.1,707.1 812.1,709.0 815.1,712.2 818.1,713.4 821.1,709.6 824.1,705.3 827.1,703.0 830.1,705.2 833.1,700.0 836.1,701.4 839.1,699.3 842.1,700.0 845.1,700.9 848.1,699.6 851.1,697.9 854.1,701.3 857.1,705.1 860.1,701.4 863.1,696.6 866.1,706.9 869.1,703.3 872.1,708.2 875.1,707.8 878.1,704.6 881.1,707.3 884.1,708.3 887.1,704.8 890.1,701.6 893.1,699.1 896.1,702.4 899.1,704.0 902.1,704.2 905.1,703.3 908.1,701.0 911.1,703.4 914.1,703.8 917.1,703.0 920.1,700.9 923.1,699.1 926.1,705.3 929.1,703.8 932.1,700.7 935.1,700.2 938.1,695.7 941.1,699.7 944.1,698.1 947.1,699.9 950.1,694.5 953.1,696.8 956.1,697.1 959.1,704.0 962.1,697.9 965.1,702.4 968.1,708.8 971.1,706.6 974.1,702.5 977.1,705.3 980.1,706.0 983.1,698.1 986.1,701.9 989.1,700.9 992.1,698.0 995.1,703.9 998.1,705.2 1001.1,696.2 1004.1,700.5 1007.1,696.7 1010.1,689.2 1013.1,693.8 1016.1,696.2 1019.1,688.9 1022.1,689.1 1025.1,693.2 1028.1,697.7 1031.1,689.9 1034.1,695.7 1037.1,699.9 1040.1,705.3 1043.1,704.9 1046.1,704.0 1049.1,705.5 1052.1,700.0 1055.1,696.6 1058.1,701.6 1061.1,704.6 1064.1,701.1 1067.1,697.2 1070.1,700.4 1073.1,697.7 1076.1,696.5 1079.1,698.9 1082.1,701.0 1085.1,700.3 1088.1,705.3 1091.1,704.6 1094.1,704.5 1097.1,707.8 1100.1,707.2 1103.1,705.0 1106.1,706.7 1109.1,709.3 1112.1,709.6 1115.1,704.8 1118.1,706.6 1121.1,701.6 1124.1,700.6 1127.1,702.7 1130.1,703.1 1133.1,704.2 1136.1,704.9 1139.1,704.1 1142.1,702.4 1145.1,702.1 1148.1,698.7 1151.1,695.2 1154.1,698.1 1157.1,700.5 1160.1,700.6 1163.1,698.5 1166.1,699.2 1169.1,701.3 1172.1,706.8 1175.1,705.4 1178.1,701.7 1181.1,704.0 1184.1,695.7 1187.1,701.6 1190.1,699.8 1193.1,699.1 1196.1,702.4 1199.1,695.4 1202.1,699.7 1205.1,699.5 1208.1,699.4 1211.1,699.5 1214.1,699.3 1217.1,699.8 1220.1,695.6 1223.1,696.1 1226.1,697.4 1229.1,695.2 1232.1,694.4 1235.1,695.0 1238.1,695.6 1241.1,700.3 1244.1,698.9 1247.1,699.9 1250.1,700.9 1253.1,700.1 1256.1,703.7 1259.1,701.5 1262.1,707.4 1265.1,703.3 1268.1,705.4 1271.1,703.2 1274.1,710.4 1277.1,715.5 1280.1,708.8 1283.1,709.2 1286.1,709.7 1289.1,698.7 1292.1,695.8 1295.1,706.2 1298.1,699.2 1301.1,700.4 1304.1,697.3 1307.1,697.2 1310.1,699.9 1313.1,696.8 1316.1,690.9 1319.1,690.6 1322.1,695.5 1325.1,696.5 1328.1,690.8 1331.1,697.4 1334.1,701.6 1337.1,694.4 1340.1,695.4 1343.1,694.7 1346.1,694.4 1349.1,695.6 1352.1,699.0 1355.1,699.0 1358.1,696.5 1361.1,690.8 1364.1,696.3 1367.1,695.9 1370.1,698.7 1373.1,700.7 1376.1,704.5 1379.1,703.3 1382.1,709.3 1385.1,698.9 1388.1,706.4 1391.1,700.0 1394.1,698.9 1397.1,704.7 1400.1,708.1 1403.1,708.3 1406.1,700.9 1409.1,704.0 1412.1,701.3 1415.1,699.7 1418.1,704.7 1421.1,695.4 1424.1,696.8 1427.1,698.1 1430.1,693.9 1433.1,700.5 1436.1,698.6 1439.1,698.2 1442.1,702.5 1445.1,701.9 1448.1,703.3 1451.1,701.2 1454.1,699.6 1457.1,702.4 1460.1,703.3 1463.1,705.5 1466.1,704.0 1469.1,703.1 1472.1,704.9 1475.1,701.7 1478.1,700.7 1481.1,705.5 1484.1,700.4 1487.1,703.3 1490.1,706.7 1493.1,704.1 1496.1,701.1 1499.1,703.2 1502.1,697.1 1505.1,695.5 1508.1,697.1 1511.1,701.4 1514.1,700.9 1517.1,702.1 1520.1,703.4 1523.1,698.7 1526.1,701.3 1529.1,708.6 1532.1,709.3 1535.1,710.0 1538.1,702.6 1541.1,700.3 1544.1,695.3 1547.1,699.2 1550.1,701.0 1553.1,697.3 1556.1,695.1 1559.1,692.7 1562.1,696.2 1565.1,696.5 1568.1,698.6 1571.1,697.5 1574.1,704.2 1577.1,696.1 1580.1,700.4 1583.1,702.8 1586.1,702.0 1589.1,704.9 1592.1,706.9 1595.1,708.4 1598.1,704.2 1601.1,705.5 1604.1,702.8 1607.1,707.8 1610.1,714.1 1613.1,705.4 1616.1,702.3 1619.1,704.6 1622.1,703.0 1625.1,710.0 1628.1,709.8 1631.1,709.5 1634.1,702.3 1637.1,703.9 1640.1,713.1 1643.1,709.1 1646.1,706.7 1649.1,705.0 1652.1,704.7 1655.1,701.4 1658.1,701.8 1661.1,705.0 1664.1,705.3 1667.1,707.0 1670.1,701.9 1673.1,699.8 1676.1,702.0 1679.1,700.5 1682.1,696.6 1685.1,700.5 1688.1,699.3 1691.1,700.4 1694.1,698.8 1697.1,698.4 1700.1,700.8 1703.1,702.1 1706.1,704.7 1709.1,705.5 1712.1,704.7 1715.1,707.6 1718.1,705.2 1721.1,706.9 1724.1,708.9 1727.1,712.0 1730.1,704.1 1733.1,703.1 1736.1,700.3 1739.1,698.1 1742.1,700.1 1745.1,700.7 1748.1,702.0 1751.1,698.1 1754.1,698.8 1757.1,698.4 1760.1,695.3 1763.1,697.0 1766.1,700.9 1769.1,695.7 1772.1,698.5 1775.1,703.5 1778.1,706.9 1781.1,708.8 1784.1,710.9 1787.1,712.0 1790.1,713.7 1793.1,708.5 1796.1,711.5 1799.1,712.2 1802.1,710.6 1805.1,714.2 1808.1,713.0 1811.1,711.1 1814.1,703.5 1817.1,708.5 1820.1,712.1 1823.1,712.1 1826.1,708.0 1829.1,706.4 1832.1,710.9 1835.1,709.9 1838.1,706.3 1841.1,706.5 1844.1,704.8 1847.1,708.5 1850.1,700.0 1853.1,702.8 1856.1,706.2 1859.1,703.4 1862.1,701.2 1865.1,698.3 1868.1,699.6 1871.1,697.8 1874.1,698.9 1877.1,695.7 1880.1,696.1 1883.1,697.6 1886.1,694.3 1889.1,702.9 1892.1,702.4 1895.1,705.3 1898.1,700.1 1901.1,702.6 1904.1,697.9 1907.1,703.4 1910.1,703.8 1913.1,702.9 1916.1,701.9 1919.1,702.1 1922.1,702.9 1925.1,699.1 1928.1,700.3 1931.1,703.8 1934.1,698.9 1937.1,700.1 1940.1,694.7 1943.1,695.1 1946.1,697.4 1949.1,695.2 1952.1,694.1 1955.1,697.9 1958.1,697.3 1961.1,700.0 1964.1,699.7 1967.1,699.5 1970.1,700.5 1973.1,701.9 1976.1,700.3 1979.1,693.2 1982.1,691.4 1985.1,689.8 1988.1,693.4 1991.1,691.6 1994.1,693.5 1997.1,689.1 2000.1,698.1 2003.1,701.0 2006.1,690.5 2009.1,693.4 2012.1,688.5 2015.1,696.2 2018.1,691.5 2021.1,693.8 2024.1,690.3 2027.1,686.2 2030.1,688.9 2033.1,694.3 2036.1,692.3 2039.1,684.8 2042.1,685.3 2045.1,687.2 2048.1,684.0 2051.1,685.1 2054.1,687.9 2057.1,683.5 2060.1,684.9 2063.1,692.8 2066.1,692.1 2069.1,690.6 2072.1,690.8 2075.1,689.0 2078.1,686.9 2081.1,690.1 2084.1,692.5 2087.1,689.3 2090.1,687.7 2093.1,686.8 2096.1,682.3 2099.1,683.8 2102.1,687.2 2105.1,683.5 2108.1,686.3 2111.1,687.4 2114.1,680.4 2117.1,688.7 2120.1,688.7 2123.1,689.9 2126.1,691.1 2129.1,689.1 2132.1,689.2 2135.1,695.2 2138.1,690.4 2141.1,691.9 2144.1,684.7 2147.1,686.6 2150.1,683.2 2153.1,681.8 2156.1,683.2 2159.1,684.7 2162.1,686.5 2165.1,681.3 2168.1,681.5 2171.1,680.5 2174.1,680.4 2177.1,679.2 2180.1,682.9 2183.1,682.1 2186.1,684.3 2189.1,681.0 2192.1,683.2 2195.1,686.3 2198.1,688.5 2201.1,688.1 2204.1,687.0 2207.1,686.9 2210.1,689.1 2213.1,690.5 2216.1,689.8 2219.1,694.0 2222.1,689.7 2225.1,687.2 2228.1,692.7 2231.1,692.5 2234.1,695.0 2237.1,698.9 2240.1,701.4 2243.1,700.6 2246.1,706.0 2249.1,706.0 2252.1,701.5 2255.1,704.7 2258.1,698.7 2261.1,698.9 2264.1,695.2 2267.1,696.8 2270.1,700.7 2273.1,699.0 2276.1,699.9 2279.1,697.8 2282.1,697.4 2285.1,698.0 2288.1,695.9 2291.1,695.0 2294.1,701.2 2297.1,695.1 2300.1,696.7 2303.1,697.9 2306.1,695.5 2309.1,696.1 2312.1,694.1 2315.1,699.4 2318.1,699.2 2321.1,696.5 2324.1,694.6 2327.1,697.2 2330.1,692.7 2333.1,696.0 2336.1,694.4 2339.1,690.9 2342.1,696.0 2345.1,693.6 2348.1,692.1 2351.1,690.2 2354.1,689.5 2357.1,684.3 2360.1,692.2 2363.1,691.0 2366.1,692.5 2369.1,693.8 2372.1,690.1 2375.1,689.8 2378.1,688.6 2381.1,694.6 2384.1,694.2 2387.1,693.0 2390.1,695.6 2393.1,700.8 2396.1,695.6 2399.1,698.5 2402.1,693.9 2405.1,694.1 2408.1,695.3 2411.1,698.1 2414.1,698.6 2417.1,702.1 2420.1,696.4 2423.1,696.2 2426.1,700.0 2429.1,703.4 2432.1,699.7 2435.1,696.9 2438.1,698.6 2441.1,701.8 2444.1,697.6 2447.1,697.1 2450.1,702.6 2453.1,698.9 2456.1,700.0 2459.1,702.7 2462.1,702.3 2465.1,699.4 2468.1,702.9 2471.1,698.1 2474.1,696.9 2477.1,694.7 2480.1,696.7 2483.1,690.4 2486.1,693.7 2489.1,690.5 2492.1,697.2 2495.1,693.6 2498.1,694.5 2501.1,692.3 2504.1,690.9 2507.1,694.2 2510.1,694.3 2513.1,697.8 2516.1,695.5 2519.1,694.8 2522.1,694.6 2525.1,693.0 2528.1,701.8 2531.1,698.6 2534.1,704.3 2537.1,698.0 2540.1,696.3 2543.1,696.2 2546.1,698.8 2549.1,692.0 2552.1,694.6 2555.1,697.5 2558.1,689.0 2561.1,691.8 2564.1,692.2 2567.1,691.4 2570.1,693.4 2573.1,692.5 2576.1,698.4 2579.1,703.2 2582.1,705.9 2585.1,703.2 2588.1,707.8 2591.1,700.5 2594.1,704.9 2597.1,702.4 2600.1,708.9 2603.1,701.7 2606.1,701.5 2609.1,694.4 2612.1,698.0 2615.1,693.1 2618.1,697.2 2621.1,702.6 2624.1,695.1 2627.1,695.9 2630.1,699.1 2633.1,691.7 2636.1,692.5 2639.1,695.2 2642.1,697.7 2645.1,699.2 2648.1,698.4 2651.1,696.6 2654.1,701.0 2657.1,693.6 2660.1,699.3 2663.1,695.3 2666.1,691.8 2669.1,696.6 2672.1,701.0 2675.1,696.8 2678.1,698.8 2681.1,693.6 2684.1,692.7 2687.1,693.3 2690.1,693.3 2693.1,701.0 2696.1,702.0 2699.1,697.8 2702.1,698.5 2705.1,695.0 2708.1,695.6 2711.1,690.0 2714.1,688.4 2717.1,690.8 2720.1,694.3 2723.1,697.1 2726.1,698.3 2729.1,695.7 2732.1,696.3 2735.1,699.3 2738.1,701.5 2741.1,701.1 2744.1,701.6 2747.1,702.4 2750.1,704.8 2753.1,700.4 2756.1,707.7 2759.1,701.3 2762.1,703.3 2765.1,701.2 2768.1,703.3 2771.1,701.3 2774.1,700.6 2777.1,698.7 2780.1,693.4 2783.1,692.6 2786.1,698.7 2789.1,700.1 2792.1,701.8 2795.1,703.6 2798.1,706.2 2801.1,705.4" stroke="#ff7f0e"/>
<polyline points="518.1,704.0 521.1,704.7 524.1,705.7 527.1,704.3 530.1,703.9 533.1,703.8 536.1,704.2 539.1,704.2 542.1,705.8 545.1,705.9 548.1,706.0 551.1,706.6 554.1,705.6 557.1,705.8 560.1,706.8 563.1,707.2 566.1,705.8 569.1,707.2 572.1,707.5 575.1,706.5 578.1,706.3 581.1,706.8 584.1,706.9 587.1,706.5 590.1,708.9 593.1,709.9 596.1,708.7 599.1,707.5 602.1,707.3 605.1,705.8 608.1,705.8 611.1,705.8 614.1,704.8 617.1,705.6 620.1,702.5 623.1,703.4 626.1,702.9 629.1,704.2 632.1,704.4 635.1,705.0 638.1,704.6 641.1,705.7 644.1,705.4 647.1,705.9 650.1,704.9 653.1,706.0 656.1,704.2 659.1,703.7 662.1,705.2 665.1,705.3 668.1,706.8 671.1,707.1 674.1,706.3 677.1,706.3 680.1,706.1 683.1,706.0 686.1,705.9 689.1,706.1 692.1,705.5 695.1,705.9 698.1,706.8 701.1,707.0 704.1,707.7 707.1,706.3 710.1,708.5 713.1,706.1 716.1,707.5 719.1,706.9 722.1,707.1 725.1,707.1 728.1,707.7 731.1,708.7 734.1,707.8 737.1,708.3 740.1,706.8 743.1,707.7 746.1,706.9 749.1,707.6 752.1,707.0 755.1,706.2 758.1,706.9 761.1,706.0 764.1,706.7 767.1,707.4 770.1,705.5 773.1,706.6 776.1,706.0 779.1,704.7 782.1,705.6 785.1,704.9 788.1,705.7 791.1,705.9 794.1,704.2 797.1,704.5 800.1,704.0 803.1,704.6 806.1,705.8 809.1,705.7 812.1,704.6 815.1,705.0 818.1,706.0 821.1,705.8 824.1,705.5 827.1,704.5 830.1,703.9 833.1,702.5 836.1,702.1 839.1,704.0 842.1,703.8 845.1,705.6 848.1,703.9 851.1,706.2 854.1,706.2 857.1,707.8 860.1,705.9 863.1,706.5 866.1,706.0 869.1,707.7 872.1,706.0 875.1,705.4 878.1,706.5 881.1,706.8 884.1,706.3 887.1,706.0 890.1,705.3 893.1,704.1 896.1,704.3 899.1,704.7 902.1,706.3 905.1,705.2 908.1,704.7 911.1,706.1 914.1,705.0 917.1,705.2 920.1,706.4 923.1,706.4 926.1,705.8 929.1,707.0 932.1,707.2 935.1,707.9 938.1,709.0 941.1,707.7 944.1,708.3 947.1,708.4 950.1,707.9 953.1,706.4 956.1,705.4 959.1,708.1 962.1,707.6 965.1,707.5 968.1,705.4 971.1,705.7 974.1,705.9 977.1,705.3 980.1,705.6 983.1,704.0 986.1,702.7 989.1,705.4 992.1,704.0 995.1,704.0 998.1,704.8 1001.1,704.5 1004.1,706.0 1007.1,703.8 1010.1,705.7 1013.1,704.9 1016.1,704.4 1019.1,706.1 1022.1,705.4 1025.1,705.7 1028.1,705.3 1031.1,705.3 1034.1,705.6 1037.1,706.8 1040.1,706.8 1043.1,706.8 1046.1,706.8 1049.1,705.1 1052.1,705.6 1055.1,705.8 1058.1,705.5 1061.1,704.9 1064.1,705.6 1067.1,708.1 1070.1,705.8 1073.1,707.1 1076.1,708.3 1079.1,707.8 1082.1,708.3 1085.1,707.4 1088.1,707.2 1091.1,705.3 1094.1,707.6 1097.1,708.5 1100.1,709.0 1103.1,708.9 1106.1,709.0 1109.1,710.2 1112.1,708.6 1115.1,707.4 1118.1,710.5 1121.1,708.9 1124.1,707.7 1127.1,706.7 1130.1,707.9 1133.1,705.4 1136.1,706.4 1139.1,707.3 1142.1,705.3 1145.1,705.6 1148.1,707.5 1151.1,706.4 1154.1,706.8 1157.1,706.0 1160.1,706.4 1163.1,706.7 1166.1,705.7 1169.1,704.8 1172.1,705.8 1175.1,705.4 1178.1,706.3 1181.1,704.5 1184.1,707.2 1187.1,705.2 1190.1,705.7 1193.1,705.9 1196.1,706.4 1199.1,707.7 1202.1,707.2 1205.1,708.3 1208.1,705.6 1211.1,707.3 1214.1,706.9 1217.1,706.2 1220.1,708.3 1223.1,708.7 1226.1,707.7 1229.1,706.7 1232.1,707.9 1235.1,707.7 1238.1,706.4 1241.1,707.1 1244.1,707.4 1247.1,707.9 1250.1,706.9 1253.1,708.8 1256.1,708.0 1259.1,708.1 1262.1,707.9 1265.1,708.9 1268.1,707.2 1271.1,707.8 1274.1,708.9 1277.1,708.3 1280.1,708.0 1283.1,709.1 1286.1,708.2 1289.1,708.7 1292.1,709.3 1295.1,707.5 1298.1,708.3 1301.1,710.4 1304.1,709.6 1307.1,709.1 1310.1,709.8 1313.1,707.9 1316.1,708.9 1319.1,708.9 1322.1,707.6 1325.1,707.4 1328.1,708.5 1331.1,710.0 1334.1,709.1 1337.1,709.4 1340.1,707.6 1343.1,707.5 1346.1,709.4 1349.1,708.2 1352.1,709.7 1355.1,709.4 1358.1,708.2 1361.1,708.3 1364.1,708.7 1367.1,707.3 1370.1,707.6 1373.1,706.6 1376.1,706.2 1379.1,705.4 1382.1,707.2 1385.1,706.8 1388.1,706.7 1391.1,708.1 1394.1,705.6 1397.1,707.7 1400.1,706.9 1403.1,708.1 1406.1,707.4 1409.1,707.7 1412.1,707.6 1415.1,707.2 1418.1,707.7 1421.1,707.5 1424.1,706.5 1427.1,707.1 1430.1,707.5 1433.1,708.0 1436.1,707.8 1439.1,706.3 1442.1,706.4 1445.1,707.0 1448.1,707.9 1451.1,707.2 1454.1,708.0 1457.1,708.0 1460.1,707.1 1463.1,706.4 1466.1,707.5 1469.1,706.6 1472.1,709.2 1475.1,707.6 1478.1,707.3 1481.1,707.1 1484.1,706.2 1487.1,706.5 1490.1,705.8 1493.1,706.9 1496.1,705.5 1499.1,705.0 1502.1,705.9 1505.1,705.0 1508.1,705.5 1511.1,705.7 1514.1,706.5 1517.1,707.6 1520.1,706.9 1523.1,706.1 1526.1,706.1 1529.1,707.1 1532.1,706.1 1535.1,707.7 1538.1,707.6 1541.1,707.4 1544.1,707.6 1547.1,708.2 1550.1,708.8 1553.1,707.1 1556.1,710.2 1559.1,709.1 1562.1,708.4 1565.1,707.5 1568.1,707.2 1571.1,707.3 1574.1,707.7 1577.1,706.4 1580.1,706.7 1583.1,705.7 1586.1,706.8 1589.1,704.9 1592.1,705.7 1595.1,707.0 1598.1,709.2 1601.1,708.9 1604.1,708.4 1607.1,708.8 1610.1,706.6 1613.1,705.2 1616.1,705.8 1619.1,704.9 1622.1,707.6 1625.1,708.3 1628.1,706.7 1631.1,707.7 1634.1,708.2 1637.1,707.7 1640.1,708.2 1643.1,708.3 1646.1,707.8 1649.1,707.4 1652.1,708.6 1655.1,709.1 1658.1,707.6 1661.1,707.7 1664.1,707.9 1667.1,707.5 1670.1,707.5 1673.1,707.4 1676.1,708.2 1679.1,708.0 1682.1,707.2 1685.1,706.4 1688.1,706.9 1691.1,705.1 1694.1,704.2 1697.1,705.5 1700.1,706.7 1703.1,707.3 1706.1,706.0 1709.1,705.8 1712.1,706.3 1715.1,707.9 1718.1,706.7 1721.1,707.2 1724.1,705.9 1727.1,709.3 1730.1,706.6 1733.1,706.5 1736.1,706.5 1739.1,708.2 1742.1,707.8 1745.1,708.2 1748.1,708.9 1751.1,707.8 1754.1,708.3 1757.1,707.2 1760.1,708.3 1763.1,707.7 1766.1,708.6 1769.1,707.0 1772.1,706.9 1775.1,706.8 1778.1,707.3 1781.1,706.7 1784.1,706.3 1787.1,705.6 1790.1,707.1 1793.1,706.7 1796.1,708.4 1799.1,707.4 1802.1,706.6 1805.1,708.2 1808.1,708.4 1811.1,709.0 1814.1,708.6 1817.1,710.6 1820.1,709.3 1823.1,710.9 1826.1,710.1 1829.1,709.4 1832.1,709.2 1835.1,712.2 1838.1,710.9 1841.1,710.3 1844.1,711.3 1847.1,710.2 1850.1,709.5 1853.1,710.5 1856.1,711.7 1859.1,710.4 1862.1,711.3 1865.1,711.2 1868.1,712.8 1871.1,709.9 1874.1,710.2 1877.1,710.6 1880.1,710.1 1883.1,709.5 1886.1,709.3 1889.1,709.7 1892.1,709.3 1895.1,708.4 1898.1,708.7 1901.1,707.2 1904.1,708.5 1907.1,708.4 1910.1,709.9 1913.1,710.0 1916.1,709.2 1919.1,707.8 1922.1,708.8 1925.1,709.4 1928.1,709.7 1931.1,707.8 1934.1,707.5 1937.1,706.0 1940.1,709.3 1943.1,708.1 1946.1,708.8 1949.1,706.9 1952.1,708.2 1955.1,707.6 1958.1,707.5 1961.1,707.9 1964.1,708.9 1967.1,708.8 1970.1,708.7 1973.1,709.3 1976.1,708.5 1979.1,707.4 1982.1,707.0 1985.1,709.2 1988.1,709.2 1991.1,709.0 1994.1,710.6 1997.1,710.2 2000.1,710.7 2003.1,711.0 2006.1,712.5 2009.1,711.6 2012.1,710.3 2015.1,709.2 2018.1,709.4 2021.1,709.0 2024.1,709.0 2027.1,707.5 2030.1,709.3 2033.1,708.4 2036.1,708.1 2039.1,708.7 2042.1,707.3 2045.1,707.7 2048.1,708.5 2051.1,708.7 2054.1,708.2 2057.1,708.4 2060.1,706.1 2063.1,707.7 2066.1,709.1 2069.1,708.7 2072.1,708.1 2075.1,710.2 2078.1,711.8 2081.1,710.7 2084.1,710.9 2087.1,710.2 2090.1,710.8 2093.1,708.2 2096.1,708.7 2099.1,709.8 2102.1,711.7 2105.1,711.6 2108.1,712.7 2111.1,711.3 2114.1,711.9 2117.1,713.9 2120.1,713.0 2123.1,711.7 2126.1,712.6 2129.1,711.4 2132.1,711.3 2135.1,713.0 2138.1,713.5 2141.1,713.6 2144.1,712.0 2147.1,711.9 2150.1,711.4 2153.1,711.8 2156.1,711.5 2159.1,712.1 2162.1,710.9 2165.1,710.8 2168.1,711.0 2171.1,709.9 2174.1,711.1 2177.1,712.3 2180.1,711.5 2183.1,710.6 2186.1,709.5 2189.1,711.9 2192.1,709.6 2195.1,710.1 2198.1,710.0 2201.1,708.9 2204.1,711.3 2207.1,709.7 2210.1,709.0 2213.1,707.8 2216.1,709.1 2219.1,708.3 2222.1,709.5 2225.1,710.4 2228.1,709.4 2231.1,709.7 2234.1,708.6 2237.1,708.8 2240.1,710.3 2243.1,711.1 2246.1,709.9 2249.1,708.7 2252.1,709.2 2255.1,707.7 2258.1,707.5 2261.1,708.7 2264.1,708.4 2267.1,707.6 2270.1,707.3 2273.1,707.6 2276.1,708.6 2279.1,708.6 2282.1,708.3 2285.1,707.9 2288.1,708.8 2291.1,708.2 2294.1,709.6 2297.1,710.0 2300.1,710.7 2303.1,708.4 2306.1,709.4 2309.1,711.1 2312.1,710.6 2315.1,711.6 2318.1,710.9 2321.1,709.5 2324.1,711.4 2327.1,711.9 2330.1,709.3 2333.1,711.3 2336.1,711.9 2339.1,712.1 2342.1,710.0 2345.1,710.6 2348.1,711.4 2351.1,711.3 2354.1,713.0 2357.1,711.7 2360.1,712.6 2363.1,710.6 2366.1,711.7 2369.1,710.0 2372.1,710.4 2375.1,708.8 2378.1,709.6 2381.1,709.6 2384.1,708.6 2387.1,710.5 2390.1,709.0 2393.1,708.9 2396.1,709.0 2399.1,708.7 2402.1,709.7 2405.1,708.6 2408.1,707.9 2411.1,708.3 2414.1,710.3 2417.1,710.0 2420.1,709.4 2423.1,709.1 2426.1,709.4 2429.1,708.9 2432.1,708.9 2435.1,708.9 2438.1,709.8 2441.1,708.8 2444.1,708.3 2447.1,709.9 2450.1,707.1 2453.1,708.4 2456.1,709.0 2459.1,708.9 2462.1,708.6 2465.1,708.7 2468.1,709.3 2471.1,711.1 2474.1,711.1 2477.1,710.7 2480.1,711.1 2483.1,710.7 2486.1,709.5 2489.1,708.9 2492.1,711.4 2495.1,711.5 2498.1,710.5 2501.1,711.9 2504.1,711.1 2507.1,708.3 2510.1,710.7 2513.1,710.2 2516.1,710.9 2519.1,711.0 2522.1,709.4 2525.1,710.1 2528.1,709.5 2531.1,710.0 2534.1,710.6 2537.1,711.7 2540.1,711.2 2543.1,710.2 2546.1,710.8 2549.1,711.4 2552.1,711.0 2555.1,711.2 2558.1,711.0 2561.1,711.0 2564.1,709.5 2567.1,710.6 2570.1,709.1 2573.1,709.0 2576.1,710.4 2579.1,710.7 2582.1,710.1 2585.1,709.9 2588.1,710.8 2591.1,711.3 2594.1,711.8 2597.1,711.4 2600.1,711.0 2603.1,711.6 2606.1,708.7 2609.1,710.8 2612.1,710.4 2615.1,710.1 2618.1,709.6 2621.1,710.3 2624.1,711.1 2627.1,710.7 2630.1,709.6 2633.1,708.7 2636.1,708.9 2639.1,706.8 2642.1,706.8 2645.1,707.2 2648.1,706.6 2651.1,705.3 2654.1,704.5 2657.1,704.9 2660.1,706.4 2663.1,706.6 2666.1,706.4 2669.1,707.5 2672.1,706.9 2675.1,705.8 2678.1,706.3 2681.1,707.2 2684.1,706.6 2687.1,707.5 2690.1,706.8 2693.1,707.3 2696.1,707.5 2699.1,709.7 2702.1,708.4 2705.1,707.5 2708.1,707.6 2711.1,709.1 2714.1,708.2 2717.1,708.1 2720.1,708.9 2723.1,708.9 2726.1,708.1 2729.1,707.6 2732.1,708.6 2735.1,708.7 2738.1,707.6 2741.1,707.1 2744.1,709.5 2747.1,707.2 2750.1,708.5 2753.1,709.3 2756.1,708.4 2759.1,710.5 2762.1,709.5 2765.1,709.2 2768.1,710.7 2771.1,707.3 2774.1,708.3 2777.1,710.3 2780.1,708.4 2783.1,709.5 2786.1,708.5 2789.1,709.2 2792.1,708.2 2795.1,708.7 2798.1,706.9 2801.1,706.9" stroke="#2ca02c"/>
<polyline points="518.1,708.8 521.1,709.2 524.1,708.6 527.1,708.6 530.1,708.5 533.1,708.7 536.1,708.2 539.1,706.7 542.1,708.9 545.1,708.2 548.1,707.3 551.1,709.8 554.1,708.5 557.1,709.7 560.1,709.5 563.1,709.6 566.1,709.1 569.1,709.3 572.1,708.9 575.1,708.5 578.1,708.4 581.1,709.4 584.1,708.2 587.1,708.9 590.1,707.7 593.1,707.3 596.1,708.7 599.1,708.4 602.1,708.6 605.1,709.6 608.1,708.9 611.1,709.3 614.1,709.9 617.1,709.1 620.1,710.2 623.1,708.6 626.1,708.2 629.1,707.8 632.1,708.0 635.1,709.0 638.1,706.9 641.1,706.4 644.1,706.7 647.1,709.4 650.1,708.2 653.1,708.9 656.1,709.0 659.1,710.0 662.1,709.6 665.1,710.1 668.1,709.3 671.1,709.0 674.1,708.6 677.1,708.4 680.1,709.1 683.1,707.9 686.1,705.8 689.1,707.2 692.1,708.5 695.1,707.3 698.1,706.6 701.1,706.7 704.1,705.6 707.1,707.6 710.1,706.5 713.1,706.4 716.1,705.5 719.1,706.8 722.1,706.8 725.1,706.1 728.1,706.2 731.1,706.7 734.1,706.2 737.1,704.8 740.1,706.2 743.1,705.2 746.1,707.0 749.1,706.8 752.1,707.6 755.1,705.6 758.1,707.1 761.1,706.0 764.1,706.3 767.1,706.3 770.1,705.7 773.1,705.3 776.1,706.9 779.1,708.1 782.1,706.7 785.1,706.9 788.1,707.0 791.1,707.7 794.1,706.9 797.1,706.5 800.1,707.3 803.1,706.9 806.1,706.9 809.1,707.1 812.1,708.3 815.1,708.1 818.1,706.7 821.1,708.1 824.1,706.2 827.1,706.7 830.1,707.4 833.1,707.8 836.1,706.5 839.1,707.3 842.1,706.1 845.1,706.9 848.1,707.2 851.1,708.0 854.1,707.9 857.1,706.9 860.1,708.6 863.1,707.3 866.1,708.1 869.1,709.0 872.1,710.7 875.1,710.3 878.1,709.6 881.1,711.2 884.1,711.3 887.1,709.8 890.1,710.7 893.1,710.7 896.1,711.7 899.1,709.9 902.1,712.1 905.1,711.3 908.1,713.0 911.1,712.1 914.1,712.5 917.1,712.2 920.1,711.2 923.1,711.5 926.1,710.9 929.1,711.2 932.1,711.2 935.1,711.1 938.1,710.5 941.1,711.0 944.1,711.2 947.1,710.4 950.1,710.8 953.1,709.4 956.1,710.3 959.1,711.9 962.1,712.7 965.1,709.5 968.1,711.6 971.1,712.2 974.1,710.2 977.1,711.6 980.1,711.9 983.1,710.8 986.1,710.7 989.1,710.1 992.1,710.1 995.1,710.8 998.1,710.3 1001.1,709.2 1004.1,711.1 1007.1,709.9 1010.1,711.6 1013.1,709.0 1016.1,708.5 1019.1,709.3 1022.1,708.3 1025.1,706.9 1028.1,708.5 1031.1,707.3 1034.1,706.7 1037.1,706.8 1040.1,709.1 1043.1,708.1 1046.1,708.6 1049.1,708.4 1052.1,708.4 1055.1,706.3 1058.1,706.2 1061.1,709.2 1064.1,710.5 1067.1,709.2 1070.1,709.8 1073.1,710.4 1076.1,710.0 1079.1,710.2 1082.1,709.1 1085.1,709.4 1088.1,709.2 1091.1,709.9 1094.1,709.5 1097.1,708.6 1100.1,707.2 1103.1,707.1 1106.1,708.0 1109.1,706.3 1112.1,708.1 1115.1,706.8 1118.1,707.2 1121.1,707.0 1124.1,706.4 1127.1,707.9 1130.1,706.1 1133.1,706.9 1136.1,708.7 1139.1,708.0 1142.1,708.8 1145.1,708.7 1148.1,707.2 1151.1,709.5 1154.1,709.7 1157.1,708.5 1160.1,709.2 1163.1,709.5 1166.1,708.6 1169.1,707.3 1172.1,708.8 1175.1,709.5 1178.1,709.0 1181.1,710.5 1184.1,709.5 1187.1,708.3 1190.1,708.3 1193.1,708.8 1196.1,708.3 1199.1,708.6 1202.1,708.8 1205.1,708.6 1208.1,711.0 1211.1,709.3 1214.1,710.2 1217.1,710.5 1220.1,712.6 1223.1,710.4 1226.1,712.1 1229.1,711.2 1232.1,709.8 1235.1,709.8 1238.1,710.3 1241.1,711.3 1244.1,709.9 1247.1,709.9 1250.1,710.1 1253.1,709.0 1256.1,708.9 1259.1,707.2 1262.1,708.0 1265.1,706.5 1268.1,710.1 1271.1,709.2 1274.1,709.0 1277.1,709.3 1280.1,708.0 1283.1,707.0 1286.1,707.7 1289.1,710.6 1292.1,707.8 1295.1,707.1 1298.1,707.0 1301.1,706.9 1304.1,706.8 1307.1,706.3 1310.1,709.0 1313.1,708.4 1316.1,706.5 1319.1,707.8 1322.1,707.5 1325.1,707.5 1328.1,708.8 1331.1,707.3 1334.1,706.7 1337.1,708.5 1340.1,708.1 1343.1,709.5 1346.1,708.2 1349.1,707.9 1352.1,709.0 1355.1,709.8 1358.1,709.2 1361.1,709.8 1364.1,709.0 1367.1,710.4 1370.1,708.9 1373.1,711.8 1376.1,710.4 1379.1,709.7 1382.1,710.6 1385.1,710.7 1388.1,711.0 1391.1,711.2 1394.1,712.1 1397.1,711.0 1400.1,710.5 1403.1,711.1 1406.1,710.0 1409.1,708.7 1412.1,710.8 1415.1,710.4 1418.1,710.7 1421.1,710.8 1424.1,710.2 1427.1,710.9 1430.1,711.6 1433.1,710.8 1436.1,713.4 1439.1,712.5 1442.1,711.7 1445.1,713.0 1448.1,712.7 1451.1,712.4 1454.1,712.3 1457.1,711.2 1460.1,712.2 1463.1,709.7 1466.1,710.1 1469.1,709.4 1472.1,710.2 1475.1,709.4 1478.1,710.7 1481.1,709.9 1484.1,709.7 1487.1,709.8 1490.1,709.0 1493.1,709.0 1496.1,709.4 1499.1,707.6 1502.1,707.2 1505.1,707.6 1508.1,708.1 1511.1,707.2 1514.1,706.6 1517.1,706.1 1520.1,705.9 1523.1,706.9 1526.1,705.9 1529.1,707.9 1532.1,708.1 1535.1,708.5 1538.1,708.6 1541.1,707.3 1544.1,707.9 1547.1,707.8 1550.1,707.5 1553.1,706.2 1556.1,705.7 1559.1,707.7 1562.1,707.3 1565.1,708.8 1568.1,708.7 1571.1,709.3 1574.1,709.8 1577.1,710.9 1580.1,711.1 1583.1,710.3 1586.1,711.9 1589.1,710.5 1592.1,710.3 1595.1,710.3 1598.1,709.9 1601.1,710.1 1604.1,711.5 1607.1,711.1 1610.1,709.6 1613.1,710.3 1616.1,710.4 1619.1,709.1 1622.1,708.3 1625.1,709.1 1628.1,707.2 1631.1,709.1 1634.1,710.0 1637.1,710.1 1640.1,710.6 1643.1,710.2 1646.1,709.6 1649.1,710.6 1652.1,709.3 1655.1,709.0 1658.1,709.3 1661.1,710.2 1664.1,710.7 1667.1,711.2 1670.1,711.5 1673.1,711.6 1676.1,711.2 1679.1,710.2 1682.1,712.0 1685.1,710.8 1688.1,712.2 1691.1,711.1 1694.1,709.9 1697.1,710.8 1700.1,710.1 1703.1,709.7 1706.1,710.2 1709.1,711.7 1712.1,710.1 1715.1,709.2 1718.1,710.9 1721.1,709.8 1724.1,711.2 1727.1,711.2 1730.1,712.0 1733.1,710.6 1736.1,710.5 1739.1,711.3 1742.1,711.1 1745.1,709.7 1748.1,709.2 1751.1,711.5 1754.1,710.3 1757.1,711.5 1760.1,709.4 1763.1,708.8 1766.1,710.7 1769.1,709.5 1772.1,709.6 1775.1,709.9 1778.1,710.2 1781.1,708.3 1784.1,708.7 1787.1,707.1 1790.1,708.1 1793.1,708.6 1796.1,708.4 1799.1,708.0 1802.1,708.8 1805.1,710.0 1808.1,709.9 1811.1,710.3 1814.1,709.7 1817.1,710.1 1820.1,709.0 1823.1,708.9 1826.1,711.1 1829.1,710.4 1832.1,710.6 1835.1,710.1 1838.1,710.6 1841.1,711.8 1844.1,710.5 1847.1,710.0 1850.1,710.8 1853.1,711.3 1856.1,710.7 1859.1,711.2 1862.1,710.9 1865.1,711.1 1868.1,709.4 1871.1,708.7 1874.1,709.7 1877.1,709.4 1880.1,709.6 1883.1,710.3 1886.1,709.3 1889.1,711.2 1892.1,709.4 1895.1,711.2 1898.1,712.2 1901.1,710.0 1904.1,709.9 1907.1,711.7 1910.1,709.2 1913.1,710.9 1916.1,710.6 1919.1,711.1 1922.1,711.8 1925.1,712.2 1928.1,709.6 1931.1,711.4 1934.1,711.2 1937.1,711.2 1940.1,710.7 1943.1,711.4 1946.1,711.5 1949.1,709.8 1952.1,708.2 1955.1,709.3 1958.1,708.3 1961.1,710.0 1964.1,709.8 1967.1,710.0 1970.1,711.1 1973.1,709.8 1976.1,712.5 1979.1,711.9 1982.1,710.9 1985.1,712.7 1988.1,711.5 1991.1,711.4 1994.1,711.2 1997.1,711.0 2000.1,712.8 2003.1,711.1 2006.1,710.9 2009.1,710.7 2012.1,712.2 2015.1,710.6 2018.1,712.1 2021.1,710.9 2024.1,711.8 2027.1,711.9 2030.1,711.7 2033.1,711.4 2036.1,711.7 2039.1,712.7 2042.1,711.2 2045.1,712.2 2048.1,711.4 2051.1,711.6 2054.1,712.2 2057.1,713.7 2060.1,714.9 2063.1,713.3 2066.1,712.6 2069.1,711.9 2072.1,711.2 2075.1,713.0 2078.1,711.6 2081.1,712.0 2084.1,712.5 2087.1,713.9 2090.1,711.3 2093.1,713.0 2096.1,712.8 2099.1,711.7 2102.1,712.9 2105.1,713.5 2108.1,713.6 2111.1,713.0 2114.1,713.6 2117.1,712.3 2120.1,711.5 2123.1,710.9 2126.1,710.4 2129.1,711.0 2132.1,710.1 2135.1,708.9 2138.1,708.6 2141.1,709.3 2144.1,710.6 2147.1,710.6 2150.1,709.3 2153.1,711.1 2156.1,710.9 2159.1,712.3 2162.1,712.7 2165.1,712.7 2168.1,711.1 2171.1,713.9 2174.1,712.4 2177.1,713.4 2180.1,712.2 2183.1,712.8 2186.1,713.4 2189.1,714.8 2192.1,712.7 2195.1,712.7 2198.1,714.0 2201.1,714.0 2204.1,713.8 2207.1,713.4 2210.1,712.2 2213.1,711.7 2216.1,710.4 2219.1,710.3 2222.1,711.3 2225.1,711.1 2228.1,711.4 2231.1,712.0 2234.1,711.1 2237.1,711.5 2240.1,712.9 2243.1,713.0 2246.1,714.0 2249.1,712.0 2252.1,712.9 2255.1,712.3 2258.1,712.2 2261.1,713.5 2264.1,714.4 2267.1,711.0 2270.1,713.5 2273.1,713.5 2276.1,712.3 2279.1,711.6 2282.1,711.4 2285.1,712.0 2288.1,711.0 2291.1,710.6 2294.1,711.0 2297.1,711.5 2300.1,712.4 2303.1,711.5 2306.1,713.1 2309.1,711.3 2312.1,708.8 2315.1,709.3 2318.1,709.9 2321.1,710.5 2324.1,711.1 2327.1,708.7 2330.1,711.6 2333.1,713.8 2336.1,713.1 2339.1,710.8 2342.1,712.5 2345.1,711.7 2348.1,712.4 2351.1,710.4 2354.1,710.5 2357.1,710.4 2360.1,710.5 2363.1,712.5 2366.1,712.7 2369.1,713.6 2372.1,714.2 2375.1,712.6 2378.1,713.5 2381.1,712.3 2384.1,713.3 2387.1,713.6 2390.1,714.9 2393.1,713.0 2396.1,714.1 2399.1,712.6 2402.1,714.8 2405.1,712.6 2408.1,711.7 2411.1,711.8 2414.1,712.7 2417.1,712.7 2420.1,711.2 2423.1,711.8 2426.1,713.0 2429.1,712.9 2432.1,711.4 2435.1,711.4 2438.1,710.8 2441.1,712.2 2444.1,712.1 2447.1,713.9 2450.1,714.1 2453.1,713.6 2456.1,713.4 2459.1,714.5 2462.1,713.4 2465.1,714.6 2468.1,716.1 2471.1,714.3 2474.1,715.0 2477.1,715.9 2480.1,715.9 2483.1,715.1 2486.1,715.6 2489.1,716.5 2492.1,716.7 2495.1,715.0 2498.1,714.8 2501.1,713.7 2504.1,714.5 2507.1,714.9 2510.1,712.7 2513.1,711.1 2516.1,712.8 2519.1,712.9 2522.1,712.8 2525.1,711.6 2528.1,712.0 2531.1,709.8 2534.1,710.3 2537.1,710.9 2540.1,710.9 2543.1,710.8 2546.1,712.1 2549.1,713.0 2552.1,711.5 2555.1,712.5 2558.1,711.6 2561.1,710.9 2564.1,712.8 2567.1,711.6 2570.1,712.3 2573.1,713.1 2576.1,712.9 2579.1,712.2 2582.1,712.2 2585.1,711.3 2588.1,712.3 2591.1,711.8 2594.1,711.8 2597.1,711.4 2600.1,711.9 2603.1,711.2 2606.1,713.0 2609.1,710.7 2612.1,711.5 2615.1,710.0 2618.1,709.3 2621.1,709.3 2624.1,708.4 2627.1,709.2 2630.1,711.5 2633.1,711.3 2636.1,713.7 2639.1,712.3 2642.1,711.7 2645.1,712.7 2648.1,711.6 2651.1,712.0 2654.1,712.6 2657.1,711.7 2660.1,710.6 2663.1,710.2 2666.1,712.5 2669.1,711.0 2672.1,712.6 2675.1,712.3 2678.1,713.4 2681.1,712.4 2684.1,710.9 2687.1,712.6 2690.1,712.5 2693.1,712.1 2696.1,714.2 2699.1,712.1 2702.1,712.1 2705.1,712.8 2708.1,712.4 2711.1,712.9 2714.1,712.9 2717.1,715.1 2720.1,714.7 2723.1,714.3 2726.1,714.0 2729.1,713.1 2732.1,712.3 2735.1,712.3 2738.1,712.3 2741.1,714.8 2744.1,714.0 2747.1,713.9 2750.1,713.2 2753.1,712.8 2756.1,713.2 2759.1,713.4 2762.1,713.1 2765.1,712.2 2768.1,713.9 2771.1,712.9 2774.1,711.7 2777.1,711.7 2780.1,709.5 2783.1,709.2 2786.1,709.0 2789.1,711.4 2792.1,711.3 2795.1,710.6 2798.1,710.5 2801.1,710.1" stroke="#d62728"/>
<polyline points="517.9,688.0 521.1,686.0 524.8,684.7 528.6,687.2 532.3,686.0 536.0,684.7 539.8,686.0 543.5,688.4 547.2,682.2 550.9,682.2 554.7,683.5 559.6,681.5 563.4,679.8 567.1,684.7 570.8,688.4 574.5,690.9 578.3,693.4 582.0,694.7 585.7,695.9 589.4,694.7 593.2,688.4 596.9,687.2 600.6,688.4 604.3,687.2 608.1,686.0 611.8,683.5 615.5,682.2 619.3,681.0 623.0,678.5 625.5,676.0 629.2,678.5 632.9,679.8 636.6,679.8 640.4,678.5 644.1,677.3 647.8,679.8 651.6,681.0 655.3,679.8 659.0,682.2 662.7,681.0 666.5,683.5 670.2,682.2 673.9,684.7 677.6,682.2 681.4,681.0 683.9,679.8 686.3,683.5 690.1,684.7 693.8,682.2 697.5,684.7 701.2,682.2 705.0,683.5 707.5,681.5 711.2,684.7 714.9,683.5 718.6,684.7 722.4,683.5 726.1,684.7 729.8,687.2 733.5,688.4 737.3,686.0 741.0,687.2 744.7,684.7 748.4,686.0 752.2,683.5 755.9,684.7 759.6,683.0 763.4,686.0 767.1,684.7 770.8,687.2 774.5,688.4 778.3,686.0 782.0,688.4 785.7,687.2 789.4,689.7 793.2,688.4 796.9,688.4 800.6,687.2 804.3,686.0 808.1,686.5 811.8,684.7 815.5,687.2 819.3,684.7 823.0,686.0 826.7,684.7 830.4,687.2 834.2,684.7 837.9,686.0 841.6,684.7 845.3,687.2 849.1,686.0 852.8,687.2 856.5,686.0 860.2,688.0 864.0,686.0 867.7,688.4 871.4,686.0 875.2,684.7 878.9,682.2 882.6,684.7 886.3,683.5 890.1,682.2 893.8,683.5 897.5,684.7 902.5,687.2 907.5,688.4 912.4,689.7 914.9,684.7 917.4,681.0 919.9,679.8 923.6,684.7 927.3,682.2 931.1,681.0 934.8,682.2 938.5,681.0 942.2,682.2 946.0,679.8 949.7,682.2 953.4,679.8 957.1,676.0 959.6,678.5 962.1,673.5 964.6,679.8 968.3,681.0 972.0,680.5 975.8,679.8 979.5,681.0 983.2,678.5 987.0,681.0 990.7,682.2 994.4,688.4 998.1,686.0 1001.9,682.2 1005.6,681.0 1009.3,682.2 1013.0,681.0 1016.8,682.2 1020.5,684.7 1024.2,686.0 1028.0,684.7 1031.7,683.5 1035.4,682.2 1039.1,683.5 1042.9,682.2 1046.6,681.0 1050.3,683.0 1054.0,684.7 1057.8,683.5 1061.5,684.7 1065.2,682.2 1068.9,679.8 1072.7,678.5 1076.4,677.3 1080.1,678.5 1083.9,679.8 1087.6,677.3 1091.3,679.8 1095.0,681.0 1098.8,682.2 1102.5,681.0 1106.2,682.2 1109.9,683.5 1113.7,682.2 1117.4,684.7 1121.1,682.2 1124.8,679.8 1128.6,677.3 1132.3,673.5 1136.0,672.3 1139.3,674.8 1140.0,677.9 1143.1,678.0 1146.2,679.2 1149.3,679.5 1152.4,679.6 1155.5,682.8 1158.6,682.7 1161.7,680.3 1164.8,681.3 1168.0,681.0 1171.1,681.9 1174.2,683.9 1177.3,685.8 1180.4,685.1 1183.5,681.5 1186.6,682.2 1189.7,681.1 1192.8,679.2 1195.9,677.9 1199.0,678.6 1202.1,680.4 1205.2,680.5 1208.3,681.9 1211.4,682.8 1214.5,685.5 1217.6,683.6 1220.7,680.3 1223.9,677.8 1227.0,675.5 1230.1,675.3 1233.2,675.6 1236.3,675.7 1239.4,674.9 1242.5,673.4 1245.6,671.7 1248.7,672.5 1251.8,673.0 1254.9,675.8 1258.0,676.5 1261.1,674.9 1264.2,674.0 1267.3,673.9 1270.4,673.9 1273.5,673.9 1276.6,673.6 1279.8,674.0 1282.9,673.4 1286.0,672.4 1289.1,671.3 1292.2,670.7 1295.3,669.1 1298.4,669.3 1301.5,668.8 1304.6,671.8 1307.7,670.9 1310.8,672.4 1313.9,674.1 1317.0,675.2 1320.1,676.4 1323.2,675.2 1326.3,673.3 1329.4,676.1 1332.5,674.1 1335.7,673.3 1338.8,675.8 1341.9,677.0 1345.0,679.7 1348.1,677.1 1351.2,677.5 1354.3,678.3 1357.4,678.2 1360.5,679.7 1363.6,680.9 1366.7,678.8 1369.8,678.1 1372.9,679.3 1376.0,680.4 1379.1,681.4 1382.2,681.4 1385.3,684.8 1388.4,686.3 1391.6,682.9 1394.7,682.3 1397.8,683.9 1400.9,681.9 1404.0,681.7 1407.1,679.8 1410.2,680.6 1413.3,683.0 1416.4,683.1 1419.5,684.0 1422.6,683.6 1425.7,682.0 1428.8,684.4 1431.9,685.0 1435.0,686.5 1438.1,684.5 1441.2,682.3 1444.3,680.2 1447.5,680.6 1450.6,678.8 1453.7,682.5 1456.8,681.8 1459.9,679.9 1463.0,682.2 1466.1,680.6 1469.2,681.4 1472.3,682.2 1475.4,680.6 1478.5,680.8 1481.6,682.7 1484.7,681.3 1487.8,679.5 1490.9,681.5 1494.0,682.6 1497.1,683.7 1500.2,684.4 1503.4,681.9 1506.5,683.7 1509.6,681.6 1512.7,682.5 1515.8,681.4 1518.9,680.4 1522.0,679.9 1525.1,681.0 1528.2,680.8 1531.3,684.8 1534.4,686.8 1537.5,688.0 1540.6,687.6 1543.7,685.5 1546.8,683.4 1549.9,681.3 1553.0,679.0 1556.1,678.5 1559.3,675.5 1562.4,677.1 1565.5,674.1 1568.6,675.6 1571.7,675.5 1574.8,673.7 1577.9,678.3 1581.0,680.0 1584.1,680.3 1587.2,683.4 1590.3,682.3 1593.4,683.3 1596.5,683.3 1599.6,683.4 1602.7,684.5 1605.8,685.9 1608.9,688.9 1612.0,686.9 1615.2,689.2 1618.3,689.6 1621.4,689.8 1624.5,690.4 1627.6,687.6 1630.7,688.6 1633.8,686.6 1636.9,688.6 1640.0,690.2 1643.1,689.6 1646.2,687.8 1649.3,687.3 1652.4,683.6 1655.5,684.2 1658.6,683.5 1661.7,681.8 1664.8,681.0 1668.0,683.2 1671.1,685.6 1674.2,687.3 1677.3,687.3 1680.4,686.9 1683.5,689.0 1686.6,691.1 1689.7,691.1 1692.8,690.4 1695.9,689.4 1699.0,690.6 1702.1,690.3 1705.2,686.9 1708.3,691.9 1711.4,689.8 1714.5,688.1 1717.6,686.6 1720.7,687.1 1723.9,686.3 1727.0,686.8 1730.1,685.6 1733.2,685.1 1736.3,686.2 1739.4,683.0 1742.5,685.4 1745.6,683.4 1748.7,683.6 1751.8,682.9 1754.9,681.3 1758.0,681.9 1761.1,681.7 1764.2,683.3 1767.3,685.1 1770.4,684.6 1773.5,683.1 1776.2,684.4 1778.9,684.3 1781.6,680.9 1784.2,681.0 1787.3,680.0 1790.4,678.8 1793.5,677.4 1796.6,676.7 1799.8,673.6 1802.9,673.8 1806.0,675.5 1809.1,678.2 1812.2,675.8 1815.3,674.8 1818.4,675.2 1821.5,674.7 1824.0,673.7 1826.5,672.8 1828.9,679.6 1831.4,687.5 1833.9,686.6 1836.4,688.6 1838.9,688.7 1841.4,688.6 1843.9,685.8 1846.3,684.8 1849.4,685.6 1852.5,685.3 1855.7,687.2 1858.8,686.6 1861.9,687.0 1865.0,688.0 1868.1,689.6 1871.2,690.1 1874.3,691.7 1877.4,691.1 1880.5,691.9 1883.6,689.0 1886.7,686.9 1889.8,685.3 1892.9,682.6 1896.0,683.5 1899.1,679.8 1902.2,681.3 1905.3,685.4 1908.4,687.2 1911.6,689.6 1914.7,690.0 1917.8,690.1 1920.9,692.1 1924.0,691.1 1927.1,689.1 1930.2,689.9 1933.3,688.9 1936.4,690.5 1939.5,690.1 1942.6,689.9 1945.7,692.3 1948.8,690.9 1951.9,690.1 1955.0,690.6 1958.1,690.9 1960.6,689.2 1963.1,692.2 1965.6,691.4 1968.1,693.8 1970.6,691.6 1973.0,691.9 1975.5,690.0 1978.0,691.6 1980.5,691.4 1983.0,690.4 1985.5,692.6 1988.0,690.9 1990.4,689.4 1992.9,687.6 1995.4,687.8 1997.9,687.8 2000.4,690.2 2002.9,689.1 2005.3,686.2 2007.8,685.3 2010.9,688.9 2014.0,688.4 2017.1,688.9 2020.2,690.8 2023.4,689.4 2026.5,688.8 2029.6,684.1 2032.7,683.7 2035.8,680.0 2038.9,677.8 2042.0,678.9 2045.1,677.8 2048.2,678.2 2051.3,677.6 2054.4,679.5 2057.5,679.8 2060.0,679.1 2062.5,677.9 2065.0,680.5 2067.5,681.8 2069.9,684.8 2072.4,685.3 2074.9,685.5 2077.4,684.9 2079.9,685.6 2082.4,685.8 2085.5,686.3 2088.6,688.0 2091.7,685.9 2094.8,688.5 2097.9,686.2 2101.0,685.7 2104.1,683.8 2107.2,683.1 2109.7,680.1 2112.2,677.0 2114.7,675.4 2117.8,676.6 2120.9,680.3 2124.0,682.7 2127.1,684.4 2130.2,683.1 2133.3,681.1 2136.4,681.6 2139.5,681.9 2142.0,679.2 2144.5,676.7 2147.0,672.7 2149.4,672.6 2151.9,674.0 2154.4,672.7 2156.9,672.1 2160.0,672.5 2163.1,676.6 2166.2,677.7 2169.3,678.1 2172.4,678.0 2175.5,681.0 2178.6,679.9 2181.7,680.1 2184.8,681.0 2188.0,681.9 2191.1,685.2 2194.2,683.5 2197.3,683.6 2200.4,683.7 2203.5,681.1 2206.6,681.1 2210.3,677.6 2213.4,679.5 2216.5,681.2 2219.0,681.4 2221.5,684.0 2224.0,683.9 2226.5,684.5 2228.9,687.0 2231.4,689.5 2233.9,688.0 2236.4,689.0 2238.9,691.8 2241.4,690.5 2243.9,689.6 2246.3,687.5 2248.8,687.8 2251.3,688.0 2253.8,687.5 2256.3,687.3 2258.8,687.7 2261.2,688.9 2263.7,688.6 2266.2,686.9 2268.7,687.2 2271.2,689.8 2273.7,688.2 2276.1,686.8 2278.6,686.5 2281.1,688.8 2283.6,686.5 2286.1,686.4 2288.6,686.3 2291.1,686.7 2293.8,686.3 2296.5,685.4 2299.3,685.8 2302.0,686.4 2304.8,686.5 2308.0,686.2 2311.1,687.9 2314.2,688.8 2317.3,687.6 2320.4,687.2 2323.5,688.1 2326.6,688.1 2329.7,685.2 2332.8,688.2 2335.9,690.9 2339.0,691.1 2342.1,690.4 2345.2,688.8 2348.3,689.7 2351.4,690.7 2354.5,692.1 2357.0,691.2 2359.5,690.6 2362.0,690.2 2364.5,690.6 2367.0,689.6 2369.4,690.3 2371.9,688.8 2374.4,689.1 2376.9,688.3 2379.4,686.9 2381.9,687.3 2384.3,688.7 2386.8,687.0 2389.3,688.3 2391.8,690.2 2394.3,689.7 2396.8,688.7 2399.3,687.6 2401.7,688.1 2404.2,686.0 2406.7,684.5 2409.2,688.8 2411.7,688.0 2414.2,687.5 2416.6,685.4 2419.1,684.3 2421.6,686.1 2424.1,688.8 2426.6,690.7 2429.1,688.2 2431.6,688.9 2434.0,689.3 2436.5,689.9 2439.0,691.3 2441.5,690.7 2444.0,691.7 2446.5,694.4 2448.9,694.6 2451.4,694.3 2453.9,695.5 2456.4,695.2 2458.9,696.1 2461.4,694.6 2463.9,693.0 2466.3,694.5 2468.8,692.1 2471.3,693.5 2473.8,694.0 2476.3,694.6 2478.8,693.9 2481.2,696.0 2483.7,694.2 2486.2,692.4 2488.7,693.4 2491.2,693.7 2493.7,692.3 2496.1,693.6 2498.6,693.5 2501.1,693.4 2503.6,692.7 2506.1,692.5 2508.6,693.5 2511.1,693.2 2513.5,696.0 2516.0,694.9 2518.5,693.1 2521.0,694.4 2523.5,695.9 2526.0,694.5 2528.4,692.9 2530.9,693.8 2533.4,694.0 2535.9,694.5 2538.4,697.0 2540.9,698.2 2543.4,696.6 2545.8,698.4 2548.3,697.6 2550.8,698.0 2553.3,698.9 2555.8,694.1 2558.3,695.6 2560.7,693.1 2563.2,693.1 2565.7,693.8 2568.2,692.6 2570.7,693.3 2573.2,693.3 2575.7,694.4 2578.1,692.8 2580.6,692.3 2583.1,694.5 2585.6,694.7 2588.1,693.6 2590.6,693.4 2593.0,694.5 2595.5,694.1 2598.0,694.2 2600.5,692.8 2603.0,693.2 2605.5,693.6 2608.0,692.2 2610.4,691.7 2612.9,692.0 2615.4,692.2 2617.9,691.7 2620.4,692.8 2622.9,691.9 2625.3,692.3 2627.8,691.5 2630.3,692.3 2632.8,692.3 2635.3,691.2 2637.8,691.2 2640.2,691.8 2642.7,691.5 2645.2,691.1 2647.7,692.4 2650.2,692.3 2652.7,691.9 2655.2,692.5 2657.6,692.0 2660.1,692.3 2662.6,690.8 2665.1,690.5 2667.6,688.7 2670.1,689.7 2672.5,689.0 2675.0,686.7 2677.5,685.9 2680.0,689.1 2682.5,687.4 2685.0,688.3 2687.5,688.5 2689.9,684.9 2692.4,686.5 2694.9,687.0 2697.4,686.1 2699.9,684.2 2702.4,687.7 2704.8,684.6 2707.3,684.9 2709.8,686.7 2712.3,690.0 2714.8,690.3 2717.3,689.7 2719.8,689.4 2722.2,688.5 2724.7,689.6 2727.2,690.2 2729.7,693.1 2732.2,691.5 2734.7,690.6 2737.1,689.5 2739.6,688.5 2742.1,687.9 2744.6,689.7 2747.1,689.6 2749.6,689.1 2752.0,688.8 2754.5,687.0 2757.0,686.2 2759.5,689.6 2762.0,689.3 2764.5,689.4 2767.0,688.9 2769.4,691.0 2771.9,692.6 2774.4,691.6 2776.9,691.2 2779.4,690.6 2781.9,689.8 2784.3,690.9 2786.8,691.3 2789.3,690.9 2791.6,689.0 2793.9,688.7 2796.1,690.0 2798.4,688.1 2800.7,689.1 2803.0,687.2" stroke="#9467bd"/>
<polyline points="517.9,693.5 520.2,692.0 522.5,692.2 524.8,692.8 527.3,693.3 529.8,692.9 532.3,693.3 534.8,693.6 537.3,694.5 539.8,694.9 542.2,694.9 544.7,695.6 547.2,695.7 549.7,696.2 552.2,695.8 554.7,697.0 557.1,697.5 559.6,698.1 562.1,698.7 564.6,699.4 567.1,699.3 569.6,700.5 572.0,699.9 574.5,700.9 577.0,699.7 579.5,699.4 582.0,700.3 584.5,699.9 587.0,698.9 589.4,698.0 591.9,697.4 594.4,695.5 596.9,693.6 599.4,693.2 601.9,693.9 604.3,694.0 606.8,695.6 609.3,696.1 611.8,695.8 614.3,695.5 616.8,695.4 619.3,693.5 621.7,691.7 625.5,689.2 629.2,690.5 632.9,688.9 636.6,690.0 640.4,687.4 644.1,689.4 647.8,687.3 651.6,689.6 655.3,691.6 659.0,689.5 662.7,688.8 666.5,686.4 670.2,685.4 673.9,687.7 677.6,689.2 681.4,687.2 685.1,688.9 688.8,688.7 692.5,688.5 696.3,690.5 700.0,687.0 703.7,687.4 707.5,689.0 711.2,689.9 714.9,687.7 718.6,688.1 722.4,690.8 726.1,689.6 729.8,692.1 733.5,694.7 736.0,694.9 738.5,693.6 741.0,693.4 743.5,693.9 746.0,694.4 748.4,694.9 750.9,694.2 753.4,695.5 755.9,694.4 758.4,694.1 760.9,693.9 763.4,693.1 765.8,693.7 768.3,694.5 770.8,695.2 773.3,696.1 775.8,695.1 778.3,695.9 780.7,695.1 783.2,695.0 785.7,694.5 788.2,693.9 790.7,693.3 793.2,692.6 795.7,692.4 798.1,691.3 800.6,691.1 803.1,690.3 805.6,688.8 808.1,687.2 810.6,688.0 813.0,688.8 816.8,687.5 820.5,690.9 823.0,691.2 825.5,689.5 828.0,690.3 830.4,690.0 832.9,688.4 835.4,687.4 837.9,688.7 840.4,689.9 842.9,690.1 845.3,688.9 847.8,690.1 850.3,692.1 852.8,691.3 855.3,690.7 857.8,690.6 860.2,690.0 862.7,690.0 865.2,689.2 867.7,689.1 870.2,691.1 872.7,689.5 875.2,689.1 877.6,688.1 880.1,689.6 882.6,688.8 885.1,687.9 887.6,688.2 890.1,688.0 892.5,690.1 895.0,691.5 897.5,692.0 900.0,693.3 902.5,693.2 905.0,694.3 907.5,694.5 909.9,692.7 912.4,691.9 914.9,691.8 917.4,688.6 919.9,686.2 923.6,690.2 927.3,691.1 929.8,691.4 932.3,692.3 934.8,689.4 937.3,690.0 939.8,691.1 942.2,693.4 944.7,694.3 947.2,693.8 949.7,694.5 952.2,693.4 954.7,693.4 957.1,692.2 959.6,692.1 962.1,692.0 964.6,692.6 967.1,692.8 969.6,693.2 972.0,691.0 974.5,691.9 977.0,692.7 979.5,691.0 982.0,690.5 984.5,689.5 987.0,689.6 990.7,690.0 994.4,692.2 996.9,690.6 999.4,688.1 1001.9,686.7 1004.3,686.0 1006.8,686.4 1009.3,687.2 1011.8,688.1 1014.3,688.6 1016.8,688.4 1019.3,687.1 1021.7,687.9 1024.2,687.7 1026.7,687.7 1029.2,689.5 1031.7,688.7 1034.2,687.5 1036.6,687.5 1039.1,688.8 1041.6,688.2 1044.1,689.2 1046.6,687.2 1049.1,686.1 1051.6,686.4 1054.0,686.0 1056.5,687.3 1059.0,688.7 1061.5,688.1 1064.0,687.2 1066.5,686.5 1068.9,684.7 1071.4,686.2 1073.9,686.0 1076.4,685.1 1078.9,684.9 1081.4,684.7 1083.9,685.8 1086.3,685.0 1088.8,684.2 1091.3,685.3 1093.8,685.5 1096.3,684.0 1098.8,684.0 1101.2,684.3 1103.7,684.6 1106.2,684.8 1108.7,685.5 1111.2,684.6 1113.7,684.6 1116.1,685.4 1118.6,686.8 1121.1,686.1 1123.6,685.3 1126.1,685.4 1128.6,684.7 1131.1,683.4 1133.5,682.3 1136.4,683.2 1139.3,686.0 1140.0,689.3 1142.5,686.5 1145.0,687.1 1147.5,686.2 1149.9,686.1 1152.4,686.6 1154.9,686.5 1157.4,685.3 1159.9,682.7 1162.4,682.0 1164.8,683.5 1167.3,682.5 1169.8,684.1 1172.3,683.7 1174.8,683.1 1177.3,680.8 1179.8,682.7 1182.2,684.2 1184.7,685.4 1187.2,686.3 1189.7,687.5 1192.2,688.9 1194.7,688.4 1197.1,689.4 1199.6,688.1 1202.1,687.6 1204.6,686.2 1207.1,685.9 1209.6,684.9 1212.0,685.0 1214.5,682.2 1217.0,683.3 1219.5,683.3 1222.0,684.3 1224.5,685.2 1227.0,684.2 1229.4,684.3 1231.9,683.7 1234.4,685.6 1236.9,686.7 1239.4,688.4 1241.9,687.1 1244.3,687.4 1246.8,686.0 1249.3,686.6 1251.8,684.8 1254.3,683.8 1256.8,684.1 1259.3,683.1 1261.7,683.6 1264.2,683.4 1266.7,684.0 1269.2,683.1 1271.7,681.6 1274.2,682.9 1276.6,681.8 1279.1,681.9 1281.6,682.8 1284.1,683.0 1286.6,682.8 1289.1,681.7 1291.6,683.1 1294.0,684.1 1296.5,684.4 1299.0,684.2 1301.5,685.1 1304.0,685.0 1306.5,686.9 1308.9,686.0 1311.4,687.5 1313.9,686.6 1316.4,684.4 1318.9,684.9 1321.4,684.8 1323.9,684.0 1326.3,683.1 1328.8,686.3 1331.3,685.5 1333.8,688.3 1336.3,689.1 1338.8,690.6 1341.2,689.1 1343.7,689.5 1346.2,687.4 1348.7,686.6 1351.2,685.5 1353.7,683.3 1356.1,682.4 1358.6,681.9 1361.1,682.5 1363.6,681.5 1366.1,681.6 1368.6,684.1 1371.1,684.1 1373.5,685.7 1376.0,685.3 1378.5,686.0 1381.0,688.5 1383.5,689.0 1386.0,689.0 1388.4,689.7 1390.9,689.3 1393.4,689.1 1395.9,687.3 1398.4,687.6 1400.9,687.9 1403.4,686.8 1405.8,686.7 1408.3,688.2 1410.8,687.5 1413.3,687.0 1415.8,683.8 1418.3,683.9 1420.7,681.9 1423.2,683.1 1425.7,681.8 1428.2,680.3 1430.7,678.3 1433.2,678.3 1435.7,678.5 1438.1,677.3 1440.6,673.6 1443.1,670.5 1445.6,671.0 1448.1,670.1 1450.6,668.7 1453.0,672.1 1455.5,673.8 1458.0,679.9 1460.5,687.6 1463.0,685.8 1465.5,684.4 1468.0,680.5 1470.4,680.6 1472.9,678.4 1475.4,673.4 1477.9,677.8 1480.4,679.4 1482.9,682.3 1485.3,683.7 1487.8,683.8 1490.3,684.8 1492.8,687.5 1495.3,685.7 1497.8,685.5 1500.2,683.8 1502.7,683.3 1505.2,683.2 1507.7,682.7 1510.2,684.3 1512.7,684.6 1515.2,681.9 1517.6,679.4 1520.1,678.5 1522.6,676.3 1525.1,676.6 1527.6,676.4 1530.1,676.1 1532.5,676.4 1535.0,676.4 1537.5,674.2 1540.0,672.5 1542.5,671.2 1545.0,669.4 1547.5,671.0 1549.9,674.7 1552.4,676.2 1554.9,679.1 1557.4,679.2 1559.9,682.2 1562.4,684.1 1564.8,684.8 1567.3,686.4 1569.8,685.4 1572.3,684.8 1574.8,684.0 1577.3,685.5 1579.8,688.3 1582.2,689.5 1584.7,690.7 1587.2,692.4 1589.7,692.0 1592.2,693.3 1594.7,693.1 1597.1,694.7 1599.6,696.7 1602.1,695.5 1604.6,695.1 1607.1,695.7 1609.6,697.1 1612.0,697.2 1614.5,695.2 1617.0,695.0 1619.5,695.0 1622.0,694.0 1624.5,695.1 1627.0,694.0 1629.4,694.1 1631.9,696.2 1634.4,695.5 1636.9,695.9 1639.2,696.5 1641.4,696.7 1643.7,698.3 1645.9,695.9 1648.2,698.5 1650.4,696.8 1652.7,695.1 1655.0,696.3 1657.2,693.4 1659.5,694.9 1661.7,695.2 1664.0,695.1 1666.3,696.1 1668.5,695.4 1670.8,696.3 1673.0,695.6 1675.3,696.2 1677.5,696.5 1679.8,696.1 1682.1,697.1 1684.3,697.8 1686.6,697.3 1688.8,697.7 1691.1,697.4 1693.4,695.7 1695.6,695.9 1697.9,693.9 1700.1,693.6 1702.4,692.3 1704.7,692.2 1706.9,691.0 1709.2,689.0 1711.4,689.7 1713.7,689.9 1715.9,688.4 1718.2,689.6 1720.5,689.3 1722.7,688.7 1725.0,689.7 1727.2,690.2 1729.5,689.8 1731.8,689.5 1734.0,689.1 1736.3,686.9 1738.5,688.2 1740.8,689.2 1743.0,688.4 1745.3,688.7 1747.6,688.7 1749.8,687.6 1752.1,688.6 1754.3,689.9 1756.6,688.7 1758.9,688.0 1761.1,688.0 1763.4,687.8 1765.7,688.4 1767.9,688.6 1770.2,690.0 1772.5,688.5 1774.7,690.0 1777.0,688.9 1779.3,689.0 1781.8,695.9 1784.4,704.0 1787.0,710.0 1789.5,711.2 1792.0,711.0 1794.5,711.2 1797.0,710.7 1799.5,709.5 1802.0,709.4 1804.5,708.6 1807.0,709.8 1809.5,708.7 1812.0,706.8 1814.5,706.7 1817.0,705.9 1819.5,708.0 1822.0,707.7 1824.5,709.1 1827.0,707.4 1829.5,707.0 1832.0,706.5 1834.5,705.6 1837.0,706.5 1839.5,707.3 1842.0,707.6 1844.5,707.6 1847.0,707.2 1849.5,707.2 1852.0,708.1 1854.5,706.6 1857.0,706.6 1859.5,707.9 1862.0,708.3 1864.5,708.0 1867.0,707.6 1869.5,707.6 1872.0,710.0 1874.5,708.8 1877.0,707.8 1879.5,707.4 1882.0,705.8 1884.5,706.9 1887.0,705.4 1889.5,704.4 1892.0,706.1 1894.5,706.2 1897.0,705.8 1899.5,704.1 1902.0,704.3 1904.5,704.6 1907.0,704.4 1909.5,703.8 1912.0,704.3 1914.5,705.3 1917.0,704.3 1919.5,706.2 1922.0,706.7 1924.5,707.6 1927.0,707.7 1929.5,707.7 1932.0,706.9 1934.5,706.4 1937.0,706.1 1939.5,707.7 1942.0,707.7 1944.5,709.3 1947.0,706.3 1949.5,707.7 1952.0,707.7 1954.5,708.0 1957.0,708.7 1959.5,709.4 1962.0,710.1 1964.5,710.2 1967.0,710.7 1969.5,709.1 1972.0,707.7 1974.5,707.6 1977.0,707.5 1979.5,708.2 1982.0,706.9 1984.5,707.5 1987.0,707.7 1989.5,708.4 1992.0,708.2 1994.5,708.6 1997.0,709.6 1999.5,710.4 2002.0,710.3 2004.5,710.2 2007.0,710.1 2009.5,711.5 2012.0,712.7 2014.5,711.5 2017.0,709.6 2019.5,711.1 2022.0,709.2 2024.5,710.2 2027.0,708.9 2029.5,708.9 2032.0,710.7 2034.5,709.3 2037.0,711.4 2039.5,711.3 2042.0,711.3 2044.5,710.7 2047.0,710.7 2049.5,711.9 2052.0,709.5 2054.5,710.1 2057.0,710.7 2059.5,708.1 2062.0,710.7 2064.5,709.4 2067.0,708.8 2069.5,710.2 2072.0,709.9 2074.5,709.1 2077.0,710.1 2079.5,709.2 2082.0,708.4 2084.5,707.9 2087.0,707.3 2089.5,707.0 2092.0,706.7 2094.5,708.4 2097.0,708.2 2099.5,708.3 2102.0,709.0 2104.5,710.5 2107.0,709.7 2109.5,708.5 2112.0,709.5 2114.5,708.4 2117.0,707.8 2119.5,706.1 2122.0,706.5 2124.5,706.8 2127.0,706.8 2129.5,707.3 2132.0,707.6 2134.5,709.3 2137.0,707.8 2139.5,707.9 2142.0,709.9 2144.5,710.4 2147.0,710.0 2149.5,707.7 2152.0,708.8 2154.5,707.2 2157.0,706.6 2159.5,706.4 2162.0,706.8 2164.5,706.9 2167.0,708.5 2169.5,709.0 2172.0,707.1 2174.5,707.3 2177.0,707.3 2179.5,707.1 2182.0,706.6 2184.5,707.8 2187.0,707.3 2189.5,707.5 2192.0,708.7 2194.5,708.0 2197.0,709.2 2199.5,707.3 2202.0,706.9 2204.5,707.4 2207.0,708.8 2209.5,710.4 2212.0,710.6 2214.5,709.5 2217.0,707.3 2219.5,708.8 2222.0,708.8 2224.5,707.8 2227.0,707.5 2229.5,705.5 2232.0,707.4 2234.5,707.4 2237.0,707.9 2239.5,707.1 2242.0,708.2 2244.5,707.2 2247.0,706.5 2249.5,707.0 2252.0,707.4 2254.5,707.1 2257.0,708.1 2259.5,709.4 2262.0,709.1 2264.5,709.4 2267.0,709.4 2269.5,709.2 2272.0,708.4 2274.5,709.1 2277.0,711.3 2279.5,711.8 2282.0,710.5 2284.5,710.7 2287.0,708.9 2289.5,710.2 2292.0,711.7 2294.5,708.3 2297.0,708.3 2299.5,708.8 2302.0,710.1 2304.5,709.3 2307.0,710.5 2309.5,710.6 2312.0,711.1 2314.5,709.6 2317.0,708.3 2319.5,708.4 2322.0,707.3 2324.5,707.8 2327.0,707.5 2329.5,708.6 2332.0,708.2 2334.5,707.2 2337.0,707.1 2339.5,705.0 2342.0,705.5 2344.5,704.6 2347.0,705.5 2349.5,706.7 2352.0,707.2 2354.5,707.5 2357.0,706.7 2359.5,706.8 2362.0,706.1 2364.5,706.5 2367.0,706.3 2369.5,707.0 2372.0,707.8 2374.5,706.7 2377.0,707.7 2379.5,707.1 2382.0,707.9 2384.5,707.0 2387.0,707.6 2389.5,707.0 2392.0,708.7 2394.5,708.3 2397.0,708.6 2399.5,709.3 2402.0,708.7 2404.5,708.0 2407.0,708.9 2409.5,708.6 2412.0,708.3 2414.5,708.1 2417.0,706.7 2419.5,707.4 2422.0,708.1 2424.5,708.7 2427.0,709.8 2429.5,707.8 2432.0,708.8 2434.5,707.1 2437.0,707.7 2439.5,706.2 2442.0,707.9 2444.5,708.9 2447.0,709.1 2449.5,709.7 2452.0,709.7 2454.5,710.8 2457.0,711.3 2459.5,710.8 2462.0,711.8 2464.5,710.8 2467.0,709.7 2469.5,709.9 2472.0,710.9 2474.5,710.6 2477.0,710.3 2479.5,709.6 2482.0,708.1 2484.5,708.8 2487.0,708.9 2489.5,707.6 2492.0,706.4 2494.5,707.4 2497.0,707.1 2499.5,706.6 2502.0,705.5 2504.5,706.3 2507.0,704.9 2509.5,705.7 2512.0,708.1 2514.5,707.6 2517.0,708.4 2519.5,706.4 2522.0,708.1 2524.5,706.5 2527.0,707.7 2529.5,708.5 2532.0,708.2 2534.5,708.2 2537.0,709.2 2539.5,708.9 2542.0,709.9 2544.5,708.9 2547.0,707.2 2549.5,708.1 2552.0,709.1 2554.5,710.9 2557.0,709.9 2559.5,711.1 2562.0,709.9 2564.5,709.9 2567.0,710.7 2569.5,710.7 2572.0,710.5 2574.5,709.1 2577.0,708.1 2579.5,708.9 2582.0,711.0 2584.5,711.1 2587.0,712.1 2589.5,711.3 2592.0,709.5 2594.5,708.5 2597.0,708.7 2599.5,706.4 2602.0,707.3 2604.5,706.0 2607.0,706.1 2609.5,708.0 2612.0,706.8 2614.5,706.8 2617.0,707.4 2619.5,707.6 2622.0,707.4 2624.5,709.0 2627.0,709.1 2629.5,709.2 2632.0,709.6 2634.5,709.0 2637.0,709.4 2639.5,710.4 2642.0,710.8 2644.5,708.7 2647.0,708.6 2649.5,708.5 2652.0,709.2 2654.5,709.8 2657.0,707.8 2659.5,708.3 2662.0,709.9 2664.5,708.1 2667.0,707.1 2669.5,708.4 2672.0,707.6 2674.5,706.5 2677.0,707.3 2679.5,708.3 2682.0,708.4 2684.5,708.8 2687.0,709.0 2689.5,708.3 2692.0,707.8 2694.5,708.9 2697.0,709.5 2699.5,709.1 2702.0,709.1 2704.5,707.7 2707.0,707.6 2709.5,707.8 2712.0,708.9 2714.5,707.6 2717.0,707.2 2719.5,706.0 2722.0,706.0 2724.5,705.9 2727.0,706.7 2729.5,707.4 2732.0,707.5 2734.5,708.8 2737.0,709.3 2739.5,710.8 2742.0,711.1 2744.5,710.3 2747.0,709.0 2749.5,709.8 2752.0,709.4 2754.5,708.8 2757.0,708.2 2759.5,708.9 2762.0,711.2 2764.5,709.6 2767.0,707.1 2769.5,708.3 2772.0,708.2 2774.5,708.1 2777.0,707.8 2779.5,708.0 2782.0,707.4 2784.5,706.4 2787.0,707.7 2789.5,707.9 2792.0,707.3 2794.5,707.8 2797.0,709.1 2799.5,709.9 2802.0,711.0" stroke="#8c564b"/>
<polyline points="518.1,715.5 523.1,713.3 528.1,713.8 533.1,713.6 538.1,713.3 543.1,714.4 548.1,714.2 553.1,714.4 558.1,715.2 563.1,715.5 568.1,714.5 573.1,714.6 578.1,714.9 583.1,714.6 588.1,715.2 593.1,715.1 598.1,714.2 603.1,714.6 608.1,715.5 613.1,715.5 618.1,714.6 623.1,715.3 628.1,714.0 633.1,714.0 638.1,714.6 643.1,714.5 648.1,715.6 653.1,715.9 658.1,714.9 663.1,714.9 668.1,715.7 673.1,715.7 678.1,715.7 683.1,715.5 688.1,716.1 693.1,715.9 698.1,715.6 703.1,715.8 708.1,716.1 713.1,715.0 718.1,715.9 723.1,715.8 728.1,715.7 733.1,715.4 738.1,715.4 743.1,715.5 748.1,715.2 753.1,714.8 758.1,715.6 763.1,716.2 768.1,715.3 773.1,715.8 778.1,715.8 783.1,715.1 788.1,714.4 793.1,714.8 798.1,714.4 803.1,714.4 808.1,713.8 813.1,713.1 818.1,714.1 823.1,713.1 828.1,713.6 833.1,713.3 838.1,713.7 843.1,714.1 848.1,714.1 853.1,714.4 858.1,714.6 863.1,713.8 868.1,714.0 873.1,713.6 878.1,712.6 883.1,712.9 888.1,713.1 893.1,713.4 898.1,714.2 903.1,713.7 908.1,713.6 913.1,712.7 918.1,714.2 923.1,713.9 928.1,714.6 933.1,714.2 938.1,714.6 943.1,713.9 948.1,713.9 953.1,714.6 958.1,714.3 963.1,714.3 968.1,714.1 973.1,714.7 978.1,714.2 983.1,713.5 988.1,713.9 993.1,713.8 998.1,714.4 1003.1,714.6 1008.1,715.1 1013.1,714.5 1018.1,714.3 1023.1,713.8 1028.1,714.6 1033.1,714.2 1038.1,715.0 1043.1,714.3 1048.1,713.7 1053.1,714.2 1058.1,714.6 1063.1,713.8 1068.1,714.5 1073.1,713.9 1078.1,713.9 1083.1,714.3 1088.1,714.2 1093.1,714.7 1098.1,714.4 1103.1,714.2 1108.1,714.1 1113.1,713.3 1118.1,713.0 1123.1,712.9 1128.1,714.2 1133.1,713.2 1138.1,713.8 1143.1,713.9 1148.1,714.3 1153.1,714.7 1158.1,715.0 1163.1,715.4 1168.1,715.7 1173.1,715.4 1178.1,714.9 1183.1,715.8 1188.1,716.1 1193.1,716.6 1198.1,716.4 1203.1,715.9 1208.1,715.6 1213.1,716.4 1218.1,715.6 1223.1,716.1 1228.1,714.6 1233.1,714.5 1238.1,716.4 1243.1,715.9 1248.1,714.8 1253.1,715.6 1258.1,716.2 1263.1,716.1 1268.1,715.2 1273.1,714.9 1278.1,715.4 1283.1,714.5 1288.1,714.0 1293.1,714.3 1298.1,714.3 1303.1,714.7 1308.1,714.4 1313.1,714.2 1318.1,714.6 1323.1,713.6 1328.1,714.0 1333.1,713.7 1338.1,715.0 1343.1,714.2 1348.1,714.9 1353.1,714.3 1358.1,715.3 1363.1,715.1 1368.1,714.8 1373.1,714.5 1378.1,714.0 1383.1,713.5 1388.1,713.7 1393.1,713.4 1398.1,713.0 1403.1,712.6 1408.1,714.2 1413.1,712.9 1418.1,714.2 1423.1,713.6 1428.1,714.5 1433.1,715.1 1438.1,715.0 1443.1,714.3 1448.1,715.7 1453.1,714.8 1458.1,715.7 1463.1,714.8 1468.1,715.7 1473.1,715.5 1478.1,715.5 1483.1,714.8 1488.1,714.8 1493.1,714.7 1498.1,714.0 1503.1,713.9 1508.1,714.7 1513.1,714.6 1518.1,714.5 1523.1,714.2 1528.1,713.5 1533.1,713.9 1538.1,713.4 1543.1,713.5 1548.1,713.6 1553.1,712.7 1558.1,713.5 1563.1,713.0 1568.1,713.0 1573.1,713.2 1578.1,712.8 1583.1,712.9 1588.1,713.2 1593.1,713.2 1598.1,712.9 1603.1,713.4 1608.1,714.0 1613.1,712.9 1618.1,713.0 1623.1,713.4 1628.1,713.8 1633.1,713.0 1638.1,712.8 1643.1,713.4 1648.1,713.3 1653.1,713.6 1658.1,714.5 1663.1,713.5 1668.1,715.1 1673.1,714.4 1678.1,714.2 1683.1,714.2 1688.1,714.7 1693.1,714.0 1698.1,713.7 1703.1,714.0 1708.1,713.7 1713.1,713.4 1718.1,713.9 1723.1,713.8 1728.1,714.0 1733.1,713.5 1738.1,714.4 1743.1,713.8 1748.1,714.2 1753.1,714.1 1758.1,714.1 1763.1,714.5 1768.1,714.5 1773.1,714.5 1778.1,714.3 1783.1,714.6 1788.1,713.9 1793.1,713.8 1798.1,714.2 1803.1,714.3 1808.1,713.2 1813.1,713.2 1818.1,714.5 1823.1,714.4 1828.1,712.8 1833.1,713.7 1838.1,712.8 1843.1,713.7 1848.1,714.0 1853.1,713.7 1858.1,714.2 1863.1,714.3 1868.1,714.2 1873.1,713.8 1878.1,714.6 1883.1,713.9 1888.1,714.7 1893.1,715.1 1898.1,714.5 1903.1,715.1 1908.1,714.3 1913.1,714.6 1918.1,715.1 1923.1,714.9 1928.1,715.1 1933.1,715.0 1938.1,714.6 1943.1,714.1 1948.1,714.0 1953.1,713.9 1958.1,713.1 1963.1,713.4 1968.1,713.5 1973.1,712.9 1978.1,714.3 1983.1,713.7 1988.1,713.3 1993.1,714.3 1998.1,714.3 2003.1,712.7 2008.1,713.4 2013.1,713.1 2018.1,713.7 2023.1,712.8 2028.1,713.9 2033.1,712.8 2038.1,714.0 2043.1,713.7 2048.1,713.2 2053.1,714.2 2058.1,713.2 2063.1,713.3 2068.1,713.3 2073.1,712.6 2078.1,712.8 2083.1,712.5 2088.1,712.6 2093.1,712.2 2098.1,712.5 2103.1,711.9 2108.1,712.1 2113.1,712.7 2118.1,712.9 2123.1,712.8 2128.1,712.7 2133.1,712.9 2138.1,712.4 2143.1,712.6 2148.1,711.7 2153.1,712.7 2158.1,712.3 2163.1,712.3 2168.1,712.3 2173.1,712.2 2178.1,711.4 2183.1,711.8 2188.1,711.5 2193.1,712.1 2198.1,711.4 2203.1,712.4 2208.1,712.5 2213.1,712.3 2218.1,712.0 2223.1,712.3 2228.1,713.4 2233.1,714.1 2238.1,713.8 2243.1,713.8 2248.1,713.5 2253.1,713.1 2258.1,713.1 2263.1,712.9 2268.1,714.4 2273.1,714.2 2278.1,713.9 2283.1,714.4 2288.1,714.3 2293.1,714.3 2298.1,713.8 2303.1,714.3 2308.1,713.9 2313.1,714.2 2318.1,714.7 2323.1,714.7 2328.1,713.8 2333.1,713.8 2338.1,713.7 2343.1,714.1 2348.1,714.3 2353.1,713.4 2358.1,714.1 2363.1,713.7 2368.1,713.6 2373.1,713.8 2378.1,713.6 2383.1,713.9 2388.1,714.2 2393.1,713.7 2398.1,713.9 2403.1,714.3 2408.1,713.6 2413.1,714.3 2418.1,713.9 2423.1,713.4 2428.1,712.7 2433.1,712.5 2438.1,712.6 2443.1,712.7 2448.1,711.9 2453.1,713.3 2458.1,713.6 2463.1,713.2 2468.1,712.9 2473.1,713.1 2478.1,713.9 2483.1,713.2 2488.1,714.8 2493.1,714.4 2498.1,714.5 2503.1,714.2 2508.1,714.3 2513.1,714.9 2518.1,714.1 2523.1,713.6 2528.1,714.1 2533.1,714.7 2538.1,714.4 2543.1,714.6 2548.1,713.9 2553.1,714.6 2558.1,715.2 2563.1,715.0 2568.1,715.6 2573.1,715.7 2578.1,715.1 2583.1,714.1 2588.1,714.4 2593.1,714.2 2598.1,714.1 2603.1,714.4 2608.1,714.8 2613.1,715.3 2618.1,715.1 2623.1,715.5 2628.1,714.8 2633.1,714.8 2638.1,714.3 2643.1,713.9 2648.1,714.1 2653.1,713.3 2658.1,713.7 2663.1,713.1 2668.1,712.3 2673.1,712.5 2678.1,712.3 2683.1,713.4 2688.1,712.8 2693.1,713.6 2698.1,713.2 2703.1,712.8 2708.1,713.0 2713.1,713.6 2718.1,713.8 2723.1,714.2 2728.1,714.7 2733.1,714.3 2738.1,713.7 2743.1,714.5 2748.1,713.9 2753.1,713.9 2758.1,713.6 2763.1,714.5 2768.1,714.7 2773.1,714.7 2778.1,714.5 2783.1,714.6 2788.1,715.0 2793.1,715.5 2798.1,714.3" stroke="#7f7f7f"/>
<polyline points="518.1,710.9 521.1,711.3 524.1,710.8 527.1,710.9 530.1,710.9 533.1,708.2 536.1,709.7 539.1,708.8 542.1,709.8 545.1,709.2 548.1,708.7 551.1,707.7 554.1,708.7 557.1,709.8 560.1,711.6 563.1,711.8 566.1,711.7 569.1,711.4 572.1,711.1 575.1,709.0 578.1,711.9 581.1,710.2 584.1,711.0 587.1,710.5 590.1,711.6 593.1,712.6 596.1,712.6 599.1,712.1 602.1,711.2 605.1,712.1 608.1,711.4 611.1,711.2 614.1,711.0 617.1,710.6 620.1,711.3 623.1,711.9 626.1,711.2 629.1,709.1 632.1,709.4 635.1,710.1 638.1,710.0 641.1,708.5 644.1,710.1 647.1,710.6 650.1,710.5 653.1,710.0 656.1,709.7 659.1,710.5 662.1,712.4 665.1,712.3 668.1,712.6 671.1,711.4 674.1,709.5 677.1,709.5 680.1,710.5 683.1,708.5 686.1,709.9 689.1,711.9 692.1,710.9 695.1,712.4 698.1,711.3 701.1,711.6 704.1,709.1 707.1,710.8 710.1,710.5 713.1,709.6 716.1,710.9 719.1,711.3 722.1,711.5 725.1,711.1 728.1,709.8 731.1,711.0 734.1,711.3 737.1,711.6 740.1,710.0 743.1,711.2 746.1,712.0 749.1,710.4 752.1,711.7 755.1,711.5 758.1,711.0 761.1,710.1 764.1,708.4 767.1,709.1 770.1,711.2 773.1,708.9 776.1,708.4 779.1,710.3 782.1,710.9 785.1,710.2 788.1,710.7 791.1,710.7 794.1,711.1 797.1,711.7 800.1,711.9 803.1,712.5 806.1,712.9 809.1,712.4 812.1,709.8 815.1,710.8 818.1,710.9 821.1,713.5 824.1,712.6 827.1,711.2 830.1,712.1 833.1,712.3 836.1,713.1 839.1,713.8 842.1,712.8 845.1,713.8 848.1,714.8 851.1,713.7 854.1,714.6 857.1,715.0 860.1,714.6 863.1,714.0 866.1,711.5 869.1,712.6 872.1,712.3 875.1,710.8 878.1,711.5 881.1,712.0 884.1,709.3 887.1,709.8 890.1,710.4 893.1,710.2 896.1,711.3 899.1,711.0 902.1,711.4 905.1,712.2 908.1,711.0 911.1,711.0 914.1,711.4 917.1,710.5 920.1,711.5 923.1,711.4 926.1,712.5 929.1,711.0 932.1,710.7 935.1,710.8 938.1,712.3 941.1,709.8 944.1,712.7 947.1,712.3 950.1,713.0 953.1,712.9 956.1,712.0 959.1,712.2 962.1,711.5 965.1,712.9 968.1,713.4 971.1,712.7 974.1,713.0 977.1,711.4 980.1,711.4 983.1,711.6 986.1,709.2 989.1,710.1 992.1,710.7 995.1,710.7 998.1,711.9 1001.1,710.6 1004.1,711.5 1007.1,710.6 1010.1,710.5 1013.1,710.2 1016.1,710.7 1019.1,712.5 1022.1,712.8 1025.1,714.0 1028.1,713.3 1031.1,715.9 1034.1,713.0 1037.1,713.1 1040.1,712.8 1043.1,713.2 1046.1,712.4 1049.1,710.9 1052.1,713.8 1055.1,712.0 1058.1,710.4 1061.1,711.3 1064.1,712.9 1067.1,713.8 1070.1,713.2 1073.1,715.8 1076.1,715.9 1079.1,713.1 1082.1,714.4 1085.1,714.4 1088.1,713.6 1091.1,714.6 1094.1,715.6 1097.1,714.5 1100.1,716.7 1103.1,714.6 1106.1,714.6 1109.1,714.7 1112.1,715.3 1115.1,716.1 1118.1,716.7 1121.1,716.2 1124.1,716.7 1127.1,716.3 1130.1,716.0 1133.1,715.8 1136.1,716.3 1139.1,716.7 1142.1,716.4 1145.1,714.6 1148.1,715.4 1151.1,715.6 1154.1,716.7 1157.1,716.1 1160.1,715.3 1163.1,716.7 1166.1,713.8 1169.1,714.5 1172.1,714.1 1175.1,715.7 1178.1,716.7 1181.1,716.6 1184.1,716.2 1187.1,714.7 1190.1,714.5 1193.1,714.9 1196.1,716.4 1199.1,715.6 1202.1,715.6 1205.1,716.7 1208.1,716.6 1211.1,716.7 1214.1,716.4 1217.1,716.6 1220.1,716.6 1223.1,715.0 1226.1,713.8 1229.1,713.7 1232.1,715.3 1235.1,715.6 1238.1,714.0 1241.1,715.8 1244.1,713.0 1247.1,715.7 1250.1,715.1 1253.1,714.4 1256.1,713.5 1259.1,713.5 1262.1,714.8 1265.1,714.1 1268.1,714.0 1271.1,713.4 1274.1,713.9 1277.1,713.8 1280.1,715.0 1283.1,714.4 1286.1,713.1 1289.1,714.6 1292.1,714.5 1295.1,713.1 1298.1,713.3 1301.1,714.4 1304.1,713.1 1307.1,714.3 1310.1,714.2 1313.1,714.7 1316.1,713.6 1319.1,713.3 1322.1,714.1 1325.1,712.1 1328.1,712.0 1331.1,713.0 1334.1,713.6 1337.1,716.0 1340.1,714.2 1343.1,713.5 1346.1,714.3 1349.1,714.1 1352.1,713.9 1355.1,715.8 1358.1,716.0 1361.1,715.2 1364.1,715.2 1367.1,716.6 1370.1,716.7 1373.1,715.5 1376.1,716.2 1379.1,716.7 1382.1,716.7 1385.1,716.6 1388.1,716.4 1391.1,716.6 1394.1,716.7 1397.1,716.7 1400.1,716.4 1403.1,715.3 1406.1,716.7 1409.1,716.4 1412.1,716.5 1415.1,714.7 1418.1,716.7 1421.1,716.4 1424.1,716.4 1427.1,713.9 1430.1,713.7 1433.1,713.9 1436.1,714.8 1439.1,712.8 1442.1,712.6 1445.1,712.3 1448.1,710.7 1451.1,711.2 1454.1,712.6 1457.1,712.1 1460.1,710.7 1463.1,711.5 1466.1,712.0 1469.1,712.9 1472.1,713.1 1475.1,712.5 1478.1,713.5 1481.1,713.8 1484.1,714.4 1487.1,713.6 1490.1,713.7 1493.1,712.6 1496.1,714.0 1499.1,711.4 1502.1,711.8 1505.1,711.5 1508.1,712.0 1511.1,711.5 1514.1,712.8 1517.1,711.8 1520.1,710.5 1523.1,711.5 1526.1,710.3 1529.1,710.9 1532.1,713.3 1535.1,713.2 1538.1,713.2 1541.1,713.7 1544.1,713.3 1547.1,716.7 1550.1,714.2 1553.1,714.7 1556.1,714.5 1559.1,715.4 1562.1,714.3 1565.1,714.2 1568.1,715.0 1571.1,715.7 1574.1,716.0 1577.1,714.9 1580.1,714.8 1583.1,714.9 1586.1,713.5 1589.1,714.0 1592.1,715.1 1595.1,713.7 1598.1,712.4 1601.1,714.1 1604.1,713.2 1607.1,712.7 1610.1,713.4 1613.1,712.5 1616.1,714.0 1619.1,713.7 1622.1,713.6 1625.1,714.2 1628.1,713.4 1631.1,711.5 1634.1,711.5 1637.1,712.9 1640.1,712.8 1643.1,714.5 1646.1,714.2 1649.1,713.5 1652.1,714.8 1655.1,715.1 1658.1,715.8 1661.1,716.4 1664.1,715.4 1667.1,715.8 1670.1,715.8 1673.1,716.6 1676.1,716.4 1679.1,716.6 1682.1,716.3 1685.1,716.2 1688.1,716.6 1691.1,715.4 1694.1,715.5 1697.1,716.1 1700.1,715.8 1703.1,715.7 1706.1,716.7 1709.1,715.7 1712.1,716.6 1715.1,715.2 1718.1,716.3 1721.1,714.1 1724.1,713.8 1727.1,715.3 1730.1,714.6 1733.1,715.6 1736.1,714.2 1739.1,715.0 1742.1,713.8 1745.1,716.0 1748.1,715.6 1751.1,716.6 1754.1,716.4 1757.1,715.8 1760.1,716.4 1763.1,716.1 1766.1,716.6 1769.1,716.7 1772.1,716.3 1775.1,716.4 1778.1,716.6 1781.1,716.0 1784.1,716.6 1787.1,716.6 1790.1,716.0 1793.1,716.7 1796.1,716.7 1799.1,716.6 1802.1,716.7 1805.1,716.5 1808.1,716.5 1811.1,716.7 1814.1,716.7 1817.1,716.7 1820.1,716.1 1823.1,716.6 1826.1,716.5 1829.1,715.4 1832.1,715.4 1835.1,714.2 1838.1,716.0 1841.1,714.4 1844.1,714.9 1847.1,715.3 1850.1,713.7 1853.1,712.9 1856.1,713.3 1859.1,714.0 1862.1,715.0 1865.1,713.2 1868.1,713.5 1871.1,712.8 1874.1,712.6 1877.1,713.3 1880.1,710.8 1883.1,711.7 1886.1,710.9 1889.1,712.6 1892.1,711.7 1895.1,712.7 1898.1,710.8 1901.1,712.8 1904.1,712.4 1907.1,713.5 1910.1,713.8 1913.1,713.7 1916.1,713.3 1919.1,712.3 1922.1,712.1 1925.1,713.6 1928.1,714.1 1931.1,712.8 1934.1,712.7 1937.1,712.8 1940.1,713.7 1943.1,714.2 1946.1,714.4 1949.1,713.7 1952.1,716.5 1955.1,715.1 1958.1,715.1 1961.1,715.4 1964.1,715.5 1967.1,716.7 1970.1,715.5 1973.1,716.7 1976.1,715.0 1979.1,714.3 1982.1,714.0 1985.1,713.7 1988.1,716.0 1991.1,714.0 1994.1,715.0 1997.1,715.0 2000.1,714.7 2003.1,715.6 2006.1,715.0 2009.1,716.4 2012.1,716.6 2015.1,715.1 2018.1,714.7 2021.1,715.4 2024.1,715.2 2027.1,716.7 2030.1,716.7 2033.1,715.7 2036.1,715.8 2039.1,716.6 2042.1,716.7 2045.1,716.4 2048.1,716.4 2051.1,716.4 2054.1,716.3 2057.1,716.3 2060.1,716.0 2063.1,716.2 2066.1,716.4 2069.1,716.5 2072.1,716.5 2075.1,716.3 2078.1,716.5 2081.1,716.7 2084.1,715.4 2087.1,715.5 2090.1,716.2 2093.1,715.0 2096.1,715.0 2099.1,715.2 2102.1,715.6 2105.1,715.1 2108.1,715.3 2111.1,715.3 2114.1,716.7 2117.1,715.3 2120.1,715.0 2123.1,715.6 2126.1,715.8 2129.1,715.9 2132.1,716.0 2135.1,716.7 2138.1,716.6 2141.1,716.7 2144.1,716.5 2147.1,715.0 2150.1,716.5 2153.1,716.4 2156.1,716.5 2159.1,716.0 2162.1,716.4 2165.1,714.2 2168.1,715.4 2171.1,714.6 2174.1,716.7 2177.1,715.3 2180.1,716.3 2183.1,716.5 2186.1,716.7 2189.1,716.5 2192.1,716.6 2195.1,716.6 2198.1,716.5 2201.1,716.3 2204.1,716.4 2207.1,715.0 2210.1,716.3 2213.1,713.8 2216.1,714.9 2219.1,715.2 2222.1,715.2 2225.1,714.9 2228.1,714.2 2231.1,713.9 2234.1,716.6 2237.1,716.2 2240.1,716.4 2243.1,716.6 2246.1,716.4 2249.1,716.5 2252.1,716.3 2255.1,716.5 2258.1,716.5 2261.1,716.5 2264.1,716.6 2267.1,715.5 2270.1,716.3 2273.1,716.7 2276.1,715.8 2279.1,716.2 2282.1,716.5 2285.1,716.3 2288.1,716.4 2291.1,716.1 2294.1,715.8 2297.1,715.1 2300.1,714.7 2303.1,715.3 2306.1,716.4 2309.1,714.8 2312.1,714.5 2315.1,715.2 2318.1,715.1 2321.1,715.6 2324.1,716.6 2327.1,714.7 2330.1,716.3 2333.1,716.7 2336.1,715.8 2339.1,715.6 2342.1,715.2 2345.1,716.1 2348.1,715.9 2351.1,715.4 2354.1,715.5 2357.1,716.1 2360.1,713.6 2363.1,716.5 2366.1,716.1 2369.1,716.2 2372.1,716.7 2375.1,715.9 2378.1,715.9 2381.1,716.4 2384.1,716.7 2387.1,715.7 2390.1,714.2 2393.1,713.2 2396.1,714.5 2399.1,714.6 2402.1,711.6 2405.1,711.7 2408.1,712.8 2411.1,711.7 2414.1,714.1 2417.1,712.6 2420.1,714.5 2423.1,716.7 2426.1,716.6 2429.1,715.6 2432.1,715.6 2435.1,715.4 2438.1,713.1 2441.1,713.2 2444.1,713.2 2447.1,714.7 2450.1,715.1 2453.1,713.2 2456.1,715.6 2459.1,716.2 2462.1,716.2 2465.1,716.3 2468.1,714.1 2471.1,716.7 2474.1,715.7 2477.1,714.4 2480.1,714.9 2483.1,715.3 2486.1,716.7 2489.1,716.7 2492.1,715.4 2495.1,716.1 2498.1,715.8 2501.1,716.2 2504.1,714.5 2507.1,716.5 2510.1,715.1 2513.1,713.8 2516.1,713.7 2519.1,714.3 2522.1,714.0 2525.1,713.5 2528.1,713.2 2531.1,714.1 2534.1,713.2 2537.1,712.5 2540.1,715.3 2543.1,715.6 2546.1,716.0 2549.1,716.4 2552.1,716.7 2555.1,715.8 2558.1,713.7 2561.1,713.4 2564.1,714.0 2567.1,713.4 2570.1,714.8 2573.1,714.1 2576.1,714.3 2579.1,715.1 2582.1,715.6 2585.1,716.3 2588.1,716.0 2591.1,716.1 2594.1,716.7 2597.1,716.6 2600.1,716.7 2603.1,716.7 2606.1,716.6 2609.1,716.7 2612.1,716.5 2615.1,716.5 2618.1,716.4 2621.1,715.9 2624.1,713.0 2627.1,715.7 2630.1,716.0 2633.1,714.8 2636.1,714.4 2639.1,714.1 2642.1,713.6 2645.1,715.7 2648.1,714.4 2651.1,715.2 2654.1,714.7 2657.1,715.4 2660.1,715.6 2663.1,716.5 2666.1,716.7 2669.1,716.5 2672.1,716.6 2675.1,715.3 2678.1,715.5 2681.1,715.5 2684.1,714.6 2687.1,713.6 2690.1,713.3 2693.1,714.9 2696.1,714.2 2699.1,714.3 2702.1,714.7 2705.1,715.5 2708.1,715.2 2711.1,715.4 2714.1,714.4 2717.1,715.2 2720.1,715.1 2723.1,715.1 2726.1,716.1 2729.1,715.3 2732.1,716.6 2735.1,715.6 2738.1,715.4 2741.1,715.1 2744.1,715.5 2747.1,715.8 2750.1,716.2 2753.1,716.7 2756.1,716.7 2759.1,715.6 2762.1,715.5 2765.1,714.7 2768.1,716.6 2771.1,716.6 2774.1,716.5 2777.1,715.8 2780.1,716.5 2783.1,716.7 2786.1,715.9 2789.1,716.0 2792.1,715.5 2795.1,715.7 2798.1,715.7 2801.1,716.7" stroke="#bcbd22"/>
<polyline points="518.1,716.8 2803.0,716.8" stroke="#17becf"/>
</g>
<g class="t"><line x1="518.1" y1="1441.7" x2="518.1" y2="1450.5"/><line x1="880.7" y1="1441.7" x2="880.7" y2="1450.5"/><line x1="1244.3" y1="1441.7" x2="1244.3" y2="1450.5"/><line x1="1606.8" y1="1441.7" x2="1606.8" y2="1450.5"/><line x1="1969.4" y1="1441.7" x2="1969.4" y2="1450.5"/><line x1="2332.0" y1="1441.7" x2="2332.0" y2="1450.5"/><line x1="2695.6" y1="1441.7" x2="2695.6" y2="1450.5"/><line x1="396.2" y1="212.6" x2="405.0" y2="212.6"/><line x1="396.2" y1="464.6" x2="405.0" y2="464.6"/><line x1="396.2" y1="716.8" x2="405.0" y2="716.8"/><line x1="396.2" y1="968.9" x2="405.0" y2="968.9"/><line x1="396.2" y1="1221.0" x2="405.0" y2="1221.0"/></g>
<rect x="405.0" y="194.0" width="2511.3" height="1247.7" fill="none" stroke="#000" stroke-width="2"/>
<text class="tk" x="517.3" y="1477.4" text-anchor="middle">2019</text><text class="tk" x="879.9" y="1477.4" text-anchor="middle">2020</text><text class="tk" x="1243.5" y="1477.4" text-anchor="middle">2021</text><text class="tk" x="1606.0" y="1477.4" text-anchor="middle">2022</text><text class="tk" x="1968.6" y="1477.4" text-anchor="middle">2023</text><text class="tk" x="2331.2" y="1477.4" text-anchor="middle">2024</text><text class="tk" x="2694.8" y="1477.4" text-anchor="middle">2025</text><text class="tk" x="387.0" y="221.7" text-anchor="end">2</text><text class="tk" x="382.5" y="473.8" text-anchor="end">1</text><text class="tk" x="387.0" y="725.9" text-anchor="end">0</text><text class="tk" x="382.5" y="978.0" text-anchor="end">−1</text><text class="tk" x="387.0" y="1230.0" text-anchor="end">−2</text>
<text y="180" font-size="30" id="title"><tspan x="1234.7">每日</tspan><tspan x="1295.7" font-size="28" textLength="72" lengthAdjust="spacingAndGlyphs">BARRA</tspan><tspan x="1369.7">投资组合</tspan><tspan x="1490.7" textLength="27" lengthAdjust="spacingAndGlyphs">vs</tspan><tspan x="1519.7">对标指数风险暴露</tspan><tspan x="1762">, </tspan><tspan x="1789.7">数值表示：区间平均值</tspan></text>
</svg></body></html>
